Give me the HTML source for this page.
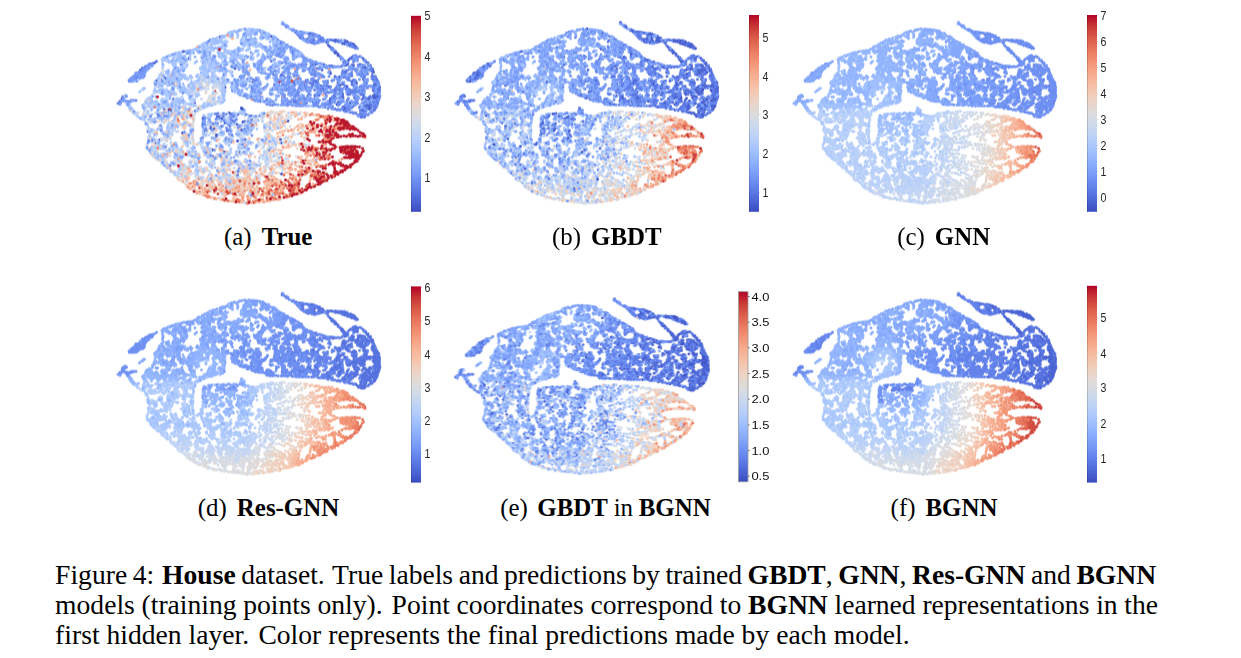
<!DOCTYPE html>
<html><head><meta charset="utf-8"><title>Figure 4</title>
<style>
html,body{margin:0;padding:0;background:#fff;}
body{width:1241px;height:658px;position:relative;overflow:hidden;font-family:"Liberation Serif",serif;color:#000;}
svg{position:absolute;left:0;top:0;}
.tk{font-family:"Liberation Sans",sans-serif;font-size:13.6px;fill:#262626;}
.tk2{font-family:"Liberation Sans",sans-serif;font-size:11.8px;fill:#111;}
.sc{position:absolute;white-space:nowrap;font-size:24.9px;line-height:30px;}
.sc b{font-weight:bold;}
.sc i{display:inline-block;width:3.8px;}
.cap u{display:inline-block;width:2.3px;text-decoration:none;}
.cap{position:absolute;left:55.1px;white-space:nowrap;font-size:27.6px;line-height:30px;}
</style></head><body>
<svg width="1241" height="658" viewBox="0 0 1241 658">
<g fill="none" stroke-linecap="round" style="filter:blur(0.4px)">
<g transform="translate(100.00 10.00) scale(0.50000)" stroke-width="5.9">
<path stroke="#c73635" d="M411 145h0m-181 18h0m-75 56h0m326 4h0m17 13h0m-29-3h0m-54 4h0m45 18h0m24 19h0m-81 5h0m54 19h0m2-9h0m-94 18h0m0-6h0m76 12h0m28 20h0m-31-2h0m-16 1h0m26 8h0m-44 18h0m-21-2h0m-1-7h0m-130 7h0m4 11h0m69-5h0m7 5h0m22 1h0m27-2h0m25-3h0m-62 11h0m-10 2h0"/>
<path stroke="#cedaeb" d="M224 61h0m-7 6h0m135 8h0m-127 19h0m294 25h0m-314 3h0m25 8h0m100-10h0m188 2h0m-53 16h0m-178 2h0m-50 2h0m-25-4h0m-3-2h0m-4 7h0m-3-3h0m-9 9h0m1-4h0m2 6h0m1-4h0m17 4h0m6-6h0m5 10h0m1-10h0m2 4h0m4 6h0m298 3h0m-314 0h0m-4 5h0m-16-7h0m-3 7h0m-4 0h0m-3-7h0m-64 11h0m-40-6h0m55 17h0m81-2h0m2-4h0m10 2h0m12 1h0m208-4h0m-222 13h0m-3 0h0m-13 5h0m-43 1h0m-58-3h0m-21 0h0m31 6h0m8 8h0m2-5h0m13 3h0m2-2h0m18-4h0m3 0h0m27 6h0m132 12h0m-5-2h0m-6 3h0m-131-3h0m-16 4h0m-6-4h0m-21-1h0m-47-3h0m-6 1h0m3 18h0m28-5h0m9 7h0m17 0h0m6 0h0m1-7h0m7 8h0m165-8h0m45 13h0m-81 0h0m-5 2h0m-5-4h0m-44 7h0m-3-1h0m-45-3h0m-16 0h0m-26 1h0m-20 0h0m-29 4h0m10 7h0m26 6h0m7-1h0m90-3h0m30-1h0m24 0h0m8 4h0m11-2h0m1-4h0m78 18h0m-12-4h0m-140-3h0m-23 8h0m-34-8h0m-2 3h0m-29-3h0m-43-1h0m48 15h0m4 5h0m47-5h0m22 0h0m21-2h0m39 1h0m10 3h0m29 1h0m11-1h0m10 2h0m14-1h0m2-7h0m23 1h0m-24 20h0m-18-6h0m-34 5h0m-24-3h0m-68 5h0m-23-3h0m-4 1h0m-19-9h0m-3 9h0m-3-4h0m-4-1h0m-20 1h0m-9-3h0m-22 5h0m5 6h0m21 5h0m28 0h0m1-4h0m40-2h0m52 7h0m30-7h0m51 8h0m11-7h0m15 0h0m29 15h0m-31 0h0m-18-3h0m-57 2h0m-10 5h0m-15-3h0m-8-4h0m-20 8h0m-29-3h0m-3-3h0m-25 6h0m-11-3h0m-25-2h0m-3 1h0m-3 3h0m5 6h0m9 5h0m32-4h0m1 3h0m25-2h0m5 2h0m8 4h0m4-1h0m3 2h0m49-7h0m14-2h0m10 0h0m18 8h0m19-3h0m2-2h0m-8 13h0m-20-3h0m-33 2h0m-13 2h0m-23 2h0m-12 2h0m-14-11h0m-14 3h0m-48-1h0m83 13h0m10 2h0m5 4h0m21-1h0m23-8h0m17 10h0m14-7h0m23 2h0m-56 7h0m-38 6h0m-7-6h0m-15 3h0m53 16h0m20-3h0"/>
<path stroke="#f5a081" d="M195 74h0m99 32h0m164 13h0m-26 0h0m-284 29h0m264 62h0m-55-1h0m-112 1h0m-115-6h0m314 24h0m-5 3h0m-62 11h0m33 2h0m15-1h0m21 7h0m3-10h0m9 18h0m-166 13h0m216 14h0m-58-4h0m-12 4h0m-14-2h0m-63 4h0m-14-5h0m-57 5h0m-37-3h0m-142 11h0m300-7h0m42 7h0m0-5h0m-70 19h0m-23-3h0m-4 1h0m-217 9h0m38 1h0m152 6h0m48-6h0m14 2h0m30 0h0m21 12h0m-129-5h0m-66 2h0m-84 0h0m108 18h0m5-7h0m36 0h0m3 7h0m21-2h0m17 2h0m8-4h0m51 15h0m-16 1h0m-4 1h0m-33-9h0m-4 1h0m-15 2h0m-2 6h0m-4-7h0m-6 4h0m-22-5h0m-3 4h0m-76 4h0m-9 0h0m-8-2h0m-3 13h0m7-9h0m46-1h0m20 10h0m22-5h0m20 6h0m6-5h0m8-4h0m8 0h0m2 3h0m15 0h0m7 3h0m-11 11h0m-136-4h0m-5 0h0m112 9h0"/>
<path stroke="#5572df" d="M373 34h0m24 13h0m-6-2h0m29 9h0m89 17h0m-12-1h0m-1-4h0m-23-5h0m-20 4h0m-12-4h0m-15 3h0m74 8h0m7 2h0m3 0h0m-34 14h0m-3-2h0m-360 17h0m264 4h0m112-5h0m12-5h0m8 4h0m23 3h0m9 7h0m-8 5h0m-6 0h0m-23-6h0m-14 1h0m-7 2h0m-19-1h0m-29 5h0m-84-4h0m-266 3h0m-4 4h0m3 2h0m265 9h0m137-10h0m17 8h0m11-8h0m10 3h0m21 6h0m9 11h0m-1-3h0m-45 2h0m-2 1h0m-9-5h0m-64 6h0m-4 0h0m-40-9h0m-302 1h0m-7 2h0m-6 6h0m275 7h0m19 3h0m41-1h0m11-5h0m6 0h0m0 4h0m7 5h0m0-6h0m20 3h0m2-6h0m2 9h0m4-1h0m16-4h0m13 2h0m14-3h0m9-2h0m24 8h0m14-8h0m1 4h0m7 6h0m0 4h0m-4-2h0m-7 4h0m-2-3h0m-20-3h0m-14 1h0m-3 6h0m-5 1h0m-32-3h0m-3-2h0m-22 1h0m-18-1h0m-54-2h0m-328 15h0m421-2h0m3 2h0m38 3h0m15 3h0m3-3h0m4 2h0m7-3h0m3-2h0m6-2h0m4 1h0m3 1h0m3 2h0m-6 15h0m-4-5h0m-13 4h0m-10-2h0m-24-2h0m-41-3h0m-5 7h0m-64-7h0m-3-2h0m-12 8h0m-42-7h0m-267 0h0m92 16h0m298 0h0m14 1h0m18-1h0m2-3h0m2 9h0m8-9h0m5 0h0m14 1h0m8 8h0m5-2h0m16 0h0m4-6h0m-22 13h0m-9-1h0m-5 3h0m-5-4h0m-6-1h0m-229 4h0m-11 6h0m-4-7h0m-14 5h0m-12 0h0m-2-5h0m-96 5h0m-3 0h0m-17-3h0m-2-3h0m91 11h0m0 9h0m3-7h0m25-4h0m11 2h0m45 20h0m-30-6h0m-39 5h0m-125 6h0m161-2h0m-24 13h0m105 26h0m-112 13h0m-4 45h0"/>
<path stroke="#ead5c9" d="M220 71h0m24 72h0m-25-2h0m-66 3h0m59 22h0m10 15h0m-41 15h0m161 7h0m72 3h0m-4 8h0m-6-1h0m-3-8h0m-41-1h0m-10 4h0m-8 7h0m-5-1h0m-187-4h0m-24-1h0m-30 2h0m-10-2h0m25 12h0m6 2h0m36 0h0m16-3h0m169 5h0m11 1h0m7-10h0m2 10h0m3-3h0m36 7h0m-7 5h0m-17 4h0m-13-2h0m-8-3h0m-51-3h0m-82-1h0m-53 6h0m-39 9h0m213-5h0m37 13h0m-59 4h0m-55-3h0m-87 8h0m-2-6h0m-32-4h0m-40 7h0m7 9h0m3 1h0m74-5h0m1 3h0m107 0h0m77 0h0m11 6h0m54 8h0m-42-4h0m-51 2h0m-121-2h0m-79 5h0m-31 7h0m18 9h0m37-6h0m9-4h0m33 2h0m41 9h0m21-8h0m50-1h0m31 1h0m38 19h0m-12-1h0m-37-6h0m-30 4h0m-61-2h0m-7 2h0m-91-2h0m-21-3h0m10 12h0m18 1h0m5-1h0m49 1h0m40 4h0m3 1h0m33-4h0m7-1h0m13 3h0m65-4h0m78 10h0m-114 4h0m0 4h0m-18-4h0m-1 7h0m-47-3h0m-20-6h0m-50 8h0m-5 0h0m-30-9h0m-13 8h0m50 13h0m2-6h0m21 2h0m9-5h0m24-1h0m14 7h0m6-5h0m30 4h0m75 3h0m-99 13h0m-13-9h0m-6 7h0m-43-8h0m-19 5h0m-33-4h0m30 18h0m38-5h0m10-1h0m7 1h0m31 2h0m10 7h0m80-5h0m-16 10h0m-64-2h0m-3 9h0m-36-1h0m-10-9h0m-8 4h0m46 8h0"/>
<path stroke="#3f53c6" d="M420 47h0m-180 7h0m63 4h0m40-5h0m58 3h0m15 2h0m26-2h0m65 13h0m-3-1h0m-10-5h0m-9 4h0m-55 0h0m-2-7h0m-218 22h0m115-7h0m57 0h0m83 2h0m4 6h0m35 12h0m-28-4h0m-6-5h0m-85 0h0m-28 5h0m-205 10h0m26-4h0m165 5h0m144 2h0m49 2h0m-6 9h0m-19 4h0m-4-8h0m-14-1h0m-46-1h0m-22 1h0m-155 7h0m-191 11h0m276-6h0m8 8h0m98-3h0m31-3h0m55 1h0m0 8h0m-1 6h0m-17-7h0m-50 2h0m-100 0h0m-12 6h0m-132-3h0m-104 0h0m-7 3h0m-11 2h0m24 3h0m8 2h0m105 8h0m54-1h0m2-9h0m129-1h0m51 4h0m26-4h0m43 23h0m-227-10h0m-203 5h0m-81 16h0m364 0h0m53 0h0m24-10h0m11 1h0m26 0h0m13 9h0m12-3h0m3-6h0m1 8h0m5-6h0m-27 20h0m-17-6h0m-12 3h0m-24-3h0m-2 4h0m-42-5h0m-243 2h0m-149-3h0m97 17h0m7-8h0m54 5h0m85 2h0m0-3h0m3 3h0m165-5h0m74 6h0m16-4h0m-19 18h0m-220-2h0m-34 1h0m-10-7h0m-19 7h0m3 3h0m22 5h0m4 4h0m18-1h0m90-2h0m-133 11h0m-15 5h0m-6-5h0m-100 7h0m43 6h0m44-3h0m24 7h0m128 9h0m-86 3h0m-156-2h0m-14 1h0m6 4h0m20 9h0m149 11h0m-32-1h0m-22-4h0m137 48h0m-88 2h0"/>
<path stroke="#93b5fe" d="M364 28h0m-43 16h0m-11-1h0m-7-4h0m-1 4h0m-2 4h0m-18-7h0m-3 0h0m-7 4h0m-46 14h0m5 0h0m60-8h0m1 4h0m29 1h0m2-7h0m1 4h0m3-4h0m4 7h0m3-1h0m3-1h0m10 0h0m28 17h0m-10-1h0m-4 2h0m-2-9h0m-1 5h0m-2 2h0m-3-6h0m0 7h0m-3-1h0m-10-5h0m-18 5h0m-5 1h0m-7 0h0m-1-2h0m-12-4h0m-5-1h0m-2 5h0m-3-8h0m-40 7h0m-3-3h0m-13-3h0m-1 7h0m-4-2h0m-12 4h0m-9-1h0m-34 14h0m4-1h0m3 0h0m30-9h0m15 4h0m5 1h0m3-2h0m4 1h0m3-2h0m11 2h0m1 4h0m13 2h0m17-5h0m36 4h0m9-10h0m6 9h0m2-3h0m7-5h0m10 9h0m3-2h0m1-3h0m0 5h0m3-3h0m9 0h0m0-3h0m2-2h0m4 0h0m15 7h0m3 0h0m10 12h0m-4-1h0m0-4h0m-6 4h0m-33-7h0m-16 0h0m-2 7h0m-2-3h0m-2-3h0m-8 6h0m-1-3h0m-2 5h0m-7-5h0m-14 6h0m-14-1h0m-13-8h0m-2 5h0m-11-1h0m0-4h0m-3 1h0m-4-1h0m-9 8h0m-8-10h0m-19 0h0m-1 9h0m-1-2h0m-5 0h0m-6-4h0m-5-2h0m-12 9h0m-26-10h0m-6 1h0m-9 5h0m-6 0h0m-14 10h0m9 2h0m10-1h0m4-4h0m8-1h0m3 1h0m5 2h0m3 7h0m22-3h0m16 4h0m4-9h0m2 3h0m8 4h0m5-9h0m1 4h0m2 2h0m19 4h0m4-1h0m9-5h0m8-4h0m2 5h0m45 1h0m1 5h0m7-11h0m14 2h0m6 4h0m14 5h0m26-11h0m52 11h0m-58 1h0m-5 1h0m-3 0h0m-14 9h0m-1-9h0m-9 9h0m-8 1h0m-1-3h0m-17-3h0m-7-5h0m-5 6h0m-18 5h0m0-9h0m-5-2h0m-7 1h0m-5 4h0m-10 2h0m-16-4h0m-2 8h0m-3-3h0m-11 0h0m-8 3h0m-24-3h0m-32 2h0m-5-7h0m-8 5h0m-4-2h0m-7-6h0m-45 4h0m-3 1h0m-21 15h0m46 1h0m15-8h0m8 5h0m1-3h0m6 2h0m3 0h0m47 1h0m8 5h0m2-3h0m16-8h0m16 2h0m8 2h0m3-2h0m9 2h0m27 4h0m7-2h0m19-2h0m7 3h0m1-3h0m33 0h0m17 0h0m51 3h0m1 4h0m97-11h0m-125 16h0m-7-1h0m-5 8h0m-5-7h0m-1 3h0m-31 2h0m0-7h0m-18 1h0m-19 4h0m-16-2h0m-9-1h0m-35 3h0m-5 2h0m-10-2h0m-14-2h0m-43-5h0m-6 7h0m-5-2h0m-6-3h0m-6 8h0m-1-9h0m-1 10h0m-78-5h0m-4 0h0m-5-2h0m41 8h0m6 9h0m1-9h0m0 5h0m2 3h0m29-8h0m0 11h0m7-3h0m4-7h0m24-1h0m6 11h0m50-9h0m17-2h0m7 11h0m3-6h0m1-4h0m7 8h0m17-8h0m12 6h0m15 2h0m16-1h0m25 1h0m4 0h0m28-4h0m7 2h0m5-3h0m13-2h0m14 2h0m16 5h0m47 10h0m-39-1h0m-49-5h0m-13 6h0m0 3h0m-23-5h0m-4 3h0m-3-1h0m-5 2h0m-30-5h0m-9-4h0m-1 10h0m-2-10h0m-3 6h0m-18-4h0m-2-1h0m-8 3h0m-2 6h0m-4-6h0m-3 3h0m-10-4h0m-95 5h0m-48-4h0m-4 1h0m-4 3h0m-65 11h0m63-1h0m28 3h0m2-7h0m24 9h0m18-7h0m8 0h0m105-1h0m3 0h0m3-2h0m8 10h0m4-9h0m37 1h0m1 4h0m11-3h0m17-4h0m15 8h0m5-4h0m2 3h0m1-5h0m12 8h0m8 1h0m6-10h0m1 10h0m29 12h0m-52 0h0m-4-8h0m-66 1h0m-3 0h0m-15-4h0m-84 3h0m-6 5h0m-61-4h0m-7 0h0m-3 3h0m-3-4h0m-11 2h0m-2 2h0m-9-5h0m-2 4h0m-1-5h0m-17 8h0m-4-5h0m-56 2h0m-6-4h0m-10 4h0m21 9h0m1 3h0m2 2h0m24-6h0m10 9h0m1-10h0m6 7h0m0-4h0m41-1h0m273-3h0m107 4h0m11 3h0m-209 15h0m-20 1h0m-19-10h0m-7 1h0m-8 7h0m-52-4h0m-83 0h0m0-3h0m-10 0h0m-3 0h0m-56 1h0m32 12h0m3 2h0m5 4h0m1-7h0m101 5h0m5-7h0m4 1h0m23 6h0m69 3h0m45 10h0m-16 0h0m-38-1h0m-11-5h0m-79 1h0m-57 3h0m-6 3h0m-1-9h0m-4 9h0m-21 0h0m7 11h0m84-5h0m13-1h0m16 6h0m33 3h0m9-8h0m10-3h0m0 9h0m35 14h0m-41-5h0m-5 4h0m-166 2h0m56 0h0m1 8h0m38-6h0m2 9h0m41-10h0m24 5h0m-126 17h0m-4-1h0m-11-8h0m-30 9h0m-7-9h0m19 14h0m33-1h0m1 6h0m27-7h0m9 5h0m44-5h0m4-1h0m3-1h0m26 7h0m33-6h0m131 11h0m-129 7h0m-21 1h0m-7-5h0m-6 1h0m-20 5h0m-5 2h0m-54-3h0m-34-7h0m-13 4h0m49 15h0m38-5h0m17 4h0m40-6h0m-12 21h0"/>
<path stroke="#4a63d3" d="M410 46h0m-8 4h0m2 5h0m20-5h0m76 19h0m-9-5h0m-2 4h0m0-7h0m-2 4h0m-10-4h0m-6 2h0m0-3h0m-5 1h0m-6-1h0m-3 11h0m-2-7h0m-12-1h0m-276 20h0m293-9h0m11 9h0m41-9h0m8 19h0m-40 0h0m-371 13h0m374-7h0m13 3h0m2-3h0m28-2h0m19 21h0m-25-9h0m-24-1h0m-37 4h0m-28-3h0m13 11h0m45 3h0m55 0h0m2-2h0m-19 18h0m-57-6h0m-161 8h0m-241-1h0m318 6h0m24 8h0m32-2h0m15 1h0m19-8h0m3 7h0m2-2h0m13 3h0m10-9h0m45 5h0m10 5h0m-37 6h0m-3 2h0m-19 4h0m-8-10h0m-14 3h0m-37 0h0m-11 13h0m8-1h0m27 6h0m20-6h0m1 4h0m40-6h0m2 4h0m10 6h0m17 6h0m-4-1h0m-8 6h0m-3-1h0m0-5h0m-61 1h0m-18 2h0m0-3h0m-116 6h0m-24-7h0m-179 18h0m344-7h0m1 6h0m4-2h0m30 3h0m9 2h0m4-10h0m3-1h0m1 2h0m0 4h0m-9 16h0m-322 1h0m-89-2h0m132 13h0m40-3h0m-16 6h0m9 11h0m8 20h0m72 6h0m-60 105h0"/>
<path stroke="#b9d0f9" d="M407 47h0m-81-5h0m-41-3h0m-35 15h0m3-4h0m11 4h0m49 5h0m168 2h0m-168 2h0m-12-1h0m-8 8h0m-5-7h0m-33 0h0m-4-2h0m-53 11h0m6 4h0m17 4h0m6 2h0m20-6h0m2-3h0m19 8h0m18-1h0m10 0h0m0-3h0m12-5h0m29 12h0m-77 0h0m-10 0h0m-41 11h0m-85 4h0m1 7h0m21-7h0m12 5h0m13-1h0m32-1h0m3-5h0m5 8h0m8-1h0m6 0h0m39 0h0m6-1h0m4-7h0m12 0h0m7 1h0m192 4h0m-220 8h0m-31 10h0m-4-1h0m-17-1h0m-40-3h0m-48 3h0m-6 13h0m4-4h0m2 2h0m14 2h0m14-2h0m50 2h0m2-2h0m8 3h0m38 0h0m-17 11h0m-3-2h0m-3-4h0m-11 1h0m-14-3h0m-2 3h0m-2 6h0m-9 0h0m-32-6h0m-9 1h0m-1 3h0m-20 0h0m-2-3h0m-6-2h0m-2 5h0m0-7h0m-7 19h0m65 1h0m4 1h0m4-4h0m5-1h0m2-4h0m26-2h0m0 5h0m12-2h0m2-3h0m2 7h0m3-4h0m5 1h0m20-3h0m256 11h0m-164 4h0m-106-4h0m-7 2h0m-1-2h0m-10 10h0m-47-3h0m-4-3h0m-1-4h0m0 6h0m-11 1h0m-4-4h0m-11 7h0m-8-6h0m-8 6h0m-10-10h0m-6 0h0m-1 8h0m-6-3h0m-2-4h0m-1 10h0m-1-3h0m-23-4h0m8 19h0m38-1h0m18-8h0m3-1h0m7 8h0m4 1h0m1-5h0m14-2h0m4 5h0m4 3h0m55 0h0m5-6h0m3-5h0m37 1h0m-58 12h0m-39 1h0m-3 2h0m-1 6h0m-12-3h0m-28-5h0m-20 9h0m-2-2h0m-1-8h0m-14 6h0m-6 4h0m-2-9h0m-3 4h0m-2 4h0m-4-7h0m-3 6h0m1 13h0m2-6h0m9-1h0m6 0h0m6-3h0m5 6h0m7-4h0m24-2h0m6 1h0m38-1h0m89 10h0m96 4h0m-38 4h0m-84-3h0m-68 4h0m-12-4h0m-3 6h0m-39-4h0m-19-5h0m-18 3h0m-8 5h0m-13-5h0m-3-1h0m-1 3h0m14 10h0m4-3h0m43 2h0m160 7h0m7-9h0m11 7h0m15 0h0m32-3h0m-11 10h0m-8 3h0m-4-1h0m-31-4h0m-35 1h0m-38 1h0m-15 0h0m-53-1h0m-65 6h0m35 9h0m9 3h0m12-4h0m20 7h0m12-7h0m33 7h0m22-4h0m2-6h0m21 1h0m13-1h0m2 7h0m17-2h0m50-4h0m51 7h0m-24 7h0m-42-2h0m-68 5h0m-2-2h0m-4 6h0m-1-6h0m-88-1h0m-34 7h0m-21 0h0m-4-5h0m-7 6h0m-4-6h0m10 17h0m7-10h0m4 11h0m10-7h0m14-3h0m12 10h0m26-11h0m22 3h0m3-1h0m16-2h0m56 8h0m6-7h0m19 3h0m25 6h0m18-10h0m5 0h0m62 6h0m-120 15h0m-20 1h0m-10-1h0m-2-3h0m-42 1h0m-14-7h0m-39 6h0m-34-4h0m-11 0h0m-7 1h0m-7 2h0m1 12h0m3-1h0m3 6h0m10-10h0m29 9h0m8-7h0m3 9h0m13-8h0m19 2h0m5 2h0m16-3h0m3-4h0m2 8h0m25 2h0m36-9h0m84-1h0m-30 19h0m-4 2h0m-14-6h0m-44 4h0m-17-1h0m-28 1h0m-6-1h0m-26-5h0m-4 6h0m-31 1h0m-2-6h0m-25 6h0m-7-5h0m-4 5h0m-4-7h0m29 22h0m9-4h0m10-7h0m13 2h0m14 4h0m13-1h0m12-4h0m4 3h0m20-2h0m37 5h0m13-1h0m38-6h0m7 4h0m-28 17h0m-10-3h0m-83 0h0m-12 5h0m-10-4h0m-17-6h0m-16 8h0m-4-6h0m-2 7h0m-2-10h0m0 5h0m89 10h0m58 12h0m-27 4h0m-12 11h0m36 2h0m-8 18h0"/>
<path stroke="#f29274" d="M256 51h0m-113 81h0m0 35h0m161 12h0m16-8h0m82 15h0m62 27h0m-13 0h0m-13-3h0m-5 0h0m-13 0h0m-49 14h0m78-7h0m5-1h0m1 7h0m13-6h0m4 22h0m-41-3h0m-5-3h0m-60 17h0m17-10h0m18 6h0m54 15h0m-3-3h0m-3-2h0m-77 7h0m-56-4h0m-82 2h0m132 13h0m85-5h0m-34 17h0m-4-10h0m-34 16h0m18 3h0m87 3h0m-47 13h0m-4-6h0m-42 0h0m-106 16h0m57-2h0m39-4h0m18-2h0m31 16h0m-20 0h0m-13-5h0m-231 19h0m57-2h0m2 4h0m42 2h0m47-11h0m15 8h0m4-4h0m20-1h0m27-3h0m8 0h0m-123 23h0m-20-7h0m-7-2h0m-53 4h0m9 12h0m35-1h0m14-2h0m2-3h0m7 8h0m26-6h0m11 0h0m45 7h0m2-3h0m7 5h0m6-5h0m1-6h0m6 5h0m10-1h0m6 6h0m12-5h0m8 1h0m10-5h0m-55 19h0m-13 2h0m-38-3h0m-1-6h0m-20 9h0m35 3h0"/>
<path stroke="#f5c4ac" d="M218 113h0m-64 36h0m-91 53h0m86 1h0m17-7h0m14 4h0m210 13h0m-41 1h0m-169-8h0m-1 3h0m-5 2h0m-52-3h0m53 18h0m173-6h0m4-2h0m18 2h0m104 12h0m-9 3h0m-17-6h0m-27 4h0m-81-5h0m-113 5h0m-57 3h0m-32 3h0m-3 5h0m31 7h0m3 0h0m63-10h0m137 1h0m36 5h0m26-7h0m-22 16h0m-6-3h0m-68 7h0m-36-3h0m-114-3h0m-16 7h0m-46 11h0m164-5h0m90 8h0m14-5h0m56 0h0m-3 11h0m-82 0h0m-5-1h0m-15 4h0m-126 2h0m-1-6h0m-62 4h0m-55-7h0m5 12h0m127 5h0m13 0h0m0 4h0m7-10h0m123 3h0m30 3h0m18 7h0m-8 7h0m-36-5h0m-6 4h0m-3 4h0m-89 0h0m-117-7h0m-7 5h0m-21 3h0m43 11h0m75 0h0m8-3h0m19 3h0m17-2h0m25-4h0m27 2h0m17-3h0m5 2h0m30 2h0m-24 6h0m-5-1h0m-82 4h0m-73 5h0m-10-8h0m-31 1h0m-19 11h0m11-2h0m9 3h0m1 8h0m1-11h0m34 5h0m2 2h0m37-6h0m6 10h0m6-10h0m8 3h0m6 3h0m2 3h0m12-8h0m2 5h0m18 4h0m28-3h0m48-3h0m66-4h0m-60 19h0m-48-8h0m-3 2h0m-8-2h0m-2 7h0m-2-7h0m-46 3h0m-27 1h0m-27-1h0m-1 6h0m-7-4h0m-4-3h0m-29 7h0m-12-5h0m-3 1h0m47 7h0m67 8h0m43-5h0m-5 9h0m-56 10h0m-2-8h0m-5 8h0m-21-2h0m-14-2h0m-3-3h0"/>
<path stroke="#d8dce2" d="M429 55h0m-303 67h0m169 8h0m139-8h0m115 7h0m-435 22h0m80 3h0m4-1h0m6-6h0m7 7h0m5-1h0m12 2h0m2-3h0m6 1h0m5 9h0m-7 4h0m-7-6h0m-178 11h0m56-2h0m85-1h0m31 9h0m6-3h0m4-6h0m2 16h0m-2-3h0m-5 7h0m-7-4h0m-3-4h0m-121 2h0m-2 18h0m54 0h0m50 1h0m4-5h0m186 13h0m-34-4h0m-10 2h0m-9-1h0m-122 7h0m-22-3h0m0-3h0m-3 7h0m-3 0h0m-3 1h0m-11-4h0m-5-4h0m-9 6h0m-16 2h0m-63-10h0m17 20h0m38-2h0m16 1h0m6 3h0m19-5h0m0-3h0m13 7h0m117-9h0m79 0h0m-2 16h0m-19-4h0m-28 8h0m-4 2h0m-60-4h0m-53 3h0m-68-4h0m-12-5h0m-18 5h0m-20 6h0m4 5h0m7 1h0m96 4h0m17-4h0m40 2h0m13-4h0m55 0h0m7 3h0m3 2h0m49 0h0m16-9h0m51 5h0m-44 7h0m-36 6h0m-79 2h0m-3 2h0m-56-4h0m-3-1h0m-28-5h0m-20 8h0m-8 0h0m-17-4h0m-31 4h0m90 8h0m17 4h0m21-4h0m62 1h0m13-2h0m2-3h0m5 5h0m77 0h0m70 10h0m-164-2h0m-80 8h0m-55 1h0m-52-1h0m-9 1h0m-14-1h0m-7-1h0m23 8h0m8-3h0m2 3h0m27-4h0m58 9h0m7-6h0m22 7h0m45-3h0m31-4h0m11 8h0m3-4h0m11 1h0m38-3h0m31 11h0m-53-1h0m-27 8h0m-39-6h0m-78-1h0m-6-4h0m-33 0h0m-7 9h0m-3-4h0m-30 6h0m-26-8h0m42 18h0m6-4h0m26-2h0m5-1h0m27-1h0m12 10h0m3-4h0m9-6h0m20 10h0m4-3h0m27 1h0m6-7h0m17 9h0m20 0h0m7-8h0m-11 14h0m-48 0h0m-25-4h0m-13 9h0m-37 0h0m-28-1h0m-1-6h0m-6 0h0m-2 2h0m-4 0h0m-11 3h0m0-3h0m-4 12h0m29-1h0m17 5h0m17-6h0m20-2h0m5 9h0m17-9h0m7 9h0m8-10h0m19 11h0m0-6h0m-38 8h0m-44 8h0m-34 2h0m35 4h0m11 0h0m52 0h0m29 0h0m4-3h0m-9 15h0m-70 1h0"/>
<path stroke="#dd5f4b" d="M396 138h0m-287 56h0m348 18h0m27 17h0m-68 22h0m5-10h0m48 5h0m-34 31h0m-302 12h0m313-1h0m6 22h0m-41-9h0m22 13h0m16 0h0m20-2h0m7 13h0m-8 2h0m-19 1h0m-19-4h0m-3 9h0m-13-7h0m-226 20h0m110 1h0m40-8h0m38 3h0m2 3h0m15 2h0m4-3h0m3-4h0m51 2h0m-54 12h0m-2-3h0m-7 7h0m-8-2h0m-8-4h0m-7-3h0m-115 16h0m9 0h0m66 4h0m17-9h0m8 9h0m15-2h0m21-6h0m1 3h0m-13 8h0m-75 10h0m-50-1h0"/>
<path stroke="#e1dad6" d="M399 112h0m-184-4h0m46 13h0m277 4h0m-329 14h0m-4-2h0m-3 6h0m1 9h0m3 1h0m8-5h0m33 3h0m42-3h0m251 8h0m-336 3h0m-10-2h0m30 18h0m1-5h0m4 0h0m164 7h0m-178 7h0m-82 17h0m31 2h0m205 0h0m24 2h0m-11 6h0m-36-7h0m-17 9h0m-7 1h0m-32-2h0m-106-8h0m-47 17h0m6 2h0m25 1h0m19-2h0m37 3h0m76-2h0m15-5h0m19 9h0m11-4h0m64 12h0m-51-4h0m-64-3h0m-109 2h0m-3 2h0m-31-2h0m-10-1h0m3 16h0m30 2h0m38-1h0m18-2h0m105-3h0m50 9h0m24 11h0m-49-7h0m-5 7h0m-3-3h0m-18-4h0m-12 5h0m-3 1h0m-64-1h0m-129 1h0m-4-3h0m-28 13h0m48-1h0m25-5h0m2 4h0m41 6h0m127-5h0m9-1h0m37-2h0m60 19h0m-77-6h0m-18 8h0m-11 0h0m-1-10h0m-2 7h0m-58 3h0m-38-10h0m-7 1h0m-71 4h0m-4 2h0m-10-1h0m-31-1h0m-11 4h0m15 11h0m66-8h0m69 2h0m80-1h0m63 14h0m-40-4h0m-12 3h0m-23 5h0m-14-3h0m-16-3h0m-29 1h0m-9-2h0m-41 1h0m-63-1h0m21 20h0m63-4h0m14-3h0m34 9h0m18-1h0m36-9h0m19-1h0m5 3h0m44 18h0m-46-7h0m-11 7h0m-50-8h0m-17 1h0m-7 1h0m-12 7h0m-15-9h0m-10 6h0m-9 4h0m-24-11h0m-9 11h0m-23-10h0m0 5h0m-8 6h0m6 10h0m58 1h0m14-9h0m42 2h0m12-2h0m13 0h0m8 11h0m-110 0h0m-5-1h0m7 13h0m135 7h0m-76 12h0m49 5h0"/>
<path stroke="#ed8366" d="M124 132h0m73 27h0m-20 42h0m247 7h0m-267 14h0m9-5h0m266 3h0m4-1h0m33 2h0m5-5h0m3 7h0m24 10h0m-11 4h0m-4-4h0m-34 1h0m-3 2h0m-16 15h0m28-10h0m17-1h0m52 15h0m-62 1h0m-320 13h0m351 10h0m-69-3h0m-3 4h0m-14 4h0m14 4h0m2 5h0m10 1h0m21 2h0m-57 9h0m-204-1h0m206 17h0m7-5h0m6 6h0m48 9h0m-64-7h0m-16 7h0m-205 16h0m7-4h0m6 2h0m4-7h0m62 9h0m132-8h0m1 5h0m52-7h0m-20 17h0m-136-3h0m-11 2h0m-6 4h0m-95-2h0m22 9h0m12 7h0m7-8h0m88 1h0m46 2h0m1-5h0m6 7h0m38-3h0m-48 11h0m-11 2h0m-24 3h0m-3-6h0m0 7h0m-26-6h0m-5 5h0m-7-2h0m-43-2h0m-13-5h0m-3 1h0m81 14h0"/>
<path stroke="#e67259" d="M236 115h0m210 98h0m-111-2h0m142 22h0m-9 5h0m-55-6h0m4 13h0m33 3h0m46 3h0m-71 21h0m85 8h0m-395-4h0m248 19h0m58-4h0m19 8h0m5-1h0m12-5h0m-53 21h0m10 6h0m23 15h0m-4-4h0m-8-2h0m-24 1h0m-33 0h0m-38 3h0m-40 13h0m55-6h0m39-2h0m44 0h0m22-2h0m-19 14h0m-16 0h0m-26 4h0m-14 3h0m-8 0h0m-10 1h0m-5-7h0m-2-3h0m-159 1h0m75 19h0m9-5h0m26-2h0m16 3h0m61 9h0m-26 5h0m-7-1h0m-24 2h0m-13-7h0m-32 7h0m-20 3h0m-10-3h0m32 5h0"/>
<path stroke="#f7ad90" d="M265 57h0m125 61h0m-102 3h0m-188 58h0m266-5h0m80-4h0m-53 40h0m-27 17h0m37-9h0m36-2h0m41 16h0m-7 3h0m-67-4h0m-11 2h0m-243 0h0m277 12h0m-52 26h0m-133 9h0m-4 0h0m-74 5h0m-8 12h0m140-5h0m104 7h0m33-2h0m43 8h0m0-4h0m-49 8h0m-8 0h0m-4-3h0m-58 4h0m-102 1h0m-35-1h0m-57 0h0m16 12h0m139-2h0m101 5h0m-21 9h0m-57-1h0m-20-6h0m-35-3h0m-50 2h0m3 19h0m27-3h0m23-1h0m9-3h0m6 4h0m10 1h0m27 2h0m5-1h0m41 1h0m31-3h0m-53 11h0m-6 6h0m-27-1h0m-9 0h0m-35-3h0m-12 3h0m-3-6h0m-5 2h0m-89 4h0m29 6h0m1-3h0m42-1h0m20 11h0m11 0h0m10-11h0m16 0h0m5 8h0m48-6h0m-24 20h0m-2-7h0m-11 4h0m-1 4h0m-18-1h0m-8-4h0m-12 3h0m0-8h0m32 11h0"/>
<path stroke="#f0cdbb" d="M390 137h0m-221 62h0m4 4h0m26-10h0m165 10h0m65 8h0m-56 0h0m-8 4h0m-2-7h0m-25-2h0m-179 4h0m-11-3h0m-18 14h0m39-5h0m9 11h0m129-6h0m34-2h0m21-1h0m63 5h0m40-3h0m-63 8h0m-3 8h0m-11 3h0m-37-1h0m-1-8h0m-3 4h0m-165-5h0m-11 1h0m-5 3h0m-7-3h0m27 15h0m200-1h0m49-1h0m-96 13h0m-204 2h0m-35-3h0m5 17h0m3-8h0m57 9h0m28-4h0m165-3h0m28 4h0m14 2h0m74 2h0m-18 12h0m-35 1h0m-69-8h0m-140-2h0m-39 9h0m-38 6h0m100 2h0m66-2h0m9 2h0m30 0h0m76 7h0m-128 3h0m-44 0h0m-60-1h0m-68-3h0m50 18h0m34 2h0m13-1h0m24-2h0m46 0h0m5 4h0m6-9h0m9 3h0m25-1h0m3 7h0m63-9h0m29 3h0m-31 18h0m-51-8h0m-43 3h0m-32 6h0m-13 0h0m-6-2h0m-72 0h0m-15 9h0m43 1h0m2 1h0m9-5h0m7 9h0m14-6h0m2 4h0m17-1h0m29 0h0m11 3h0m3-4h0m60-2h0m2 4h0m-42 11h0m-4 2h0m-16-1h0m-4-4h0m-1 4h0m-6-3h0m-4 3h0m0-9h0m-1 2h0m-11 0h0m-6 4h0m-4-3h0m-4 5h0m-10 1h0m-4-3h0m-14 0h0m-26-2h0m-22 2h0m14 8h0m5 6h0m9-1h0m37 3h0m4-2h0m24-7h0m25-1h0m12 6h0m3 5h0m17-1h0m38 2h0m-24 9h0m-42-6h0m-52 1h0"/>
<path stroke="#6282ea" d="M367 28h0m57 19h0m-8 0h0m-13-3h0m-4 0h0m-7-2h0m-7-1h0m10 8h0m3 3h0m15 7h0m5-9h0m8 7h0m10-5h0m2 6h0m1-6h0m6 4h0m58 15h0m-2-5h0m-18-5h0m-4 3h0m-4-1h0m-12-3h0m-8 0h0m-8 3h0m-3-3h0m-6 2h0m-2 0h0m-3 4h0m-4-4h0m-1 5h0m-4-1h0m-2-3h0m-2 1h0m-1-3h0m-47 9h0m-10-3h0m-145-4h0m141 13h0m26 5h0m79-5h0m0 3h0m43-7h0m5 5h0m0 14h0m-4 1h0m-149-4h0m-154 7h0m-99 12h0m259-1h0m46-9h0m80 7h0m15-6h0m2 6h0m21-3h0m14 15h0m-5-5h0m-12-1h0m-2 5h0m-18 4h0m-14-11h0m-79 1h0m-18 6h0m-26-1h0m-206-5h0m-63-1h0m-8 5h0m-10 12h0m6 5h0m161-1h0m98-1h0m26-8h0m37 1h0m14 8h0m6-1h0m0-4h0m9 6h0m4 1h0m42-2h0m1-4h0m3 1h0m2 3h0m3-8h0m10 4h0m22 2h0m7-3h0m3 4h0m4-8h0m4 0h0m13 23h0m-5-10h0m0 6h0m-2 2h0m-5-4h0m0-4h0m-15 4h0m0 5h0m-3-8h0m-3-1h0m-19-1h0m-8 8h0m-5-5h0m-4-2h0m-1 2h0m-14 0h0m-8 7h0m-20-8h0m-13-2h0m-5 8h0m-14 1h0m-22 2h0m-23-11h0m-29 0h0m-26 10h0m-17-3h0m-15-5h0m-198 0h0m-8 1h0m0-3h0m-10 6h0m-2-1h0m-4 4h0m300 10h0m10-3h0m6 0h0m15-1h0m29 8h0m5-7h0m1 5h0m7-8h0m43 9h0m33-3h0m6 3h0m7 0h0m3-2h0m2 2h0m6-10h0m2 3h0m13 5h0m1 3h0m3-2h0m9 12h0m-5-1h0m-20-8h0m-9 6h0m-9 2h0m-3 0h0m-3-3h0m-3 5h0m-2-5h0m-4 2h0m-1-3h0m-3-2h0m-13 3h0m-4 5h0m-9-9h0m-2 9h0m-10-1h0m-3 0h0m-5 2h0m-4-10h0m-3-1h0m-7 0h0m-14 0h0m-5 11h0m-17-10h0m-5 5h0m-1 5h0m-12-1h0m-27-10h0m-10 1h0m-42 2h0m-157 1h0m0 18h0m173-3h0m45 2h0m24-3h0m1 5h0m9-3h0m12 1h0m5-6h0m18 0h0m13 8h0m6-7h0m11 7h0m4-3h0m9-1h0m0-6h0m4 6h0m1-2h0m15 4h0m3-8h0m53 0h0m2 10h0m4-3h0m-4 12h0m-1-6h0m-8-1h0m-8 1h0m-6 1h0m-17 4h0m-7 4h0m-13-11h0m-14 2h0m-23 5h0m-10 3h0m-17-2h0m-5-4h0m-13 2h0m-3-2h0m-1 4h0m-11 1h0m-4-6h0m-2 3h0m-4-1h0m-6 0h0m-2-2h0m-3 0h0m-32 0h0m-5 7h0m-10-6h0m-268-3h0m-17 0h0m-9 6h0m92 11h0m299-6h0m38 1h0m9 7h0m3-1h0m5 0h0m13-4h0m1 6h0m3-2h0m28-1h0m3-2h0m4 0h0m9-3h0m5 0h0m0 4h0m2 2h0m-6 6h0m-8 5h0m-8 0h0m-3 4h0m-1-5h0m-23-4h0m-173 2h0m-17 6h0m-12-1h0m-35-4h0m-17-1h0m-11 0h0m-1 20h0m68-7h0m-49 19h0m-28-11h0m-21 3h0m7 9h0m42 2h0m-3 18h0m-46-4h0m-108 6h0m166 2h0m-51 21h0m59 17h0m-131 9h0m136 12h0"/>
<path stroke="#86a9fc" d="M365 25h0m5 6h0m31 15h0m-4-2h0m-82-4h0m-1 4h0m-4 2h0m-2 1h0m-3-6h0m-28 1h0m-15 10h0m3-2h0m22 0h0m0 4h0m4 4h0m4-10h0m5 11h0m10-10h0m0 8h0m3-9h0m24 9h0m2-7h0m10 7h0m2-2h0m48-7h0m5 10h0m2-8h0m13 8h0m4-4h0m0 3h0m8 8h0m-23-4h0m-40 5h0m-3-1h0m-11 2h0m-6-2h0m-36 1h0m-4-2h0m-23 2h0m-51-2h0m-20 1h0m-33 16h0m18-6h0m71 7h0m6-3h0m1 3h0m0-6h0m3 6h0m32 0h0m18-5h0m3-2h0m1 8h0m7-7h0m1 7h0m7-4h0m6-7h0m19 4h0m1-3h0m6 6h0m4-3h0m4 2h0m133 16h0m-13 0h0m-105-5h0m-22-5h0m-19 4h0m-2 3h0m-7 1h0m0-7h0m-8 4h0m-17 5h0m-24-6h0m-2 4h0m-1-7h0m-10 7h0m-15-1h0m-8-5h0m-3-1h0m-39 7h0m-7-4h0m-3-4h0m-3 11h0m-27-9h0m-7 0h0m-10 9h0m-19-8h0m-7 15h0m12-4h0m50 8h0m18-5h0m1-4h0m7 10h0m29-4h0m8-5h0m7 8h0m9-6h0m17-2h0m14 7h0m7 0h0m0-6h0m3 4h0m32 1h0m3 0h0m8-4h0m0 5h0m4-5h0m33 4h0m4 1h0m13-4h0m89 0h0m10 11h0m-6 3h0m-1 3h0m-12-5h0m-4 5h0m-11-9h0m-36 2h0m-8-2h0m-15 4h0m0 3h0m-5-3h0m0 4h0m-2 2h0m-2-4h0m-12 1h0m-2-8h0m-1 8h0m-14-3h0m-13 2h0m0-3h0m-3 7h0m-6-2h0m-4-1h0m-10-3h0m-9-3h0m-2 7h0m-32-8h0m-4-1h0m-19 8h0m-11 3h0m0-4h0m-6-2h0m-24 3h0m-7 3h0m-11-4h0m-6-6h0m-3 2h0m-54-3h0m-41 2h0m-23 3h0m-12 4h0m-4 2h0m-17 10h0m5-3h0m9-1h0m10-5h0m41 4h0m11 5h0m2 2h0m11-9h0m4 8h0m53-8h0m23 0h0m47 2h0m7-2h0m5 8h0m19-9h0m8-1h0m2 6h0m16 0h0m26 0h0m20 1h0m3 2h0m2-8h0m25 1h0m16 8h0m5-2h0m73-4h0m16-2h0m2 18h0m-34-8h0m-4 0h0m-10 4h0m-6 6h0m-39-9h0m-39 7h0m-19 3h0m-2-3h0m-9-2h0m-6 1h0m-1-3h0m-28 2h0m-34 5h0m-15-9h0m-20-2h0m-18 2h0m-94 0h0m-68 2h0m39 15h0m6-4h0m9 3h0m1-3h0m19 3h0m19 0h0m25 5h0m69-4h0m10-2h0m1 3h0m2-8h0m3 1h0m12 6h0m9-6h0m6 4h0m1-5h0m5 5h0m14 0h0m17-2h0m1 7h0m0-10h0m2 6h0m0-4h0m1 8h0m2-6h0m6-2h0m3-2h0m4 4h0m2-3h0m6 3h0m3-3h0m12 2h0m10 7h0m1-4h0m2 5h0m105-4h0m46-5h0m-37 18h0m-58 1h0m-9-8h0m-45 1h0m-2 2h0m-19 5h0m-5-2h0m-18-7h0m-6 3h0m-3 2h0m-7-2h0m-8 2h0m-17-4h0m-4 3h0m0 3h0m-7 2h0m-1-9h0m-7 9h0m-3-1h0m-18-1h0m-6 0h0m-2 4h0m-6-11h0m-107 0h0m-26 7h0m-85 8h0m53 2h0m34 0h0m147-1h0m4-4h0m3 1h0m11 6h0m4-1h0m6 1h0m0 3h0m4-5h0m1-5h0m5 6h0m21-6h0m24 1h0m12 3h0m7 5h0m10-4h0m6 6h0m14-4h0m23-7h0m11 7h0m27-4h0m3 8h0m25-8h0m5-3h0m47 1h0m-51 15h0m-6 7h0m-24-10h0m-23 2h0m-2 3h0m-16-2h0m-8-1h0m-22-1h0m-6 0h0m-11 8h0m-18-6h0m-3 1h0m-2-2h0m-5 7h0m-6 0h0m-4-10h0m-11 0h0m-3 8h0m-172-5h0m-97-2h0m-10 10h0m-2-3h0m-14-5h0m21 15h0m24-1h0m28 4h0m39 1h0m3-9h0m20 5h0m111 3h0m123-9h0m29 2h0m76 19h0m-20-9h0m-178 8h0m-144 2h0m-53-1h0m-7 2h0m-24-1h0m-10 3h0m25 6h0m5 1h0m15-7h0m128 7h0m1 3h0m6-4h0m55-2h0m13 14h0m-83-3h0m-38 7h0m-2-4h0m-27-4h0m-70 19h0m4-2h0m11-5h0m3 5h0m8 2h0m46-9h0m92 7h0m6 2h0m20-10h0m4 0h0m37 23h0m-8-5h0m-46 2h0m-3-2h0m-18 3h0m-36-3h0m-5-2h0m-22 6h0m-67-9h0m-18 14h0m10 6h0m17 0h0m8-4h0m1 3h0m62-2h0m18 2h0m8 3h0m60-10h0m-72 16h0m-21 2h0m-19-7h0m-11 8h0m-62 8h0m9 2h0m4-5h0m22 0h0m10 5h0m4 0h0m97 2h0m12-6h0m-28 18h0m-117 3h0m57 2h0m114 4h0m-68 14h0"/>
<path stroke="#c4d5f3" d="M288 57h0m-73 25h0m3-4h0m131 9h0m-47 2h0m-50-1h0m-12 7h0m-23 0h0m-64-2h0m-3 1h0m0 4h0m22-1h0m159 19h0m-157-8h0m-5 2h0m-17 21h0m3 0h0m68-7h0m3-2h0m127-2h0m-50 20h0m-51 3h0m-5-6h0m-26-2h0m-1 3h0m-7 5h0m-4-1h0m-9-10h0m-18 6h0m-7-3h0m-14 1h0m-39-3h0m-2 9h0m15 5h0m45 0h0m3 7h0m3-9h0m5 8h0m9-3h0m12-4h0m15 7h0m5-6h0m6 4h0m4 3h0m1-3h0m26-3h0m37 1h0m-60 17h0m-2-9h0m0 3h0m-34-3h0m-4 0h0m-5 2h0m-4 5h0m-10 3h0m-2-4h0m-2 4h0m-3-6h0m-12-4h0m-20 6h0m-7-1h0m-9 4h0m4 8h0m15 5h0m30-10h0m22 9h0m36-5h0m9 2h0m35-4h0m192 2h0m46 16h0m-275-6h0m-6 4h0m-7 0h0m-11-1h0m-1 3h0m-8-3h0m-30-3h0m-11 7h0m-3-3h0m-15 0h0m-25 2h0m-24-1h0m-40 13h0m67-9h0m23 6h0m15 5h0m31-4h0m177 15h0m-18-1h0m-73-4h0m-45-1h0m-65 4h0m-24-8h0m-42 2h0m-11 3h0m-8 0h0m-26-3h0m34 18h0m3-7h0m0 8h0m38 1h0m9-4h0m38-3h0m29 2h0m37-4h0m2 4h0m54-4h0m3 4h0m42 2h0m19-5h0m-21 11h0m-44 0h0m-10 8h0m-1-8h0m-122 1h0m-37 3h0m-4 3h0m-29 3h0m4 3h0m2 9h0m31-11h0m3 3h0m2-3h0m8 3h0m13-1h0m14 6h0m2 2h0m40-5h0m16 5h0m42 0h0m51-2h0m14 8h0m-5-3h0m-57 2h0m-3-1h0m-4 0h0m-67-2h0m-27 6h0m-19 1h0m-26-1h0m-9-2h0m-3-2h0m-5 6h0m-8 0h0m0 11h0m18 0h0m39-1h0m9-3h0m17-1h0m5 6h0m49-4h0m30 6h0m24-8h0m9 3h0m3-4h0m27 9h0m22-9h0m-18 12h0m-44 10h0m-19 0h0m-3-2h0m-3-7h0m-23 7h0m-4 2h0m-31-2h0m-16-5h0m-25-4h0m-5 5h0m-18 6h0m-1-10h0m-8 1h0m-17 8h0m-25-9h0m57 11h0m23 6h0m73-5h0m1 10h0m15-6h0m50 5h0m2-10h0m4 0h0m39 9h0m5 0h0m-26 5h0m-18-2h0m-1 3h0m-26 6h0m-26-3h0m-17 4h0m-4-8h0m-33 0h0m-5 4h0m-29-2h0m-11-2h0m-20 7h0m-8 0h0m-4-6h0m11 19h0m3-9h0m6 9h0m3-9h0m7-1h0m80 4h0m49 7h0m6-10h0m52 8h0m-49 11h0m-38 3h0m-27-4h0m-2 3h0m-6-1h0m-22-5h0m-29 2h0m-1-6h0m-17 18h0m43-4h0m25 4h0m12-5h0m5 2h0m8 13h0m-6 4h0m-2-1h0m-15 12h0"/>
<path stroke="#d24b40" d="M384 142h0m-244 55h0m302 16h0m9 9h0m-146 9h0m108 16h0m25 4h0m30 1h0m-26 12h0m19 0h0m34 16h0m-8 6h0m-29-7h0m-11-2h0m-12 45h0m10-10h0m41 1h0m-43 14h0m-62 2h0m-115-4h0m14 17h0m38 4h0m45-1h0m78-4h0m-28 12h0m-24-3h0m-19-1h0m-10 4h0m-7 5h0m-8-6h0m-25 6h0m-87 1h0m-1-3h0m-33 0h0m15 9h0m22 3h0m18-5h0m84 1h0m0 4h0m43 1h0m1-7h0m-9 12h0m-67 11h0"/>
<path stroke="#f7b99e" d="M300 120h0m140 16h0m-31 70h0m-21-1h0m-5 0h0m-217 5h0m-13 4h0m-9-4h0m42 7h0m211 2h0m61 15h0m-28-2h0m-12-3h0m-15 6h0m-40-1h0m-50-4h0m-34 6h0m-166 9h0m242 2h0m5-2h0m5-2h0m31-3h0m25 5h0m-38 9h0m-27 0h0m-19-2h0m-162 0h0m-2 6h0m94 6h0m63 3h0m42 8h0m26-7h0m9 1h0m22 15h0m-111-1h0m-178 1h0m-14 7h0m72 0h0m215 4h0m3-4h0m11 8h0m77 12h0m-34-8h0m-41 0h0m-80 7h0m-85-3h0m-120 15h0m147-2h0m53-5h0m36 6h0m4-2h0m-32 7h0m-25 4h0m-29 3h0m-4 1h0m-1-9h0m-69 6h0m-52 8h0m2-3h0m16 9h0m27-1h0m36-3h0m11-1h0m23-1h0m0 4h0m62-7h0m19 10h0m53-9h0m5 11h0m-63 6h0m-25-5h0m-24 5h0m-6 3h0m-8-2h0m-1-4h0m-31 8h0m-16-9h0m-11 7h0m-4 2h0m-13-3h0m-5-3h0m-15 6h0m0-3h0m-6-6h0m-3 1h0m-6 1h0m-2-3h0m4 13h0m15 2h0m5 3h0m36-4h0m4 8h0m15-9h0m5 2h0m10-3h0m3 5h0m70 5h0m39-8h0m5 5h0m-38 11h0m-93-2h0m0 6h0m-33-5h0m49 7h0m20 1h0"/>
<path stroke="#abc8fd" d="M312 40h0m-14-2h0m0 3h0m-2 4h0m-1-5h0m-35 14h0m15 1h0m1-4h0m8 7h0m13-6h0m31 0h0m5 6h0m9 3h0m-23 6h0m-14-5h0m-9 6h0m-3-2h0m-45-2h0m-5-3h0m-1 5h0m-2-4h0m-7 5h0m-5-6h0m-4 3h0m-2 3h0m-14 1h0m-23 14h0m17-10h0m0 10h0m3-8h0m4 4h0m4-3h0m2 3h0m3-4h0m5-1h0m1 7h0m21-8h0m6 2h0m7 8h0m14-2h0m11 0h0m15-6h0m14 0h0m14 4h0m73 8h0m-84 6h0m-30-1h0m-4 0h0m-5 4h0m-3-11h0m-3 9h0m-3-2h0m-4 3h0m-15-8h0m-6 6h0m-6-7h0m-20 3h0m-10-4h0m-2 8h0m-7-6h0m-13 0h0m-23 0h0m-5 9h0m-1-6h0m-1-3h0m-14 7h0m-3-2h0m-12 11h0m6-3h0m2 3h0m3-3h0m2 6h0m8 1h0m14-6h0m1 5h0m5-2h0m24 3h0m53-9h0m17 0h0m20-1h0m2 2h0m7 1h0m18-3h0m38 3h0m143 20h0m-160-2h0m-32-8h0m-20 0h0m-20-1h0m-9 0h0m-3 0h0m-3 1h0m-4 9h0m-8-6h0m-3 4h0m0-7h0m-3 4h0m-3 5h0m-2-8h0m-1 7h0m-5-7h0m-1 4h0m-3-4h0m-3 8h0m0-6h0m-4 7h0m-38-5h0m-2 4h0m-10-10h0m-1 2h0m-24 3h0m81 18h0m2-4h0m4-7h0m0 4h0m2 3h0m11-1h0m3-2h0m2-3h0m30 3h0m2 4h0m57-8h0m27 15h0m-8 0h0m-44 8h0m-5-1h0m-57-7h0m-2-2h0m-3 8h0m-1-9h0m-3 1h0m-1 7h0m-17 0h0m-8-3h0m-1-2h0m-13 0h0m-4 0h0m-7 2h0m-5-3h0m-16 7h0m-6-2h0m-5-4h0m-3 2h0m-63 3h0m34 6h0m4 1h0m7 1h0m2-2h0m4 2h0m15-4h0m4 10h0m0-4h0m11-3h0m1 7h0m30-6h0m13-1h0m45 7h0m9-9h0m67 0h0m29-1h0m47 4h0m-74 14h0m-53 3h0m-3-8h0m-20 2h0m-21 7h0m-37-8h0m-4 2h0m-6 5h0m-5-3h0m-1 3h0m-8-7h0m-9-1h0m-12 7h0m-11-5h0m-1 4h0m-5-4h0m-6 5h0m-42 0h0m17 14h0m3-3h0m3 2h0m23 1h0m8-8h0m0 3h0m3-4h0m18 8h0m3 2h0m19-11h0m4 11h0m13-11h0m1 5h0m4-3h0m134 16h0m-90-2h0m-23 7h0m-10-1h0m-1-3h0m-19 3h0m-7-3h0m-5 1h0m-23-8h0m-1 4h0m-4 2h0m-1-3h0m-9 7h0m-13-8h0m-11 3h0m-2-3h0m-5 9h0m-9-3h0m-41 5h0m4 2h0m28-2h0m24 3h0m2-4h0m11 2h0m14 0h0m9 0h0m20 2h0m17-4h0m17 0h0m7 2h0m187 14h0m-92 4h0m-10-2h0m-7-3h0m-5-3h0m0 4h0m-11-1h0m-49 1h0m-5 5h0m-2-4h0m-57-4h0m-10 8h0m-9-1h0m-7-7h0m-30 4h0m-18 5h0m-9 0h0m-2-1h0m14 7h0m35 3h0m14 4h0m8-5h0m70 3h0m20-6h0m13-2h0m2 4h0m6 3h0m8 3h0m2-9h0m3-2h0m27 2h0m9 5h0m60 0h0m-52 15h0m-8-1h0m-43-7h0m-24 7h0m-99-1h0m-5 3h0m-36 4h0m0 4h0m25-1h0m14-4h0m6 7h0m68 0h0m26 0h0m7 2h0m3-3h0m30-5h0m67 15h0m-64 3h0m-15-8h0m-18 9h0m-18-1h0m-52-6h0m-73 1h0m-5-4h0m3 23h0m8 0h0m8-5h0m171-5h0m4 9h0m2-5h0m30-5h0m62 1h0m-59 18h0m-17-7h0m-19 4h0m-31-2h0m-16-2h0m-25 6h0m-2-4h0m-11-2h0m-46 4h0m-16-4h0m-10 6h0m-9-5h0m-17 6h0m-9 3h0m13 8h0m2-6h0m8 9h0m3 2h0m6-5h0m46-5h0m14-1h0m40 8h0m58 3h0m2-11h0m26 8h0m6-4h0m9 2h0m1 4h0m-26 11h0m-33 0h0m-58 0h0m-5-4h0m-19 5h0m-12-4h0m-41 17h0m20-5h0m32-5h0m14 8h0m37 1h0m5 1h0m37-6h0m15-5h0m62 0h0m-18 14h0m-85 5h0m-6-2h0m-58-4h0m-25 9h0m-21-4h0m-1-4h0m52 11h0m18 4h0m43 2h0m84 26h0"/>
<path stroke="#6e90f2" d="M320 41h0m35 18h0m46-6h0m5 3h0m22-4h0m0-4h0m3 2h0m8 6h0m8 3h0m8 8h0m-6-6h0m-11 4h0m-3 0h0m-12-5h0m-61 4h0m-66-4h0m71 22h0m2-5h0m135-3h0m11 3h0m1 17h0m-3-1h0m-106 0h0m-46 1h0m-9-4h0m-122 3h0m-64 3h0m120 8h0m86 1h0m36-5h0m14 7h0m4-3h0m6 0h0m52-8h0m31 2h0m16 3h0m4 17h0m-3 1h0m-3-8h0m-1 8h0m-10-7h0m-2-2h0m-10 5h0m-7-1h0m-14-3h0m-13 3h0m-6 1h0m-15 0h0m-11-1h0m-2 4h0m-3-10h0m-8 11h0m-5-7h0m-4 6h0m-13-7h0m-2-2h0m-1 4h0m-5 2h0m-8-6h0m-3 5h0m0-3h0m-5 1h0m-3 6h0m-4-3h0m-32-1h0m-24 4h0m-9-7h0m-23 7h0m-18-4h0m-5-1h0m-22 0h0m-91 4h0m-49-9h0m-3 9h0m-2-6h0m-7 5h0m-11 8h0m5 5h0m4-7h0m1 3h0m67-4h0m140 6h0m47-5h0m5 1h0m4-1h0m15 3h0m14 2h0m11-4h0m3 8h0m12-9h0m20 0h0m5 1h0m6 4h0m8 4h0m15-8h0m37-3h0m3 8h0m15 1h0m3-2h0m1 3h0m3-8h0m1 7h0m3 2h0m5-1h0m17 6h0m-13 3h0m-16 0h0m-8 2h0m-11-8h0m0 8h0m-7-4h0m-13 3h0m-2-2h0m-3 1h0m-7 1h0m-10-7h0m-3 9h0m-4 1h0m-3-9h0m-1 9h0m-20-6h0m-4 1h0m-8 5h0m0-3h0m-14-2h0m-8 2h0m-15-3h0m-17-4h0m-8 8h0m-17-7h0m-23 2h0m-7 3h0m-50 1h0m-40-6h0m-145-2h0m0 7h0m-3-6h0m-6 8h0m-3 2h0m52 6h0m179 2h0m17 3h0m4-6h0m54 3h0m7 1h0m6-7h0m0 8h0m11-2h0m10 4h0m2-5h0m2-6h0m4 3h0m5 4h0m24-4h0m0 5h0m12-1h0m37-6h0m23-1h0m20 10h0m2-3h0m4 2h0m9 0h0m10-9h0m3 4h0m2 3h0m-8 8h0m-21 2h0m-2 4h0m-4 1h0m-3 1h0m-23-3h0m-1-3h0m-2 6h0m-2-8h0m-7-1h0m-1 6h0m-2-6h0m-2 5h0m-6-4h0m-7 4h0m-3-2h0m-4-5h0m-9 2h0m-9 6h0m-5 3h0m-3-9h0m-20 4h0m-1-3h0m-1-3h0m-14 9h0m-8-5h0m-3 2h0m-9 3h0m0-9h0m-1 3h0m-4 2h0m-6-3h0m-15-1h0m-30 9h0m-13-2h0m-3-8h0m-32 2h0m-9 4h0m-99 4h0m-121 8h0m244-2h0m3 0h0m9 3h0m4-3h0m29 6h0m8-9h0m24 0h0m3 4h0m0 3h0m21-6h0m3 2h0m3-2h0m4 9h0m7-4h0m14-5h0m43 4h0m7-5h0m38-1h0m4 10h0m3-5h0m26 4h0m16 1h0m2-6h0m-3 10h0m-7 5h0m-4 3h0m-18-6h0m-1 4h0m-12-7h0m-21 8h0m0-6h0m-4 8h0m-6-7h0m-4 4h0m-3 3h0m0-3h0m-7-8h0m-1 5h0m-12 6h0m-6-1h0m-1-3h0m-11-6h0m-3-1h0m0 7h0m-5 4h0m-4-4h0m-16-6h0m-9 10h0m-7-3h0m-10 3h0m-6-2h0m-4 2h0m-10-5h0m-16 3h0m-8-4h0m-5-5h0m-2 9h0m-7-6h0m-11-3h0m-8 0h0m-236 1h0m-16 2h0m-15 3h0m149 16h0m245-10h0m3 2h0m10 0h0m16 4h0m21-1h0m4 6h0m8-11h0m24 0h0m20 10h0m2-2h0m11-8h0m-23 19h0m-3-5h0m-6-2h0m-2 7h0m-13-4h0m-215 2h0m-24 0h0m-3 3h0m-13-3h0m-22-1h0m-101 4h0m-28 1h0m109 3h0m22 3h0m7-2h0m9 4h0m13-3h0m9 4h0m3-3h0m23 4h0m-16 9h0m-4 3h0m-23 1h0m-42 1h0m-2-8h0m-64 2h0m-24 0h0m-29-3h0m86 22h0m46-10h0m20 5h0m20 5h0m61 10h0m-81 13h0m41-4h0m12 9h0m-76 13h0m9 6h0m11-4h0m59 9h0"/>
<path stroke="#9fbfff" d="M413 46h0m-35-9h0m-41 10h0m-5 0h0m-7-2h0m-2-3h0m-15-3h0m-1 5h0m-3 3h0m-12-1h0m0-4h0m-23 0h0m-3 2h0m-4 3h0m0-3h0m-5 2h0m-23 10h0m6 3h0m2-3h0m2-4h0m2 3h0m2-3h0m27-4h0m23 1h0m4 2h0m0 5h0m5 2h0m15 0h0m10-6h0m3-3h0m16 9h0m135 4h0m-117 8h0m-12-5h0m-6 0h0m-4 4h0m-1-6h0m-37-2h0m-4 4h0m0 5h0m-2-2h0m-4-2h0m-10 0h0m-2 4h0m-5-9h0m0 5h0m-30 0h0m-14-2h0m-2-2h0m0 5h0m-8-3h0m-4 5h0m-14-3h0m-23 14h0m3-2h0m4 0h0m0 4h0m3-1h0m9-1h0m6 0h0m9-5h0m4 0h0m12 7h0m5-8h0m1 3h0m10 5h0m0-10h0m32 5h0m4-5h0m4 9h0m6-3h0m15-5h0m5-1h0m3 2h0m21 6h0m4-6h0m11-1h0m7-1h0m7 7h0m30 7h0m-2 3h0m-8-1h0m-20 6h0m-5-6h0m-2 7h0m0-10h0m-24 5h0m-8 3h0m-22-9h0m-29 10h0m-9-6h0m-3 2h0m-4-2h0m0 6h0m-14 0h0m-3-2h0m-4-5h0m0 3h0m-4-3h0m-3 6h0m-1-5h0m-24-3h0m-33 4h0m0 5h0m-11-2h0m-5 1h0m-3-3h0m-3 3h0m0-4h0m-28 6h0m-3 1h0m14 8h0m6-8h0m4 8h0m4-3h0m8 2h0m11-2h0m6-2h0m27 3h0m1-3h0m2 3h0m4 2h0m4-6h0m2 9h0m1-10h0m7 7h0m8 2h0m10-3h0m5-6h0m54 2h0m22 0h0m24 7h0m29-2h0m9-7h0m12 19h0m-19 1h0m-11-5h0m-12-1h0m-6-2h0m-4 0h0m-1 5h0m-34 1h0m0-4h0m-16 1h0m-8-4h0m-4 3h0m-3 6h0m-2-4h0m-12-2h0m-31-1h0m-4 2h0m-14 3h0m-11 2h0m-2-3h0m-33-3h0m-7 4h0m-2 3h0m-11 0h0m-6-5h0m-21 18h0m5-8h0m1 4h0m3 2h0m2-3h0m9-6h0m2 3h0m1 5h0m2-6h0m6 6h0m2-2h0m1 5h0m2-11h0m3 10h0m4 1h0m25-1h0m10-5h0m4-4h0m7 10h0m3-9h0m6 7h0m11-8h0m13 3h0m2-3h0m0 7h0m37 1h0m40-6h0m17-3h0m10 6h0m19 1h0m-8 9h0m-47 6h0m-2-6h0m-19 4h0m-16 1h0m-4 2h0m-5-3h0m-5 3h0m-23-3h0m-1-5h0m-33 0h0m-13 5h0m-4 2h0m-1-9h0m-30 5h0m-3 1h0m-11-4h0m-3-1h0m-1 9h0m-3-4h0m-3 2h0m-4-1h0m0-5h0m-2 8h0m-17-5h0m-47 5h0m66 8h0m14 1h0m17-4h0m2 5h0m15-6h0m4 6h0m37-9h0m21 3h0m4-3h0m1 6h0m14 2h0m4-1h0m7-7h0m2 2h0m4-2h0m3 3h0m15 7h0m14-8h0m54 9h0m14-4h0m3-2h0m9-5h0m37 12h0m-13 1h0m-57-1h0m-11 0h0m-7 2h0m-11-1h0m-17 4h0m-5-5h0m-37 4h0m-4 2h0m-18 2h0m0-3h0m-6 2h0m-44-7h0m-17 1h0m-12 1h0m-3 3h0m-5 0h0m-2 3h0m-1-3h0m-13 6h0m-7-2h0m-11 2h0m-1-4h0m-19-2h0m-20-4h0m-2 0h0m39 12h0m14-1h0m39 8h0m10 3h0m38-1h0m10-2h0m8-7h0m2 9h0m1-6h0m49 4h0m10-5h0m3-2h0m7 7h0m8 2h0m13 0h0m29 1h0m53-6h0m15 2h0m89 16h0m-180-4h0m-20-4h0m-75-2h0m-4 4h0m-21 6h0m-7-3h0m-36 2h0m-15-4h0m-6-6h0m0 3h0m-8 7h0m-6-1h0m-10-1h0m-3 1h0m-7-2h0m-2-2h0m-19-1h0m-1-3h0m-3 5h0m-8-1h0m-8 6h0m-21-8h0m-12 2h0m66 10h0m2 2h0m16-4h0m15 8h0m0-3h0m10-4h0m12 5h0m21 3h0m12-10h0m1 4h0m8-4h0m208 0h0m22 2h0m9 0h0m-130 13h0m-56-1h0m-10 9h0m-16-3h0m-20 0h0m-14-1h0m-40-5h0m-5 7h0m-10-4h0m-9-4h0m-25 2h0m-22 12h0m21-3h0m5 3h0m0-3h0m13 0h0m13 1h0m21 9h0m127 0h0m44-1h0m-12 5h0m-22 4h0m-10 0h0m-5 1h0m-9-5h0m-44 4h0m-5-3h0m-11 0h0m-40 7h0m-17-9h0m-12 2h0m-6 0h0m-13 2h0m-16 5h0m-4 1h0m-13 0h0m-7-9h0m8 12h0m35 3h0m68-3h0m1 5h0m2 3h0m38-6h0m41 3h0m2-5h0m9 2h0m49 17h0m-88 2h0m-56-4h0m-95 1h0m-5 4h0m47 2h0m20-2h0m4 3h0m12 6h0m64-9h0m7 7h0m39-7h0m54 4h0m-10 8h0m-45 5h0m-12-4h0m-7-1h0m-4 7h0m-26 4h0m-36-5h0m-20 1h0m-6-1h0m0-5h0m-39 3h0m-7 1h0m-44-3h0m21 19h0m33-3h0m41-3h0m22-1h0m4 5h0m41-6h0m91 3h0m11 3h0m-40 16h0m-5-1h0m-19-8h0m-2 3h0m-33 1h0m-12-3h0m-20-2h0m-79 7h0m-14 8h0m61 6h0m27-10h0m83 5h0m-67 19h0m19 7h0m-5 10h0"/>
<path stroke="#ba162b" d="M239 79h0m120 64h0m-244 31h0m345 41h0m-278-4h0m239 13h0m7 2h0m24 1h0m3-8h0m5 4h0m1-4h0m10-1h0m3 3h0m1 6h0m2-9h0m6 2h0m1 5h0m3-2h0m0-3h0m2 7h0m2-4h0m3 1h0m2 3h0m16 11h0m-3 1h0m-1-4h0m-2 3h0m-1-5h0m-3 4h0m-2 2h0m-1-8h0m-4 2h0m-1 4h0m-2-8h0m-3 4h0m0-3h0m-2 8h0m-3-2h0m-3 3h0m-1-11h0m0 8h0m-3 1h0m-5-8h0m-10 4h0m-2 5h0m-17-6h0m-8-2h0m0 4h0m-9 4h0m-2-9h0m15 14h0m3-3h0m2 4h0m9-1h0m1-3h0m1 10h0m3 0h0m0-8h0m2 3h0m3 5h0m3-6h0m0-3h0m5 9h0m1-4h0m4 4h0m23-1h0m3 1h0m3-2h0m11-7h0m4 4h0m4 2h0m3 1h0m3 4h0m-4 1h0m-6-1h0m-4 1h0m-5-1h0m-5 0h0m-5 1h0m-8 0h0m-5-1h0m-6 1h0m-5 1h0m-3 0h0m-9 3h0m-4 4h0m-5-6h0m-4-3h0m-6 9h0m-27 0h0m-4-3h0m-12 10h0m3 6h0m12 1h0m20-11h0m6 8h0m3-7h0m5-1h0m5 0h0m4 4h0m5 2h0m3 1h0m2 3h0m9 1h0m7-1h0m5-1h0m4 0h0m3 2h0m3-2h0m3 0h0m5 0h0m4 1h0m5 0h0m8 8h0m-2-5h0m-1 8h0m-9-1h0m-2 3h0m0-5h0m-4-5h0m-3 4h0m-1 5h0m-2-10h0m-1 8h0m0-3h0m-4 3h0m0 3h0m-3-11h0m-1 9h0m-3 0h0m-1-9h0m0 5h0m-5 0h0m-1-4h0m-2 7h0m-1-4h0m-12-3h0m-5 1h0m-3 3h0m-7 0h0m-2-4h0m-1 9h0m-4-1h0m-5-8h0m-8 9h0m-2-6h0m-8-4h0m-3 4h0m-5 0h0m-8 1h0m-236 8h0m261 2h0m6-2h0m4 6h0m5-3h0m2 6h0m15-4h0m24 1h0m3 0h0m1-7h0m3 7h0m3-4h0m1 5h0m2-8h0m1 7h0m1-4h0m3 0h0m0 3h0m3-6h0m1 7h0m1-4h0m0 7h0m3-3h0m1-6h0m1 9h0m0-6h0m3 1h0m2-3h0m-8 13h0m-4-2h0m-1 4h0m-4 3h0m-4 2h0m-15 0h0m-4 1h0m-1-5h0m-4 2h0m-5-2h0m-3 2h0m-3-5h0m0 7h0m-2-4h0m-3 1h0m-3 2h0m-50-2h0m-2-5h0m-249 10h0m253 11h0m8-7h0m8 6h0m13 1h0m7-6h0m5 0h0m18-1h0m1 4h0m12 2h0m4-1h0m4-8h0m0 7h0m1-3h0m2-5h0m1 4h0m3-2h0m4 0h0m-16 10h0m-5 1h0m-4 4h0m-3-5h0m-2 5h0m-2-5h0m-5 11h0m-2-3h0m-6 0h0m-2-3h0m-7 4h0m0-8h0m-4 9h0m-7-8h0m-5 9h0m-26-6h0m-8 1h0m-63 4h0m-26 13h0m63-7h0m62-1h0m2 4h0m2-4h0m1 5h0m3-7h0m2 8h0m3-2h0m8-2h0m3-5h0m-17 12h0m-4 1h0m-7 4h0m-7 2h0m-3-7h0m0 5h0m-3 3h0m-18-8h0m-14 4h0m-6-1h0m-164 0h0m-26 12h0m41-2h0m41 7h0m36-1h0m73-6h0m7 8h0m3 0h0m5-1h0m5-7h0m4 4h0m7-5h0m3 0h0m-29 12h0m-16 3h0m-9-1h0m-18 4h0m-23 2h0m-66-2h0m20 6h0m26 1h0"/>
<path stroke="#7a9df8" d="M373 31h0m3 2h0m31 12h0m-3 2h0m-10-1h0m-5-4h0m-2-3h0m-4 0h0m-54 6h0m-39-7h0m-1 9h0m37 9h0m20 2h0m63 1h0m12-8h0m10 2h0m2-3h0m2 4h0m60 17h0m-2-2h0m-11-5h0m-24-3h0m-18 3h0m-23 1h0m-1-4h0m-2 3h0m-2-1h0m-112 7h0m-17-2h0m-33 2h0m-30-10h0m110 14h0m8 6h0m13-8h0m9 8h0m3 0h0m0-5h0m16-1h0m14 7h0m4 2h0m68-2h0m3-1h0m13 15h0m-77-3h0m-11 2h0m-5-10h0m-1 5h0m-1 3h0m-17-8h0m-3 7h0m-4-7h0m-7 4h0m-8-4h0m-3 1h0m-2 8h0m-6 2h0m-40-1h0m-87-9h0m0 7h0m0-3h0m-10-5h0m-22 2h0m-3 1h0m-28 2h0m-12 5h0m37 6h0m79 1h0m16 1h0m1 4h0m20-5h0m34 1h0m9-4h0m19 1h0m21-2h0m5-1h0m1 3h0m11 0h0m19-3h0m5 5h0m2 2h0m0-6h0m2 3h0m4 0h0m0 3h0m4 1h0m6 1h0m12 2h0m45-9h0m8 7h0m14-7h0m4-2h0m3 6h0m24 11h0m-4-5h0m-27 9h0m-6 1h0m-23-4h0m-3-1h0m-7 0h0m-9 2h0m-4-2h0m-2 3h0m-7-2h0m-5 3h0m-27 1h0m-4-4h0m-2-3h0m-11-2h0m-3 9h0m-2-7h0m-9-3h0m-47 11h0m-13-2h0m-1-9h0m-5 2h0m-1 4h0m-2 4h0m-21-4h0m-8 0h0m-14-4h0m-20 0h0m-1 8h0m-146-7h0m-10 6h0m-1-5h0m-22 14h0m1 3h0m6 1h0m10-2h0m2-7h0m0 3h0m76-2h0m123 2h0m5 0h0m27 1h0m9 2h0m5 2h0m4-1h0m12 1h0m18-7h0m7 6h0m0-6h0m1 3h0m8 4h0m8-3h0m26-1h0m4 0h0m10 2h0m23-2h0m30 5h0m10-2h0m14-6h0m10 3h0m10 2h0m4-6h0m0 21h0m-51-10h0m-9 3h0m-37 2h0m-2 3h0m-14 2h0m-25-10h0m-21 1h0m-1 3h0m0 6h0m-5-7h0m-6 7h0m-6-2h0m-4-2h0m-1-5h0m-3 5h0m-34 1h0m-14-3h0m-14-4h0m-5 5h0m-1-5h0m-6 8h0m-7-1h0m-115-1h0m-25-4h0m-4 9h0m-36-11h0m-5 0h0m-6 2h0m-12 3h0m0 4h0m-1-7h0m-1 9h0m-4-4h0m100 15h0m104-7h0m8-3h0m1 3h0m3 4h0m10-1h0m1 3h0m5-4h0m17 2h0m5 1h0m5-5h0m12 7h0m18-2h0m23 3h0m4-5h0m6 5h0m3-1h0m1-2h0m10-8h0m4 3h0m7-3h0m6 3h0m2 7h0m16-2h0m7-2h0m3 5h0m8-8h0m3 8h0m0-9h0m22 5h0m4 4h0m1-8h0m9-2h0m1 10h0m20-8h0m17 4h0m2-4h0m9 5h0m3 0h0m8-8h0m5 11h0m3-2h0m-4 9h0m-1 4h0m-22 1h0m-6-10h0m-3 1h0m-5 1h0m-7-3h0m-33 11h0m-13-5h0m-11-1h0m-3 4h0m-9-3h0m-3 0h0m-2 4h0m-13-4h0m-1-6h0m-1 4h0m-2 2h0m-14-1h0m-6-3h0m-9-2h0m-4 1h0m-4 3h0m-10-2h0m-4 3h0m-3-2h0m-1 8h0m-18-6h0m-4 6h0m-23-5h0m-8-3h0m-3 3h0m-161-5h0m-21 10h0m-77 11h0m6-5h0m128 0h0m99-3h0m14 6h0m18-3h0m45-1h0m17 6h0m3-9h0m8 9h0m0-8h0m22 2h0m8 2h0m6 3h0m7 1h0m4-5h0m18 5h0m23-1h0m9-8h0m4 10h0m26-7h0m6 4h0m13-1h0m19 6h0m-7 5h0m-6-2h0m-4-4h0m-2 7h0m-20-5h0m0 8h0m-2-2h0m-4-2h0m-2-4h0m-6 6h0m-5-1h0m-5-4h0m-20-2h0m-3 1h0m0 4h0m-19 1h0m-2 4h0m-10-10h0m-12 2h0m-2-3h0m-4 2h0m-3 1h0m-5 4h0m-9-3h0m-2 7h0m0-11h0m-13 1h0m-1 7h0m-4-2h0m-4-5h0m-3 9h0m-1-10h0m-4 10h0m-2-8h0m-12 7h0m-5-5h0m-30-1h0m-3-2h0m-3 1h0m-182 2h0m-11 5h0m-58-5h0m-5 6h0m-3-8h0m-12 7h0m28 14h0m324-11h0m7 0h0m6 0h0m53 2h0m3 1h0m6 3h0m13 3h0m22-4h0m25-2h0m3 4h0m9 8h0m-7-2h0m-18 4h0m-253 5h0m-103-7h0m48 15h0m3 4h0m10-6h0m2 5h0m10 1h0m30 1h0m40-1h0m-5 11h0m-1-5h0m-35 6h0m-3-8h0m-88 15h0m13-1h0m4-4h0m73 9h0m3-6h0m25-3h0m5 4h0m12 7h0m-46 8h0m-6-3h0m-50 1h0m-108 18h0m2-9h0m121 0h0m25 5h0m47 4h0m24-3h0m-25 12h0m-189-3h0m85 12h0m13 4h0m56-3h0m45 16h0m-152-3h0m-21-2h0m110 17h0m43-5h0m-83 31h0"/>
</g>
<g transform="translate(438.00 10.00) scale(0.50000)" stroke-width="5.9">
<path stroke="#ba162b" d="M506 238h0m-5 15h0m24 24h0m-10 18h0m-37 6h0m-27 41h0"/>
<path stroke="#f7b99e" d="M464 213h0m-18 0h0m-4 0h0m26 4h0m13 6h0m3 2h0m3-2h0m4 0h0m-1 14h0m-1-7h0m-84 10h0m49 0h0m1 10h0m8 0h0m57 2h0m-60 3h0m-72 10h0m37 7h0m22-2h0m5-6h0m47 11h0m-9 6h0m-8 3h0m-32-3h0m-3-4h0m-20 3h0m-6 7h0m-8-11h0m14 23h0m12-10h0m4 6h0m64-1h0m-29 11h0m-12-2h0m-2 3h0m-58-4h0m-7 11h0m36 9h0m4 1h0m32 6h0m-7 6h0m-10-6h0m-17 6h0m-6 0h0m-31-1h0m-55-8h0m35 10h0m9 9h0m8-1h0m41 0h0m-12 4h0m-37 6h0m-1 4h0m-21-1h0m-17-9h0m-109 0h0m-61 6h0m118 17h0m45 0h0m7-11h0m36 9h0m-39 11h0m-33 1h0m-65 0h0"/>
<path stroke="#93b5fe" d="M305 41h0m-1 6h0m-6-6h0m-26 3h0m-46 14h0m5 0h0m3-2h0m6-2h0m4-2h0m58-1h0m1 7h0m21-6h0m10 2h0m3 3h0m0-4h0m12 4h0m20 13h0m-12-5h0m-4-2h0m0 7h0m-36 0h0m-4-7h0m-1 3h0m-7-1h0m-4-3h0m-1 8h0m-15-4h0m-3 0h0m-27-3h0m-12-2h0m-23 10h0m-3-4h0m-12 2h0m-24 12h0m6-1h0m3-2h0m4 4h0m10-6h0m4-3h0m15 0h0m12 4h0m10-5h0m32 10h0m39 0h0m65-3h0m8-1h0m11 15h0m-38-9h0m-4 4h0m-1 3h0m-2-3h0m-6-1h0m-3 2h0m-9 0h0m-1 6h0m-66-2h0m0-3h0m-14-4h0m-16 9h0m-20-11h0m-6 11h0m-15-11h0m-19 5h0m-10 6h0m-9-5h0m0-4h0m-7 0h0m-1 7h0m-2-6h0m-2 3h0m-6 0h0m-18 16h0m2-10h0m20 0h0m3 2h0m1 6h0m1-7h0m0 4h0m3 0h0m3 3h0m8-8h0m5 4h0m3 1h0m4-4h0m28 0h0m9 4h0m4 3h0m6 0h0m7 3h0m22-2h0m6-8h0m1 6h0m5-1h0m5-6h0m3 0h0m97 16h0m-18-3h0m-25 8h0m-41-9h0m-1 3h0m-8 4h0m-6-5h0m-23 1h0m-5-3h0m-18 8h0m-2-7h0m-1 4h0m-8-5h0m-3 2h0m-38 1h0m0-3h0m-1 6h0m-6-6h0m-3 3h0m-3 7h0m-5-2h0m-6 1h0m-5-9h0m-19 5h0m-4 16h0m30-7h0m0 3h0m3-4h0m11 9h0m4 1h0m25-1h0m7-4h0m1 4h0m4 1h0m5-3h0m1-8h0m3 2h0m7 2h0m3 2h0m4 4h0m1-9h0m17 8h0m1-5h0m2 7h0m1-7h0m3-2h0m33-1h0m7 9h0m30-10h0m44 6h0m46 14h0m-26-7h0m-30 10h0m-5-5h0m-15-3h0m-66 5h0m-17 0h0m-9-6h0m-9 5h0m-7-6h0m-3 3h0m-16 2h0m-6 2h0m-1 3h0m-2-9h0m-4 9h0m-1-3h0m-14-5h0m-9 4h0m0-4h0m-11-1h0m-6 3h0m0 5h0m-9-4h0m-1 3h0m-2-7h0m-1 9h0m-2-11h0m-10 11h0m-2-6h0m-3 4h0m-4-1h0m0-8h0m-14 12h0m9 8h0m20-2h0m6-3h0m0 3h0m4 2h0m29-2h0m5-3h0m1 4h0m2-6h0m1 3h0m0 5h0m7-8h0m6 2h0m3 5h0m9-6h0m2 5h0m12-6h0m3 2h0m3 8h0m6-4h0m4 3h0m1-3h0m20 4h0m1-3h0m9-5h0m4-1h0m9 4h0m4 1h0m16-2h0m1 5h0m14-9h0m82 16h0m-51-4h0m-35 9h0m-8-2h0m-25-4h0m-2 6h0m-32-5h0m-23-1h0m-23-1h0m-11 4h0m-4 0h0m-3-7h0m-4 7h0m-2-2h0m-6 1h0m-6-1h0m0-4h0m-2 6h0m-1-5h0m-2-2h0m-7 1h0m-15 5h0m-1 3h0m-8 1h0m-5-7h0m-2-3h0m0 6h0m-16 5h0m-30-3h0m-30 11h0m51 4h0m2-2h0m3-8h0m20 9h0m8-8h0m24 9h0m2-2h0m23-1h0m7 3h0m14-1h0m22-8h0m6-2h0m10 11h0m5-6h0m57-4h0m9 4h0m2 2h0m39 0h0m16-6h0m13 16h0m-142 2h0m-7-3h0m-8 0h0m-3 2h0m-3 5h0m-3-11h0m-4 9h0m-23 1h0m-3-6h0m-3-1h0m-6 5h0m-11-2h0m-4-2h0m-17-2h0m-2 5h0m-7 1h0m-10-1h0m-1 4h0m-1-6h0m-2-4h0m-14 10h0m-3-3h0m-4-2h0m-6-4h0m-7 7h0m-3 2h0m-25 7h0m26-4h0m14 1h0m12-3h0m4 0h0m2 3h0m26 0h0m7 3h0m4 0h0m22 3h0m1-3h0m9-6h0m17 0h0m205 14h0m-113 4h0m-12-6h0m-16 9h0m-3-1h0m-20-2h0m-6 3h0m-71-7h0m-3 1h0m-3 2h0m-3 1h0m-18-2h0m-26-1h0m-12 14h0m21 2h0m24 1h0m62-1h0m32-7h0m3 2h0m5 8h0m1-5h0m5 0h0m14 1h0m29-6h0m26 7h0m41 4h0m16-10h0m-36 13h0m-6 6h0m-11 3h0m-50-3h0m-16-6h0m-6 0h0m-18 7h0m-8-1h0m-60-6h0m-17 1h0m-19 8h0m-17-5h0m-21 1h0m-2-5h0m-3-2h0m10 17h0m8-3h0m20 6h0m1 3h0m12-11h0m23 11h0m19-1h0m1-10h0m28 3h0m28-3h0m1 8h0m15-2h0m4 2h0m11 0h0m14-8h0m17 11h0m51 10h0m-7 0h0m-5-8h0m-11 5h0m-7 2h0m-62-6h0m-1 4h0m-14 4h0m-13-5h0m-5 4h0m-1-3h0m-27 4h0m-31-7h0m-56 5h0m-21 15h0m11-3h0m6 3h0m4-4h0m27-6h0m7 9h0m18-10h0m51 5h0m49-5h0m69 0h0m35 3h0m27 1h0m-57 8h0m-23 7h0m-21-5h0m-1 3h0m-10 6h0m-6-2h0m0-7h0m-8 8h0m-10-8h0m-15 9h0m-7-7h0m-11 1h0m-17-4h0m-4-1h0m-43 6h0m-12-2h0m0 4h0m-10-2h0m-4-1h0m-32 3h0m-3 2h0m-3 0h0m6 7h0m5-4h0m4-1h0m39 9h0m6-3h0m15-6h0m3 1h0m11 2h0m3-3h0m37 6h0m9-5h0m29 6h0m3-4h0m54 1h0m27-1h0m4-2h0m17 2h0m-29 20h0m-33-4h0m-6 2h0m-17-5h0m-25-1h0m-1 7h0m-19-3h0m-16-3h0m-28 0h0m-9 4h0m-9 1h0m-21-7h0m-2 4h0m-27-4h0m1 12h0m17 9h0m10-8h0m3-2h0m4 5h0m4-1h0m7 0h0m1-5h0m8 1h0m7 0h0m42 9h0m37 1h0m7 0h0m12-3h0m5-5h0m33 8h0m9 9h0m-15-5h0m-4 8h0m-6-9h0m-15 2h0m-9 1h0m-16-2h0m-71 7h0m-18-7h0m-13 3h0m-21 0h0m6 8h0m13 8h0m84-5h0m9 2h0m9 3h0m101 6h0m-102-2h0m-3 6h0m-43-8h0m-18 1h0m72 13h0m52 8h0m-50 11h0m-39-4h0"/>
<path stroke="#d24b40" d="M494 237h0m-5-4h0m41 22h0m-34 18h0m9 0h0m8 14h0m-15-3h0m-3-4h0m-11-3h0m32 12h0m1 3h0m-7 9h0m-20 12h0m11 1h0"/>
<path stroke="#e67259" d="M500 239h0m-16-10h0m0 7h0m-51 15h0m63 0h0m9-3h0m25 4h0m-42 0h0m-39 4h0m35 18h0m8-1h0m10 11h0m-4 3h0m-4-2h0m-3 0h0m-1-9h0m-66 0h0m76 20h0m4 15h0m-55 3h0m21 6h0m15 4h0m-9 1h0m-14 7h0m-29 7h0m15 1h0m2-4h0"/>
<path stroke="#dd5f4b" d="M465 220h0m30 13h0m-3-4h0m34 24h0m-16 20h0m17 9h0m-14 0h0m-5 3h0m-43 9h0m28-6h0m17 0h0m-1 17h0m-27 6h0m-5-3h0m-7-5h0m20 17h0m4-4h0m-18 13h0m-20 3h0m-41 18h0"/>
<path stroke="#f7ad90" d="M487 220h0m2 7h0m9 9h0m-54 8h0m12 1h0m5-4h0m5 3h0m0-3h0m5 9h0m5 0h0m48-3h0m-42 6h0m-21 15h0m13 6h0m28 7h0m-41 0h0m-10 5h0m-40 2h0m29 11h0m49-4h0m18-4h0m15-1h0m-21 20h0m-136 6h0m47 0h0m9 3h0m48-7h0m0 4h0m13 6h0m4-9h0m11 1h0m-50 11h0m-4 2h0m-50 17h0m42-1h0m1 6h0m-40 9h0m-197 6h0m147 1h0m8 6h0m9-9h0m5 6h0m10-2h0m4-4h0m24 1h0m-47 11h0m-57 1h0"/>
<path stroke="#b9d0f9" d="M247 67h0m259 5h0m-350 26h0m133 1h0m-73 32h0m47-3h0m-43 17h0m145 6h0m-136 15h0m-3 0h0m-79-6h0m-39 4h0m-19-7h0m101 11h0m37 6h0m-58 16h0m-105 8h0m26-5h0m52 8h0m5-1h0m51-3h0m1-4h0m8 3h0m186 14h0m-33 3h0m-21-3h0m-1-4h0m-3 5h0m-14-2h0m-15 6h0m-19-6h0m-79 2h0m-21 0h0m-10 1h0m-3-1h0m-16-4h0m-14 3h0m-14-6h0m-55 9h0m-9-7h0m23 14h0m48 1h0m36 1h0m14 0h0m19 0h0m25 4h0m85-5h0m33 5h0m12-3h0m1-5h0m9 6h0m38 11h0m-10 1h0m-4-3h0m-7 6h0m-19-7h0m-11-1h0m-45-1h0m-8 1h0m-3 4h0m-3 2h0m-2-3h0m-9-2h0m-10-2h0m-52-2h0m-40 5h0m-7-2h0m-13 2h0m-17 4h0m-13-8h0m-41 9h0m14 8h0m3 5h0m15-3h0m42-3h0m4 5h0m71-5h0m3-1h0m93-4h0m29 2h0m52-1h0m-9 11h0m-3 9h0m-110-4h0m-44 2h0m-48-7h0m-5 5h0m-27-5h0m-2 6h0m-42-2h0m-19 6h0m6 2h0m9 9h0m6-2h0m18-5h0m3 9h0m59-9h0m2 9h0m44-7h0m28-1h0m134 13h0m-59 1h0m-13-4h0m-7 7h0m-6-7h0m-44 8h0m-2 2h0m-7-2h0m-21 0h0m-41-3h0m-5 4h0m-7 1h0m-1-4h0m-17 0h0m-2-7h0m-27 4h0m-6 4h0m-41-2h0m0-6h0m-6 11h0m-3-6h0m-4-3h0m-3 3h0m17 16h0m9-3h0m2 5h0m2-10h0m38 3h0m24 3h0m6-7h0m3 7h0m43-1h0m11-3h0m45 4h0m64 0h0m22 9h0m-7 5h0m-13-2h0m-43 1h0m-3 3h0m-10-2h0m-11 1h0m-29-6h0m-5 3h0m-7-1h0m-11-5h0m-23 5h0m-2-6h0m-41 2h0m-2 3h0m-26 0h0m-9 0h0m-10-1h0m-3 1h0m11 18h0m58-7h0m5 2h0m12 3h0m18-4h0m9 2h0m4 0h0m1-5h0m38 3h0m17-2h0m4 8h0m53-8h0m85-3h0m-59 19h0m-23-3h0m-65 5h0m-4-4h0m-25-4h0m-16 9h0m-7-9h0m-19 10h0m-6-7h0m-15 7h0m-12-8h0m-2 3h0m-15 17h0m4 0h0m9-2h0m2-5h0m22-2h0m13 9h0m12-11h0m5 3h0m14 4h0m2-7h0m7 11h0m9-8h0m7-3h0m7 10h0m15 0h0m9-10h0m106 6h0m-65 9h0m-10 1h0m-13 3h0m-35 2h0m-8-6h0m-3-3h0m-22 1h0m-11 4h0m-25 1h0m-8 3h0m-2 2h0m-16-7h0m-1-4h0m-20 10h0m29 6h0m1 3h0m3-6h0m36 4h0m6 2h0m42-7h0m15 11h0m4-7h0m19 2h0m14 3h0m29-8h0m24 4h0m-30 9h0m-16 5h0m-23-3h0m-58 3h0m-42-1h0m-13-3h0"/>
<path stroke="#9fbfff" d="M364 28h0m-27 19h0m-5 0h0m-30-4h0m-52 11h0m71 1h0m25 3h0m-50 10h0m-13 0h0m-32-7h0m-1 9h0m-10-8h0m-4 0h0m0 5h0m-8-3h0m-57 19h0m4-1h0m31-2h0m9 2h0m6-2h0m10-4h0m8 3h0m10-2h0m23 3h0m14 0h0m3-8h0m23 2h0m2-1h0m24 7h0m17-8h0m32 9h0m-82 7h0m-23 6h0m-13-8h0m-2 5h0m-4-1h0m-18-3h0m-6-3h0m-2 4h0m-1-3h0m-34 0h0m-5 1h0m-39 7h0m-8 1h0m-13-3h0m-3 3h0m-4 1h0m-1 5h0m9 2h0m25 1h0m5-4h0m40 0h0m5-1h0m5 0h0m5 7h0m27 1h0m36-10h0m72 8h0m-62 5h0m-21 4h0m-24 5h0m-10 1h0m-12-7h0m-8-1h0m-1 7h0m-15 0h0m-4 1h0m-75-9h0m-1 7h0m11 12h0m2-3h0m71-5h0m4 10h0m6-9h0m103 3h0m-24 15h0m-74-3h0m0-4h0m-5 8h0m-3-7h0m-7 8h0m-9-10h0m-6 10h0m-1-9h0m-20 4h0m-21 4h0m-32-5h0m-33-2h0m22 12h0m2 3h0m6-5h0m3 4h0m28 0h0m8-1h0m12 6h0m12-6h0m3-3h0m6 11h0m2-9h0m0 7h0m3 1h0m10-7h0m10 1h0m3 1h0m10 4h0m1-4h0m2 3h0m17-1h0m17-4h0m8-3h0m40 18h0m-62 2h0m-3-8h0m-1 10h0m-2-3h0m-3-1h0m-1-4h0m-1-2h0m-23 2h0m-4 5h0m-6-6h0m-6-1h0m-15 7h0m-2-6h0m-4 8h0m-1-5h0m-5 5h0m-2-7h0m-5 8h0m-4-7h0m-11 7h0m-14-3h0m-5 0h0m-8 4h0m-2 0h0m-3-11h0m-37 5h0m14 17h0m9-5h0m21-4h0m10 0h0m0 5h0m6-4h0m7 0h0m3-1h0m11 9h0m3 1h0m15-10h0m0 4h0m12-5h0m1 5h0m27 4h0m3-2h0m3 3h0m3-4h0m7 2h0m8-7h0m185 0h0m-116 12h0m-69 4h0m-3-1h0m-11-3h0m-1 7h0m-9 1h0m-2-5h0m-30-2h0m0 4h0m-8 4h0m-12-6h0m0 3h0m-9-7h0m-8 10h0m-7-5h0m-11-3h0m-1 7h0m-1-3h0m-1-5h0m-2 3h0m-14 1h0m-5-1h0m-13 2h0m-32 15h0m3 2h0m38-8h0m3-1h0m5 2h0m14 2h0m3-2h0m20 5h0m10-7h0m3 9h0m0-10h0m9 6h0m113 0h0m118 14h0m-26 1h0m-35-7h0m-51 2h0m-2 3h0m-18 1h0m-11-5h0m-37 0h0m-43 7h0m-1-9h0m-8 7h0m-16 0h0m-12-8h0m-22 8h0m-47-6h0m-4 2h0m14 10h0m23 6h0m11-6h0m13 4h0m11 0h0m3-1h0m3-5h0m8 5h0m21 5h0m10-8h0m22-3h0m6 9h0m48-4h0m39-1h0m7-3h0m1 9h0m2-5h0m28-2h0m7 1h0m8-4h0m18 2h0m-14 19h0m-13-3h0m-44-6h0m-7 9h0m-2-9h0m-4 10h0m-21-3h0m-9 3h0m-21-4h0m-12-1h0m-4-2h0m-1 2h0m-6 5h0m-8 1h0m-32-9h0m-25 0h0m-3 1h0m-9 2h0m-20 5h0m-16 4h0m2 3h0m22 0h0m8-1h0m6 3h0m3-2h0m25-3h0m0 9h0m59-4h0m2-3h0m46 7h0m16-7h0m7-4h0m35 8h0m11-7h0m38 13h0m-7 4h0m-24 0h0m-18-4h0m-40 8h0m-10 0h0m-1-8h0m-55 1h0m-23 1h0m-36 2h0m-27-6h0m-11 8h0m-23-3h0m-6 2h0m-1 4h0m-7 7h0m15-2h0m2-3h0m6 2h0m11 1h0m17 1h0m3 0h0m4 0h0m20 1h0m15-3h0m16 5h0m41 1h0m14-2h0m19 1h0m6-7h0m5 6h0m1 4h0m8-11h0m16 8h0m4 0h0m1-7h0m3 4h0m7 2h0m49-5h0m-11 13h0m-19 3h0m-18 1h0m-52-7h0m-1 11h0m-23-3h0m-15-7h0m-12 3h0m-7-2h0m-7 7h0m-6-5h0m-21 2h0m-4-6h0m-15 9h0m-12 2h0m-8-4h0m-9 2h0m-4-4h0m-6-4h0m-7 1h0m-1 19h0m7-6h0m2 3h0m2-2h0m0 6h0m10-6h0m11-3h0m16-1h0m17 5h0m1-4h0m12 8h0m24-6h0m25 7h0m16-2h0m57 0h0m2-6h0m13 0h0m7-1h0m30 8h0m5 0h0m-26 5h0m-14 5h0m-57 4h0m0-8h0m-21-1h0m-4-1h0m-10 10h0m-24-5h0m-32-6h0m-38 1h0m-4 6h0m-17 4h0m-1-8h0m-1 5h0m-7-7h0m44 20h0m9-6h0m8 7h0m15 0h0m0-7h0m4 5h0m7 1h0m23-6h0m52-1h0m19-2h0m8 2h0m19 0h0m4-2h0m20 14h0m-36 6h0m-55 2h0m-53-10h0m-12 1h0m-6 2h0m-11-2h0m-22 9h0m-2-5h0m19 7h0m14 7h0m29 1h0m2-3h0m8 1h0m41-5h0m12 1h0m3 6h0m12-6h0m34 6h0m-43 14h0m-2-7h0m-20 3h0m-4-3h0m-15 1h0m-31-1h0m-7 19h0m1-9h0m6 4h0m18-2h0m21-3h0m18 4h0m54 19h0m-30-10h0m-10 3h0"/>
<path stroke="#3f53c6" d="M298 38h0m111 21h0m4 0h0m94 10h0m-3-1h0m-8-2h0m-10-4h0m-1 5h0m-2-6h0m-8 2h0m-26-2h0m-37 2h0m-86 15h0m134-4h0m44 0h0m11 3h0m1 17h0m-46-8h0m-105-1h0m118 14h0m1-3h0m1 5h0m2 3h0m39-7h0m10 9h0m6 10h0m-7 2h0m-10-8h0m-20 9h0m-33-5h0m-63-3h0m91 17h0m14-7h0m5 9h0m12-3h0m-34 9h0m-17 4h0m-16 2h0m-390-10h0m-9 2h0m383 17h0m4-5h0m5 9h0m17-1h0m20-1h0m14-9h0m4 0h0m21 3h0m4 5h0m14-5h0m7-1h0m1 11h0m-5 7h0m-6-1h0m-2-3h0m-16-2h0m-1 3h0m-9-3h0m-4 6h0m-1-5h0m-6 5h0m-31-5h0m-18-3h0m-13 1h0m-3-1h0m-46 9h0m-92-3h0m-9 14h0m164 2h0m16-9h0m5 10h0m4-4h0m10-6h0m1 8h0m15-5h0m19 6h0m20-1h0m0-5h0m2-3h0m-2 21h0m-5-9h0m-8 1h0m-4 7h0m-31-7h0m-29 7h0m-10-7h0m-100 0h0m110 18h0m23-8h0m35 9h0m3-2h0m19-7h0m-24 16h0m-14 2h0m-258 5h0m-28-7h0m-134 3h0m113 15h0m2 11h0m21 4h0m-120 28h0m53 4h0m154 66h0"/>
<path stroke="#f5c4ac" d="M148 163h0m290 47h0m-13 13h0m29-7h0m1 3h0m32 19h0m-19 0h0m-8 0h0m-16-10h0m-38 3h0m-26 2h0m33 14h0m16-2h0m10-2h0m3-3h0m4 10h0m4-2h0m8-6h0m20-2h0m-10 12h0m-7 9h0m-55 13h0m45-5h0m55 12h0m-90-1h0m-13-1h0m24 9h0m2 5h0m6 4h0m13-5h0m9 1h0m0 5h0m45-10h0m18 5h0m-54 17h0m-5-3h0m-3 2h0m-41-3h0m-1-5h0m-224 19h0m171-8h0m42 9h0m18-6h0m10-1h0m3 12h0m-9 7h0m-2-4h0m-15 0h0m-205 14h0m232-4h0m8-2h0m12-1h0m-38 12h0m-6 5h0m-29-1h0m-39-4h0m-15 0h0m-13 8h0m-39 2h0m-30-4h0m106 14h0m2-3h0m5 0h0m28 4h0m3-3h0m1-3h0m20-3h0m-188 15h0m47 9h0m47 0h0m9 0h0"/>
<path stroke="#cedaeb" d="M326 103h0m-36 65h0m-187 32h0m14-2h0m31-6h0m1 11h0m20-4h0m255 9h0m-113 5h0m-151-8h0m-10 8h0m0-3h0m-46-1h0m-7 10h0m6 6h0m20-9h0m30 7h0m20-4h0m2 7h0m132-5h0m27 6h0m36-7h0m62 0h0m7-4h0m21 7h0m-8 11h0m-17-4h0m0 4h0m-22-2h0m-16-2h0m-68 5h0m-37 0h0m-109 3h0m-21-9h0m-21 0h0m-1 7h0m-17 1h0m-2-6h0m-12 19h0m4-5h0m35-5h0m33 1h0m2 7h0m42-3h0m158-5h0m18 6h0m16-1h0m41 5h0m-12 11h0m-86-7h0m-4 0h0m-187 7h0m-2-6h0m-62 1h0m-5-4h0m-3 10h0m11 2h0m15 8h0m8 2h0m44-2h0m119-5h0m51 7h0m21 0h0m6 1h0m10-2h0m48 3h0m-1 8h0m-124 3h0m-4-2h0m-53-1h0m-108 0h0m-30-1h0m11 9h0m2-4h0m178 4h0m78 0h0m34 3h0m20-4h0m-25 16h0m-49 3h0m-2-10h0m-39 3h0m-39 3h0m-95-3h0m-43 11h0m79-1h0m32 10h0m4-3h0m4 0h0m36 1h0m10-4h0m20 6h0m3-4h0m45-5h0m6 7h0m71-4h0m-46 12h0m-8-5h0m-56 1h0m-7 9h0m-4-1h0m-19 0h0m-8-6h0m-25 8h0m-3-1h0m-108-9h0m0 4h0m-12-5h0m12 12h0m7 6h0m2-3h0m2-3h0m31 9h0m5-2h0m3-5h0m6 3h0m3-2h0m10-2h0m32 5h0m6 1h0m3 0h0m3-1h0m11-1h0m6 2h0m13-1h0m8 4h0m27-6h0m25 9h0m-3 4h0m-7 0h0m-1-3h0m-25-2h0m-44 7h0m-20-1h0m-3-2h0m-11 4h0m-4 0h0m-14-6h0m-16 3h0m-27-2h0m11 13h0m5-3h0m29 1h0m5-2h0m7 8h0m2-5h0m6-3h0m13 11h0m6-4h0m9 1h0m6-8h0m7 1h0m27 5h0m21 0h0m23 4h0m38-10h0m-61 16h0m-5-2h0m-33 8h0m-4 0h0m-9-8h0m-30 0h0m-19-1h0m29 11h0m9 1h0m4 1h0m7-1h0m5 1h0"/>
<path stroke="#ead5c9" d="M327 92h0m-114 25h0m199 93h0m-22 3h0m-37-8h0m-16 9h0m-256 3h0m316 2h0m54 3h0m1 5h0m29 12h0m-32-3h0m-10-5h0m-161 12h0m147 0h0m91-2h0m-51 16h0m-46 4h0m-84-1h0m-38 0h0m44 9h0m45 1h0m17-2h0m4 1h0m31-5h0m16 17h0m-2-4h0m-28 6h0m-7 3h0m-58 9h0m7-7h0m73 6h0m-2 17h0m-13-7h0m-3 5h0m0-8h0m-299 2h0m13 13h0m77 6h0m198 1h0m63 1h0m-35 7h0m-8-2h0m-9-4h0m-7 1h0m-71 7h0m-87 1h0m-89-2h0m36 10h0m99 5h0m6-9h0m30 1h0m19 2h0m28 4h0m31 11h0m-4 1h0m-15-3h0m-4 2h0m-36 2h0m-44 0h0m-52-2h0m-63-6h0m-21 5h0m44 5h0m8 1h0m51 9h0m19-6h0m18-4h0m15 7h0m6-3h0m8 5h0m7-8h0m13 3h0m15 5h0m17-1h0m-20 5h0m-16 3h0m-41 3h0m-22-1h0m-32 5h0m-25-3h0m-26-5h0"/>
<path stroke="#f5a081" d="M461 219h0m13 2h0m0-5h0m9 4h0m18 13h0m-15 0h0m-6-1h0m-3 5h0m-3-5h0m-1 3h0m-8 0h0m7 11h0m44 7h0m-48 3h0m-16-4h0m-34 17h0m43-5h0m5 6h0m44 10h0m-25 1h0m-16-4h0m-13 9h0m-12-5h0m-6 4h0m-25-1h0m79 11h0m25 3h0m-48 10h0m-51 8h0m75-4h0m-24 21h0m-3-2h0m-19 2h0m-4 1h0m-10-3h0m8 10h0m12-4h0m-13 11h0m-9 2h0m-2 3h0m-4 1h0m-21 4h0m-15-8h0"/>
<path stroke="#f0cdbb" d="M205 137h0m255 78h0m-3-3h0m-74-7h0m-1 6h0m67 6h0m22 1h0m6 5h0m0-5h0m25 19h0m-40-4h0m-4 1h0m-27 2h0m-5-3h0m0 5h0m-8-9h0m-8 15h0m11 1h0m17 6h0m15-8h0m2 18h0m-3-3h0m-40 12h0m32 2h0m25-1h0m2 3h0m-7 4h0m-17 7h0m-4 0h0m-1-8h0m-10 3h0m-102 11h0m174 0h0m-23 15h0m-29 4h0m-20-10h0m-21 1h0m-14 3h0m-26 3h0m-177 3h0m-32-2h0m215 9h0m23 3h0m18 2h0m8 0h0m26 2h0m-3 4h0m-27 4h0m-21-2h0m-78 0h0m-160 11h0m41 5h0m196-6h0m21-3h0m1 18h0m-30 4h0m-17-2h0m-14 2h0m-75-5h0m-11 1h0m-48 4h0m-8-6h0m-33 6h0m8 3h0m42 6h0m11-5h0m10-1h0m2 3h0m11 3h0m14 3h0m15-3h0m11-2h0m15 3h0m27-3h0m45-1h0m2-4h0m3 0h0m-42 18h0m-15-2h0m-1 4h0m-33-6h0m-44 5h0m-15-2h0m-38-5h0"/>
<path stroke="#ed8366" d="M428 226h0m41-5h0m27 6h0m16 11h0m-7-5h0m-6-2h0m-19 5h0m-3-3h0m-8 13h0m42 6h0m-18 1h0m-16 1h0m-20 10h0m45 9h0m12 1h0m5 0h0m5 11h0m-21-9h0m-8 0h0m-7 3h0m-1 7h0m-6-6h0m22 15h0m8 0h0m3 8h0m-28 18h0m5-4h0m-11 8h0m-11-1h0m-1 3h0m-26 4h0m-14 7h0m13-1h0m5 6h0m8-2h0m-59 10h0"/>
<path stroke="#d8dce2" d="M305 99h0m-209 104h0m20-2h0m248 2h0m5 0h0m45 3h0m-4 8h0m-9-9h0m-8 0h0m-43 3h0m-82-2h0m-105 7h0m-23 2h0m-3-2h0m-3 0h0m-43 1h0m9 5h0m26-2h0m24 5h0m1 4h0m141-1h0m84-3h0m45 2h0m15-5h0m39 8h0m-51 2h0m-3 4h0m-69 1h0m-200-1h0m-6 10h0m194 6h0m37-7h0m12 7h0m60-9h0m-77 15h0m-4 3h0m-7 1h0m-13-3h0m-62-1h0m-30 7h0m-23-8h0m-57 8h0m-57-2h0m86 6h0m122 8h0m3-7h0m4 0h0m17 1h0m3-3h0m9 1h0m20 0h0m8 4h0m9 2h0m42-8h0m5 1h0m-13 21h0m-40-9h0m-37 3h0m-9 7h0m-102-11h0m-24 9h0m-94 1h0m-30-9h0m40 12h0m94 2h0m28-2h0m72-1h0m2 6h0m7 5h0m7-7h0m49 3h0m19-4h0m44 5h0m-69 9h0m-23 6h0m-3-10h0m-5 5h0m-4 1h0m-11-4h0m-4 0h0m-72 5h0m-44-6h0m-76 6h0m95 14h0m37-3h0m13-1h0m6-1h0m9 1h0m4-5h0m8 4h0m15-4h0m10 10h0m24-5h0m44 2h0m-22 13h0m-11-4h0m-5-3h0m-29 7h0m-9-5h0m-72-3h0m-12 4h0m-7 3h0m-76 2h0m27 4h0m43 0h0m1 4h0m15 5h0m2-8h0m5 1h0m23-1h0m6 4h0m5 4h0m2-9h0m11 9h0m1-8h0m3 7h0m18-6h0m3 4h0m17-5h0m6 6h0m29-9h0m4 3h0m1 8h0m-11 2h0m-4 2h0m-13-2h0m-25 4h0m-2 6h0m0-10h0m-10 7h0m-20 1h0m-9-6h0m-17-3h0m-49 11h0m-7-8h0m-27 5h0m-4-8h0m-8 1h0m-2 5h0m-8-2h0m-5-3h0m72 18h0m5 1h0m35-5h0m5-1h0m17 2h0m19-2h0m9 7h0m25-1h0m25-3h0m0 7h0m-16 0h0m-29 10h0m-2-7h0m-3 7h0m-39 1h0m-22-4h0m-17 3h0m-6-6h0m-4 3h0m-8-3h0m-21-4h0m66 13h0m12 2h0"/>
<path stroke="#c4d5f3" d="M310 70h0m-222 55h0m145 26h0m-23 6h0m-95 17h0m83-4h0m41 3h0m-110 28h0m11-4h0m61 2h0m5-7h0m136 11h0m87 8h0m-52-5h0m-17-2h0m-3 5h0m-42 3h0m-162 2h0m-12-2h0m-4-3h0m-22 6h0m-23-6h0m-6 0h0m14 15h0m3-7h0m6 1h0m61 8h0m54-1h0m62-1h0m14-1h0m41 2h0m25-2h0m37-5h0m-1 10h0m-12 7h0m-17 4h0m-22-1h0m-22-8h0m-15 8h0m-13-7h0m-55 1h0m-76 1h0m-15 1h0m-42 14h0m61-1h0m35 3h0m93-6h0m28 0h0m25 3h0m10-4h0m1 7h0m19 0h0m1-6h0m10 4h0m9-1h0m11 4h0m-1 7h0m-6-2h0m-32-3h0m-5 10h0m-27-5h0m-6-2h0m-2-4h0m-21 7h0m-92-3h0m-45 4h0m-13-1h0m-26-4h0m-12-1h0m-5 6h0m-23-5h0m7 19h0m64-10h0m39 10h0m5-4h0m130-6h0m1 4h0m6 4h0m25 3h0m31 6h0m-73-1h0m-23-4h0m-97 4h0m-29 4h0m-1-7h0m-28 4h0m-8-3h0m-3-2h0m-7 2h0m-25 7h0m21 7h0m17 5h0m30-7h0m13 3h0m21 2h0m10-2h0m4 4h0m20-9h0m24 2h0m2 3h0m15 6h0m53-4h0m11 1h0m47 3h0m1-5h0m10 14h0m-59-4h0m-22-4h0m-24 5h0m-15 0h0m-11 3h0m-28-3h0m-4 0h0m-1 4h0m-23 0h0m-13-4h0m-16-4h0m-6 3h0m-9 2h0m-30 3h0m-11 10h0m16-7h0m1 7h0m3-1h0m7-6h0m40 5h0m41 6h0m29-6h0m7 4h0m7-7h0m8 8h0m10 0h0m21-5h0m8-1h0m3 3h0m13-7h0m26 3h0m10 4h0m-49 10h0m-15 1h0m-7-2h0m-19 2h0m-4-5h0m-4 0h0m-18 5h0m-18 1h0m-5-5h0m-9 7h0m-25-3h0m-15-6h0m-6 10h0m-1-3h0m-2 4h0m-3-11h0m-16 8h0m-12 1h0m-4-6h0m1 14h0m6 2h0m40-3h0m6 1h0m13 4h0m4-6h0m12 6h0m3 0h0m2-8h0m5 0h0m0 9h0m3-9h0m6 10h0m5-3h0m18-4h0m19 1h0m6 6h0m35-2h0m5-1h0m13-2h0m2 3h0m5 1h0m-34 6h0m-9 6h0m-5 0h0m-6-4h0m-14 1h0m-43-3h0m-5-2h0m-11 7h0m-9-1h0m-8 0h0m-6-6h0m-13 3h0m-1 3h0m-15-4h0m22 19h0m32-8h0m7-2h0m1 10h0m12-5h0m12-3h0m6-2h0m3 5h0m18-1h0m13 3h0m28 0h0m-5 10h0m-30-3h0m0-3h0m-21 9h0m0-8h0m-12 9h0m-45-5h0m80 8h0"/>
<path stroke="#f29274" d="M455 223h0m39 1h0m15 15h0m-29-11h0m-8 1h0m-3 4h0m-9 12h0m42 5h0m18-5h0m-14 7h0m-32 2h0m-16 4h0m-2-3h0m31 19h0m28 10h0m-6-7h0m-4 9h0m-6-7h0m-64-2h0m10 21h0m8-3h0m31 3h0m15-7h0m6 17h0m-19 2h0m-14-4h0m-43-3h0m12 10h0m-11 11h0m-11 29h0m-113 14h0m68 5h0"/>
<path stroke="#e1dad6" d="M198 72h0m253 141h0m-18-3h0m-35-2h0m-25 3h0m-10-3h0m-39-1h0m-76 14h0m200 8h0m-5 3h0m-13 0h0m-15 5h0m-59-1h0m-186 0h0m-32 3h0m-3 11h0m77-1h0m148-4h0m36-5h0m35 0h0m4 3h0m-55 19h0m-89-2h0m-12-6h0m-153 6h0m232 6h0m60 9h0m40 4h0m-22 2h0m-205-3h0m-73 19h0m263-6h0m25-3h0m4 10h0m3-8h0m6-1h0m-26 16h0m-4 4h0m-39 1h0m-19-7h0m-22 7h0m-17-1h0m-1-6h0m-175-2h0m-32 7h0m47 13h0m53-5h0m59 1h0m11-5h0m59 3h0m12 6h0m19-2h0m62-2h0m-42 16h0m-2-9h0m-5 6h0m-125 2h0m-6 2h0m-6-3h0m-22-5h0m-14 5h0m-2 4h0m-51-10h0m-8 3h0m-9 5h0m-5-7h0m138 17h0m52 1h0m3-3h0m11 5h0m23-4h0m2 3h0m6-7h0m3 3h0m56 4h0m-45 3h0m-15 8h0m-3 0h0m-17-2h0m-10 4h0m-1-7h0m-10-1h0m-39 5h0m-11 2h0m-17-5h0m-29 5h0m-4-3h0m-5 5h0m-27-2h0m-19-8h0m-2 8h0m2 5h0m3 4h0m8 1h0m6 0h0m10-4h0m3 0h0m8 2h0m16 5h0m21-2h0m37 3h0m7-11h0m3 3h0m9 8h0m9-8h0m5-1h0m2 6h0m4-8h0m2 2h0m21 5h0m16-1h0m5-5h0m1 3h0m7 4h0m-26 7h0m-16 3h0m-11 0h0m-15-6h0m0 7h0m-30 0h0m-26 3h0m-7 0h0m-35-4h0m78 7h0"/>
<path stroke="#6e90f2" d="M373 34h0m47 13h0m-4 0h0m-15-1h0m-7 0h0m-2-4h0m-5-3h0m-9-2h0m-57 7h0m-11-1h0m-18-1h0m-2-4h0m-24 6h0m-4 0h0m-5 2h0m-17 13h0m8-7h0m12 2h0m2-2h0m29-2h0m36-2h0m1 4h0m7-3h0m16 9h0m50-2h0m5-6h0m12 0h0m17 4h0m62 16h0m-2 1h0m-40-7h0m-8-1h0m-24-3h0m-1 3h0m-2 1h0m-12-3h0m-33 9h0m-10-5h0m-11 2h0m-6-2h0m-8-1h0m-18 5h0m-17 1h0m-12-4h0m-6-6h0m-43 4h0m-27-1h0m46 20h0m22-6h0m34-5h0m12 9h0m16-7h0m6 6h0m1 2h0m12-6h0m2-2h0m1 3h0m3-3h0m0 5h0m10-4h0m131 18h0m-9 2h0m-23 0h0m-5-4h0m-72 1h0m-8-4h0m-4 0h0m-4-4h0m-27 10h0m-7-2h0m-13-7h0m-8 8h0m-16-4h0m-14 3h0m-18-1h0m-9 4h0m0-9h0m-3 2h0m0-4h0m-10 2h0m-18 4h0m-20 4h0m-12-3h0m-9 4h0m-24-9h0m-3 0h0m-13-2h0m-9 5h0m-24 10h0m2 3h0m33 1h0m44-1h0m4 2h0m15-4h0m7 6h0m46-8h0m11-1h0m14-1h0m11 6h0m1 5h0m32-1h0m13 0h0m5-6h0m4 0h0m7 4h0m9-7h0m17-1h0m2 4h0m2 5h0m1-4h0m2 2h0m6 0h0m3 4h0m1-6h0m6 4h0m12 2h0m45-9h0m8 7h0m21-3h0m13-1h0m17 17h0m-18-2h0m-7-7h0m-4 1h0m-5 9h0m-23 0h0m-19-6h0m-10-1h0m-7-1h0m-5-2h0m-3 0h0m-2 8h0m-2-3h0m-20 1h0m-15 1h0m-8-1h0m-3 0h0m-8-1h0m0-3h0m-2-3h0m-9 1h0m-10 7h0m-21 1h0m-2-3h0m-5 5h0m-6-3h0m-7 1h0m-44-8h0m-12 5h0m-35 2h0m-8 3h0m-7-6h0m0-3h0m-51 5h0m-2 3h0m-62-5h0m-3-1h0m-5 5h0m-1-5h0m-3 5h0m-18 12h0m2-3h0m1 2h0m5-8h0m8 8h0m2-7h0m41 2h0m23 2h0m5 1h0m68-6h0m11 2h0m25 2h0m24 5h0m7-2h0m36 0h0m14-7h0m2 3h0m2 8h0m4-11h0m2 2h0m0 4h0m3-2h0m5 6h0m9-10h0m2 7h0m4-2h0m11 2h0m2-4h0m1 6h0m2-3h0m0 5h0m25-9h0m1 3h0m6 2h0m3 1h0m8-1h0m3 1h0m4-8h0m17 7h0m23 2h0m3 1h0m1-4h0m4-2h0m21 0h0m13 7h0m6-7h0m19 15h0m-40 2h0m-3-1h0m-2 1h0m-15-6h0m-13 3h0m-1 4h0m-9-2h0m-20-6h0m-4 0h0m-29 9h0m-3-2h0m-11-3h0m-4-6h0m-15 4h0m-4 1h0m-9 1h0m-8-5h0m-3 7h0m-5 1h0m-6-6h0m-9-3h0m-2 2h0m-17 8h0m-6-3h0m-1 3h0m-9-2h0m-1-4h0m-2 7h0m-17-6h0m-3-3h0m-15-2h0m-13 11h0m-4-2h0m-13-4h0m-55-2h0m-20 4h0m-6-1h0m-19-3h0m-15 7h0m-2-1h0m-34-9h0m-10 3h0m-3-3h0m-7 6h0m53 11h0m23-2h0m8-3h0m5 0h0m7 10h0m20 1h0m18-2h0m52 2h0m38-10h0m3 0h0m15 0h0m3 0h0m2 3h0m3 4h0m20 0h0m29 1h0m1-7h0m3 9h0m6-10h0m12 9h0m8-10h0m4 4h0m2 7h0m5-1h0m7-9h0m2 2h0m2 7h0m11-4h0m5 2h0m0-7h0m10 10h0m11 0h0m9-1h0m13-3h0m14-6h0m2 7h0m38-5h0m0 7h0m3-10h0m16 11h0m1-11h0m10 7h0m-7 15h0m-43-10h0m-7 7h0m-4-5h0m-4 5h0m-9 1h0m0-3h0m-10-2h0m-5 7h0m0-6h0m-5 1h0m-2 1h0m-3 3h0m-8-7h0m-32 2h0m-1 7h0m-9-9h0m-2 2h0m-6-3h0m-5 5h0m-1 5h0m-3-1h0m-4-10h0m-19 5h0m-6-2h0m-1 4h0m0 4h0m-16-10h0m-6 10h0m-9-10h0m-7 0h0m-4 6h0m-2-7h0m-9 0h0m-4 9h0m-31-7h0m-4-2h0m-93 0h0m-48 11h0m-82 6h0m93 4h0m39-1h0m107-4h0m8 4h0m7-1h0m4-3h0m13 1h0m1-5h0m1 3h0m0 4h0m5 3h0m20-10h0m21 6h0m15-6h0m8 6h0m4 3h0m0-5h0m5 1h0m20 2h0m2-2h0m15 2h0m3-4h0m3-3h0m11 7h0m16-4h0m13 4h0m43 4h0m4-6h0m3 2h0m7 0h0m9-4h0m13 1h0m-3 10h0m-7 5h0m-7-1h0m-6-2h0m-10 4h0m-3-1h0m-19-1h0m-5-1h0m-21 0h0m-2 3h0m-13-2h0m-28-6h0m-10 4h0m-11-2h0m-3 1h0m-2 1h0m-8 7h0m-7-3h0m-1-5h0m-11-2h0m-1 7h0m-3 1h0m-5-8h0m-3 9h0m-15 0h0m-4-10h0m-3 9h0m-4 1h0m-4-5h0m-5-5h0m-3 1h0m-3 3h0m-9-1h0m-5-3h0m-67 1h0m-64 9h0m-32-6h0m-24 5h0m-67-8h0m-21 5h0m-1 3h0m-2-3h0m20 7h0m1 2h0m3 5h0m118 0h0m21-4h0m88 5h0m138-9h0m29 5h0m26 2h0m4-5h0m4 0h0m2 9h0m13-9h0m25 9h0m13-10h0m5 4h0m-26 17h0m-135-5h0m-38 5h0m-30-2h0m-32-7h0m-14 2h0m-5 2h0m-10-3h0m-3 1h0m-8 6h0m-35 0h0m-22-3h0m0-3h0m-66-1h0m42 11h0m40 10h0m3-7h0m10-3h0m15-1h0m21 11h0m6 0h0m0-9h0m9-2h0m10 16h0m-4 3h0m-48 3h0m-22-3h0m-104 4h0m-6 4h0m126 3h0m37 3h0m71 14h0m-41-5h0m-8 3h0m-16 0h0m-7-2h0m-7 1h0m-13-2h0m-53 0h0m-7-3h0m-43-2h0m-26 7h0m44 12h0m21-8h0m19 5h0m70-5h0m43 2h0m46 13h0m-130-2h0m-4 6h0m-14-7h0m-22 9h0m-9 1h0m-27-6h0m-10 2h0m-5-4h0m-20 17h0m5-3h0m38-1h0m9 8h0m72-5h0m26 5h0m21-10h0m95 14h0m-74 4h0m-55-4h0m-4 1h0m-16-3h0m-33 17h0m24 5h0m13 8h0m-57-4h0"/>
<path stroke="#5572df" d="M403 44h0m-4 0h0m-2 0h0m-68 1h0m70 3h0m3 2h0m2 5h0m2 1h0m10 2h0m4-4h0m4-4h0m4-2h0m1 7h0m9 3h0m1-6h0m62 14h0m-1 3h0m-9-5h0m-2-3h0m-2 4h0m-6-4h0m-2 3h0m-8-1h0m0-3h0m-8 0h0m-3 0h0m-5 7h0m-2-2h0m-9-5h0m-6 5h0m-7 0h0m-3-5h0m-2 4h0m-9 1h0m-3-1h0m-72-3h0m-175 22h0m56-6h0m110 1h0m51 3h0m84-1h0m1 3h0m41-9h0m1 3h0m1-3h0m-1 17h0m-2 3h0m-113-2h0m-11-6h0m-20 9h0m-26-3h0m-47 0h0m80 13h0m3-9h0m38 1h0m2 3h0m17 4h0m57-2h0m1 2h0m6-2h0m5-5h0m7 1h0m31 15h0m-2-2h0m-4 5h0m-1 3h0m-2-4h0m-12-3h0m-12 3h0m-2-5h0m-2 8h0m-9-8h0m-14 4h0m-13 1h0m-6 0h0m-2 4h0m-34-6h0m-26-4h0m-7 4h0m-9 4h0m-4-5h0m-20 6h0m-3-5h0m-4 0h0m-3 5h0m-96-8h0m-4 6h0m-143-5h0m-14 2h0m-2 3h0m-17 10h0m6-2h0m1 4h0m2-3h0m2 4h0m1-4h0m216-5h0m17 1h0m58 3h0m48 5h0m8-6h0m3 4h0m1 3h0m7 1h0m15-6h0m33 4h0m25 0h0m3-2h0m6-7h0m11 8h0m10 2h0m1-9h0m1 4h0m2 4h0m7 14h0m-7-2h0m-1-5h0m-1-3h0m-1 6h0m-2-6h0m-9 6h0m-6-2h0m0-5h0m0 10h0m-2-3h0m-8 0h0m-19-6h0m-7-1h0m0 5h0m-23-4h0m-12 0h0m-3 9h0m-4 1h0m-29-1h0m-23-2h0m-3-2h0m-3 2h0m-26 0h0m-4-1h0m-68 4h0m-8-3h0m-207-4h0m-2-2h0m-3 6h0m-9-3h0m-7 6h0m-1-2h0m77 10h0m150-7h0m73 4h0m10 4h0m3-4h0m7-3h0m4 10h0m14-11h0m16 7h0m21 4h0m0-6h0m3 3h0m21 1h0m19-8h0m2 10h0m1-8h0m2 3h0m23-6h0m5 3h0m3 4h0m1-4h0m24 8h0m3-3h0m9-3h0m4-5h0m3 9h0m3 1h0m0 7h0m-4 6h0m-30-5h0m-5 5h0m-3-11h0m-5 2h0m-5 8h0m-7-6h0m-3 4h0m-1-3h0m-21 6h0m-8-4h0m-4 2h0m-12 2h0m-9-3h0m-8 2h0m0-8h0m-5 2h0m-12-3h0m-12 0h0m-15 3h0m-31-1h0m-2 6h0m-15-7h0m-40 6h0m-8-6h0m-242 13h0m1 2h0m233-4h0m71 3h0m8 5h0m20-7h0m5 0h0m6 0h0m8 9h0m3-4h0m23-3h0m1 7h0m3-8h0m12-1h0m25-1h0m0 4h0m4 0h0m32-2h0m2-3h0m41 1h0m7 6h0m2 1h0m-13 14h0m-13-10h0m-24 8h0m-9 0h0m-5-8h0m-1 9h0m0-6h0m-2 4h0m-2 4h0m-3-8h0m-6-1h0m-1 6h0m-4-3h0m-16 6h0m-9-1h0m-1-3h0m-17-6h0m-1 3h0m-1 4h0m-33 1h0m-10-4h0m-1-5h0m-10 3h0m-25 6h0m-286-8h0m-2 2h0m-12-1h0m121 21h0m110-4h0m140-7h0m12 0h0m10 2h0m9 0h0m4 0h0m9 4h0m13 3h0m5-4h0m3 0h0m1 6h0m6-8h0m26 6h0m6-6h0m3 4h0m4-6h0m0 3h0m3-4h0m7 13h0m-5 2h0m-7-2h0m-3 9h0m-4 0h0m-4-7h0m-14 0h0m-271 0h0m-3 1h0m-11 4h0m-3 1h0m-51 0h0m-57 8h0m124 6h0m19-10h0m36 6h0m7 3h0m12 3h0m-41 0h0m-47 8h0m-14 10h0m31 2h0m26 1h0m-124 8h0m-37 17h0m95-9h0m40 6h0m86 5h0m-31 3h0m-119 38h0m98 39h0"/>
<path stroke="#6282ea" d="M373 31h0m40 15h0m-9 1h0m-7 0h0m-6-2h0m-77-1h0m-7 0h0m-7 3h0m-11 0h0m-10-7h0m-4 15h0m20-7h0m48 5h0m12 6h0m43-7h0m3 1h0m3 5h0m62 3h0m-8 0h0m-1 10h0m-17-7h0m-4-2h0m-1 3h0m-2 1h0m-3 1h0m-11-6h0m-3 0h0m-44 9h0m-10-3h0m-160 15h0m10-2h0m26-5h0m20 7h0m67-7h0m15-2h0m1 3h0m1 7h0m12-6h0m4-4h0m5 2h0m3 4h0m19-3h0m8 5h0m70-5h0m2 5h0m55 12h0m-13-1h0m-34-6h0m-66 7h0m-21-1h0m-17-8h0m-32 0h0m-85 10h0m-5 0h0m-134 9h0m174-2h0m15-3h0m14 7h0m54-8h0m7 10h0m9-11h0m20 8h0m20 0h0m79-6h0m7 3h0m0-5h0m20 8h0m9 7h0m-19 1h0m-6 3h0m-17-1h0m0 4h0m-3-10h0m-6 3h0m-2-2h0m-5 4h0m-7 0h0m-12-1h0m-10 4h0m-7-2h0m-9 4h0m-6 1h0m-3-3h0m-5 1h0m-2 2h0m0-7h0m-4 6h0m-3 0h0m-9-10h0m-1 3h0m-2-2h0m-13 9h0m-12-3h0m-19-4h0m-2-2h0m-9 5h0m-2-4h0m-28 8h0m0-8h0m-4 1h0m-20 3h0m-18-5h0m-40 6h0m-6 3h0m-131-10h0m-2 5h0m-27 16h0m14-7h0m3 8h0m206-8h0m24 2h0m77-3h0m15 0h0m15 4h0m2-3h0m1 9h0m2-7h0m5-2h0m11 9h0m15-8h0m25 2h0m1-4h0m17 8h0m0-4h0m15-3h0m5 7h0m8 1h0m13-7h0m9 15h0m-2-5h0m-16 9h0m-9-8h0m-26 7h0m-3-9h0m-10 1h0m-3-1h0m-1 4h0m-8 3h0m0-4h0m-3 0h0m-32 1h0m-7 6h0m-4 0h0m-39-5h0m-6 5h0m-3-3h0m-2-5h0m-1 6h0m-2-7h0m-9-1h0m-1 4h0m-13-3h0m-185 1h0m-11-1h0m-68-1h0m-7 2h0m-4 4h0m-10 2h0m-2 1h0m-4 0h0m0-4h0m206 14h0m1-3h0m3 3h0m17-3h0m26 1h0m1-5h0m3 3h0m2 2h0m35 5h0m2-3h0m9-7h0m1 4h0m4 4h0m6 1h0m3-2h0m1-6h0m2 4h0m2 3h0m0-6h0m5 3h0m3-2h0m4 4h0m2-4h0m1 3h0m2-2h0m4 7h0m0-11h0m3 10h0m14-1h0m2-7h0m20 7h0m3-6h0m30 5h0m7-4h0m3 7h0m15-6h0m3 2h0m16 1h0m3-1h0m17 2h0m9-2h0m1 4h0m3-7h0m-4 14h0m-2-3h0m-10-3h0m-6 0h0m-5 11h0m-6-1h0m0-9h0m-1 3h0m-17 1h0m-5 5h0m-8-7h0m-12 7h0m-8-4h0m-1-5h0m-15 8h0m-2-8h0m-15 5h0m-2-6h0m-1 6h0m-13-6h0m-6 6h0m-20-4h0m-5 5h0m-5-1h0m-3-5h0m-4 3h0m-2-4h0m-1 3h0m-2-1h0m-2 3h0m-8 3h0m-5-8h0m-4 5h0m-29-1h0m-12-4h0m-2 9h0m-7-9h0m-28 4h0m-2 7h0m-106-3h0m-10-3h0m-115 13h0m2 4h0m2-7h0m234 0h0m6 1h0m8-1h0m7 8h0m10-1h0m20 0h0m4 0h0m4-9h0m22 3h0m3 7h0m7-1h0m16 1h0m6-3h0m4 3h0m1-7h0m2 3h0m4-3h0m4 5h0m5-6h0m5-1h0m3 9h0m26-8h0m14 3h0m0 5h0m4-3h0m11-5h0m3-2h0m0 4h0m3-2h0m0-3h0m15 1h0m13 9h0m5-2h0m8-7h0m1 7h0m8 2h0m6-5h0m1 4h0m5-2h0m7-2h0m2-2h0m2 7h0m-3 10h0m0-3h0m-1-3h0m-3 2h0m-4 1h0m-7 4h0m0-5h0m-16 7h0m-3-2h0m-6-8h0m-3 4h0m-1-3h0m0 8h0m-14-2h0m-13-4h0m-7 7h0m-16-4h0m0-3h0m-3 3h0m-1 4h0m-2-8h0m-1 6h0m-6 1h0m-3-3h0m-6-6h0m-2 3h0m-1 3h0m-5 4h0m-2-8h0m-10-3h0m-6 6h0m-2-5h0m-3 10h0m-1-9h0m0 5h0m-3-4h0m-2 3h0m-1-4h0m-3 2h0m-2-4h0m-6 10h0m-5 1h0m-10-3h0m-3-4h0m-2-4h0m-1 5h0m-7 5h0m-24-6h0m-6 2h0m-12-6h0m-84 3h0m-164-2h0m-3 0h0m-9 3h0m-1 7h0m-3-8h0m-1 7h0m-1-4h0m-2-1h0m-7-4h0m-2 2h0m-3 0h0m243 13h0m116-4h0m6 0h0m12 0h0m21 2h0m10 0h0m3 0h0m13 4h0m23 2h0m4-2h0m5 3h0m23-6h0m5 1h0m1 4h0m2 3h0m3-7h0m13 4h0m5 1h0m-12 9h0m-8-4h0m-4 3h0m-4 2h0m-23-7h0m-198 8h0m-10-5h0m-13 2h0m-56 0h0m-86-4h0m-57 0h0m-5 1h0m46 10h0m10 10h0m26 1h0m61-11h0m6 9h0m52-6h0m42-1h0m-61 21h0m-20-8h0m-4-1h0m-11 0h0m-14 1h0m-46-1h0m-35 13h0m81 7h0m1-8h0m6-2h0m0 6h0m28 0h0m23-5h0m3 12h0m-32 8h0m-30-2h0m-107-2h0m78 10h0m42-1h0m34-2h0m-62 22h0m-65-8h0m32 16h0m16-5h0m47-1h0m16 2h0m8 8h0m10-4h0m45-2h0m3-3h0m39 5h0m-185 15h0m97 4h0m-106 13h0m42 20h0m34-8h0m57 8h0m-6 15h0"/>
<path stroke="#c73635" d="M508 235h0m-9 14h0m28-1h0m-47 27h0m16 20h0m16-4h0m0 7h0"/>
<path stroke="#4a63d3" d="M365 25h0m11 8h0m48 14h0m-14-1h0m-3-1h0m-18-3h0m-4-1h0m34 17h0m2-7h0m5 6h0m2-5h0m3-2h0m8 6h0m3 0h0m3 0h0m64 15h0m-6 0h0m-9-8h0m-1 6h0m-4-1h0m-7-4h0m-5-3h0m-4 0h0m-30 2h0m-2-2h0m-3 1h0m-9 0h0m-5 4h0m39 13h0m8 4h0m29-11h0m7 2h0m-27 19h0m-4-5h0m-89 1h0m-15 5h0m-49 5h0m96 1h0m96-2h0m16 3h0m4 7h0m-6 3h0m-1 8h0m-9 0h0m-11-2h0m-1-6h0m-56 4h0m-16 2h0m-6-4h0m-328-5h0m-22 22h0m414-9h0m4-1h0m0 8h0m24-3h0m1-3h0m2 2h0m1 3h0m4-5h0m6-1h0m3 4h0m5-5h0m-64 14h0m-53 6h0m-36 3h0m-40-9h0m-34 5h0m-242-1h0m-3 1h0m-7 4h0m153 1h0m132 5h0m40-2h0m41 1h0m5-4h0m3 6h0m39 0h0m8-5h0m35 9h0m10-3h0m4 2h0m12-1h0m4 1h0m9 12h0m-4-6h0m-28 6h0m-1-8h0m-5 7h0m-2-2h0m-15 3h0m-10 2h0m-9-9h0m-37 7h0m-79 8h0m0 3h0m30 0h0m48 3h0m26-2h0m4-2h0m9 4h0m23-3h0m7-3h0m6-4h0m16 10h0m17 0h0m-5 2h0m-18 2h0m-1 4h0m-3-3h0m-13 3h0m-13 4h0m-33-6h0m-16 1h0m-32-3h0m-41 0h0m-36 4h0m97 7h0m24-1h0m34 6h0m1-5h0m2 3h0m19-5h0m6 6h0m11-4h0m10-1h0m2 6h0m2-4h0m-21 16h0m-3-1h0m-6-6h0m-5 9h0m-3-4h0m-3-3h0m-6-1h0m-4 0h0m-240 9h0m-19-2h0m-110 6h0m135 0h0m-33 19h0m-25-8h0m-74 4h0m127 10h0m-2 13h0m-64 13h0m92 15h0m-128 6h0m5 20h0"/>
<path stroke="#7a9df8" d="M367 28h0m3 3h0m37 16h0m-24-8h0m-58 6h0m-15 1h0m-2 1h0m-13-7h0m-3 6h0m-46 9h0m19-5h0m26 8h0m1-4h0m5-2h0m1-3h0m2 10h0m2-3h0m8 1h0m12 1h0m9-3h0m1-3h0m63-3h0m28 5h0m0 3h0m10-7h0m14 9h0m8 1h0m-27 7h0m-60-1h0m-3 3h0m-6-7h0m-3 7h0m-6 0h0m-31-2h0m-10-6h0m-17 2h0m-2 5h0m-3 2h0m-39-6h0m-6 2h0m-9 1h0m-9-6h0m0 8h0m-2-2h0m-2-7h0m-6 10h0m-20 8h0m8-6h0m3 2h0m5 8h0m8-8h0m6 6h0m1-5h0m2 7h0m23-1h0m20 1h0m7-6h0m3 2h0m16-1h0m3 1h0m31-1h0m4 6h0m16-1h0m1-10h0m6 7h0m6 1h0m2-8h0m2 10h0m8-9h0m4 1h0m11 7h0m7 2h0m68-6h0m57 17h0m-118-5h0m-2-3h0m-3 0h0m-17-2h0m-15 4h0m-4 0h0m-2 3h0m-4-6h0m-3 0h0m-2 5h0m-10 3h0m-16-4h0m-2 5h0m-13-10h0m-8 11h0m-1-10h0m-6 9h0m-7 0h0m-12-3h0m-11-3h0m-3 6h0m-14-2h0m-7 0h0m-12 1h0m-10-5h0m-2 3h0m-2-3h0m-3-3h0m-4 10h0m-3-11h0m-16 10h0m-3-8h0m-3 0h0m-15 6h0m-5 1h0m-6-4h0m-20 16h0m10-4h0m12-1h0m0-4h0m3 1h0m8 9h0m1-9h0m48 10h0m1-10h0m3 4h0m1-4h0m6 5h0m20-5h0m12 3h0m4 6h0m2-8h0m1 5h0m3-2h0m7-5h0m5 4h0m1 4h0m35-2h0m2 3h0m3-9h0m1 3h0m13-1h0m3 4h0m3 0h0m3-3h0m11 8h0m9-2h0m41-8h0m13 7h0m15 3h0m60-8h0m25 16h0m-8 3h0m-12-5h0m-12-5h0m-6 3h0m-29 2h0m-21-5h0m-4 1h0m-4 10h0m-2-9h0m-14 4h0m-3 2h0m-6-3h0m-1 3h0m-6 2h0m-2-7h0m-4-2h0m-8 3h0m-1-4h0m-2 10h0m-3 1h0m-1-4h0m-2-6h0m-4 5h0m-19-5h0m-9 10h0m-1-3h0m-16-8h0m-1 5h0m-7 5h0m0-10h0m-1 7h0m-16-3h0m-6-2h0m-2-2h0m-18 5h0m-2 4h0m-1-6h0m-4-2h0m-24 4h0m-3-3h0m-4 9h0m-14-4h0m-9-1h0m-3-4h0m-1 4h0m-6 2h0m-38-2h0m-11 0h0m-54 3h0m-2-6h0m-9 8h0m-2-3h0m2 6h0m4 2h0m3-4h0m41 4h0m4 6h0m8-10h0m1 11h0m4 0h0m7-9h0m2 9h0m2-11h0m4 2h0m43 9h0m3-7h0m2 3h0m21-6h0m15 0h0m35 3h0m4 0h0m1 4h0m7 2h0m27-6h0m3-1h0m2-3h0m6 9h0m15-7h0m1 7h0m14-4h0m11 3h0m0-6h0m3 5h0m6 2h0m20-7h0m32 8h0m51-7h0m22-1h0m28-2h0m15 21h0m-10-4h0m-13 3h0m-8-7h0m-19-1h0m-18 3h0m-39 8h0m-9-10h0m0 4h0m-2 3h0m-5-8h0m-4 5h0m-28-1h0m-7-1h0m-5 8h0m-7 0h0m-5-7h0m0 6h0m-11 0h0m-2-6h0m-12 5h0m-16-3h0m-2-3h0m-15 1h0m-4 0h0m-4 5h0m-3-2h0m-11 0h0m-10-5h0m-3 7h0m-6-1h0m-8 3h0m-15-4h0m-9-4h0m-17-3h0m-6 3h0m-31 8h0m-27-5h0m-10-4h0m-7 5h0m-7 2h0m-10-7h0m-11 0h0m-33 2h0m-16 7h0m0-7h0m-1-3h0m-8 6h0m51 14h0m13-2h0m6-4h0m7-2h0m4-1h0m7 11h0m11-5h0m0-5h0m65-1h0m26 6h0m6-6h0m25 0h0m1 5h0m1 3h0m9-3h0m7 5h0m1-3h0m4 3h0m9-8h0m5 7h0m13 1h0m4-5h0m18 5h0m0-10h0m2 6h0m0-4h0m4 7h0m13 2h0m2-7h0m5 0h0m10 3h0m14-7h0m15 11h0m2-9h0m3 2h0m19 4h0m71 2h0m12 0h0m-12 10h0m-3-3h0m-18-5h0m-10 2h0m-2 5h0m-29-2h0m-4 0h0m-10 6h0m-17-11h0m-7 3h0m-25 6h0m-5 1h0m0-3h0m-5 2h0m-11-7h0m-1 3h0m-13-1h0m-4-4h0m-8 5h0m-13-4h0m-6 9h0m-8-5h0m-2-5h0m-3 3h0m-5 0h0m-26 4h0m-6-3h0m-2 5h0m-3-8h0m-2 2h0m0 3h0m-21-5h0m-48-1h0m-33 5h0m-20-1h0m-15 3h0m-18-6h0m-66 21h0m89-5h0m7-5h0m7 10h0m37-6h0m63 6h0m1-6h0m32-2h0m20 1h0m4 4h0m3-4h0m4 8h0m4-9h0m2 6h0m7-2h0m42-5h0m11 0h0m8 9h0m3-1h0m20 1h0m8 0h0m12 0h0m4-5h0m18 5h0m3-6h0m12 5h0m47-9h0m47 1h0m-16 21h0m-14 1h0m-51-10h0m-8-1h0m-3 1h0m-8 1h0m-16 9h0m-16-4h0m-31 4h0m-4-5h0m-2-4h0m-12 4h0m-13 0h0m-18-2h0m-2-1h0m-7 5h0m-3-4h0m-1 5h0m-7-6h0m-3 0h0m-13-1h0m-3-2h0m-84 11h0m-51-4h0m-7-4h0m-12-3h0m-31 9h0m-5 0h0m-10-2h0m-4-6h0m-11 4h0m-36 3h0m-9-6h0m-12 5h0m26 8h0m29 1h0m12 0h0m24-2h0m14 0h0m5 3h0m12 0h0m9-4h0m44 1h0m70 8h0m111-10h0m20 0h0m58 6h0m68 0h0m3-2h0m0 6h0m-176 13h0m-39-1h0m-42-6h0m-32 1h0m-17 4h0m-51-4h0m-5 0h0m-42-3h0m-10 0h0m-8 1h0m-5-3h0m-14 5h0m-6-4h0m-26 2h0m23 17h0m15-1h0m62 1h0m18 2h0m0-9h0m20 1h0m30 1h0m13-2h0m5 7h0m7-1h0m35 0h0m1-5h0m6-1h0m52 6h0m8 11h0m-10-5h0m-19 3h0m-27 2h0m-1 3h0m-11-5h0m-4-2h0m-17-1h0m-14 3h0m-78-3h0m-38 5h0m0 3h0m-9-1h0m-36 11h0m66-1h0m20-3h0m33 7h0m36-8h0m3-1h0m18 3h0m3 3h0m4-1h0m1-6h0m5 7h0m31 13h0m-1-3h0m-43 5h0m-88-2h0m34 8h0m21 3h0m43-2h0m5-4h0m6 4h0m6-1h0m35 1h0m0 18h0m-93-2h0m-81-9h0m-5 11h0m-26-1h0m-19 12h0m20-9h0m16 5h0m15-6h0m1 6h0m51-2h0m41-3h0m57 21h0m-22-8h0m-16 7h0m-2-2h0m-14-1h0m-42 3h0m-24-6h0m-1 4h0m-58 1h0m24 14h0m12-9h0m42 6h0m0-4h0m27 8h0m48-2h0m1-5h0m14 5h0m17-1h0m-40 6h0m-44 5h0m-17 3h0m-56 2h0m119 21h0m-23-2h0m-71 8h0m111 19h0m-40 0h0"/>
<path stroke="#abc8fd" d="M242 56h0m66 8h0m-9 2h0m-75-2h0m-46 18h0m65-5h0m31 14h0m-47 1h0m-71 3h0m-12 7h0m46 4h0m57 13h0m-10-1h0m-28-1h0m-40-7h0m-50 20h0m8 1h0m22-8h0m1 5h0m13 2h0m74 12h0m-6-2h0m-11-2h0m-3-1h0m-4 6h0m-2-8h0m-2 1h0m-28-4h0m-40 3h0m-6 5h0m-10 3h0m-3-10h0m-9 9h0m0 5h0m41 2h0m39 0h0m3 2h0m7 4h0m3-2h0m5 1h0m5-1h0m9 2h0m3 0h0m3-11h0m5 3h0m3-1h0m2 2h0m8-4h0m95 17h0m-100-1h0m-10 6h0m-4-3h0m-29-4h0m-4 5h0m0-5h0m-8-1h0m-2 9h0m-10-5h0m-32-5h0m-27 7h0m-31-7h0m6 22h0m71-6h0m22 6h0m34-7h0m29-4h0m259 23h0m-262-8h0m-18 1h0m-6-3h0m-5 7h0m-9-1h0m-36 3h0m-24-7h0m-34 6h0m-1-7h0m-2 5h0m-48 15h0m25-5h0m5 3h0m4-7h0m27 1h0m8-2h0m5 8h0m7-1h0m11 3h0m11-6h0m4 0h0m24 6h0m21-10h0m205 18h0m-32-5h0m-42-1h0m-17 9h0m-3-2h0m-24 1h0m-38-4h0m-80-4h0m0 10h0m-9-7h0m-5 4h0m-4-1h0m-13-1h0m0-5h0m-24 8h0m-7-4h0m-4 5h0m-7-7h0m-23 6h0m-2 2h0m-9 0h0m12 2h0m5 9h0m17-1h0m6-1h0m6-4h0m7 2h0m6-5h0m2 11h0m3-1h0m4 0h0m10-7h0m4 8h0m10-11h0m50 4h0m20-3h0m85 2h0m14 6h0m7-2h0m7-5h0m5 2h0m1 6h0m114 13h0m-111-10h0m-11 1h0m-52-1h0m-45 7h0m-68-6h0m-19 6h0m-21-5h0m-21 3h0m-9 5h0m-9 0h0m-8 1h0m1 3h0m25 3h0m8-2h0m6 1h0m0-3h0m6 7h0m9-6h0m25 7h0m4-6h0m4 1h0m59 6h0m31-11h0m9 3h0m5 7h0m0-8h0m5-2h0m0 5h0m4-1h0m104 9h0m-63 10h0m-18-4h0m-39-1h0m-71-6h0m-27 2h0m-11 2h0m-12 0h0m-40 1h0m-17 4h0m-9 5h0m8-2h0m10 0h0m4 11h0m1-5h0m23-1h0m2 4h0m25-5h0m12-1h0m5-3h0m1 9h0m15-6h0m31 5h0m6-5h0m2 8h0m11-7h0m4-3h0m26 9h0m10-3h0m2 3h0m21-5h0m11-5h0m12 9h0m39-2h0m-16 16h0m-27-3h0m-57-2h0m-4 1h0m-13-1h0m-3 3h0m-79-1h0m-18 1h0m0-3h0m-58 1h0m1 6h0m7 3h0m4 2h0m19 0h0m24-4h0m30 4h0m38 3h0m8-1h0m8-3h0m1-5h0m7 7h0m5 3h0m25-10h0m14 0h0m35 0h0m65 5h0m10 12h0m-20 4h0m-47-8h0m-31 4h0m-5-3h0m-29 0h0m-14 9h0m-28-4h0m-16-5h0m-16 4h0m-28 3h0m-9 0h0m-12 2h0m-8 0h0m-1 5h0m5 6h0m20-8h0m13 9h0m4-9h0m20 0h0m43 0h0m32 9h0m6 0h0m5-10h0m44 8h0m13-6h0m4 4h0m46-7h0m10 2h0m-33 11h0m-3 5h0m-10-4h0m-88 3h0m-23-1h0m-13 5h0m-28-7h0m-15 7h0m-9-4h0m-10 10h0m49 8h0m14-6h0m2 4h0m2-4h0m15 3h0m9-7h0m12 9h0m16-8h0m3 9h0m12-5h0m10 1h0m33-7h0m22 4h0m-37 18h0m-18-9h0m-10 2h0m-4 0h0m-21-1h0m-3 3h0m-5-4h0m-5 10h0m-3 0h0m-35-8h0m-1 6h0m-25 2h0m-30-6h0m25 15h0m67-6h0m22 2h0m30 16h0m-51-3h0m49 8h0"/>
<path stroke="#86a9fc" d="M326 42h0m-3 0h0m-3-1h0m-5-1h0m-3 0h0m-4-1h0m-5 0h0m-7 6h0m-11-6h0m-3 1h0m-5 2h0m-8 0h0m-7 5h0m-9 3h0m3 1h0m8 3h0m1 3h0m10-9h0m1 3h0m8 7h0m3-8h0m0 4h0m1 3h0m19 1h0m3-9h0m3-1h0m0 11h0m10-11h0m3 8h0m7 2h0m6-8h0m8 3h0m4 2h0m80-2h0m5-1h0m-74 12h0m-1 7h0m-3-4h0m-7-2h0m-4 4h0m-1-6h0m-37 5h0m-4-6h0m-2 6h0m-6-4h0m-1-4h0m-3 10h0m-4-4h0m-1-3h0m-6-2h0m-30 5h0m-14-2h0m-4 0h0m-3-3h0m-1 7h0m-2-7h0m-2 5h0m-12-1h0m-4 1h0m-2 2h0m-23 14h0m10-8h0m2 7h0m2-6h0m10 3h0m4-3h0m2 3h0m3 0h0m3-3h0m7 3h0m9 4h0m5-8h0m5 2h0m2-3h0m2 1h0m2 8h0m0-10h0m15 9h0m8-2h0m4 3h0m3-2h0m10 1h0m3-1h0m2-6h0m10-2h0m4 10h0m10-8h0m3-2h0m5 2h0m3 1h0m10 5h0m6-1h0m3-4h0m6 1h0m2 4h0m14-4h0m26 13h0m-7 5h0m-3-2h0m-24-1h0m-19-7h0m-3 1h0m-3 5h0m-6-4h0m-6 8h0m-14-2h0m-13-3h0m-21 2h0m-15 3h0m0-9h0m-6 2h0m0-3h0m-8 4h0m-2-4h0m-2 2h0m-7 1h0m-3 6h0m-19 0h0m-2-9h0m0 11h0m-8-10h0m0 7h0m0-3h0m-2-2h0m-3 5h0m-24 2h0m-6-7h0m-16-2h0m-12 4h0m-6 4h0m-35 14h0m4-1h0m15-7h0m1 3h0m11-3h0m5 5h0m5 2h0m0-7h0m15 6h0m10-2h0m9-4h0m13 4h0m10-1h0m3 4h0m1-4h0m2 5h0m2-2h0m17-9h0m0 8h0m15-7h0m3 6h0m4-2h0m14 3h0m12 2h0m18 0h0m36-8h0m15 1h0m16 5h0m15-5h0m11 0h0m120 5h0m2-3h0m-97 8h0m-13 3h0m-30 5h0m-52-3h0m-5-5h0m-2 5h0m-1-3h0m-1-3h0m-16 11h0m-3-3h0m-3 2h0m0-4h0m-3 3h0m-2-4h0m-3 6h0m-13-4h0m-2-2h0m-7-5h0m-9 0h0m-3 8h0m-3-7h0m-7 3h0m-4 3h0m-4-6h0m-9 8h0m-12-5h0m-36 6h0m-7-9h0m-8 9h0m-3-10h0m-1 2h0m-2 3h0m-25 13h0m2 2h0m1-6h0m7 5h0m4-6h0m8 5h0m1 3h0m0-6h0m7 5h0m2 3h0m3-3h0m47-6h0m0 3h0m0 3h0m4-1h0m16 2h0m1-7h0m3 2h0m15-2h0m7 6h0m10-7h0m0 3h0m34 0h0m3 2h0m22-6h0m4 7h0m3-1h0m13 2h0m2-6h0m1 4h0m3 2h0m24-6h0m126 18h0m-31-2h0m-42 0h0m-53-3h0m-20 3h0m-53-1h0m-7 5h0m-2-10h0m0 4h0m-6-4h0m-4 11h0m-9-4h0m-22-2h0m-2 3h0m-1 3h0m-10-1h0m-1-7h0m-5 6h0m-5-1h0m-14-1h0m-7 4h0m0-3h0m-1-3h0m-3 0h0m-1-2h0m-15 3h0m-12-1h0m-9-1h0m-5 7h0m-7-8h0m-7 4h0m-4-2h0m-12 1h0m-10 0h0m-42 4h0m40 9h0m2 2h0m6-7h0m4 2h0m9-1h0m10 7h0m10-2h0m2 2h0m9-6h0m10 6h0m7 0h0m6-4h0m8-3h0m3 3h0m32-3h0m4 6h0m9-6h0m0 7h0m9-9h0m7 0h0m5 4h0m1-4h0m7 8h0m1-9h0m1 7h0m8-4h0m3 6h0m16-2h0m6 0h0m40 1h0m1-8h0m2 3h0m24 3h0m29 0h0m2-3h0m2 4h0m7-5h0m20 1h0m17 5h0m2-6h0m-1 16h0m-13-3h0m-11-3h0m-9 6h0m-7 0h0m-2-6h0m-42 2h0m-5-2h0m-9 0h0m-7 3h0m-26 3h0m-3-2h0m-3 2h0m-25-5h0m-8 6h0m-9 0h0m-7-1h0m-21-3h0m-35 7h0m-18-9h0m-9 3h0m-2 7h0m-22-3h0m-14 3h0m-3-3h0m-1 3h0m-8-1h0m-2-7h0m-11 1h0m-1 4h0m-3-3h0m-4 3h0m-2-3h0m-3 0h0m-24-1h0m14 15h0m13-1h0m19 4h0m6 0h0m2-5h0m12 6h0m3-2h0m22-9h0m2 3h0m2 8h0m12-7h0m26 4h0m11-6h0m13 5h0m6 0h0m44-3h0m1-3h0m15 5h0m2-5h0m42 2h0m29 1h0m23-2h0m11 4h0m6 3h0m87 7h0m-99 4h0m-34 3h0m-8-8h0m-1 7h0m-25-10h0m-1 10h0m-23-7h0m-84 4h0m-5-6h0m-2 7h0m-11-4h0m-2 2h0m-4 4h0m-27-3h0m-22-4h0m-1 4h0m-3-4h0m-2 4h0m-5-1h0m-3 3h0m-7 1h0m-13-8h0m-21 2h0m-3 7h0m-2-9h0m-1 6h0m-4 2h0m-4-7h0m-1 4h0m-1 15h0m31-5h0m1-4h0m12 8h0m3-8h0m8-1h0m6 2h0m4-1h0m4 0h0m12 10h0m11-7h0m9 6h0m2-10h0m2 7h0m3 2h0m264-6h0m16 4h0m-135 16h0m-8-9h0m-6 1h0m-6 7h0m-16-2h0m-26-6h0m-15 9h0m-18-8h0m-5 1h0m-25 1h0m-10 6h0m-20-1h0m-5-3h0m-7 3h0m-27-7h0m-15 2h0m-7 0h0m-9 1h0m-16 3h0m-5-6h0m-8-1h0m64 13h0m17 1h0m48 1h0m15-2h0m10 4h0m15 1h0m8 3h0m3-2h0m33 1h0m5-3h0m4 0h0m93 12h0m-63-7h0m-2 5h0m-5 4h0m-50-3h0m0-4h0m-40 3h0m-28-3h0m-3 1h0m-30 1h0m-16-3h0m-18 5h0m0-6h0m-26 12h0m16 10h0m18-7h0m53 0h0m15-3h0m3 2h0m6 8h0m8 0h0m7-2h0m31 2h0m4 0h0m12-1h0m6-1h0m2-8h0m32 1h0m2 6h0m-7 6h0m-44 7h0m-26 3h0m-5-7h0m-3 0h0m-47 7h0m-70-5h0m-2 4h0m-36-8h0m83 10h0m41 0h0m57 4h0m2 2h0m21-5h0m49-1h0m17 1h0m-14 21h0m-10-7h0m-5 1h0m-54-3h0m-31 10h0m-9-7h0m-33 2h0m-35-1h0m-19-4h0m-7 9h0m-37-7h0m-6-2h0m-12 1h0m12 11h0m17 8h0m52-6h0m22 0h0m11-1h0m3 0h0m9 6h0m29 3h0m60-5h0m16 4h0m4-2h0m5 2h0m-40 4h0m-20 1h0m-29 5h0m-24 2h0m-60-6h0m-14-1h0m-23 2h0m-9-5h0m18 12h0m34 10h0m55-10h0m5 1h0m9 4h0m16 2h0m5-3h0m10 0h0m8 4h0m18 14h0m-6-10h0m-37 7h0m-2 3h0m-33 0h0m-38-5h0m16 16h0m7-8h0m70 3h0m17-4h0m5 17h0"/>
</g>
<g transform="translate(776.00 10.00) scale(0.50000)" stroke-width="5.9">
<path stroke="#c4d5f3" d="M369 203h0m21 10h0m-2-8h0m-10 9h0m-15-6h0m-6 1h0m-4-4h0m-3 3h0m-1 6h0m-6-7h0m-1 8h0m-3-5h0m-2 4h0m-2-3h0m-1-5h0m-5 7h0m-1-6h0m-2 4h0m0 3h0m-4 0h0m-1-5h0m-15 3h0m-119-1h0m-8-2h0m-7 4h0m-6-3h0m-4-1h0m-21 3h0m-15-3h0m0 8h0m10-1h0m2 11h0m8-5h0m4 0h0m7 0h0m2 5h0m7-10h0m2 7h0m2 2h0m155-3h0m9 4h0m4-2h0m3-6h0m0 6h0m4-2h0m3-3h0m7 3h0m3 3h0m4-8h0m4 9h0m0-4h0m5 1h0m5-2h0m4 11h0m-7 6h0m-10-5h0m-2-5h0m-3 2h0m-2 5h0m-3-7h0m-2 9h0m-4-4h0m-18 5h0m-159-3h0m-16-5h0m-19 5h0m0-3h0m34 18h0m135 0h0m33-4h0m8-6h0m10 6h0m5-2h0m5-2h0m15 19h0m-3-9h0m-5 10h0m0-8h0m-4 3h0m-7 1h0m-9-1h0m-4 3h0m-3-3h0m-5 5h0m-3-11h0m-2 8h0m-1-6h0m-2 4h0m-7 2h0m-9-1h0m-19 1h0m-123-4h0m-3-1h0m-31 0h0m-5-2h0m-30 3h0m-11 19h0m11-3h0m12-5h0m1 8h0m54-5h0m21-1h0m95 2h0m8-2h0m17 3h0m8-3h0m6 5h0m3-7h0m6-3h0m1 5h0m1 4h0m3-4h0m4-5h0m1 4h0m5 0h0m12-2h0m3 8h0m1-9h0m4 2h0m1 8h0m5-9h0m-25 13h0m-3-2h0m-1 10h0m-1-5h0m-4-3h0m-5 1h0m-1 7h0m-1-10h0m-1 3h0m-11-3h0m-6 6h0m-28 4h0m-18-1h0m-46-6h0m-15 2h0m-29 3h0m-4-1h0m-15-8h0m-32 2h0m-16 4h0m-6 5h0m3 2h0m4 8h0m39 0h0m1-3h0m16-5h0m12 4h0m13-5h0m56 6h0m15 1h0m57-3h0m3-4h0m2 3h0m2-3h0m2 6h0m0-4h0m1 8h0m5-4h0m1 5h0m3-4h0m8-4h0m4-2h0m15 14h0m-6-2h0m-5 5h0m-4 1h0m-15-4h0m-9-3h0m-1 3h0m-12 8h0m-1-8h0m-4 7h0m-9-1h0m-2-2h0m-21 1h0m-28-7h0m-31 5h0m-1 4h0m-28-7h0m-3 1h0m-41-3h0m-22 2h0m13 20h0m3-1h0m5 1h0m9-4h0m6 2h0m7-8h0m6 10h0m30-2h0m75 2h0m21-8h0m3 2h0m3-3h0m1 8h0m3-9h0m7 7h0m1-3h0m7-3h0m1 9h0m0-4h0m3-7h0m4 1h0m3 3h0m5-1h0m2 8h0m2-4h0m5-4h0m10 13h0m-5-2h0m-15 7h0m-1-4h0m-8 5h0m-4-1h0m-3-3h0m-4-3h0m0 3h0m-3-2h0m-7-2h0m-2 7h0m-13 0h0m-1-8h0m-3 4h0m-16 6h0m-3-5h0m-9 4h0m-6-3h0m-8-5h0m-5 2h0m0 4h0m-25 3h0m-16 0h0m0-9h0m-9 8h0m-1-3h0m-4-1h0m-1 3h0m-13-4h0m-7 5h0m0-9h0m-4 7h0m0-3h0m-8-2h0m-2 7h0m-2-10h0m-1 9h0m-4-3h0m26 9h0m1 8h0m1-11h0m10 7h0m2 2h0m15-2h0m7-2h0m5 3h0m4 3h0m4-2h0m2-3h0m8-1h0m2 4h0m2-4h0m2-3h0m0 7h0m3 0h0m0-6h0m2-2h0m5 0h0m0 9h0m2-5h0m1-4h0m3 10h0m1-4h0m4 0h0m2-3h0m7 6h0m3-3h0m1 3h0m1-7h0m3 7h0m1-8h0m3 6h0m11 3h0m1-9h0m5 0h0m8 9h0m2-5h0m2-3h0m2-3h0m1 10h0m4-7h0m10 5h0m7 0h0m2-5h0m10 5h0m5-5h0m-19 13h0m-17 4h0m-9 1h0m-2-6h0m-6 4h0m-7-2h0m-3 2h0m-1-4h0m-3 7h0m-5-8h0m-3 8h0m-3-6h0m0 3h0m-3 2h0m-2-3h0m-2 5h0m-1-7h0m0 4h0m-2 3h0m-1-5h0m-3 2h0m-4-4h0m-5 4h0m-10-2h0m-4-4h0m-1 9h0m-7-8h0m-3 8h0m-1-8h0m-4 2h0m-2 4h0m-2 2h0m-8-2h0m-4-8h0m-2 10h0m0-3h0m-5 0h0m-10-4h0m-8 6h0m-1-4h0m8 9h0m6-1h0m0 4h0m5 2h0m3-1h0m6 0h0m2-3h0m1 3h0m0 4h0m0-10h0m3 4h0m4-2h0m3-3h0m0 3h0m8-2h0m7 7h0m4-6h0m3 1h0m1 4h0m1-7h0m5 5h0m1 6h0m2-11h0m4 2h0m2 3h0m1-5h0m3 6h0m3-4h0m4 6h0m3-7h0m0 10h0m5-9h0m1 5h0m1 3h0m1-9h0m3 10h0m0-5h0m0-3h0m10-3h0m4 0h0m1 8h0m2-7h0m2 10h0m3-4h0m0-3h0m4-4h0m3 11h0m4-11h0m5 11h0m3-2h0m6-6h0m15 2h0m3 1h0m-15 16h0m-8-10h0m-15 10h0m-3-7h0m-9 7h0m-1-8h0m-3-1h0m0 10h0m-8-2h0m0-8h0m-2 3h0m-5 5h0m-4-2h0m-1 3h0m-2-3h0m-5-5h0m-1 6h0m0 3h0m-4-1h0m-13-6h0m-1-3h0m0 8h0m-3-2h0m-4 1h0m-1-3h0m-11 0h0m-2 1h0m-3-3h0m-9 0h0m56 9h0m6 0h0m5 1h0m4 0h0m4 1h0m4 1h0m8-1h0m3-1h0"/>
<path stroke="#f0cdbb" d="M457 212h0m-6 1h0m-9 0h0m-6 6h0m13-2h0m2 5h0m1 5h0m10 6h0m-4 1h0m-6 0h0m-3 2h0m-1-7h0m-5 3h0m-4-1h0m-6 20h0m5 0h0m6-7h0m5-4h0m1 8h0m3-5h0m1-3h0m1 10h0m1-5h0m4 0h0m6-1h0m-5 17h0m-1-6h0m-2 3h0m-3 3h0m-3-3h0m-3-2h0m-3 5h0m-8 3h0m6 8h0m3-7h0m0 5h0m4-1h0m6-5h0m-6 22h0m-1-5h0m-3 4h0m-5-8h0m-2 22h0m3-4h0m2 3h0m1-10h0m2 4h0m2 6h0m22 8h0m-20 4h0m-23-1h0m6 13h0m4 1h0m7-6h0m5 0h0m-4 16h0m0-8h0m-4 2h0m0 7h0m-5-3h0m-7 4h0m-1-11h0m-8 8h0m-2 10h0m8-4h0m5 1h0m4 0h0m1 5h0m3-7h0m2 8h0m3-2h0m2-3h0m-8 8h0m-11 5h0m-16 0h0"/>
<path stroke="#e1dad6" d="M446 213h0m-17-2h0m-5-3h0m-4 2h0m-17 8h0m18 6h0m7 2h0m7 4h0m-9 3h0m-5 0h0m-3-4h0m-3 8h0m-9-6h0m11 14h0m4 0h0m0-4h0m4 2h0m4 2h0m-14 13h0m-6 3h0m9 8h0m7 3h0m9 14h0m-4-10h0m-3 4h0m-3 3h0m0-7h0m-3 11h0m0-7h0m-8 4h0m-10 10h0m8-6h0m2 7h0m8-4h0m6 8h0m5 1h0m-11 9h0m-4-3h0m-1-5h0m-3 7h0m-7-6h0m-9 2h0m-6 1h0m0 14h0m13-5h0m1 7h0m5 2h0m4-3h0m7-1h0m12-5h0m-19 12h0m-4 3h0m-39 11h0m14 5h0m2-4h0m13-1h0m19 8h0m-4 2h0m-3 7h0m-14-9h0m-1 6h0m-4 2h0m-4-2h0m-22 3h0m14 12h0m1-7h0m4 7h0m1-5h0m2 5h0m4-6h0m1 5h0m4 0h0m1-7h0m3 0h0m1 4h0m7-5h0m3 0h0m-29 12h0"/>
<path stroke="#ed8366" d="M509 239h0m-4-6h0m-3 17h0m3-2h0m11 5h0m-5-1h0m-1 21h0m3 9h0m-4-5h0m-5 14h0m3 3h0m5-3h0m0 7h0m3-3h0m2 3h0m3-5h0m-6 10h0m-4-2h0m-1 4h0"/>
<path stroke="#cedaeb" d="M364 203h0m37 2h0m-8 5h0m0-5h0m-10 0h0m-1 6h0m-5-5h0m-4 5h0m-8 4h0m-5-11h0m0 9h0m-11 13h0m3-8h0m4-2h0m1 4h0m4 3h0m9-3h0m4-2h0m8-1h0m6 22h0m-19-7h0m-17 2h0m-2-4h0m-4 0h0m-6-2h0m-6 4h0m-186 8h0m186 8h0m6 1h0m26 1h0m3-8h0m8 0h0m6-2h0m2 10h0m4-1h0m7-1h0m0-8h0m5 6h0m4-6h0m-22 14h0m-7 4h0m-16-4h0m-4 0h0m-1 7h0m-7-5h0m-22 8h0m8 3h0m11 7h0m5-10h0m4 1h0m4 1h0m19 9h0m0-4h0m5 2h0m1-7h0m5-1h0m3 5h0m7-2h0m5 11h0m-41 2h0m-1 6h0m-4-7h0m-4 6h0m-186 2h0m188 8h0m4-1h0m4 0h0m3-7h0m5 9h0m2-6h0m3 6h0m14 13h0m-7-1h0m-5 0h0m-1-6h0m-6 4h0m-3 4h0m-3-4h0m-6 3h0m-2-10h0m-7 2h0m-1 8h0m-23 13h0m5-2h0m11-2h0m13-7h0m5 3h0m3-3h0m2 9h0m0-5h0m5 2h0m7-1h0m4-2h0m5 16h0m-5-2h0m-5-3h0m-8 4h0m-16-4h0m-5 7h0m-2-7h0m-4-1h0m-3 3h0m-19 7h0m-17 12h0m4-5h0m12 4h0m15-6h0m6 4h0m3-3h0m3-1h0m4-4h0m8 5h0m4 1h0m2 3h0m5 1h0m8-4h0m2 3h0m2-9h0m4 2h0m0 14h0m-17 1h0m-6 6h0m-2-9h0m-2 8h0m-4 0h0m-1-7h0m-7 1h0m0-4h0m-3 2h0m-2 3h0m-2 6h0m-4-1h0m0-10h0m-2 7h0m-2-7h0m-2 8h0m-3 2h0m-5 0h0m-4-9h0m-2 5h0m-1 4h0m-16-1h0m-56-9h0m-13 6h0m-43 0h0m22 16h0m1-9h0m37 9h0m4-2h0m3 0h0m36 0h0m0-4h0m10 7h0m4-6h0m8 1h0m5 2h0m2-4h0m8-2h0m3 4h0m8 0h0m0-4h0m2 2h0m0 4h0m5 3h0m3-2h0m4-9h0m0 9h0m4 2h0m2-6h0m7-3h0m2 5h0m-6 7h0m-12 6h0m-3-6h0m-3 4h0m-2 4h0m-5-6h0m-8 3h0m-8 1h0m-4 1h0m-3-6h0m-4 7h0m-5-7h0m-3 3h0m-3 1h0m-37 3h0m-3 0h0m-4-4h0m-18 0h0m-17-6h0m81 13h0m12 0h0m6 0h0m3-1h0"/>
<path stroke="#7a9df8" d="M365 25h0m2 3h0m3 3h0m3 3h0m0-3h0m3 2h0m44 14h0m-10-1h0m-3 1h0m-3 0h0m-1-3h0m-2 2h0m-4-2h0m-3 2h0m-3-1h0m-2-3h0m-6-3h0m-5-2h0m-35 16h0m52-4h0m3 3h0m1-4h0m2 8h0m0-3h0m1-3h0m4 0h0m0 6h0m3 3h0m14-5h0m8-4h0m7 8h0m4-2h0m47 5h0m-16 0h0m-35 4h0m-2-3h0m-8 5h0m-5-7h0m-4 1h0m-44 9h0m-13-6h0m-22 0h0m-23 6h0m16 5h0m22-3h0m2 7h0m9-3h0m1 6h0m5-8h0m2 2h0m7 3h0m1-4h0m7 3h0m1 3h0m3 0h0m4 2h0m110 9h0m-100 1h0m-3-4h0m0 3h0m-2-6h0m-2 3h0m-1-3h0m-3 2h0m-3 6h0m-1-6h0m-2 4h0m-2-8h0m-1 5h0m-2-3h0m-3-2h0m-15 4h0m-6 3h0m0 3h0m-6-6h0m-16 4h0m-6 1h0m-7-4h0m-63 1h0m44 6h0m51 8h0m2 3h0m4-1h0m5-1h0m3 0h0m1-5h0m7 4h0m7-5h0m19 5h0m2-4h0m3 1h0m2 2h0m0-6h0m6 3h0m0 3h0m3 4h0m1-3h0m0-3h0m6 4h0m3-1h0m69-7h0m7 1h0m7 0h0m10 12h0m-5-1h0m-18 9h0m-3 0h0m-6-8h0m-2-2h0m-8 5h0m-4 1h0m-15-2h0m-5 0h0m-8 3h0m-4-1h0m-7 0h0m-2 4h0m-3-10h0m-4 1h0m-4 10h0m-2-9h0m-1 3h0m0 4h0m-2 2h0m-4-1h0m-6-9h0m-1 5h0m-3 2h0m-2-8h0m-1 8h0m0-5h0m-2-2h0m-2 7h0m-2-4h0m-1-3h0m-1 6h0m-3 0h0m-1-4h0m-3 7h0m-4-4h0m0-3h0m-2-3h0m-3 4h0m-1-4h0m-2 10h0m0-6h0m-3-3h0m0 10h0m-3-10h0m-3 8h0m-11 1h0m-7-5h0m-2-4h0m-21 8h0m-14-2h0m-18-6h0m-4 1h0m-187 1h0m-4-3h0m-2 0h0m-2 5h0m-3-1h0m-7 7h0m-17 10h0m2-3h0m1 3h0m2-3h0m3-2h0m3 1h0m3-3h0m7 2h0m229-4h0m2 5h0m14 4h0m4-1h0m7-5h0m8 3h0m3-2h0m5 6h0m3-5h0m3 1h0m1-4h0m4 5h0m1-3h0m2 4h0m0-6h0m1 3h0m8 4h0m5-6h0m1 6h0m2-8h0m0 10h0m12-9h0m3-1h0m10 1h0m1 3h0m3 4h0m1-4h0m2-3h0m0 5h0m1 4h0m2-3h0m0-4h0m2-1h0m3-1h0m1 8h0m2-3h0m1 3h0m2-2h0m20-5h0m26-2h0m1 9h0m3-1h0m3-8h0m4-1h0m6 9h0m20 4h0m-15 7h0m-4-8h0m-13 3h0m-8 1h0m-3 4h0m-1-6h0m-2 8h0m-2-3h0m-3-4h0m-2-2h0m-2 7h0m-4 2h0m-13 1h0m-3-9h0m-1 9h0m-3-9h0m-4 2h0m-2-3h0m0 4h0m-9 5h0m-2-5h0m-12 6h0m-3-2h0m-11-3h0m-2 2h0m0-4h0m-2-4h0m-1 6h0m-3 2h0m-3-3h0m0 6h0m-1-10h0m-2 10h0m-3-1h0m-2-6h0m-2 7h0m-1-9h0m-1 3h0m0 3h0m-2-7h0m-1 3h0m0 6h0m-5-7h0m-3 5h0m-1-4h0m-3 3h0m-1-3h0m-1-3h0m-2 10h0m-1-3h0m-8-6h0m-12-2h0m-2 2h0m-17 8h0m-36-5h0m-198-1h0m-1-4h0m-2 2h0m-8-2h0m-6 1h0m-4 5h0m-5 5h0m-1-2h0m248 8h0m1 5h0m8-5h0m6 0h0m10 5h0m3-2h0m16-8h0m2 3h0m1-3h0m2 6h0m0-4h0m8 7h0m1-7h0m4 2h0m0 4h0m3-4h0m1 7h0m2-7h0m2 2h0m2-5h0m0 8h0m3-2h0m1 4h0m0-10h0m2 4h0m2 3h0m0-6h0m5 3h0m3-2h0m2-3h0m2 7h0m1 4h0m1-8h0m1 3h0m2-2h0m1 6h0m1-4h0m2-3h0m2 4h0m1 3h0m2-3h0m1-4h0m2 7h0m1-8h0m4 0h0m3 2h0m1 5h0m2-7h0m0 4h0m4-2h0m1 4h0m0-7h0m2 4h0m2-5h0m1 3h0m0 5h0m2-2h0m3 5h0m1-3h0m4 1h0m2-2h0m1-4h0m3 8h0m1-3h0m2-6h0m2 7h0m20-3h0m2-3h0m0 5h0m7-4h0m2-3h0m6 8h0m19 1h0m21 2h0m-15 6h0m-25 5h0m-1-4h0m-1-4h0m-7-1h0m-3 0h0m-10 4h0m-3 4h0m-2-3h0m-3-2h0m-5 4h0m-3 0h0m-2-8h0m0 5h0m-3-1h0m0 6h0m-4-10h0m-3-1h0m-2 8h0m-1-5h0m-2 3h0m-2 5h0m-1-5h0m-2 4h0m0-8h0m-5 2h0m-10 0h0m-2-3h0m0 5h0m-3 0h0m-1-3h0m-1-3h0m-5 4h0m-2-3h0m-2 4h0m-2-4h0m-3 8h0m-2-3h0m-1 5h0m-5-7h0m-2 5h0m-1-3h0m-3-5h0m-1 9h0m0-3h0m-3-3h0m-2 5h0m0-9h0m-1 3h0m-7-1h0m-1 3h0m-2-3h0m-2-2h0m0 8h0m-2-5h0m-1 4h0m0 4h0m-2-11h0m-4 0h0m-3 4h0m-1-3h0m-3 2h0m-27 7h0m-2-6h0m0 3h0m-3-1h0m-8-6h0m0 3h0m-3-3h0m-39 1h0m-222 17h0m4-3h0m0 4h0m4-2h0m247-2h0m14 7h0m6-7h0m4 3h0m1 4h0m13 0h0m14-7h0m1 4h0m4-3h0m7 0h0m2-3h0m0 5h0m1 5h0m2-6h0m0-4h0m5 9h0m3-9h0m4 3h0m0-4h0m4 10h0m4-4h0m1 5h0m0-9h0m3 7h0m3-1h0m2-3h0m1 3h0m1 3h0m1-7h0m2 3h0m1 4h0m0-9h0m3 2h0m0 3h0m1 3h0m3-1h0m5-6h0m0 7h0m2-3h0m2-2h0m1 4h0m0-7h0m3 9h0m4-1h0m2-9h0m0 3h0m1 7h0m3-8h0m4 0h0m3-3h0m5 2h0m1 9h0m3-1h0m2-3h0m1-3h0m11 2h0m0 5h0m1-2h0m6-8h0m2 8h0m2-4h0m2-4h0m2 2h0m3-2h0m0 4h0m4 6h0m23-3h0m0-8h0m3 4h0m-1 10h0m-3 2h0m-3 2h0m-3 5h0m-15-8h0m-6-1h0m-2 3h0m-1-4h0m-1 10h0m-1-6h0m-6-5h0m-1 5h0m-5 1h0m-3 1h0m-3 0h0m-3-4h0m-1 6h0m-3 1h0m-1-3h0m-2 3h0m-9-9h0m-2 3h0m-5 0h0m-1 7h0m-5-7h0m-5-1h0m-6-1h0m-2 4h0m-1-3h0m-1-2h0m-1 3h0m-1 4h0m-1 3h0m-1-9h0m-3 1h0m-2 3h0m-1-4h0m-3 2h0m0 5h0m-2-9h0m-1 8h0m-1-5h0m-4-1h0m0 8h0m-2-5h0m-1-5h0m-2 11h0m-2-10h0m-1 4h0m-2-2h0m-1 6h0m-1-3h0m-1-3h0m-2 5h0m0 3h0m-1-10h0m-2 3h0m-2-4h0m-3 3h0m-1 7h0m-1-4h0m-3 4h0m-6 0h0m-4-10h0m0 9h0m-5-5h0m-2-1h0m-1 4h0m-3-7h0m-3 4h0m0 4h0m-2-8h0m-2 9h0m-1-8h0m-16 2h0m-3-2h0m-6-1h0m-246 1h0m-8 5h0m-11-3h0m-2 3h0m351 6h0m7 0h0m6 0h0m7 0h0m5 0h0m10 0h0m8 0h0m3 2h0m13 0h0m23 6h0m6 1h0m2-2h0m7 4h0m1-9h0m2 9h0m3-8h0m24 0h0m16 4h0m2-7h0m-13 17h0m-2 5h0m0-10h0m-2 7h0"/>
<path stroke="#86a9fc" d="M364 28h0m-27 19h0m-5 0h0m-3-2h0m-3-3h0m-1 3h0m-2-3h0m-2 2h0m-1-3h0m-5-1h0m-1 4h0m-2-4h0m-2 3h0m-2-4h0m0 8h0m-1-3h0m-2-3h0m-2-2h0m-1 4h0m-4-5h0m0 3h0m-2 4h0m-1-5h0m-3 6h0m-2-8h0m-5 1h0m-3 1h0m-3 0h0m-2 2h0m-8 0h0m-3 2h0m-4 3h0m-16 8h0m7-5h0m12 0h0m0 7h0m11-6h0m8 7h0m3-4h0m4-4h0m1 4h0m3-6h0m2 4h0m1-3h0m9 9h0m3-9h0m3 10h0m8-4h0m2-7h0m1 4h0m2 4h0m1-8h0m1 4h0m3 3h0m1-3h0m1 6h0m1-4h0m3 3h0m2-7h0m7 8h0m1-5h0m2 4h0m2-2h0m0 3h0m4 1h0m71-2h0m-54 13h0m-3 0h0m-1-4h0m-3-1h0m0 4h0m-4 2h0m-2-9h0m-1 5h0m-1-2h0m-1 4h0m-2-2h0m-1-4h0m0 7h0m-2-5h0m-1 4h0m-2-4h0m-1 4h0m-1-6h0m-4-2h0m-23 6h0m-9 3h0m-1-2h0m-4 2h0m0-8h0m-5 8h0m-1-4h0m-3-6h0m0 8h0m-3 2h0m-4-4h0m-7 0h0m-27-3h0m-4-2h0m-17 3h0m-1 3h0m-3 1h0m-6-4h0m-7-1h0m-3 2h0m-8 15h0m12-6h0m6 6h0m4-2h0m3-2h0m18-3h0m0 4h0m1 4h0m3-9h0m10 11h0m7-1h0m2-2h0m4-1h0m1-3h0m3 2h0m0 4h0m3-2h0m2-3h0m1 3h0m7 1h0m3-1h0m0-3h0m12-5h0m4 2h0m2-1h0m5-1h0m6 3h0m5 2h0m3 1h0m1 5h0m4-3h0m2-7h0m3 7h0m4-6h0m2 5h0m1 3h0m2-7h0m1 5h0m1-3h0m0 5h0m4-6h0m0-3h0m2 7h0m3 0h0m0-5h0m2-3h0m1 7h0m2-5h0m1 3h0m3 2h0m3-6h0m4 1h0m5 7h0m1-5h0m2 5h0m9 11h0m-10 0h0m-14 2h0m-3-10h0m-3 7h0m-1 4h0m0-10h0m-2 3h0m-1-4h0m-4 4h0m-1-3h0m0 6h0m-3 1h0m0-7h0m-2 5h0m-3-3h0m-3 2h0m-2-4h0m-2 8h0m-1-3h0m0-5h0m-4 4h0m0-5h0m-1 11h0m-1-9h0m-6 8h0m-2-2h0m-25-7h0m-13 9h0m-4-3h0m-3 3h0m-6-8h0m-3 2h0m-4-2h0m-3 2h0m0-3h0m-3 1h0m-3 1h0m-13 7h0m-5-2h0m-1-5h0m-2-3h0m-19 0h0m0 4h0m-7-3h0m-4 0h0m0 4h0m-10-5h0m-94 23h0m4-1h0m4-3h0m53 0h0m37-1h0m8 3h0m2-7h0m16 2h0m3 7h0m18-1h0m0-5h0m14 3h0m3 2h0m2-8h0m4 3h0m1-5h0m2 10h0m4-10h0m2 2h0m4 6h0m0-8h0m7 1h0m1 9h0m22-1h0m2-3h0m1 5h0m2-5h0m2-3h0m3-3h0m1 3h0m3-1h0m10 0h0m3 4h0m3 0h0m3-3h0m2 7h0m10-2h0m8-4h0m1-3h0m5-1h0m1 3h0m1 8h0m12-10h0m17-1h0m4 9h0m5-5h0m5 15h0m-18-2h0m-13-4h0m-7 8h0m-4-2h0m-4 0h0m-3-3h0m-3 2h0m-3 2h0m-6-5h0m-2-2h0m-2 4h0m-2-4h0m-5 9h0m0-4h0m-2-4h0m-2 7h0m-2-3h0m-2 5h0m-1-3h0m-2 3h0m-13-2h0m-1-9h0m-1 5h0m-4 5h0m0-8h0m-3 8h0m0-10h0m-3 1h0m-2 5h0m-2-6h0m-10 4h0m-8-4h0m-4 3h0m0 3h0m-8 5h0m-2-10h0m-4 4h0m-2 4h0m-1-6h0m-4 4h0m-2-2h0m-11-3h0m-8-2h0m-7 10h0m-11-9h0m-11-1h0m-112 5h0m-3-1h0m-2 5h0m-2-6h0m-1 6h0m-4-4h0m0 4h0m-2-1h0m-4 0h0m-9 12h0m3 0h0m0 2h0m2-10h0m3 5h0m3-3h0m0 8h0m1-5h0m1 3h0m2-7h0m3-1h0m33 11h0m117-9h0m7-1h0m0 10h0m0-3h0m4-6h0m6 2h0m2 4h0m1-4h0m22 0h0m2-3h0m0 8h0m2-5h0m1 4h0m4 2h0m3 0h0m2-10h0m17 4h0m0-3h0m7 6h0m1-7h0m0 4h0m2 2h0m1-3h0m2-3h0m1 7h0m11-5h0m1 4h0m2-6h0m1 8h0m5-6h0m1 7h0m1-9h0m2 2h0m17-2h0m8 7h0m9 0h0m42 5h0m-39 3h0m-11 4h0m-12-1h0m-2-6h0m-3 10h0m-10-4h0m-1 3h0m0-8h0m-3 8h0m0-3h0m-3-3h0m-8 0h0m-5 3h0m-2-3h0m-15 1h0m-4 3h0m0-3h0m-1 6h0m-3-1h0m-3-2h0m-3 1h0m-1-4h0m-4 4h0m-1-3h0m-2 2h0m0 4h0m-5-1h0m-2-10h0m0 4h0m-1 4h0m-5-8h0m0 9h0m-2-7h0m-4 6h0m-3 0h0m-5 3h0m-3-11h0m-9 8h0m-3-1h0m-164-7h0m-2 2h0m-7 2h0m-2-2h0m0 4h0m-3 2h0m-1-2h0m0 4h0m0-7h0m-3-3h0m0 7h0m-2 4h0m0-7h0m-1 4h0m-2-3h0m0 4h0m-1-7h0m-1 9h0m-2-2h0m0-4h0m-2 2h0m189 5h0m7 0h0m5 1h0m2 10h0m1-8h0m2 2h0m1-4h0m1 6h0m1-3h0m3 3h0m1-4h0m1 6h0m2-2h0m1-5h0m5 3h0m1 3h0m1-5h0m1-3h0m1 6h0m1 3h0m1-8h0m1 3h0m1 3h0m1-6h0m1 4h0m12 5h0m2-9h0m3 6h0m0-6h0m2 3h0m2-2h0m1 6h0m2-8h0m2 9h0m1-6h0m2-2h0m14 4h0m14 0h0m0 3h0m4 2h0m3 0h0m2-6h0m0 3h0m1 2h0m6-2h0m2-7h0m5 8h0m1-7h0m12 9h0m4-7h0m0 4h0m4-7h0m10 0h0m4 0h0m4 1h0m9 11h0m-11 2h0m-12 0h0m-9-2h0m-13 2h0m-2 3h0m-7 0h0m-7-2h0m-3 2h0m-7-5h0m-3 1h0m-2 4h0m-3 0h0m-1 6h0m-9-10h0m-3 0h0m-1 3h0m-3-3h0m-1 5h0m-5-6h0m-1 10h0m-2-10h0m-1 5h0m-1 4h0m-1-3h0m0-6h0m-3 8h0m-3-2h0m-1 3h0m-1-6h0m-2 5h0m-8-6h0m-2-1h0m-8 3h0m0 3h0m-2 3h0m-4-6h0m-2 7h0m-1-4h0m-1-5h0m-4 7h0m0-9h0m-2 6h0m-3-3h0m0 3h0m-221 16h0m3 0h0m0-5h0m5-2h0m228-1h0m6-1h0m0 3h0m3 0h0m1-4h0m2 4h0m2 4h0m3 0h0m4-1h0m2-6h0m1 10h0m0-4h0m1-3h0m2-1h0m1 3h0m2-5h0m1 10h0m1-6h0m2 2h0m1-5h0m2 6h0m1-3h0m1-5h0m1 7h0m22-6h0m3-1h0m20 9h0m4-1h0m24-4h0m3-2h0m19 4h0m-13 17h0m-6 0h0m-14-3h0m-11 2h0m-2-5h0m-5-3h0m-15 7h0m-4 1h0m-4-5h0m-1 5h0m-5-6h0m-3 2h0m-2-2h0m-3-1h0m-3 0h0m-3 0h0m-1-3h0m-4 0h0m-5 2h0m-239-1h0m-8 2h0m-4 1h0m-4-1h0m-4 2h0m-4-3h0m-3-1h0m-5 2h0m-4 4h0m209 31h0"/>
<path stroke="#abc8fd" d="M224 133h0m-11 10h0m-4-4h0m-11-2h0m-74 14h0m56 4h0m11-9h0m5 5h0m1-4h0m15-1h0m4 7h0m4-8h0m13 6h0m6 5h0m-5 10h0m-18-8h0m-6-1h0m-10-1h0m-3 3h0m-8 4h0m-96 16h0m64 0h0m41-9h0m5 8h0m15-2h0m2-4h0m1 5h0m8-7h0m1 4h0m1-6h0m-5 20h0m-2 3h0m-2-10h0m-1 8h0m-2 2h0m0-7h0m-7 5h0m-3 1h0m-1-3h0m-19 3h0m-8 0h0m-35-1h0m-38-2h0m-6 4h0m-3-3h0m-6-3h0m-28 16h0m23-4h0m1 5h0m2-6h0m9-1h0m6 0h0m3-1h0m3-2h0m4 9h0m0-9h0m1 6h0m4-5h0m6 1h0m1 4h0m8-5h0m4 4h0m2 4h0m2-9h0m0 7h0m0-4h0m2 2h0m1 3h0m2 3h0m5-10h0m1 5h0m0 4h0m3-5h0m3-3h0m3 9h0m2-7h0m3 3h0m1-3h0m3 3h0m0 4h0m8-7h0m6-4h0m5 0h0m5 9h0m1-4h0m1-4h0m2 3h0m6 0h0m8-4h0m71 7h0m25 14h0m-5 2h0m-4-3h0m-3 0h0m-3-2h0m-9-1h0m-15 4h0m-65 2h0m-23-6h0m0-5h0m-2 7h0m-1 4h0m-6-8h0m-5 4h0m-11-1h0m-1-3h0m-10 0h0m-4-2h0m-4 10h0m-6-10h0m-4-1h0m-3 2h0m-5 2h0m0 5h0m-3-6h0m-1 6h0m-3-6h0m-4-1h0m-7 3h0m-8-2h0m-2-2h0m-3 9h0m-19-8h0m-1 3h0m-3-2h0m23 17h0m3 1h0m24-9h0m10 10h0m4-3h0m5-2h0m4 5h0m10 0h0m4-7h0m23 8h0m8-1h0m23 0h0m7-1h0m15 1h0m1-7h0m16 2h0m3 0h0m3 3h0m2-3h0m1 3h0m4-1h0m4 4h0m3-2h0m18-1h0m10-1h0m5 3h0m6-5h0m17-2h0m9 18h0m-26-3h0m-2-3h0m-7-2h0m-2 8h0m-1-5h0m-3 3h0m-1-5h0m-1 8h0m-2-6h0m-5 2h0m-4 2h0m-1-6h0m-2 5h0m-2-6h0m-5 6h0m-9 3h0m-3-8h0m-3 9h0m-8-7h0m-7 5h0m-5 0h0m-6 1h0m-1-5h0m-1-5h0m-3 3h0m-4-1h0m-3 8h0m-1-8h0m-10 1h0m-20-1h0m-3-1h0m-30 4h0m-1-3h0m-3 1h0m-3 0h0m-1 3h0m-6 5h0m-2-10h0m-1 10h0m-11-5h0m-6 0h0m-16 5h0m-5-4h0m-5-7h0m10 17h0m7 1h0m0 4h0m3 1h0m12-8h0m3 2h0m4 6h0m4-7h0m3 6h0m0-8h0m5-2h0m1 5h0m9-2h0m20 7h0m13-10h0m21 7h0m2-4h0m3 3h0m2-3h0m4 7h0m4-4h0m3-1h0m3 2h0m4-6h0m1 9h0m5-1h0m3 1h0m2-2h0m1-3h0m1 6h0m3-3h0m6-6h0m4 4h0m1 3h0m3-1h0m2 2h0m9-2h0m2-4h0m1-4h0m2 7h0m1 3h0m3-4h0m1 4h0m2-7h0m2-3h0m1 7h0m2-5h0m2 2h0m9 4h0m2-8h0m32 1h0m-46 17h0m-3-3h0m-2 7h0m-1-8h0m0 4h0m-2 3h0m-2-7h0m-14 7h0m-2-7h0m-1 4h0m-2-2h0m-4 6h0m-1-6h0m-7 6h0m-14-1h0m-1-7h0m-4 4h0m-17-6h0m-7 4h0m-1 3h0m-19-5h0m-12 4h0m-31-6h0m-9 10h0m-10-2h0m-1-3h0m-3 3h0m-10 0h0m-7-1h0m-5 3h0m0-5h0m-3 13h0m2-4h0m8-2h0m4 0h0m4 5h0m6-5h0m5 8h0m5-4h0m3 6h0m14-5h0m9 6h0m27-8h0m6 0h0m9 2h0m6-2h0m13 8h0m0-5h0m2-4h0m16 6h0m9-1h0m2 2h0m14-2h0m1-3h0m4-4h0m17 6h0m9 5h0m5-1h0m3-10h0m4 1h0m1 3h0m4-2h0m23 17h0m-32-5h0m-13-1h0m-1 8h0m-7 2h0m-14-9h0m0 7h0m-2-3h0m-3 3h0m-9-1h0m-1 3h0m-1-11h0m-6 4h0m-11 1h0m-7-4h0m-1 5h0m-2-4h0m-7-1h0m0 8h0m-3 2h0m-1-4h0m-2-3h0m-2-4h0m-13 7h0m-5 1h0m-1-2h0m-4-6h0m-5 5h0m-3 5h0m-15 1h0m-1-10h0m-1 7h0m-2 3h0m-8-4h0m0-7h0m-3 6h0m-10-1h0m-13-3h0m-10 5h0m-3-6h0m-5 6h0m-3-2h0m-1-4h0m9 12h0m3 3h0m1 3h0m2 3h0m3-10h0m7 0h0m3 3h0m7 3h0m18-5h0m3 2h0m25-2h0m6 0h0m34-1h0m2 3h0m0 5h0m4 1h0m7-6h0m9 2h0m1-5h0m1 10h0m6-3h0m1 4h0m4-8h0m3-2h0m3 0h0m16 4h0m3-5h0m14 0h0m8 4h0m7 13h0m-10 5h0m-3-8h0m-2 3h0m-1-3h0m-13 1h0m-3 6h0m-1-6h0m-1 4h0m-5 1h0m-5-1h0m-1-4h0m-6 8h0m-8-2h0m-1-6h0m-2 5h0m-2 3h0m-1-4h0m-15-6h0m-15 1h0m-16-1h0m-7 7h0m-10-6h0m-15 8h0m-3-2h0m0-4h0m-4 2h0m-2-5h0m-8 2h0m-2 4h0m-11 1h0m-5-3h0m-3 3h0m14 11h0m0-5h0m18 1h0m9-3h0m3 9h0m7-9h0m3 10h0m11-2h0m8 0h0m1-6h0m11 8h0m1-3h0m21-2h0m6 6h0m7-4h0m1-5h0m10 2h0m14 7h0m4 0h0m5-4h0m1-5h0m5-1h0m4 7h0m3-8h0m6 5h0m-2 11h0m-23 6h0m-6-9h0m-13 9h0m-2-5h0m-18 2h0m-4 0h0m-13 3h0m-25-7h0m-27-2h0m-4 3h0m-8 1h0m12 7h0m5 3h0m51 2h0m37-5h0m5 8h0m3-2h0m15-2h0m5-4h0m-18 14h0"/>
<path stroke="#f7ad90" d="M477 223h0m0-5h0m6 2h0m1 5h0m10 12h0m-4 0h0m-1-7h0m-3 3h0m-2-4h0m0 7h0m-3 3h0m-1-11h0m0 8h0m-3 1h0m1 3h0m10 12h0m-6 1h0m-13 18h0m18 3h0m4 11h0m-1-9h0m-2 3h0m-1 7h0m-3-9h0m5 18h0m3 0h0m-6 15h0m-4 1h0m-1-5h0m-3-1h0m0-4h0m-9 7h0m13 14h0m4-9h0m-15 16h0"/>
<path stroke="#dd5f4b" d="M524 247h0m-5 27h0m5 11h0"/>
<path stroke="#e67259" d="M516 241h0m4 4h0m10 7h0m0 3h0m-4-2h0m-6-1h0m7 30h0m-12 2h0m-8 7h0m3-3h0m1 7h0m5-6h0m1 3h0m5-2h0"/>
<path stroke="#d24b40" d="M527 248h0m-2 29h0"/>
<path stroke="#9fbfff" d="M231 58h0m54 8h0m-43 0h0m-6 1h0m-14 0h0m-5 0h0m-46 16h0m16-3h0m11-8h0m1 3h0m3-3h0m13 6h0m8-5h0m28 1h0m-32 19h0m-3-5h0m-32-2h0m-4 8h0m-19-4h0m-3 3h0m-2 2h0m-3-2h0m-4-3h0m-12 1h0m-3 3h0m-9 8h0m2-6h0m2 4h0m2-1h0m2 3h0m3-3h0m5 5h0m3-2h0m7 2h0m1-3h0m4-3h0m2 6h0m2-4h0m0-4h0m1 9h0m2-8h0m9 0h0m34 0h0m0 9h0m19-9h0m-5 21h0m-2-8h0m-44 1h0m-7-3h0m-5 1h0m-12 8h0m-24-4h0m0-3h0m-1 7h0m-6 13h0m3-1h0m1-3h0m2 2h0m1-6h0m6 1h0m1 4h0m2-3h0m3 2h0m8 3h0m0-6h0m4 5h0m2 3h0m3-6h0m3 3h0m5 2h0m3 0h0m1-8h0m28 8h0m8 0h0m2-5h0m2 6h0m2-4h0m0-6h0m3 7h0m3-1h0m1 4h0m10-9h0m18 21h0m-7-1h0m-3 0h0m-1-7h0m-5 6h0m0-5h0m-1-4h0m-4 8h0m-6-3h0m-5 1h0m-1-3h0m-2 7h0m0-6h0m-3 4h0m-1 3h0m0-6h0m-2-3h0m-1 9h0m0-3h0m-1-3h0m-1-5h0m-1 11h0m-1-3h0m-4 2h0m-4 1h0m-17-6h0m-3 0h0m-2-3h0m-5 4h0m-9 0h0m-2 3h0m-4 0h0m-2-7h0m0 5h0m-7 2h0m-1-4h0m-5 6h0m-4-9h0m-1 7h0m-3 2h0m-1-3h0m-2-7h0m-2 3h0m-2-2h0m-2 4h0m-3 4h0m-4 4h0m1-2h0m1 9h0m0-4h0m2-2h0m3 6h0m1-9h0m0 5h0m2 3h0m1-4h0m2-2h0m17 4h0m1-3h0m1-3h0m4 3h0m3-3h0m7 8h0m4-2h0m1 4h0m8-1h0m8 1h0m2-4h0m2-3h0m3-3h0m0 3h0m0 7h0m4-6h0m0 5h0m2-3h0m2 3h0m2-4h0m1 5h0m0-9h0m4 8h0m2-3h0m0-3h0m3 5h0m0 3h0m1-8h0m2 6h0m5 1h0m3-6h0m0 3h0m3-2h0m8 6h0m1-10h0m1 8h0m1-4h0m0 6h0m1-8h0m1 5h0m1-8h0m1 3h0m0 8h0m4-8h0m0 6h0m2-2h0m1-5h0m2 2h0m1 6h0m3-7h0m0 7h0m2-3h0m3 4h0m0 9h0m-3-5h0m-3-2h0m-3 5h0m-1-4h0m-10 5h0m-1 3h0m-2-6h0m-1 6h0m-14 0h0m0-3h0m-6-6h0m-2 2h0m-3 0h0m-4 5h0m-1-8h0m-2 1h0m-1 6h0m-4-5h0m-2 9h0m-2-4h0m-2-6h0m-1 6h0m-2-2h0m-2-1h0m-1-4h0m-12 2h0m-4 6h0m-10 2h0m-3-3h0m-1 4h0m-3-3h0m-1-4h0m0 7h0m-3-2h0m-7-6h0m-5 4h0m-3-7h0m0 6h0m-1 5h0m-2-7h0m0 7h0m-1-3h0m-2-8h0m-1 8h0m-6-3h0m-2-4h0m-1 10h0m-1-3h0m-19-7h0m-2 0h0m-2 3h0m-6 4h0m17 14h0m3-3h0m3 2h0m3-4h0m0-4h0m20 9h0m1-9h0m11 9h0m2-5h0m3-3h0m9 9h0m3-2h0m9 1h0m16-2h0m2-3h0m3-1h0m5 7h0m1-11h0m2 4h0m1-4h0m1 5h0m30 2h0m3 3h0m0-4h0m10 2h0m2-3h0m2 6h0m7-7h0m1 9h0m-3 2h0m-1 2h0m-3-1h0m-2 3h0m-7 0h0m0-3h0m-2-3h0m-1 7h0m-2-7h0m0 3h0m-3 0h0m-3 2h0m-5 2h0m-1-8h0m-1 4h0m-2 2h0m-24-4h0m0 4h0m-3-2h0m-1 6h0m-2-7h0m-1 4h0m-5 1h0m-4-1h0m-1 3h0m-3-6h0m0 3h0m-3-4h0m-4 1h0m-2-4h0m0 3h0m-1 4h0m-5 0h0m0-7h0m-1 4h0m-1 6h0m-3-4h0m-1-3h0m-3 2h0m-2 2h0m-4 3h0m-3-2h0m-3 1h0m-1-3h0m-3 3h0m-3-2h0m-1 4h0m-1-6h0m-1 4h0m-1-8h0m-4 8h0m-3-4h0m-1 4h0m-1-7h0m-2 5h0m-3 4h0m-3-3h0m0-4h0m-1-3h0m-3 5h0m-4 0h0m-2-4h0m0 8h0m-4-7h0m-1 4h0m-2 2h0m-3 2h0m-25 7h0m2 2h0m1 2h0m1-4h0m4 5h0m18-9h0m4-1h0m6 10h0m1-10h0m6 3h0m11 0h0m4-1h0m2 2h0m4-3h0m7 2h0m1-4h0m9 2h0m7-2h0m2 2h0m8-1h0m6 0h0m3 0h0m27 6h0m7 0h0m3-7h0m2 0h0m5 2h0m70 8h0m2-3h0m0-3h0m6 5h0m3 8h0m-2 3h0m-1-5h0m-5-3h0m0 4h0m-4-2h0m-19 2h0m0 6h0m-3 1h0m0-9h0m-6 3h0m-7 1h0m-3-2h0m-3 5h0m-3-6h0m-1 6h0m-2-5h0m-3 0h0m-6 0h0m-2 4h0m-2-3h0m-1 4h0m-2-4h0m-5 4h0m-75-7h0m-62 1h0m10 12h0m26 5h0m95-6h0m0 9h0m3-7h0m1 3h0m0-7h0m5 0h0m4 4h0m0-3h0m5 8h0m10-9h0m1 11h0m4-10h0m3 6h0m8 3h0m5 1h0m6 0h0m0-9h0m3 3h0m3-3h0m3 4h0m0-6h0m20 7h0m-10 9h0m-12-3h0m-5 1h0m-3 2h0m-7 4h0m-10-3h0m-9-2h0m-3 5h0m-1-6h0m-8 3h0m-1 4h0m-9-6h0m-1 6h0m-2-8h0m-1 10h0m-2-4h0m-20-2h0m-4 11h0m23 6h0m1-8h0m6-2h0m12 0h0m3 2h0m3 2h0m10 2h0m2-6h0m15 1h0m6 0h0m13 10h0m2-8h0m5-3h0m7 10h0m5-1h0m0-4h0m-35 18h0m-2-4h0m-6-3h0m-1 4h0m-21 1h0m-2-6h0m-102 5h0m60 4h0m32 5h0m3-5h0m31 4h0m31-3h0m9 6h0m1 9h0m-13 5h0m-144-3h0m114 6h0m-25 14h0m19 12h0"/>
<path stroke="#f5c4ac" d="M464 213h0m-4 2h0m-5 8h0m5 0h0m5-3h0m4 1h0m5-5h0m-9 19h0m-7 15h0m3-9h0m2 9h0m3-9h0m3 5h0m2 4h0m-3 2h0m-3 5h0m-9-2h0m-4-3h0m9 12h0m0 17h0m-3-2h0m-2 7h0m-4-9h0m-8 4h0m9 14h0m4-2h0m0 5h0m2-9h0m1 7h0m10 7h0m-4 7h0m-5-3h0m-16 5h0m4 2h0m21 6h0m-16 9h0m-5-1h0m-7 3h0m-5 4h0m13 1h0m1 6h0m6-6h0m-21 13h0m-11 5h0"/>
<path stroke="#6282ea" d="M421 51h0m7-3h0m76 20h0m-1 3h0m-12-7h0m-2 4h0m-6-7h0m-2 0h0m-6 2h0m-4-3h0m-5 1h0m-11 3h0m-24 1h0m34 12h0m35-5h0m6 0h0m1 2h0m3 0h0m2 0h0m3 3h0m7 17h0m-6 0h0m-35 1h0m-8-9h0m12 15h0m2 3h0m18-6h0m28 18h0m-4-5h0m-6 4h0m-15 2h0m-9-3h0m4 11h0m11-4h0m15 1h0m2 8h0m8-10h0m5 17h0m-9 2h0m-6-7h0m-25 12h0m21 10h0m1-3h0m11 1h0m6 1h0m3-1h0m10-4h0m2 3h0m1 10h0m-4 6h0m-1-3h0m-4-5h0m-2 4h0m-19-2h0m-2 4h0m-6-1h0m-4-8h0m-1 8h0m-3 0h0m43 7h0m2 7h0m-1 4h0m-2 6h0m0-3h0m-1-3h0m-8-1h0m-15 6h0m-2 4h0m-38 7h0m14-4h0m19 2h0m3 7h0m0-5h0m11-4h0m3 8h0m2-9h0m5 4h0m-34 12h0"/>
<path stroke="#93b5fe" d="M310 46h0m-6 1h0m-4 0h0m-8-5h0m-3 5h0m-17-3h0m-10 0h0m-5 2h0m-31 12h0m8-2h0m6-2h0m0 5h0m2-3h0m2-4h0m4 0h0m2 2h0m6-3h0m4 3h0m2-2h0m2 2h0m11-6h0m0 7h0m12-5h0m1 7h0m3 1h0m9 1h0m2-8h0m0 5h0m1 2h0m7-1h0m3-9h0m9 10h0m13-9h0m2 4h0m25 14h0m-40 2h0m-9-6h0m-1 3h0m-3-5h0m-1 3h0m-3 1h0m-2 3h0m-2-6h0m-4 2h0m-4 2h0m-1-3h0m-2 5h0m-2-5h0m-1 7h0m0-10h0m-4 8h0m-1-7h0m-30 5h0m-2 4h0m-2-6h0m-1 3h0m-3-3h0m-1-3h0m-3 1h0m-2 2h0m-2-2h0m-5-1h0m-3 3h0m0-3h0m-2 5h0m-2-5h0m0 8h0m-4 2h0m0-11h0m-6 10h0m-4-4h0m-2 2h0m-3 1h0m-38 14h0m8-1h0m3 0h0m3-1h0m4 1h0m5-4h0m4 0h0m0 4h0m1-8h0m2 7h0m5 1h0m2-6h0m1-2h0m3-1h0m1 5h0m1 4h0m2-2h0m1-5h0m2 7h0m3-4h0m3 2h0m0-5h0m2 2h0m2-2h0m2 7h0m8-5h0m2 5h0m1-7h0m1 4h0m3-5h0m1 3h0m2-5h0m2 4h0m6 6h0m5 0h0m10-1h0m9 1h0m12-10h0m9 2h0m1 4h0m13 4h0m4 0h0m6-8h0m3-2h0m1 6h0m4-4h0m1 7h0m10-5h0m1 7h0m9-11h0m-4 12h0m-23 10h0m-7-5h0m-2 3h0m-4-8h0m-6 4h0m-2 4h0m0 3h0m-1-6h0m-6 5h0m-4-2h0m-11-1h0m-4 0h0m-1 4h0m-2-4h0m-1-7h0m-3 9h0m0-3h0m-3 1h0m-1 3h0m-3 0h0m-3-10h0m-4 2h0m-4 2h0m0 6h0m-2-10h0m-1 8h0m-1-6h0m-3 1h0m0 3h0m-5 5h0m-2-2h0m-1-5h0m-1-3h0m-6 8h0m-3-1h0m-2 2h0m-7-3h0m-1-7h0m0 11h0m-3 0h0m-1-4h0m-4 1h0m0 3h0m-2-8h0m-1-3h0m-2 8h0m0 3h0m-2-10h0m-5 1h0m-7 8h0m-3-8h0m-7 3h0m0-3h0m-3 0h0m-3 1h0m-4 8h0m-1-3h0m-5 1h0m0-9h0m-3 2h0m-3-1h0m0 4h0m-3 0h0m-1-3h0m-3 1h0m-1 7h0m-4-5h0m-3 1h0m-3 3h0m-10 2h0m-6 4h0m1 7h0m13-4h0m0 3h0m8 1h0m0-7h0m1-3h0m1 5h0m2-3h0m2-1h0m3 4h0m8 2h0m3-7h0m2 3h0m3 7h0m0-6h0m0 3h0m3-2h0m4-4h0m2 2h0m10 7h0m3-3h0m14-1h0m1-3h0m1 8h0m1-5h0m4 2h0m1-3h0m3-3h0m1 6h0m1 3h0m1-10h0m2 8h0m1-4h0m1 3h0m3-8h0m0 8h0m3-2h0m5 4h0m7-9h0m3 6h0m5-6h0m3 8h0m6-8h0m1 6h0m2-3h0m3 2h0m4 1h0m1-7h0m14 4h0m2 1h0m2-2h0m13-1h0m3 1h0m18 6h0m3-2h0m19-4h0m-14 17h0m-14-2h0m-3-3h0m-5 0h0m-15 3h0m-2 5h0m-3-3h0m-2-8h0m-1 10h0m-3-1h0m-2-4h0m-1-4h0m-2 6h0m-3-2h0m-3-3h0m-4 4h0m-3-5h0m-9-1h0m-5 10h0m-2-7h0m-1 5h0m-1 3h0m0-11h0m-3 8h0m-3 3h0m0-6h0m0-4h0m-3 1h0m-2 5h0m-2-3h0m0 7h0m-1-3h0m-3-1h0m0 3h0m-1-6h0m-3 4h0m-1 3h0m-1-10h0m-1 4h0m-2-2h0m-1 4h0m-2-2h0m-1 4h0m-4 0h0m-1-7h0m-1 4h0m-2 3h0m-1-7h0m-1 4h0m-2 4h0m0-6h0m-4 4h0m0 3h0m-27-11h0m-1 6h0m-4-4h0m0 8h0m-2-3h0m-2 3h0m-1-7h0m-1 3h0m-2 4h0m-5-2h0m-2 2h0m-2-4h0m-1-6h0m-1 2h0m-2 3h0m-3-5h0m-62 21h0m53 0h0m1-8h0m2 9h0m6-4h0m2-6h0m1 11h0m1-8h0m3-1h0m0 3h0m1 3h0m2-7h0m0 10h0m4-9h0m1 4h0m1 5h0m2-11h0m7 11h0m32-5h0m3-4h0m0 6h0m5 3h0m3-11h0m0 11h0m0-7h0m3-2h0m3 0h0m4 2h0m2 5h0m1-3h0m2-6h0m1 4h0m1 6h0m1-9h0m5 0h0m3 1h0m9 7h0m1-5h0m3 0h0m9-3h0m32 1h0m2 5h0m0-3h0m3 2h0m51 5h0m-33 8h0m-16 4h0m-15-9h0m-7 9h0m-9-4h0m-17 4h0m-4-2h0m-1-4h0m0-3h0m-2 6h0m-1-5h0m-6 4h0m-3-2h0m-4 3h0m0-7h0m-7 4h0m-3-2h0m-1 3h0m-1 3h0m-3-7h0m-19 1h0m-4-2h0m-9 2h0m-2 3h0m-1-6h0m-1 3h0m-5 4h0m0-4h0m-11-1h0m-3 2h0m-1 3h0m-2-2h0m0 5h0m-1-9h0m-1 10h0m-3-9h0m-4 4h0m0-3h0m-4 8h0m-2-11h0m-1 7h0m-1-4h0m-6 5h0m0-5h0m-4 2h0m-5 1h0m-2-6h0m-4 10h0m-2-1h0m-4 10h0m12-3h0m4-1h0m5 0h0m0 4h0m2-6h0m8 9h0m0-4h0m3-2h0m0 7h0m1-3h0m4-8h0m1 5h0m2-2h0m1 7h0m2-9h0m7 3h0m18 3h0m2-6h0m3 10h0m28-11h0m7 0h0m19 7h0m7-1h0m4-5h0m10 7h0m8-8h0m3 0h0m6 0h0m18 10h0m1-3h0m3 0h0m54 14h0m-15-7h0m-64 5h0m-6-3h0m-22 1h0m-3-5h0m-1 10h0m-2-6h0m0 3h0m-58-7h0m-1 4h0m-2 7h0m-4-2h0m-2-3h0m-3 0h0m-1 3h0m-2-7h0m-1 6h0m-2-3h0m0-4h0m-2 6h0m0 3h0m-3-10h0m0 5h0m-1-2h0m-2 2h0m-4-4h0m-9 3h0m-2-3h0m-4 5h0m-4 1h0m-2 3h0m-3 0h0m0-3h0m-3 4h0m-2-8h0m-9 2h0m-4 3h0m-5-3h0m-27 0h0m18 18h0m12-5h0m3 0h0m16 4h0m2-8h0m0 3h0m3-4h0m0 5h0m4-6h0m0 9h0m7 1h0m2-8h0m3-1h0m7 8h0m5-4h0m2 6h0m10-11h0m2 3h0m2 8h0m1-10h0m1 7h0m4 3h0m39-9h0m17 5h0m3-6h0m1 4h0m1 5h0m1-3h0m1-7h0m34 3h0m10-2h0m4 2h0m37 7h0m-98 5h0m-67 7h0m-3-4h0m-10-3h0m-11-1h0m-11 0h0m-3-1h0m-2 3h0m-3-2h0m-16 2h0m-10-2h0m-31-1h0m-3 0h0m-7 10h0m-2-3h0m-2 2h0m-3-8h0m-12 7h0m-2-3h0m20 7h0m1 2h0m3 0h0m225 10h0m-11 4h0m-3-2h0m-5 6h0m0-7h0m0 3h0m-3 6h0m0-3h0m-1-4h0m-9-1h0m-8 6h0m0-6h0m-5 5h0m-34-1h0m-2 11h0m15 3h0m15-6h0m6-3h0m7 1h0m5 0h0m19 2h0m-11 24h0"/>
<path stroke="#f7b99e" d="M454 216h0m7 3h0m7-2h0m3 1h0m3 3h0m1 6h0m6-4h0m8 4h0m-2 11h0m-7-6h0m-3 1h0m-3-1h0m-1 3h0m-1 4h0m0-10h0m-3 4h0m-1 5h0m-8 0h0m-2 4h0m14 4h0m4 4h0m1 4h0m-3 0h0m-6 2h0m-7 12h0m5 2h0m5 4h0m3 0h0m6 1h0m5 6h0m-3 3h0m-1-4h0m-12-3h0m-5 1h0m1 16h0m12 14h0m-11-5h0m-2 3h0m-6 3h0m11 3h0m0 4h0m11 9h0m-4 4h0m-3-5h0m-4 9h0m-1-6h0m-2 4h0m-2 4h0m-2-3h0m-6 0h0m-15 9h0m12-4h0m1 4h0"/>
<path stroke="#b9d0f9" d="M93 200h0m10 0h0m26 1h0m4 0h0m4-1h0m14 1h0m0-3h0m19 5h0m7-2h0m1-3h0m2 2h0m10 2h0m4 0h0m148 1h0m4 1h0m-8 2h0m-14 1h0m-5 5h0m-4 0h0m-125-2h0m0-3h0m-3 7h0m-3 0h0m-4-8h0m-3 6h0m-2 2h0m-1-3h0m-6-5h0m0 7h0m-3-6h0m-2 6h0m-3-8h0m-4 8h0m-3 1h0m0-5h0m0-5h0m-3 9h0m0-3h0m-6 0h0m-3-2h0m-4 5h0m0-4h0m-3 4h0m-1-4h0m-4 3h0m-5-6h0m-7 4h0m-2 5h0m-1-11h0m-13 9h0m-1-4h0m-4 2h0m-4-2h0m-4 3h0m0-6h0m-2 8h0m0-5h0m-9-4h0m0 9h0m-2-1h0m-9-7h0m15 11h0m8-1h0m0 4h0m8-1h0m3 0h0m0 5h0m3-7h0m0 8h0m0-4h0m3 2h0m2 2h0m1-7h0m2 3h0m6 2h0m2-4h0m4 0h0m0-3h0m1 7h0m6-2h0m2-3h0m11 5h0m2 3h0m3-2h0m1-7h0m3 2h0m1 4h0m1 4h0m15-7h0m0-4h0m4 6h0m0-3h0m2 7h0m11-9h0m1 5h0m1-3h0m29 2h0m75 4h0m5-7h0m0 8h0m2-10h0m1 7h0m3-3h0m0-3h0m3 6h0m4-6h0m0 6h0m1 3h0m2-5h0m2-3h0m1 3h0m44 16h0m-20-1h0m-2-3h0m-9-3h0m0 5h0m-15 3h0m-1-8h0m-4-1h0m-3 8h0m-3-9h0m-1 7h0m-1-4h0m-2 6h0m-2-3h0m-3-6h0m-11 2h0m-44 4h0m-56 4h0m-1-6h0m-3-1h0m-3-1h0m-5 0h0m-1 3h0m-4-4h0m0 4h0m0 3h0m-4-7h0m-3 1h0m-4 4h0m-6 3h0m-1-3h0m0-6h0m-4 9h0m-3-8h0m-1 7h0m-1-3h0m-16 4h0m-2-6h0m-2 7h0m-4 1h0m-9 0h0m-11-9h0m0 8h0m1 5h0m2-3h0m1 3h0m0 4h0m4-5h0m2 3h0m5-3h0m3 3h0m0 3h0m9-8h0m2 6h0m3 2h0m3 0h0m2-4h0m3 6h0m3-5h0m3 2h0m3 2h0m2-6h0m10 0h0m9 3h0m1 5h0m3-9h0m0 3h0m5 2h0m4 3h0m3-9h0m2 7h0m2 2h0m0-7h0m1 2h0m23 5h0m3-1h0m35-5h0m48-4h0m4 0h0m0 4h0m3 0h0m28 0h0m10-4h0m3 13h0m-4 3h0m-9 7h0m0-10h0m-8 6h0m-3 1h0m-1-3h0m-19 0h0m-5 5h0m-3-2h0m-5 0h0m-11 2h0m-9-9h0m-11 6h0m-17-1h0m-3-1h0m-11-1h0m-17-4h0m-2 11h0m-3-1h0m0-5h0m-15 3h0m-2-2h0m-6 2h0m-1-5h0m-2 7h0m-1-10h0m-6 6h0m0 3h0m-2-6h0m-1 4h0m-4-3h0m-22 2h0m-5 0h0m-4-2h0m0 4h0m-3-6h0m-13 6h0m-3 2h0m-4-5h0m-3 4h0m-4 2h0m-1-8h0m0-3h0m-3 2h0m6 21h0m4-1h0m2-6h0m2 7h0m0-10h0m3-1h0m1 7h0m4-1h0m8 3h0m6-2h0m9-2h0m0-4h0m2 8h0m4-4h0m1 5h0m2-8h0m1 3h0m1 3h0m12 1h0m2-9h0m2 4h0m2-4h0m3 0h0m1 3h0m0 5h0m5-8h0m7 9h0m11-7h0m5 6h0m2-6h0m5 8h0m3-8h0m8 2h0m17 4h0m1-5h0m2 8h0m10-11h0m5 1h0m11-1h0m10 8h0m1-4h0m4 6h0m3-5h0m2-2h0m3-2h0m4 2h0m21 2h0m2 3h0m1-7h0m10 6h0m24 1h0m14 7h0m-24 5h0m-1-8h0m-7 8h0m-22-8h0m-7 11h0m-4-2h0m-5-4h0m-4 4h0m-4-1h0m-2 3h0m-6-9h0m-3 4h0m0-6h0m-4 7h0m-20 4h0m0-3h0m-9-4h0m0 5h0m-6-8h0m-7 1h0m-9 7h0m-4-2h0m-2 3h0m-1-6h0m-7-4h0m-19 0h0m0 10h0m-4-9h0m-19 8h0m-1-3h0m-3-2h0m-2 5h0m0-3h0m-3-1h0m-4-1h0m0 4h0m-3 2h0m-1-8h0m-3 2h0m-6 4h0m-1-6h0m0 3h0m-2 4h0m-5 1h0m-4 0h0m-1-9h0m-3 1h0m-9-2h0m-1 9h0m-1-6h0m-6 5h0m-1-3h0m-2 5h0m-2-8h0m-1 8h0m-6-8h0m8 11h0m4 4h0m7 1h0m2-2h0m3 5h0m2-5h0m3 5h0m1-3h0m2 5h0m1-5h0m1-5h0m1 3h0m0 6h0m3-9h0m2 3h0m3-3h0m2 3h0m9 2h0m3 3h0m5-7h0m1 7h0m2-7h0m1 4h0m2 5h0m1-11h0m1 6h0m2-2h0m9-1h0m0-3h0m6 2h0m5 4h0m3-3h0m1 4h0m2-7h0m2 5h0m2 4h0m1-6h0m2 4h0m9-5h0m3 0h0m4 2h0m0 3h0m10-2h0m4 1h0m0 3h0m3-1h0m2-6h0m0 4h0m4-5h0m4 5h0m3 4h0m8 0h0m7 1h0m1-3h0m9-5h0m3-1h0m8-1h0m9 10h0m7-7h0m1 3h0m2-6h0m9 5h0m9 2h0m2-6h0m5 8h0m4-2h0m11-7h0m13 15h0m-9-1h0m-1 8h0m-8-4h0m0-6h0m-4 8h0m-10-1h0m-11-1h0m-2 2h0m-4-4h0m-5-3h0m-12 2h0m-9 7h0m0-5h0m-8-4h0m-2 2h0m-7 6h0m-2-4h0m-2-4h0m-1 4h0m-3-1h0m-4 0h0m-4-4h0m-2 3h0m-15 3h0m-2-3h0m-1 5h0m-5-9h0m-1 6h0m-2 3h0m-5-4h0m-14-1h0m-2 2h0m-3 4h0m-1-3h0m-5-7h0m-4 3h0m-2 3h0m-1 3h0m-3-4h0m-9 4h0m-9-7h0m0 7h0m-5 0h0m-3-4h0m0 4h0m-3-1h0m-1 3h0m-5-6h0m-3 6h0m-7-7h0m-2-2h0m-2 9h0m-4-6h0m-1 3h0m-2-5h0m-2-2h0m-4-1h0m16 14h0m2-2h0m1 4h0m4 0h0m18-4h0m2 10h0m2-4h0m1-5h0m2 1h0m2 4h0m2 4h0m2-5h0m3-2h0m1 3h0m3-1h0m4-3h0m5-1h0m7 0h0m2 5h0m1 4h0m0-7h0m3 1h0m5 2h0m4-1h0m5-2h0m3 6h0m3 2h0m1-10h0m3-1h0m1 4h0m4-3h0m2 2h0m5 7h0m2-5h0m6 2h0m1 3h0m5 1h0m3-10h0m0 10h0m1-4h0m3 1h0m4 0h0m8-4h0m8 4h0m2-3h0m1 6h0m4-6h0m2 4h0m1-4h0m2 4h0m1-5h0m3-2h0m2 4h0m2 3h0m0-6h0m4 7h0m1-10h0m2 9h0m4 2h0m2-5h0m22-1h0m40 8h0m-55 7h0m-13-5h0m-2 3h0m-7 4h0m-1-9h0m-4 4h0m-1-5h0m-8 2h0m-7 1h0m-1 5h0m-2-3h0m-4-4h0m-5 9h0m-4-3h0m-4 3h0m-2-3h0m-2 3h0m-3-9h0m-3 8h0m-5-7h0m-4 7h0m-7 2h0m-3-4h0m-3-3h0m-3 2h0m-2 4h0m-8-10h0m-5 0h0m-1 10h0m-6-9h0m-2 10h0m-3-11h0m-1 3h0m-6 0h0m-2 2h0m-3-4h0m-4 2h0m0 5h0m-4-2h0m-8 3h0m-14-7h0m-3 0h0m10 12h0m4 3h0m3-5h0m0 5h0m3 2h0m3 3h0m5-10h0m0 6h0m7 5h0m7-1h0m4-6h0m2 5h0m4-7h0m3-1h0m2 5h0m1 4h0m2-6h0m3 5h0m5-2h0m0-5h0m3 0h0m2 3h0m3-3h0m4 1h0m1 8h0m2-8h0m7-2h0m3-1h0m3 6h0m12 2h0m5-5h0m1 8h0m3-10h0m4 10h0m1-10h0m3 3h0m6 3h0m3-1h0m3-6h0m4 3h0m0 4h0m3 3h0m1-8h0m0 3h0m2 2h0m4 0h0m1 4h0m4-6h0m3 5h0m3-8h0m3 9h0m5-4h0m27 2h0m-40 10h0m-1-4h0m-3 0h0m-7 6h0m-6-9h0m0 6h0m-2-3h0m-2 6h0m0-9h0m-4 5h0m-5-4h0m-9 0h0m-4 2h0m-1 4h0m-3 1h0m-3-3h0m-1-3h0m-4 4h0m-2 3h0m-1-5h0m-4 5h0m-8 2h0m-1-3h0m-3 1h0m-5-9h0m0 8h0m-5-3h0m-1-3h0m-4 1h0m-9 2h0m-3-1h0m-1-4h0m-3 2h0m-3 1h0m0-3h0m-4 1h0m-2 8h0m-2-8h0m-1 10h0m-9-4h0m0-3h0m-3 1h0m-2-4h0m19 13h0m15 2h0m8-3h0m15 4h0m3-2h0m15 0h0m3-2h0m4 2h0m2 4h0m10 1h0m5-4h0m4-1h0m14-1h0m10 2h0m14-1h0m-5 9h0m-38 10h0m-3-5h0m-29-1h0m-17-1h0m-7-2h0"/>
<path stroke="#f29274" d="M512 238h0m-4-3h0m-2 3h0m-4-1h0m-1-4h0m5 19h0m-5 1h0m-2 22h0m3-2h0m3 0h0m9 1h0m-1 13h0m-3-7h0m-5 6h0m-2-10h0m-1 8h0m0-3h0m-3-2h0m-1 5h0m0 3h0m-8-6h0m3 7h0m6 3h0m1 5h0m2-8h0m1 7h0m2 13h0m-1 3h0m-3-1h0m-15 11h0m8-5h0m7-2h0"/>
<path stroke="#d8dce2" d="M414 206h0m-2 4h0m-2 4h0m-1-8h0m-5 7h0m-6-5h0m-11 1h0m10 10h0m29 19h0m-13-6h0m-4 3h0m-6 0h0m-1-7h0m-3 8h0m-2-6h0m-2 3h0m-5 2h0m-4 9h0m19 3h0m5-3h0m3 3h0m3 4h0m3 10h0m-7-9h0m-3 4h0m-6-3h0m-17 17h0m14 2h0m3-4h0m3 6h0m1-5h0m5 1h0m6 5h0m11 9h0m-12 2h0m-1-6h0m-3-4h0m-5 5h0m-14-4h0m-46 15h0m31 0h0m14 1h0m4 2h0m5 4h0m14-8h0m-5 10h0m-3 6h0m-5-2h0m-18-1h0m-11 10h0m6 7h0m4-2h0m10-7h0m5 1h0m1 7h0m12-4h0m-7 13h0m-1 4h0m-2-9h0m-2 10h0m-3-10h0m0 6h0m-5 3h0m-54-1h0m15 14h0m6-1h0m29-9h0m1 9h0m3-6h0m1 5h0m0 3h0m4-3h0m-2 7h0m-6-1h0m-1 8h0m-5-2h0m-1-7h0m-2 7h0m-2-5h0m-3 6h0m-3-5h0m-2-3h0m-5 0h0m-2 5h0m-3-1h0m-5-2h0m-5-3h0m-12 1h0m-139 15h0m131 6h0m2-3h0m2 2h0m8-9h0m1 8h0m1-6h0m8 4h0m1-5h0m1 7h0m5 0h0m2-3h0m5-1h0m2 4h0m4 2h0m6-4h0m1-5h0m2 5h0m3-1h0m2-4h0m6 5h0m5-1h0m-19 8h0m-4-1h0m-1 2h0m-5 1h0m0-3h0m-6 4h0m-2 3h0m-3 0h0m-5-1h0m-3-2h0m-4 1h0m-1 4h0m-6-3h0m-1-3h0m-12 8h0m-4-4h0m7 5h0"/>
<path stroke="#f5a081" d="M487 223h0m0-3h0m4 3h0m3 1h0m2 3h0m4 12h0m-1-8h0m-1 5h0m-3-3h0m-3-4h0m-3 4h0m7 18h0m3-2h0m-6 4h0m-9 21h0m8-1h0m4 0h0m12 12h0m-2-4h0m-11-1h0m0-4h0m-1 9h0m-10 13h0m12-3h0m-6 18h0m0 7h0m1-3h0m2-5h0m4 2h0m-12 10h0m-9 1h0m-7-1h0"/>
<path stroke="#6e90f2" d="M424 47h0m-8 0h0m-3-1h0m-6-1h0m-8-1h0m-2 3h0m-5-5h0m-5-3h0m-2 2h0m19 17h0m0-3h0m9 4h0m3-1h0m2-8h0m1 8h0m1-4h0m3 3h0m1-7h0m4 2h0m1 3h0m2-2h0m2-3h0m2 4h0m1-2h0m3 4h0m0-4h0m6 4h0m2 3h0m62 12h0m-2-2h0m-6-3h0m-1 3h0m-3 1h0m-1-4h0m-1 5h0m-1-8h0m-1 6h0m-6-4h0m-1-3h0m-1 5h0m-3-3h0m-3 0h0m-2-3h0m-6 2h0m-8-3h0m-3 0h0m-2 1h0m-1 10h0m-2-11h0m0 7h0m-2-2h0m-4-4h0m-2 2h0m-3-3h0m-1 3h0m-2-2h0m-1 3h0m-2-2h0m-3 3h0m-2 1h0m-3 1h0m-1-5h0m-1-2h0m-2 4h0m-2 2h0m-2-3h0m-2 1h0m-3 1h0m-1-4h0m-2 3h0m-2-1h0m-4-2h0m52 13h0m3 2h0m0 3h0m2 2h0m3-1h0m1 3h0m2 0h0m33-9h0m7 3h0m9 16h0m-7 0h0m-2-2h0m-2 3h0m-5 1h0m-24-2h0m-4-5h0m0 3h0m-6-5h0m-70 7h0m-14 3h0m24 1h0m16 7h0m12 3h0m3 0h0m42-8h0m1-3h0m2 2h0m3 4h0m1 2h0m4 1h0m2-3h0m2-3h0m9 5h0m2-3h0m3 0h0m0-5h0m3 6h0m11-5h0m2 4h0m3 0h0m1 3h0m4 2h0m9 12h0m-3-2h0m-1-5h0m-2 2h0m-2-2h0m-2-3h0m0 10h0m-3 1h0m-2-4h0m-2 4h0m-1-3h0m-5-4h0m-3 7h0m-1-7h0m-2 3h0m0-5h0m-1 8h0m-4 1h0m-4-8h0m-1 4h0m-1 4h0m-1-9h0m-1 3h0m-7-5h0m-6 3h0m-2 8h0m0-10h0m-3 2h0m-9 2h0m-4 1h0m-3-1h0m-3 2h0m-6 0h0m-2 4h0m-2-6h0m-2 3h0m-2-5h0m-5-2h0m-3 0h0m-2 8h0m-7 0h0m-3 2h0m-3-6h0m0 3h0m-7-4h0m-7 6h0m-6-7h0m-14 7h0m-4-5h0m3 13h0m40 1h0m8 4h0m2-11h0m1 11h0m12-6h0m4 2h0m23 2h0m1-4h0m3 1h0m1-3h0m3 1h0m5 4h0m3 0h0m11-6h0m2 2h0m2 5h0m3-7h0m0 5h0m1 3h0m2-5h0m1-3h0m1 7h0m1-5h0m0-4h0m1 7h0m1 4h0m5-4h0m1-3h0m3-3h0m0 7h0m3-3h0m5-5h0m1 3h0m1 7h0m1-9h0m1 4h0m2 4h0m7 14h0m-2-2h0m-1-3h0m-2-5h0m0 6h0m-2 2h0m-1-5h0m-1-3h0m-1 6h0m-2-6h0m-9 9h0m-4-2h0m-2-3h0m0 5h0m-2-3h0m-1-5h0m-7 5h0m-8 2h0m-5 0h0m-6-8h0m0 8h0m-3-9h0m0 4h0m-1 4h0m-3-8h0m0 5h0m-6-4h0m-1 2h0m-2-3h0m-6 6h0m-3-3h0m-10 3h0m-7-5h0m-3 9h0m-19-2h0m-3 2h0m-7-2h0m-3-2h0m-1 4h0m-7-2h0m-48 15h0m12-7h0m18 0h0m10 7h0m11 0h0m15 0h0m19-9h0m5 9h0m4-1h0m13-3h0m0 3h0m2-9h0m2 10h0m3-5h0m4-5h0m4 10h0m1-3h0m14-3h0m3 2h0m1-7h0m1 3h0m3 4h0m0-7h0m1 3h0m7 7h0m3-2h0m5-5h0m0 7h0m2-3h0m1-7h0m2 3h0m1 6h0m3 2h0m3-3h0m7 3h0m1-11h0m1 5h0m1 4h0m1-6h0m1 4h0m1 4h0m0-11h0m3 9h0m2-7h0m1 8h0m0 3h0m0 8h0m-4-6h0m-3 3h0m-1 4h0m-5-6h0m-6-4h0m-10 2h0m-1 9h0m-3-10h0m-1 5h0m-2 4h0m0-9h0m-1 3h0m-2-2h0m0 9h0m-5-8h0m-3-1h0m-2 3h0m-1 3h0m-1-8h0m-1 10h0m-2-5h0m-1 4h0m-3-2h0m-1-3h0m0 6h0m-3-2h0m0-6h0m-1 3h0m-4-5h0m-8 8h0m0-3h0m-4 2h0m0 3h0m-2-7h0m-3 8h0m-1-8h0m-3-2h0m-2 3h0m-6 5h0m-1-3h0m-2-6h0m-9 2h0m-3 7h0m-1-4h0m-10-5h0m-7 0h0m-7 0h0m-2 6h0m-3 5h0m-26-4h0m0 3h0m-7 4h0m3 7h0m44-4h0m3 2h0m15-4h0m11 7h0m7-7h0m0 5h0m3-3h0m6 2h0m4 0h0m1 4h0m3-8h0m0-3h0m1 7h0m10-6h0m1 8h0m3-8h0m7 2h0m5-3h0m1 10h0m3-5h0m2 3h0m4-7h0m2 10h0m2-10h0m1 7h0m1-3h0m3 2h0m0 3h0m4 0h0m3 1h0m0-4h0m3-2h0m1 4h0m5-6h0m0 4h0m3-6h0m1 8h0m0-5h0m2-3h0m1 4h0m1 6h0m2-4h0m2-6h0m0 7h0m1-4h0m-9 18h0m0-6h0m-1-3h0m0 6h0m-3-2h0m-1 5h0m-3 0h0m0-4h0m-3 3h0m0-5h0m-2-2h0m-1 2h0m-3 5h0m-1-9h0m-1 3h0m-4 1h0m-1 4h0m-3 3h0m0-4h0m-3 2h0m-6-8h0m0 6h0m-3-2h0m-1 5h0m-2-2h0m-1 3h0m-5-9h0m-3 6h0m0-3h0m-3 3h0m-2-8h0m-1 9h0m0-6h0m-2 4h0m-2 4h0m-6-7h0m-4 4h0m-3 0h0m-3 1h0m-7-8h0m-3 1h0m-3 2h0m-1 7h0m-1-9h0m-2 9h0m-4-5h0m-8 1h0m-2 4h0m-7-11h0m0 7h0m-3-6h0m-2 7h0m-2-5h0m-2 4h0m-8-7h0m-12 7h0m-15-1h0m31 6h0m18 2h0m4 0h0m3 0h0m6 0h0m2 3h0m2-3h0m3 1h0m3 3h0m1-5h0m2 5h0m3 0h0m7 1h0m8-2h0m1-3h0m1 6h0m1-3h0m8 4h0m1-9h0m2 7h0m1-5h0m2 3h0m19-5h0m0 9h0m4-1h0m2-5h0m3 8h0m0-7h0m0 3h0m2 2h0m2-8h0m0 3h0m4 2h0m3-2h0m2 4h0m5-7h0m0 8h0m2-2h0m2-4h0m2-3h0m-10 13h0m-5 2h0m-3 3h0m-4-5h0m-1 6h0m-1-3h0m-1 6h0m-1-4h0m0-4h0m-3 8h0m-4-7h0m-4 6h0m-1-3h0m-5-4h0m-4 1h0m-2-2h0m-4 0h0m-4-1h0"/>
<path stroke="#ead5c9" d="M438 210h0m-5 0h0m-8 13h0m7-3h0m7-4h0m16 3h0m-11 9h0m-9 6h0m-4 2h0m-1-4h0m-6-3h0m7 11h0m4 3h0m4 0h0m3-3h0m4 10h0m-4 14h0m10 0h0m2 17h0m-7-4h0m-4 8h0m-5 0h0m-2-4h0m-1-4h0m-3 3h0m-5 8h0m2 5h0m4-2h0m2 6h0m4-8h0m0 5h0m14-4h0m-16 21h0m-4-6h0m-4-2h0m-5 1h0m-3-3h0m-3 21h0m0-6h0m5-1h0m3 7h0m15-9h0m11 11h0m-16 2h0m-3 5h0m-3-2h0m-3 4h0m-2-4h0m-4-4h0m-20 5h0m20 7h0m14 6h0m10-6h0m-14 13h0m-5-2h0m-4 7h0m-3-2h0m-3 3h0m-12 2h0m-8 0h0m-4 1h0m14 4h0"/>
</g>
<g transform="translate(100.00 281.00) scale(0.50000)" stroke-width="5.9">
<path stroke="#9fbfff" d="M234 142h0m-28-2h0m8 11h0m11 4h0m2-2h0m1-4h0m6 17h0m-8 0h0m-14-3h0m-6-6h0m-9 2h0m23 13h0m5-2h0m-13 19h0m-4-2h0m-26 0h0m-1 3h0m-82-2h0m-9-1h0m-30 11h0m5 3h0m24 1h0m2-6h0m2 4h0m7-5h0m3 1h0m6-2h0m3-2h0m4 9h0m0-9h0m4 5h0m8 1h0m1 3h0m4 0h0m3-8h0m1 7h0m5 1h0m2-2h0m0-4h0m2 2h0m1 3h0m4 1h0m0-3h0m3-5h0m4 4h0m0-4h0m6 0h0m5 6h0m1 4h0m3-4h0m0 4h0m4-2h0m13 1h0m4-3h0m3 2h0m1-4h0m3-1h0m10-2h0m4-2h0m91 23h0m0-3h0m-14-3h0m-2 3h0m-100-5h0m-6-3h0m-4 2h0m-5 1h0m-10 0h0m-9 6h0m-3-9h0m-5 3h0m-4 3h0m-7-4h0m-4 3h0m-11-1h0m0 5h0m-4 0h0m-1-3h0m-13-1h0m-8-2h0m0 4h0m-8 1h0m-11-7h0m-2 8h0m0-6h0m-3-1h0m-4 1h0m-2-1h0m19 13h0m15 0h0m11 2h0m26 0h0m6 2h0m26-7h0m1 10h0m3-7h0m13-2h0m1 5h0m32-2h0m12 6h0m24 1h0m15-5h0m20 1h0m2 2h0m4-2h0m1-5h0m6 2h0m3 3h0m4 0h0m3 7h0m-7 7h0m-7 0h0m-3 0h0m-2-9h0m-2 7h0m-9-5h0m-23 8h0m-3-8h0m-23 7h0m-6 1h0m-5-7h0m-2 6h0m-2-7h0m-3 8h0m-31-8h0m-2 8h0m-1-9h0m-3 2h0m-9 2h0m-4 3h0m-21-5h0m-22 6h0m-28 1h0m3 2h0m1 3h0m10 3h0m0 4h0m4-2h0m18 3h0m7-6h0m0-3h0m5-2h0m3 3h0m7 0h0m28-2h0m1 3h0m23 6h0m4 0h0m3-1h0m0-3h0m12-6h0m4 7h0m5 3h0m5-1h0m2-3h0m1 4h0m1-10h0m2 5h0m1 6h0m2-7h0m7-2h0m5 7h0m3-6h0m14 8h0m6-5h0m1 4h0m0-10h0m4 0h0m1 7h0m2 3h0m2-6h0m3 5h0m4-9h0m0 4h0m4-4h0m-9 22h0m-3-2h0m-2-2h0m-3 2h0m0-5h0m-3 3h0m-4-4h0m-4 8h0m-9-9h0m-1 8h0m-2-7h0m-5 5h0m-2 3h0m-4-6h0m-14 2h0m-3-1h0m-1 4h0m-1-7h0m-4 4h0m-17-6h0m-7 11h0m-3-6h0m-15 3h0m-2-2h0m-6 2h0m-1-5h0m-47 1h0m-8 4h0m-11 2h0m-4-5h0m-7 6h0m-1-8h0m-3-1h0m6 21h0m1-11h0m7 1h0m1 4h0m2-5h0m3 3h0m11 1h0m16 5h0m7-7h0m3 9h0m11-2h0m4-5h0m3 2h0m8-6h0m6 0h0m1 9h0m11-7h0m4 1h0m1 5h0m12-2h0m6-6h0m12 8h0m5 0h0m1-5h0m2 8h0m1-4h0m2 2h0m8-5h0m4-3h0m2 6h0m5-7h0m17 6h0m2 4h0m1-9h0m7 0h0m12 3h0m-12 19h0m-2-3h0m-8 1h0m-4 2h0m-14-2h0m-14-1h0m-2-8h0m-6 4h0m-9-2h0m-2 3h0m-10-3h0m-4 2h0m-3-3h0m-3 10h0m-1-4h0m-2-3h0m-2-4h0m-13 7h0m-6-1h0m-19 3h0m-1-3h0m-5 3h0m-2 2h0m-1-6h0m-4 3h0m-3 2h0m-13-1h0m-4-4h0m-1 5h0m-4 0h0m-8-8h0m-5-2h0m-1 9h0m-1-6h0m-3 4h0m-8 0h0m14 9h0m8 5h0m31 0h0m1-3h0m1-4h0m3 0h0m7-2h0m9 3h0m17-3h0m2 5h0m5 2h0m9-5h0m12 1h0m14-1h0m0 4h0m6-1h0m8 2h0m1-7h0m0 11h0m3-5h0m8 5h0m13-9h0m17 9h0m2-11h0m-33 18h0m-16 5h0m-19-9h0m-3 8h0m-9-8h0m-14 2h0m-11-4h0m-6 6h0m-66-6h0m19 16h0m38-1h0"/>
<path stroke="#dd5f4b" d="M520 245h0m-5 39h0m2 14h0m3-5h0m-11 12h0"/>
<path stroke="#cedaeb" d="M364 203h0m18 8h0m-9 0h0m-8 4h0m-2-7h0m-3-4h0m0 9h0m-3-4h0m-4-4h0m-5 15h0m9 0h0m4 3h0m1-5h0m4 9h0m0-4h0m10-1h0m-7 10h0m-8-3h0m-1 8h0m-2-6h0m-2 5h0m-3-7h0m-1 5h0m-1 4h0m-1-8h0m5 17h0m11 3h0m11-8h0m0 11h0m-1 5h0m-4 5h0m-12-9h0m-4 0h0m-8 7h0m-7 8h0m5-1h0m6 4h0m2-7h0m4 1h0m5 0h0m9 9h0m-10 6h0m-1 6h0m-4-7h0m-5-1h0m-4 8h0m-1-5h0m-9-2h0m6 15h0m11 1h0m1-7h0m3 6h0m7-7h0m-6 18h0m-3-6h0m-3 4h0m-10 7h0m-8-10h0m-4-1h0m0 9h0m-11 8h0m5 6h0m2-9h0m1 9h0m3-11h0m10 7h0m2-4h0m9 0h0m7 0h0m3-3h0m2 4h0m-31 18h0m-4-1h0m-3-3h0m-14-4h0m-2 7h0m-13-5h0m-82 6h0m-34-5h0m-15 0h0m-4 4h0m-9 0h0m6 8h0m6 2h0m6-4h0m2 3h0m3 5h0m4 0h0m7-1h0m0-3h0m16 3h0m5-1h0m3-4h0m2-3h0m3 6h0m9-5h0m1 3h0m0 5h0m8-6h0m2 4h0m5-3h0m2 3h0m0-6h0m7 7h0m6 1h0m11-5h0m3-2h0m4 6h0m1-7h0m4-1h0m3 6h0m4-5h0m6 4h0m1 4h0m4 0h0m4 0h0m6-9h0m4 1h0m3 7h0m1-3h0m3-4h0m-20 12h0m-7 6h0m-3-6h0m-3 3h0m-2-3h0m-6 7h0m-3-6h0m0 3h0m-5-1h0m-2 5h0m-1-3h0m-3-7h0m0 5h0m-4-3h0m-1 4h0m-2-3h0m-4 1h0m-1-3h0m0 6h0m-4-2h0m-3-2h0m-3 2h0m-1-6h0m-4 11h0m-7-8h0m-3 8h0m-1-8h0m-2 5h0m-2-3h0m-3 0h0m-5-2h0m-9 2h0m-1 6h0m0-3h0m-3-8h0m-2 8h0m-4-8h0m-6 9h0m0-5h0m-2-3h0m-7 5h0m-3-2h0m14 10h0m8 2h0m11 0h0m1 7h0m0-10h0m10-1h0m8 1h0m3 2h0m4 5h0m11-5h0m2 5h0m2 3h0m2-11h0m7 0h0m15 3h0m4 4h0m9 1h0m11 0h0m3 7h0m-4-1h0m-13 2h0m-17-2h0m-27 3h0m-24-5h0m-1 3h0"/>
<path stroke="#6282ea" d="M364 28h0m1-3h0m5 6h0m3 3h0m3-1h0m44 14h0m-4 0h0m-9-2h0m0 2h0m-3 0h0m-1-3h0m-2 2h0m-2-2h0m-2 0h0m0 3h0m-12-6h0m10 8h0m9 6h0m9 4h0m3-1h0m2-8h0m1 8h0m1-4h0m1-3h0m2 3h0m0 3h0m1-7h0m2 7h0m2-5h0m0-4h0m3 5h0m0-3h0m2 0h0m2 4h0m4 2h0m8 3h0m48 12h0m-6-10h0m-12 0h0m-20 10h0m-2-7h0m0 3h0m-2-2h0m-4-4h0m-2 2h0m-3-3h0m-3 1h0m-1 3h0m-2 1h0m0-3h0m-2 0h0m-1 3h0m-2 1h0m-2-1h0m-1 2h0m-2 0h0m-2-3h0m-2 2h0m-1-6h0m-1 3h0m-2 1h0m-1-3h0m-2 4h0m-1-4h0m-2 3h0m-2-1h0m-4-2h0m-27 18h0m82-3h0m2 1h0m0 4h0m57 13h0m-2-1h0m-13-1h0m-3 3h0m-23 0h0m-79-9h0m11 17h0m10 1h0m3 0h0m3 1h0m3-1h0m6 3h0m52-3h0m6-2h0m2-3h0m7-1h0m2 6h0m5-8h0m3 2h0m13 3h0m4 18h0m-4 0h0m-5-4h0m-4 4h0m-3-4h0m-5 4h0m-3-2h0m-5-4h0m-4 1h0m0 4h0m-3-10h0m-8 11h0m0-10h0m-3 2h0m-2 2h0m-4 1h0m-3-1h0m-4 1h0m-3-1h0m-5-1h0m-4 3h0m-1-3h0m-5 4h0m-2-5h0m-1 4h0m-4-6h0m-3 0h0m-2 8h0m-2-3h0m-2 4h0m-3-10h0m-3 11h0m-3-6h0m0 3h0m-2 3h0m-2-9h0m-1 3h0m0 4h0m-2 2h0m-2-4h0m-5 3h0m-9-10h0m-5 8h0m-2-4h0m-2 3h0m-3 0h0m-3-2h0m-1 5h0m-1-9h0m-11 6h0m-26 14h0m42 2h0m12-9h0m13 0h0m5 3h0m2 2h0m1 4h0m2-3h0m0-4h0m2-1h0m3-1h0m3 5h0m1 3h0m2-2h0m2 3h0m2-11h0m1 11h0m12-6h0m3-2h0m1 4h0m23 2h0m3 1h0m1-4h0m4-2h0m1-3h0m4-1h0m6 9h0m0-4h0m12 4h0m3-7h0m11 0h0m2 5h0m4 1h0m3-3h0m15 13h0m-2-5h0m-3 3h0m-4 1h0m-9 5h0m0-3h0m-6 3h0m-3-8h0m-3-1h0m-4 6h0m-15-7h0m-4 1h0m0 8h0m-3-9h0m0 4h0m-6-1h0m-4-2h0m-1 2h0m-2-3h0m-1 4h0m-3 4h0m-3 2h0m-2-3h0m0-4h0m-5-2h0m-2 7h0m-3-2h0m-1 4h0m-6-9h0m-3 9h0m-7-8h0m-1 9h0m-3-9h0m-4 2h0m-2 1h0m-2 3h0m-3 2h0m-2-10h0m-2 10h0m-3-2h0m-3-2h0m-1 4h0m-7 1h0m0-3h0m-3 1h0m-13-1h0m-6 0h0m-3-3h0m0 6h0m-1-10h0m-2 10h0m-3-1h0m-6-2h0m-3 2h0m-309-5h0m240 12h0m43 3h0m10 1h0m4 0h0m5-5h0m4 7h0m10 0h0m0-10h0m2 4h0m2 3h0m0-6h0m7-2h0m3 0h0m1 4h0m6 0h0m0-4h0m1 10h0m1-4h0m2 5h0m0-11h0m4 1h0m1 6h0m3 3h0m1-8h0m2 9h0m5-7h0m1 5h0m2-7h0m0 4h0m5-5h0m2 10h0m2-11h0m1 8h0m2-2h0m3 5h0m1-3h0m4 1h0m2-2h0m1-4h0m3 8h0m0-9h0m1 6h0m2-6h0m2 7h0m0 2h0m4-1h0m13-3h0m2-6h0m1 5h0m1 5h0m1-8h0m6-2h0m3 0h0m1 10h0m5-2h0m10-4h0m5-2h0m3-3h0m1 3h0m0 7h0m10-2h0m2 2h0m1-3h0m2-4h0m0 7h0m3-10h0m17 0h0m3 3h0m1 4h0m6-5h0m-3 21h0m-32-10h0m-4 5h0m-2-6h0m-5 2h0m-11 5h0m-1-3h0m-3 4h0m0-6h0m-1 3h0m-2 6h0m-1-4h0m-1-4h0m0-3h0m-8 8h0m-4-1h0m-5 4h0m-3-5h0m-3 4h0m0-6h0m-2 3h0m-3-2h0m-1 4h0m-3-9h0m-6 1h0m0 5h0m-3-1h0m0 6h0m0-9h0m-4-1h0m0 4h0m-3-5h0m-2 8h0m-1-5h0m-2 3h0m-2-6h0m0 11h0m-1-5h0m-2 4h0m0-8h0m-5 2h0m-9-4h0m-1 4h0m-1 7h0m-1-10h0m-3 5h0m-1-3h0m-6 1h0m-6-3h0m-3 8h0m-1-7h0m-7 2h0m-2-4h0m-1 6h0m-3-5h0m-1 9h0m-3-6h0m-2 5h0m0-9h0m-1 3h0m-8 2h0m-2-3h0m-1 3h0m-6-5h0m-7 4h0m-39 1h0m4 12h0m35 2h0m35 2h0m1-3h0m4 3h0m3-7h0m3 6h0m1 3h0m4 0h0m0-9h0m4 8h0m3-1h0m4-3h0m1-3h0m4 2h0m1 4h0m3 2h0m4-1h0m2-9h0m0 3h0m1 7h0m3-8h0m1 4h0m6-7h0m5 2h0m1 9h0m3-1h0m2-3h0m1-3h0m8 6h0m3-4h0m0 5h0m4-8h0m0 5h0m9-1h0m2-4h0m2 4h0m1-6h0m3-1h0m1 11h0m0-4h0m11 2h0m3-8h0m9-1h0m3 0h0m23 10h0m3 1h0m9-4h0m6-6h0m1 4h0m-8 8h0m-14 2h0m-8 4h0m-3 2h0m-18-7h0m-1 9h0m-2-6h0m-3 3h0m-7 3h0m-3-8h0m-3 1h0m-5 1h0m-2 6h0m0-3h0m-1-3h0m-2 4h0m-4-9h0m-1 5h0m-2-4h0m-3 1h0m0 4h0m-3 1h0m0-3h0m-1 7h0m-1-9h0m-1 5h0m-4 2h0m-1-3h0m-2 4h0m-1-3h0m-2 3h0m-3-3h0m-2 4h0m-4-10h0m-2 3h0m-1-4h0m0 7h0m-3-6h0m-2 7h0m-2-5h0m-2 4h0m-1-3h0m-11-2h0m-2 4h0m-2-5h0m-1 3h0m-2 7h0m-1-9h0m-3 1h0m-3-1h0m-3 2h0m0 5h0m-2-9h0m-4 6h0m-2-4h0m-3-2h0m-2 11h0m-2-10h0m-1 7h0m0-3h0m-10-1h0m-1 6h0m-1-10h0m-6 2h0m-19 1h0m-4-3h0m64 12h0m12 0h0m6 0h0m4 0h0m8 0h0m3 2h0m7 0h0m3 0h0m3 0h0m3 0h0m2 3h0m2-3h0m3 1h0m3 3h0m1-5h0m2 5h0m3 0h0m4 2h0m6 1h0m2-2h0m3-2h0m2 3h0m1-3h0m7-2h0m1 6h0m4-7h0m2 3h0m17-2h0m2-3h0m4 8h0m2 3h0m0-5h0m3 5h0m2-2h0m11-1h0m-7 10h0m-6-2h0m-9-1h0m-14 0h0m-2-2h0m-8-1h0"/>
<path stroke="#e67259" d="M505 233h0m19 14h0m3 1h0m3 4h0m0 3h0m-10-3h0m-4 1h0m-10-1h0m4 21h0m17 9h0m-2-5h0m-30 3h0m9 11h0m6-3h0m5 7h0m2-3h0m5-2h0m-21 20h0m-11 10h0m7-6h0m-21 15h0m-5 0h0"/>
<path stroke="#f7b99e" d="M457 212h0m-15 1h0m-22-3h0m16 9h0m3-3h0m10 1h0m5-1h0m1 3h0m0 4h0m6-4h0m16 18h0m-4-2h0m-21-1h0m-3 2h0m-6-4h0m-4-1h0m-4-1h0m-2 21h0m2-8h0m3 8h0m15-8h0m12 14h0m-7 1h0m-2-3h0m-4 3h0m-3-2h0m-3 5h0m-8 3h0m6 8h0m3-7h0m0 5h0m4-1h0m1-5h0m9 0h0m8 7h0m-22 6h0m0 8h0m-5-8h0m-4 8h0m-6-5h0m-3 4h0m-5-1h0m3 16h0m6-8h0m6 3h0m1 5h0m3-4h0m2 3h0m5 0h0m3-8h0m-16 21h0m-5-11h0m-3 3h0m0 6h0m-8 0h0m-16 12h0m5 2h0m8-1h0m3-3h0m5 3h0m7-8h0m2 8h0m6-9h0m-11 11h0m-9 1h0m-7 1h0m-4 3h0m-18 10h0m1 8h0m4-3h0m16 9h0m-15-5h0m-5 8h0m-1 3h0m-3-9h0m0 4h0m-1 4h0m-4 7h0m2-4h0m1 3h0m2 5h0m3-3h0m2 2h0m8-7h0m8-1h0"/>
<path stroke="#f5a081" d="M460 223h0m5-3h0m6-2h0m3-2h0m1 11h0m6-4h0m2-3h0m1 5h0m18 12h0m-12 0h0m-1-7h0m-3 3h0m-5 6h0m-1-7h0m0 4h0m-3-3h0m-3-1h0m-2 7h0m0-10h0m-3 4h0m-1 5h0m-3-3h0m6 15h0m5 0h0m2-10h0m18 11h0m-3 2h0m-11 0h0m-14-1h0m6 22h0m6 1h0m7-1h0m21 11h0m-9-6h0m-1 8h0m-14-10h0m-3 3h0m-23-1h0m1 10h0m30 6h0m4-7h0m9 0h0m1 7h0m-22 11h0m-9 0h0m-2-3h0m-1 5h0m-3-5h0m0 7h0m-5-3h0m-3 2h0m-19 14h0m7-6h0m3-3h0m20-2h0m-15 17h0m-7 4h0m0-8h0m-4 2h0m-6 8h0m-1-9h0m-5 9h0m-3 3h0m5 1h0m2 4h0m10-6h0m6 5h0m-15 7h0m-5 1h0m-16 0h0m-3 7h0m-6 6h0"/>
<path stroke="#abc8fd" d="M96 203h0m53 0h0m6-1h0m15-6h0m24 6h0m127 7h0m-6 3h0m-13 0h0m-3 0h0m-12-3h0m-100 5h0m0-3h0m-3-2h0m0 5h0m-3 1h0m-6-1h0m-3-1h0m-2-2h0m-2-5h0m0 7h0m-9-3h0m-1-3h0m-5 7h0m-3-1h0m0-3h0m-6-5h0m-3 3h0m-1 7h0m-3-6h0m-3-4h0m0 8h0m-4-9h0m-1 8h0m-2-6h0m-1 3h0m-2-3h0m-9 1h0m-1-3h0m-3 2h0m-10 7h0m-1-4h0m-6-4h0m-2 4h0m-1 5h0m-3-8h0m-2 3h0m-15 0h0m18 7h0m0 4h0m2 4h0m3 1h0m3-6h0m3 5h0m3 1h0m0-4h0m3 2h0m3-5h0m2 6h0m6-1h0m2-4h0m4 0h0m0-3h0m1 7h0m4 3h0m2-5h0m2-3h0m4-2h0m5 10h0m5-4h0m2 2h0m1-7h0m1 5h0m1 4h0m2-3h0m1 4h0m1-8h0m14 1h0m4 2h0m2 4h0m11 0h0m2-7h0m111-3h0m1 7h0m1 3h0m2-9h0m4 4h0m3-4h0m1 9h0m2-5h0m2-3h0m14 17h0m-20-6h0m-2 5h0m-2-3h0m-3 4h0m-1-4h0m-3-2h0m-1 5h0m-6-4h0m-1 8h0m-104-5h0m-4-1h0m-6-2h0m-5 0h0m-1 6h0m-4-7h0m0 4h0m-7-3h0m-4 4h0m-1-3h0m-2 2h0m-1-3h0m-2 7h0m-1-3h0m0-6h0m0 3h0m-4 3h0m-3-5h0m-1 7h0m-1-3h0m-3-4h0m-1 7h0m0-3h0m0 6h0m-11-5h0m-6 0h0m-12 5h0m-9-4h0m-2-5h0m-3-2h0m7 19h0m3-2h0m1-3h0m2 3h0m5-3h0m2 9h0m1-6h0m9-5h0m2 3h0m0 3h0m3 2h0m3 0h0m2-4h0m3 6h0m3 0h0m3-3h0m3 2h0m12-6h0m9 3h0m1 5h0m7-1h0m1-3h0m4 3h0m5-2h0m2-5h0m1 2h0m0-5h0m21 7h0m88-7h0m6 8h0m21 11h0m-4-2h0m-2 2h0m-17-2h0m-2 3h0m-16 1h0m-19-3h0m-2 5h0m-9-3h0m-21 1h0m-2-6h0m-4 1h0m-17-4h0m-2 4h0m-1 3h0m-2 3h0m-17-8h0m-9 8h0m-1-10h0m-1 4h0m-1 2h0m-2-3h0m-2 3h0m-2-3h0m-25-3h0m-7 6h0m0-5h0m-4 7h0m-5 0h0m-4-3h0m-3 3h0m-4 0h0m-6 0h0m-4 1h0m0-5h0m-8 1h0m-3 18h0m0-5h0m11 2h0m3-8h0m1 4h0m2 7h0m4-4h0m3 4h0m1-5h0m4 2h0m4 1h0m4 1h0m2-3h0m9-2h0m0-4h0m3 4h0m4 5h0m3-5h0m15-5h0m7 0h0m1 3h0m0 5h0m6-5h0m6 0h0m6 2h0m3 0h0m9-3h0m5 8h0m3-8h0m2 9h0m2-9h0m1 3h0m3-1h0m56 4h0m1-4h0m7 1h0m3 2h0m1 4h0m5-1h0m2-5h0m1-5h0m4 1h0m5 1h0m11 6h0m7 5h0m-27 1h0m-4 2h0m-1 5h0m-6 2h0m-2-10h0m-1 8h0m-3-7h0m-3 4h0m0-6h0m-4 7h0m-1 3h0m-12-4h0m-7 2h0m-9-4h0m-6-3h0m-12 3h0m-4 5h0m0-8h0m-1 5h0m-3 1h0m-2 3h0m-5-4h0m-22-6h0m0 10h0m-3-2h0m-1-7h0m-3 8h0m-1-9h0m-3 8h0m-2-3h0m-3 5h0m-11-6h0m-2 2h0m-3-5h0m-1 7h0m-2 3h0m-5-9h0m-3-2h0m0 4h0m-3 2h0m-7 0h0m-5-4h0m-4-1h0m-3 1h0m-9 4h0m-6 5h0m-2-10h0m0 7h0m-1-3h0m-2 5h0m-2-8h0m-1 8h0m-2-5h0m-1-4h0m-3 1h0m8 11h0m4 4h0m0-4h0m3 3h0m1 3h0m1-6h0m4 8h0m0-9h0m5 4h0m2-4h0m2 6h0m1-3h0m1 8h0m1-5h0m1-5h0m1 3h0m0 6h0m3-9h0m0 5h0m2-2h0m5 0h0m9 2h0m2-5h0m3 2h0m7 3h0m2 5h0m1-11h0m1 6h0m2-2h0m5-3h0m7 0h0m3 1h0m2 3h0m1-4h0m2 5h0m3-3h0m1 4h0m6 2h0m0-9h0m15 2h0m4 2h0m0 3h0m3-7h0m2 8h0m4 1h0m1-4h0m4 1h0m0 3h0m3-1h0m6-7h0m3-1h0m1 10h0m3 0h0m8-7h0m3-2h0m3 0h0m8 6h0m14-6h0m16 3h0m1 3h0m2-6h0m0 3h0m33-2h0m-26 15h0m-8-3h0m-7 3h0m-1-3h0m-10 6h0m-3 3h0m0-8h0m-3 6h0m-1-6h0m-1 4h0m-3-5h0m-2 2h0m0 4h0m-6-5h0m-1 7h0m-4-8h0m-1 4h0m-3-5h0m0 4h0m-5 4h0m-1-6h0m-2-2h0m0 7h0m-2-4h0m-1 3h0m-14 0h0m-2-3h0m-1 5h0m-5-9h0m-3 9h0m-5-4h0m-16-4h0m0 5h0m-4 1h0m-2-3h0m-7-1h0m-4-1h0m-2 3h0m-9 4h0m-4 1h0m-3-6h0m-4 2h0m-2-5h0m-6 0h0m-1 7h0m-1-5h0m0 8h0m-5-6h0m-8 3h0m-2-4h0m-3 1h0m-5 0h0m-1 3h0m-2-5h0m-2-2h0m37 11h0m1 7h0m6-5h0m7-1h0m6 10h0m1-11h0m8 1h0m6 7h0m1-7h0m3 2h0m3 1h0m1 4h0m1-6h0m12 5h0m6 4h0m5-7h0m6-1h0m4 2h0m14-3h0m1 9h0m3-10h0m4 7h0m2-4h0m24 7h0m3-2h0m2-8h0m1 8h0m4-7h0m2-2h0m2 9h0m7-6h0m-15 9h0m-41 4h0m-39-4h0m-5 0h0m-32 1h0m-16-1h0m-9 2h0"/>
<path stroke="#f5c4ac" d="M438 210h0m-9 1h0m-8 13h0m4-1h0m7-3h0m20 7h0m-17 7h0m-4 2h0m-1-4h0m-4 6h0m-1 5h0m4 2h0m10-2h0m3-3h0m2 4h0m-25 17h0m-1 14h0m7-3h0m17-8h0m2 17h0m-8 0h0m-1-4h0m-1 9h0m-4-10h0m-3 4h0m-6 7h0m6 1h0m8 9h0m4-8h0m7-1h0m-22 16h0m-3-3h0m-4 5h0m-1-5h0m-12 13h0m10 6h0m4-4h0m-13 13h0m-1 4h0m-3-3h0m-23 15h0m7 0h0m2-4h0m2 4h0m4-1h0m7-4h0m-5 11h0m-11 1h0m-1 4h0m-1-7h0m-2 7h0m-5 1h0m-21 11h0m9-6h0m3 2h0m6 6h0m9-1h0m0-3h0m1-4h0m4 7h0m-2 3h0m-6 1h0m-4-1h0m-1 2h0m-11 2h0m-2 3h0m-1-5h0m-15 7h0"/>
<path stroke="#86a9fc" d="M337 47h0m-12-2h0m-2-3h0m-2 2h0m-7 0h0m-4-1h0m0 3h0m-6 1h0m-2-4h0m-2 4h0m-2-9h0m0 3h0m-2 4h0m-1-5h0m-3 6h0m-2-8h0m-1 9h0m-4-8h0m-3 1h0m-3 0h0m-2 2h0m-5 2h0m-3-2h0m-3 2h0m-4 0h0m-36 14h0m5 0h0m3-2h0m6-2h0m2 2h0m2-4h0m2 3h0m2-3h0m2 2h0m3-4h0m3 1h0m4 3h0m2-2h0m3-2h0m0 7h0m10-9h0m0 7h0m1-4h0m8 7h0m3-8h0m0 4h0m1 3h0m3 1h0m0-8h0m1 4h0m3-6h0m2 4h0m1-3h0m2 10h0m2-8h0m0 5h0m1 2h0m4 0h0m3-1h0m3-9h0m0 11h0m8-4h0m2-7h0m3 8h0m2-4h0m4 0h0m3-3h0m4 1h0m10 7h0m2-2h0m4 4h0m-7 6h0m-2-2h0m-27 4h0m-2 3h0m-8-9h0m-1 3h0m-3 1h0m0 5h0m0-8h0m-2 6h0m-2-6h0m-1 8h0m-1-4h0m-2-2h0m-1-4h0m0 8h0m-3-2h0m0 4h0m-1-7h0m-2 5h0m-1-2h0m-1-3h0m-1-3h0m-2 6h0m-3 0h0m-31-5h0m-1 9h0m-3-3h0m-3-3h0m-1-3h0m-1 5h0m-2-4h0m-2 2h0m-4 0h0m-1 3h0m-3 1h0m-2-4h0m0-3h0m-2 5h0m-2-5h0m0 8h0m-2-2h0m-2 4h0m-3-8h0m0 4h0m-3 3h0m0-5h0m-4 1h0m-2 2h0m-3 1h0m-38 14h0m11-1h0m3-1h0m6-1h0m3-2h0m4 0h0m0 4h0m1-8h0m2 7h0m1-9h0m1 3h0m3 7h0m4-2h0m3-2h0m1 4h0m2-2h0m1-5h0m2 3h0m0 4h0m3-4h0m0-4h0m3 6h0m0-5h0m2-2h0m0 4h0m1 3h0m3 2h0m1-4h0m3-2h0m6 6h0m1-7h0m4-1h0m1 3h0m6 0h0m2-3h0m2 8h0m0-10h0m5 10h0m5 1h0m5-2h0m2 1h0m6-3h0m1 3h0m0-6h0m3 6h0m5-5h0m1 3h0m3-8h0m4 9h0m3-1h0m0-3h0m2-3h0m1 4h0m9-6h0m4 10h0m0-8h0m2-1h0m2 9h0m3-10h0m3 2h0m3 1h0m5-1h0m0 3h0m3-2h0m5 5h0m3-4h0m9 6h0m5-10h0m5 8h0m-13 4h0m-3 1h0m-3 5h0m-5 5h0m-1-9h0m-8 6h0m-16-8h0m-8 8h0m0 3h0m-1-6h0m-6 5h0m-4-2h0m-3 2h0m-8-3h0m-4 0h0m-1 4h0m0-9h0m-2 5h0m-1-3h0m0-4h0m-3 9h0m0-3h0m-1-4h0m-2 5h0m-1-3h0m0 6h0m0-9h0m-3 1h0m-3 1h0m0-3h0m-4 2h0m-4 2h0m-2-4h0m-1 8h0m-1-6h0m-1 8h0m-2-7h0m0 3h0m-3 2h0m-1-5h0m-1 8h0m-1-11h0m-2 4h0m-1-3h0m-6 8h0m-3-1h0m-7-8h0m0 4h0m-1 5h0m-2 2h0m-1-7h0m-2 7h0m-1-4h0m-4-6h0m0 7h0m0-3h0m0 6h0m-2-8h0m-1-3h0m-2 11h0m-5-11h0m-9 10h0m-3-8h0m-3 0h0m-4 8h0m0-8h0m-3 0h0m-3 1h0m-4 8h0m-1-3h0m-5-8h0m-3 6h0m-3 3h0m0-4h0m-2 6h0m-3-2h0m-2-6h0m-1 7h0m-1-4h0m-3-1h0m-6 4h0m-6 1h0m-4 1h0m-6 4h0m1 7h0m0-4h0m2-6h0m4 3h0m2 3h0m3-3h0m2 3h0m0 3h0m3-1h0m3-2h0m2-3h0m1-3h0m1 5h0m2-3h0m1 6h0m1-3h0m4-3h0m4 2h0m1 5h0m2-8h0m0 6h0m3 0h0m0-7h0m5 10h0m0-6h0m1-3h0m2 4h0m4-4h0m2 2h0m10 7h0m3-3h0m13 3h0m1-4h0m1-3h0m1 8h0m2-2h0m2-7h0m2 3h0m3-3h0m1 6h0m1 3h0m1-10h0m2 8h0m1-4h0m1-4h0m0 7h0m3-8h0m0 8h0m3-2h0m1 5h0m18-1h0m0-5h0m1-4h0m3 8h0m6-8h0m1 6h0m3 1h0m2-2h0m1 4h0m2-8h0m1 5h0m1-7h0m2 5h0m1-5h0m2 10h0m10-10h0m3 3h0m4-2h0m1 9h0m8-8h0m3 1h0m2-3h0m16 9h0m20-3h0m-1 12h0m-19-6h0m-8 10h0m-5-4h0m-2-6h0m-22 10h0m-5-5h0m-3 6h0m0-4h0m-2-6h0m-6 8h0m-1-6h0m-1 3h0m-16-4h0m-3 1h0m-1 5h0m-1-8h0m-3 0h0m-3 5h0m0-4h0m-4 9h0m-1-3h0m-2-3h0m-1 4h0m-3-1h0m0 3h0m-1-6h0m-3 4h0m-1 3h0m-2-6h0m-2-2h0m-1 4h0m0 3h0m-2-5h0m0-3h0m-1 7h0m-2-9h0m-6 9h0m-1-7h0m-3 8h0m-4-2h0m0 3h0m-27-8h0m0-3h0m-1 6h0m-4-4h0m0 8h0m-4 0h0m-1-7h0m-1 3h0m-1-5h0m-1 9h0m-5-2h0m-4-2h0m-1-6h0m-1 2h0m0 7h0m-2-4h0m-3-5h0m-19 2h0m-1 7h0m-6 13h0m4-4h0m2 2h0m1-6h0m1 9h0m5-8h0m1 4h0m2-3h0m1 5h0m1-8h0m1 5h0m1 4h0m6-4h0m1 3h0m0-6h0m1-3h0m1 11h0m1-8h0m3-1h0m0 3h0m0 6h0m1-3h0m2-3h0m0-4h0m0 10h0m3-3h0m3 3h0m2-11h0m0 10h0m3 0h0m1-8h0m35 4h0m1 4h0m2-8h0m0 3h0m0 3h0m2 3h0m2-4h0m0-6h0m1 10h0m2-3h0m1 3h0m0-7h0m3 7h0m0-9h0m3 0h0m6 7h0m1-3h0m0-4h0m2-2h0m1 4h0m1 6h0m9-8h0m9 7h0m1-5h0m2-3h0m1 3h0m-4 17h0m-1-4h0m0-3h0m-2 6h0m-1 3h0m-6-4h0m-1 3h0m-4-7h0m-2 5h0m-3 1h0m-1-9h0m-3 5h0m-7 0h0m-1-3h0m-7 2h0m-4 1h0m-4 0h0m-2 6h0m-2-8h0m-3 7h0m-1-9h0m-3 10h0m-6-8h0m-2 3h0m-1-6h0m-1 3h0m-5 4h0m0-4h0m-2 2h0m-3 0h0m-2-3h0m-7 2h0m-1 3h0m-2-2h0m0 5h0m-2 1h0m-4-2h0m-3-3h0m0-3h0m-1 6h0m-2-7h0m0 5h0m-3-7h0m-1 7h0m-3 2h0m-1-4h0m-3 3h0m0-5h0m-2 8h0m-2-6h0m-2-3h0m-1 7h0m-2-3h0m-6 4h0m-2-1h0m0-7h0m-2 4h0m-3 4h0m-4 4h0m2 3h0m6 0h0m2 3h0m1-4h0m2-2h0m2 5h0m2-3h0m9 3h0m4-1h0m1-3h0m1-3h0m4 10h0m0-4h0m3-2h0m0-4h0m0 11h0m5-11h0m1 5h0m1 3h0m1-5h0m1 7h0m2-4h0m0-5h0m1 9h0m8-1h0m8 1h0m2-4h0m2 5h0m3-11h0m0 3h0m0 7h0m3-9h0m1 3h0m0 5h0m2-3h0m0 5h0m4-6h0m4-2h0m19 6h0m17-2h0m3 2h0m3-7h0m6 1h0m0 7h0m2-3h0m2-7h0m1 6h0m31-6h0m3 3h0m22-2h0m-56 19h0m0-3h0m-3-2h0m0-3h0m-3 1h0m0 3h0m-5-4h0m-38 3h0m-12 4h0m-3-7h0m-1 7h0m-2 4h0m0-10h0m-3 4h0m-2-1h0m-1-4h0m0 6h0m-3 0h0m-1 3h0m-2-7h0m-3 3h0m-2 2h0m0 3h0m-1-8h0m-2-2h0m0 5h0m-2 3h0m-1-3h0m-4-4h0m-5 9h0m-3-3h0m-1 4h0m0-7h0m-2-3h0m-1 7h0m-1 3h0m-2-5h0m-4 1h0m-2 3h0m-2-7h0m-1 7h0m0-3h0m-3 4h0m-2-8h0m-2-3h0m0 6h0m-1 5h0m-2-7h0m0 7h0m-3-11h0m-7 5h0m-3 6h0m-1-3h0m-19-7h0m-2 0h0m-2 3h0m-6 4h0m14 15h0m3-1h0m4 1h0m5-6h0m0-4h0m7 5h0m19 4h0m2-8h0m3-1h0m0 5h0m1 4h0m3-10h0m0 9h0m9-7h0m2 9h0m3-2h0m3 2h0m2-2h0m4 1h0m1-5h0m2 6h0m10-11h0m2 3h0m1 5h0m1 3h0m1-10h0m0 4h0m1 3h0m2-4h0m2 7h0m41-1h0m3-4h0m9-1h0m2 6h0m1-4h0m5 3h0m1-6h0m0 3h0m1-7h0m-3 15h0m-4 1h0m-11-3h0m-6 3h0m-42-1h0m-10 4h0m-7-1h0m0-3h0m-4 1h0m-2-1h0m-1 4h0m-3-4h0m-2-3h0m-2 10h0m-3-4h0m-4-4h0m-2 5h0m-11-1h0m-6-4h0m-3 7h0m-10-7h0m-3 2h0m-15 6h0m-36 1h0m-4-1h0m-15-1h0m18 4h0m4 2h0m139 4h0m82-3h0m6 11h0m-2-2h0m-3 3h0m-4-2h0m-4 3h0m-4 4h0m-7 2h0m-1-7h0m-3 0h0m-3-2h0m-3 1h0m-10 3h0m-3 2h0m0-4h0m-6-1h0m-12 1h0m-2 4h0m-5-3h0m-9 2h0m-2 7h0m3 2h0m0 6h0m1-10h0m5 0h0m4 1h0m17 2h0m3-2h0m3 6h0m8 3h0m4-9h0m0 7h0m2-3h0m32 11h0m-5 2h0m-14 1h0m-1-6h0m-8 3h0m-14 0h0m-3 1h0m-17-5h0m-15 9h0m-2-8h0m-4 2h0m4 12h0m3-3h0m61 8h0m-13 8h0"/>
<path stroke="#e1dad6" d="M404 213h0m-3-8h0m-8 5h0m0-5h0m-5 0h0m-6 12h0m20 11h0m-3 8h0m-2-6h0m-7 5h0m-4 9h0m10-4h0m-19 26h0m6 0h0m3 4h0m5 0h0m7-2h0m2 4h0m3-4h0m4 1h0m6 15h0m-19-7h0m-18 20h0m17-4h0m4 2h0m-14 14h0m-5 0h0m-1-6h0m0 14h0m7 2h0m-21 9h0m-16 5h0m-5-4h0m-4 10h0m4 2h0m3-1h0m4-4h0m4 3h0m4 2h0m-12 11h0m0-4h0m-3 2h0m-2 3h0m-6 5h0m0-6h0m0-4h0m-4 0h0m-5 10h0m-5 0h0m-3-2h0m-1-7h0m-3 9h0m-5-1h0m-22 1h0m-87 10h0m3-1h0m4-3h0m5 3h0m3-2h0m15 0h0m15 2h0m29 4h0m11-8h0m14 8h0m1-7h0m3 1h0m1 6h0m3-7h0m4 2h0m3-3h0m4 1h0m5 7h0m3-9h0m0 7h0m3-3h0m3-3h0m3 6h0m2-3h0m8-4h0m1 15h0m-27 3h0m-22-1h0m-1-6h0m-8 0h0m-14 6h0m-6 1h0m0-3h0m0 6h0m-8-1h0m-21-6h0m-8 1h0m-16-4h0m73 12h0m8 2h0m8-1h0m3-1h0m4 0h0"/>
<path stroke="#7a9df8" d="M332 47h0m-3-2h0m-3-3h0m-6-1h0m-5-1h0m-3 0h0m-4-1h0m0 8h0m-1-3h0m-2-3h0m-2-2h0m-11 3h0m-30 5h0m-22 12h0m70-10h0m12 9h0m2-6h0m3-4h0m4 7h0m2 3h0m1-4h0m3 3h0m0-4h0m6 0h0m3 5h0m1-5h0m4 5h0m24 12h0m-3 0h0m-4-4h0m-3-1h0m0 4h0m-3-5h0m0 3h0m-1 4h0m-2-9h0m-2 3h0m-1 4h0m-2-2h0m-1-4h0m0 7h0m-2-5h0m-1 4h0m-3 0h0m-5-8h0m-2 3h0m-18 5h0m-9-6h0m-3 7h0m-86-6h0m-53 19h0m4-1h0m10 0h0m19-6h0m4-3h0m17 2h0m14 4h0m44 1h0m42-8h0m1 6h0m5 3h0m2-3h0m1 5h0m6-10h0m2 10h0m1-3h0m4-6h0m2 5h0m2-7h0m1 3h0m1 5h0m1-3h0m0 5h0m3-3h0m1-3h0m0-3h0m5 7h0m0-5h0m2-3h0m1 7h0m1 3h0m1-8h0m4 5h0m2-3h0m5-2h0m3 1h0m8 6h0m10 12h0m-4-5h0m-3 6h0m-5-10h0m-1 5h0m-2-3h0m-13 8h0m-5-6h0m-1 3h0m-1 4h0m-2-7h0m-2 3h0m0 3h0m-3-6h0m-1-3h0m-2 3h0m-1-3h0m-2 5h0m-3-3h0m-3 2h0m-4 4h0m-1-8h0m-2 7h0m-2-3h0m0-5h0m-4 9h0m-4 1h0m-3-5h0m-2 5h0m-7-5h0m-2 3h0m-10-4h0m-3-3h0m-17 6h0m-3 3h0m-19 0h0m-11 0h0m-14-1h0m-21-9h0m-13 8h0m-2-7h0m-22 4h0m-16 4h0m-3-7h0m-18 4h0m-34 16h0m43-9h0m6 7h0m10-5h0m3 4h0m32-1h0m7 0h0m19-2h0m17 3h0m17-3h0m17-4h0m5 4h0m1 4h0m1-3h0m29 4h0m2-3h0m1 5h0m4-8h0m3 4h0m0-7h0m1 3h0m3-1h0m10 0h0m5 1h0m1 3h0m3-3h0m2 7h0m13 0h0m6-9h0m5-1h0m1 3h0m11 0h0m8 19h0m-9-7h0m-15 1h0m-2 5h0m-1-3h0m-9-3h0m-1 7h0m-9-9h0m-1 9h0m-8 1h0m-1-3h0m-2 3h0m-6-3h0m-3 1h0m-4 0h0m-2-4h0m-4 5h0m0-8h0m-1 4h0m-2-6h0m-1 7h0m0-4h0m-2-2h0m-3 2h0m-11 1h0m-2-3h0m-2 5h0m-2-4h0m-2-2h0m-1 8h0m-2-8h0m-1 3h0m0 3h0m-3 3h0m-3-8h0m-8 1h0m0 3h0m-7 2h0m0-6h0m-2 4h0m-7-5h0m-5 10h0m-4 1h0m-3-3h0m-3 3h0m-3-9h0m-12-1h0m-2 0h0m-12 1h0m-5 4h0m-2-2h0m-38 3h0m-41-2h0m-23 0h0m-4-5h0m-2 5h0m-2 4h0m-4 0h0m-16 9h0m1 2h0m2-4h0m3-4h0m0 5h0m3-3h0m0 3h0m7-1h0m68-2h0m36 8h0m20-3h0m16-6h0m5 0h0m15 10h0m0-3h0m4-6h0m6-1h0m0 3h0m2 4h0m1-4h0m22 0h0m2-3h0m3 7h0m2-6h0m2 5h0m0-3h0m0 6h0m3 0h0m0-4h0m2-6h0m17 4h0m3-4h0m2 5h0m2 2h0m1-3h0m2 2h0m1-3h0m8 6h0m10-1h0m1-5h0m6-3h0m2 6h0m11 10h0m-19-1h0m-8 0h0m-3-1h0m-2 4h0m-17-2h0m-1 3h0m-3 0h0m-1 3h0m-3-1h0m-3-2h0m-3 1h0m-5 0h0m-1-3h0m-2 6h0m-7-11h0m0 4h0m-5 1h0m-7 3h0m-3 0h0m-4-1h0m-1 4h0m-3-11h0m-9 8h0m-3-1h0m-1 4h0m-8-8h0m-9 2h0m-71-3h0m-1 4h0m-6-5h0m-3 5h0m-1-4h0m-29-2h0m-4 4h0m-31-4h0m-4 4h0m-5 0h0m-6-1h0m-3-3h0m-9 5h0m-4 4h0m77 6h0m14 5h0m105-7h0m2-1h0m7 11h0m1-3h0m3-7h0m1 6h0m1-3h0m3-4h0m0 7h0m1-4h0m1 6h0m2-2h0m1-5h0m5 3h0m1 3h0m2-8h0m1 6h0m1 3h0m3-2h0m1-6h0m1 4h0m7 5h0m5 0h0m5-3h0m2-3h0m8-1h0m34 7h0m3 0h0m11 1h0m-8 4h0m-15 2h0m-26-5h0m-3 0h0m-2 9h0m-4-6h0m0 5h0m-3-8h0m0 6h0m-2-3h0m-20 1h0m0 3h0m-2 3h0m-4-3h0m-2 4h0m-1-4h0m-1-5h0m-2 2h0m-2 5h0m0-9h0m-2 6h0m-1-5h0m-2 2h0m0 3h0m-103-3h0m-19 1h0m-15 3h0m-79 8h0m66 3h0m27-4h0m141 1h0m3-2h0m0 3h0m4-4h0m3 1h0m4 7h0m11-2h0m2-5h0m1 10h0m1-6h0m40-2h0m55 16h0m-13-4h0m-42-3h0m-20 6h0m-11-3h0m-1-3h0m-3 3h0m-68-2h0m-120 3h0m-63-3h0m-6 3h0m-3 4h0m-9-6h0m-7 4h0m-3 0h0m-2 1h0m248 17h0m-11 3h0m-5 2h0m-3 3h0m-4 2h0m-9-5h0m-5 4h0m0-6h0m-8 6h0m-4 0h0m-15-4h0m-1 4h0m-7 0h0m-5 2h0m25 4h0m10-3h0m3 2h0m22 0h0m3-2h0m3 3h0m-61 12h0m-6 4h0m8 8h0"/>
<path stroke="#ead5c9" d="M414 206h0m-2 4h0m-2 4h0m-20-1h0m7 6h0m16 13h0m-4 3h0m-3-4h0m-3 4h0m-7 13h0m5-2h0m4-6h0m0 7h0m8 0h0m2 11h0m-6-2h0m0 5h0m-6-8h0m3 21h0m15 6h0m-4 6h0m-4-10h0m-10 18h0m5 13h0m-5-2h0m-6-1h0m-6 1h0m-1 5h0m-10 11h0m1-6h0m11 18h0m-6-2h0m-5-2h0m-10-4h0m-3 5h0m-32 14h0m7 1h0m5-1h0m5 2h0m6-1h0m2-3h0m10-2h0m9-4h0m8 0h0m-27 23h0m-2-9h0m-2 8h0m-2-7h0m-3 0h0m-14 8h0m0-10h0m-23 19h0m15 2h0m2-3h0m4-5h0m2 2h0m4-4h0m1 11h0m0-3h0m3 1h0m4-9h0m0 9h0m2-3h0m1-5h0m1 10h0m-2 7h0m-3-2h0m-2 4h0m-8 2h0m-1-4h0m-1-3h0m-3 7h0m0-6h0m-8-4h0m0 7h0m-1 4h0m-4-4h0m-7 2h0m-3-6h0m0 7h0m-3-10h0m-1 10h0m-12 1h0"/>
<path stroke="#d8dce2" d="M369 203h0m29 5h0m-11 1h0m-4-4h0m-5 9h0m-1-8h0m-19 20h0m13-2h0m3-6h0m29 0h0m-8 15h0m-7 6h0m-8-6h0m-7 6h0m-8 4h0m18-3h0m2 10h0m4-1h0m-6 5h0m-3 8h0m-8-7h0m-4 3h0m-13 3h0m11 13h0m5-7h0m6 8h0m0-4h0m5 2h0m6-8h0m-22 14h0m-24 5h0m21 11h0m8 2h0m2-6h0m6 1h0m6 12h0m-14 3h0m0-4h0m-3 8h0m-3-4h0m0-6h0m-6 9h0m-3-3h0m-7 3h0m-13 3h0m12 6h0m7-7h0m10 9h0m5-3h0m4-4h0m-16 12h0m-6 0h0m-7 0h0m-2 7h0m-2-8h0m-3 3h0m0 4h0m-19 3h0m-3-3h0m-126 13h0m4 0h0m64-2h0m9 4h0m4-1h0m9-4h0m22-1h0m3 5h0m3 1h0m2-5h0m1 5h0m3-11h0m4 10h0m11-2h0m4-4h0m6 4h0m-7 11h0m-4 1h0m-14-2h0m-8-3h0m-3 4h0m-1-4h0m-2 4h0m-3 2h0m-4-4h0m-3 2h0m-8 2h0m0-9h0m-1 2h0m-11 0h0m-3 2h0m-2 7h0m-4-3h0m-5 0h0m-10 1h0m-5 0h0m-3-7h0m-5 9h0m-1-3h0m-3 1h0m-1-3h0m-4-6h0m-4 9h0m-2-7h0m-8 7h0m-8-5h0m-11-3h0m-5 10h0m-1-5h0m-4 4h0m-4-3h0m-3-2h0m-2-4h0m16 14h0m6-1h0m0 4h0m13 4h0m1-3h0m0-6h0m6 0h0m4 2h0m3 0h0m19-1h0m3 1h0m2 7h0m0-10h0m5 5h0m0-4h0m2 7h0m2-5h0m2 4h0m1-5h0m2 3h0m4 1h0m3-4h0m0 6h0m4 0h0m1-4h0m7-2h0m2 8h0m1-9h0m3 10h0m0-5h0m4-2h0m1-2h0m5-2h0m4 0h0m3 1h0m5 6h0m4-7h0m3 11h0m4-11h0m-9 15h0m-9 3h0m0 4h0m-12-1h0m-7 0h0m-4-2h0m-1 3h0m-5 0h0m-7 0h0m-7 0h0m-4-4h0m-2-2h0m-1-3h0m0 8h0m-3-2h0m-4 1h0m-8-2h0m-6 0h0m-3-3h0m-4 0h0m51 9h0m6 0h0m5 1h0m8 1h0m7-1h0m21-1h0"/>
<path stroke="#4a63d3" d="M509 71h0m-2-2h0m-4 2h0m-12-7h0m-2 4h0m47 38h0m-1 12h0m-20 0h0m35 35h0m6 0h0m1 29h0m-6 2h0m-13-2h0m10 19h0"/>
<path stroke="#f0cdbb" d="M424 208h0m-15-2h0m19 20h0m-2 7h0m-2-4h0m-3 4h0m-3-4h0m-3 8h0m-5 7h0m6 7h0m1-6h0m4 0h0m0-4h0m10-1h0m-19 12h0m0 18h0m6-1h0m25 16h0m-19-9h0m-8 4h0m-8 1h0m-5-2h0m-1 20h0m9-11h0m2 7h0m3-4h0m5 0h0m8 2h0m-16 15h0m-2-7h0m-5 1h0m-15 17h0m3-7h0m5 1h0m1 7h0m12-4h0m-10 8h0m-2 10h0m-3-10h0m0 6h0m-21-4h0m-13 19h0m5 1h0m8-4h0m8-4h0m-6 13h0m-6 1h0m-2-3h0m-3 8h0m0-4h0m-2-4h0m-2 5h0m-3-1h0m-7 5h0m-3-10h0m-12 20h0m8-3h0m3 1h0m7-1h0m3 3h0m2-3h0m4 2h0m3 1h0m10-2h0m1-5h0m-11 14h0m0-3h0m-11 7h0m-13-5h0m-3 4h0m-25 7h0m12-1h0"/>
<path stroke="#ed8366" d="M491 223h0m21 15h0m-3 1h0m-10-8h0m-1 5h0m-3-3h0m-1 4h0m-2-8h0m-5 9h0m18 10h0m11-7h0m10 12h0m-15-1h0m-10 1h0m4 20h0m9 1h0m5 0h0m5 11h0m-11 2h0m0-5h0m-3-2h0m-7-4h0m-1 5h0m-11 4h0m-7 13h0m8-3h0m15-4h0m0 3h0m4 1h0m1-4h0m0 7h0m4-9h0m-2 14h0m-4-2h0m-5 7h0m-1 3h0m-34 9h0m12 2h0m4-9h0m4 0h0m1 4h0m2-5h0m1 4h0m7-2h0m-16 10h0m-12 0h0m-4 0h0m0 9h0m-5 2h0m-2-3h0m-19 13h0m3-2h0m2-3h0m5-3h0m-13 11h0m-15 6h0"/>
<path stroke="#f7ad90" d="M464 213h0m-4 2h0m-9-2h0m-5 0h0m-13-3h0m18 12h0m17-5h0m1 4h0m5 0h0m3-3h0m7 11h0m-4-1h0m-18 5h0m-2 5h0m-2-4h0m-10-5h0m-4-1h0m2 22h0m3-10h0m1 8h0m4-8h0m1 10h0m1-5h0m2 5h0m0-8h0m2 3h0m1-4h0m2 9h0m3-6h0m0-3h0m3 5h0m8 8h0m-3 0h0m-6 2h0m-7 5h0m-1-6h0m-5 6h0m-3-9h0m5 12h0m4 4h0m5 2h0m5 4h0m-2 3h0m-5 1h0m-3 3h0m-5 5h0m-2-5h0m-2-4h0m-1 9h0m-1-5h0m-2 11h0m5 3h0m4-2h0m0 5h0m3-2h0m5-2h0m-13 16h0m-19-5h0m-10 10h0m22-3h0m6 5h0m1 7h0m-14 7h0m-8-2h0m-5 0h0m-3 3h0m-2 10h0m1-5h0m-2 11h0m0 5h0m-3 3h0m-12 2h0m-7-4h0m-1 4h0m-3 5h0m4 2h0m1 3h0m1-7h0m4 4h0m10-5h0"/>
<path stroke="#f29274" d="M477 223h0m10 0h0m0-3h0m2 7h0m5-3h0m2 3h0m12 8h0m-2 3h0m-5-5h0m-1 6h0m-11-6h0m-5 3h0m-12 10h0m27 3h0m3 1h0m-14 2h0m-4 22h0m8-1h0m4 0h0m3 2h0m3-2h0m7 4h0m-3 4h0m-1 5h0m-3-2h0m-4 0h0m-3-8h0m-1 9h0m-4-9h0m0 5h0m-2-2h0m-1 7h0m-2-5h0m-3 3h0m14 11h0m3-4h0m1 5h0m-14 14h0m-4 1h0m-4-6h0m0-4h0m-1 7h0m-13-2h0m5 10h0m17 5h0m-6 4h0m-4 0h0m-8 2h0m-2 4h0m-10 1h0m-7-4h0m-6 6h0m-1-3h0m-9 0h0m-6 2h0m10 6h0m1 5h0m3-7h0m0 4h0m9-5h0m4 5h0m3-5h0m-28 17h0m-3-5h0m-4 7h0"/>
<path stroke="#5572df" d="M424 47h0m-11-1h0m-21-4h0m10 8h0m2 8h0m2-8h0m0 6h0m23-1h0m7-3h0m2 6h0m1-6h0m3 4h0m3 0h0m59 12h0m-3-2h0m-1 3h0m-3 1h0m-1-4h0m-2-3h0m-1 6h0m-6-4h0m-1-3h0m-1 5h0m-2-6h0m-1 3h0m-1-3h0m-2 3h0m-4-1h0m-2-2h0m-2 2h0m0-3h0m-5 1h0m-3-1h0m-3 0h0m-2 1h0m-3-1h0m-12 3h0m-14-1h0m-1-2h0m32 14h0m3 5h0m5 1h0m1 3h0m2 0h0m29-11h0m4 2h0m2-2h0m1 2h0m3 0h0m1 3h0m1-3h0m3 3h0m1 17h0m-3-1h0m-2-2h0m-2 3h0m-29-1h0m-4-5h0m0 3h0m-3-5h0m-3 0h0m13 13h0m1-3h0m1 5h0m1-3h0m1 6h0m2-2h0m5 3h0m7-8h0m7 1h0m1 3h0m3 0h0m3 1h0m11-5h0m5 4h0m1 3h0m13 14h0m-3-2h0m-1-5h0m-2 2h0m-2-2h0m-2-3h0m-2 8h0m-3-1h0m-1-4h0m-2 5h0m-2-6h0m-3 2h0m-2-3h0m-2 3h0m-2-2h0m-9 1h0m-1 4h0m-1 4h0m-1-9h0m-2 8h0m-9-8h0m-2-2h0m-1 3h0m-24 4h0m-19-1h0m38 11h0m1-4h0m3 2h0m1 6h0m7-1h0m3 0h0m11-6h0m2 2h0m1-3h0m4 6h0m1 3h0m2-5h0m1-3h0m1 7h0m1-5h0m0-4h0m1 7h0m1 4h0m5-1h0m1-6h0m3-3h0m4-1h0m4 0h0m1 3h0m1 7h0m1-9h0m1 4h0m2 4h0m7 14h0m-2-2h0m-3-2h0m-2 2h0m-2-8h0m-1 6h0m-2-6h0m-13 7h0m-2-3h0m0-5h0m-2 7h0m-16 2h0m-3-1h0m-2 1h0m-10-1h0m-3-8h0m0 5h0m-14-3h0m-1 4h0m-6-3h0m-45 2h0m47 17h0m5-2h0m2-2h0m5-2h0m4 4h0m14-8h0m3 7h0m1-7h0m4 7h0m8 3h0m10-3h0m3-4h0m1 6h0m3 2h0m0-3h0m3 0h0m3 1h0m3-1h0m1 3h0m2-6h0m4 6h0m0-11h0m3 4h0m2 3h0m1 3h0m0 3h0m0 4h0m0 4h0m-4-6h0m-1 5h0m-2-2h0m-1 4h0m-1-7h0m-2 4h0m-2-3h0m-6-4h0m-6 0h0m-4 2h0m-1 9h0m0-6h0m-2 4h0m-1-8h0m-1 5h0m-2 4h0m-1-6h0m-1 4h0m-1-6h0m0 9h0m-4-3h0m-1-5h0m-2 5h0m-3-3h0m-1 3h0m-1-8h0m-1 10h0m-2-5h0m-1 4h0m-4 1h0m-15-8h0m-1 3h0m-4 5h0m-2-7h0m-4 0h0m-3-2h0m-12 8h0m-41 10h0m14-2h0m33 4h0m6-8h0m0 4h0m2 4h0m2-4h0m2-4h0m5 10h0m0-6h0m14-4h0m11 2h0m2 5h0m3-4h0m1 6h0m3-5h0m2 3h0m4-7h0m2 10h0m2-10h0m1 7h0m1-3h0m3 2h0m0 3h0m7-3h0m3-2h0m1 4h0m5-6h0m3-2h0m1 8h0m0-5h0m4 7h0m1-8h0m1 4h0m1 3h0m1-9h0m0 7h0m1-4h0m-5 16h0m0-3h0m-1-3h0m-3 8h0m-1-9h0m0 6h0m-3-2h0m-1 5h0m-3 0h0m0-4h0m-3 3h0m0-5h0m-3 0h0m-3 5h0m-1-9h0m-2 7h0m-2 4h0m-1-7h0m-1 4h0m-3 3h0m-9-10h0m0 6h0m-3-2h0m-1-3h0m0 8h0m-2-2h0m-1 3h0m0-7h0m-3 2h0m-5 2h0m-5-8h0m-1 9h0m0-6h0m-2 4h0m-11-5h0m-1 6h0m-2-7h0m-21 10h0m-2-8h0m22 16h0m9-5h0m3 9h0m1-9h0m1 4h0m6-6h0m2 7h0m6-5h0m16 7h0m3-5h0m3-1h0m3 1h0m0 3h0m4-6h0m0 3h0m1 3h0m2-7h0m1 2h0m0 4h0m3-2h0m0 6h0m2-9h0m5 0h0m0 4h0m2 2h0m2-4h0m2-3h0m-10 13h0m-5 2h0m-7-2h0m-1 6h0m-2 3h0m-1-4h0m0-4h0m-3 8h0m-1-5h0m-2 5h0m0-10h0m-2 7h0m-3 2h0m-1-3h0m-2-1h0m-3-3h0m-10-1h0"/>
<path stroke="#6e90f2" d="M367 28h0m6 3h0m37 15h0m-16 0h0m-3-1h0m-2-3h0m-2-3h0m-4 0h0m-5-2h0m20 15h0m1-4h0m2 8h0m0-3h0m8 6h0m-40 11h0m-11-3h0m8 9h0m3 1h0m3-3h0m3-1h0m9 8h0m1-5h0m2 5h0m2-3h0m4 3h0m4 2h0m10 10h0m-3-4h0m0 3h0m-4-3h0m-1-3h0m-3 6h0m-4-4h0m-2 4h0m-4 0h0m-4-8h0m-13 0h0m-4 1h0m-3-1h0m-5 7h0m-3 1h0m-249 15h0m8-4h0m208-1h0m37 2h0m2 3h0m1-3h0m8-4h0m0 5h0m3 0h0m1-5h0m4 7h0m3-3h0m6-8h0m3 1h0m17 7h0m0-8h0m2 4h0m2 5h0m0-8h0m1 4h0m2-4h0m2 3h0m4 0h0m0 3h0m3 4h0m1-6h0m18 6h0m17 12h0m-2-6h0m-21 4h0m-4-8h0m-9 3h0m-4 6h0m-6-9h0m-1 5h0m-2-3h0m-1 5h0m-3 0h0m0-5h0m-2-2h0m-1 4h0m-4-4h0m-5 2h0m-7 3h0m-2-6h0m-2 9h0m-1-5h0m-1-4h0m-2 10h0m0-6h0m-3-3h0m0 10h0m-1-4h0m-2-6h0m-7 7h0m-8-7h0m-2 4h0m-2-4h0m-2 4h0m-3 1h0m-2-4h0m-2 7h0m-52 2h0m-17-6h0m-170-2h0m-4-3h0m-1 4h0m-2 5h0m-2-6h0m-2 1h0m-3 1h0m-2 3h0m-2 3h0m-2-3h0m-15 13h0m2-3h0m1 3h0m6-1h0m0 2h0m4-1h0m4-7h0m0 8h0m1-5h0m1 3h0m2-7h0m3-1h0m150 2h0m44 7h0m2-5h0m27-3h0m8-1h0m5 0h0m1 7h0m9 1h0m2-6h0m1 4h0m2-6h0m4 11h0m2-9h0m4 0h0m3 2h0m5 6h0m3-5h0m3 1h0m1-4h0m2-2h0m2 7h0m1-3h0m2 4h0m0-6h0m1 3h0m2 2h0m6 2h0m3-2h0m2-4h0m1 6h0m2-3h0m0-5h0m15 0h0m11 4h0m3 4h0m3-7h0m8 5h0m1 3h0m16 13h0m-13-10h0m-37 5h0m-2-2h0m-2-4h0m-1 6h0m-4-3h0m-10 1h0m-1 3h0m-1 4h0m-1-9h0m-1 3h0m-2-4h0m-1 3h0m-5-1h0m-1 3h0m-2 2h0m0-8h0m-3 10h0m-1-3h0m-1-3h0m-1-3h0m-2 10h0m-1-3h0m-4-2h0m-1 3h0m0-8h0m-3 8h0m0-7h0m0 4h0m-12-6h0m-6 3h0m-13 7h0m-6-6h0m-11 0h0m-2 7h0m-5-4h0m-5 3h0m-3-2h0m-2-6h0m-3-2h0m0 9h0m-2-7h0m-2 9h0m-191-9h0m-3-2h0m-2 2h0m-4 0h0m0 4h0m-3 2h0m-1-2h0m0 4h0m0-10h0m-3 7h0m-2 4h0m0-7h0m-1-3h0m0 7h0m-2 1h0m-1-7h0m-1 4h0m0 5h0m-2-2h0m-2-2h0m-1 4h0m202 2h0m3 2h0m2 2h0m9-5h0m13 1h0m1 3h0m11 3h0m3 0h0m4 3h0m2-9h0m4 1h0m1 6h0m1-3h0m1-5h0m2 9h0m3-8h0m0 4h0m10 5h0m3-2h0m1-3h0m14 0h0m1-5h0m2 3h0m1-3h0m2 6h0m0-4h0m3 2h0m0 3h0m6-5h0m1 5h0m2-7h0m1 8h0m3-4h0m1 4h0m1-7h0m1 3h0m2 2h0m2-5h0m0 8h0m1-5h0m2 3h0m4 3h0m4-7h0m0 4h0m2-2h0m3-2h0m4 4h0m1 4h0m1-8h0m1 3h0m6-3h0m2 4h0m1 3h0m3-7h0m7-1h0m10 2h0m1 4h0m2-3h0m3-2h0m46 11h0m-20 4h0m-6 3h0m-8 0h0m-18-9h0m-7 0h0m-2 6h0m-4 0h0m-5-6h0m-3 2h0m-4-1h0m-2 4h0m-7 1h0m-1 5h0m-3-4h0m0 3h0m-4-1h0m-5-2h0m-8-5h0m-2 3h0m-3-3h0m-5-2h0m0 8h0m-2-5h0m-1 4h0m0 4h0m-5-2h0m-1-4h0m0-5h0m-4 1h0m-3 2h0m0-3h0m-3 1h0m-4 1h0m-1 3h0m-1 6h0m-9-10h0m-3 0h0m-1 3h0m-3-3h0m-1 5h0m-1 4h0m-2-6h0m0 3h0m-3-1h0m0 4h0m-5-4h0m0-6h0m-3 0h0m-4 9h0m-3-1h0m-8-6h0m-2-1h0m-14 3h0m-234 18h0m1-4h0m2 4h0m0-5h0m2 2h0m3-4h0m1 2h0m227-3h0m9 2h0m3 0h0m2 4h0m3-5h0m3 0h0m1 4h0m2-6h0m1 10h0m0-4h0m1-3h0m2-1h0m7 4h0m0 3h0m1-8h0m2 6h0m2-8h0m1 3h0m0 4h0m4-1h0m1 4h0m9 0h0m4 0h0m4-9h0m3-1h0m12 4h0m7 0h0m1 5h0m1-8h0m0 5h0m1 5h0m2-6h0m0 3h0m0-7h0m5 9h0m3-9h0m4 3h0m0-4h0m4 10h0m0-8h0m5 9h0m0-9h0m3 2h0m3 4h0m2-3h0m3-1h0m2 3h0m4-3h0m0 3h0m9 3h0m5-8h0m17 1h0m12 0h0m35 0h0m-53 13h0m-1 7h0m-10-8h0m-2-3h0m-7 3h0m-3 5h0m-7-2h0m0 5h0m-6 0h0m-1-3h0m-5 2h0m-2-5h0m-8-2h0m-1 6h0m-1-3h0m-1-3h0m-2 5h0m0 3h0m-1-10h0m-5 4h0m-2-2h0m-1 7h0m-1-4h0m-3 4h0m-6 0h0m-4-1h0m-3 0h0m-2-5h0m-2 6h0m-1-3h0m-3-2h0m-1 5h0m-2-6h0m0 4h0m-2-8h0m-1 4h0m-1 5h0m-1-8h0m-3 3h0m-3-1h0m-3 0h0m-8-3h0m-2 1h0m-3 1h0m-3-2h0m-236 1h0m-3 0h0m-5 2h0m-2-2h0m-6 2h0m-2 3h0m-2-1h0m0-3h0m-7-1h0m-2 2h0m-3 0h0m352 9h0m7 0h0m13 0h0m29 2h0m51 9h0m-224 10h0m-10 2h0m-25-7h0m16 9h0m12 1h0"/>
<path stroke="#b9d0f9" d="M343 207h0m-5-1h0m-1 8h0m-3-8h0m-5 7h0m-3-2h0m0 3h0m-2-7h0m-2 7h0m-3-2h0m-8 1h0m-129-2h0m-3-2h0m-2 3h0m-3-1h0m-8-1h0m-3 3h0m-1-4h0m-2-4h0m-7 4h0m-12 3h0m-4 1h0m-60 1h0m4 3h0m22 0h0m5 8h0m10-9h0m8 1h0m6 6h0m6 4h0m14-8h0m5 3h0m2 5h0m7-10h0m2 7h0m10 3h0m138-6h0m18 6h0m7-2h0m14-2h0m-15 5h0m-2 5h0m-4-1h0m-1 5h0m-4-7h0m-15 8h0m-11-10h0m-141 1h0m-18 8h0m-23-6h0m-6 8h0m-13 0h0m25 6h0m8-1h0m9 1h0m4-5h0m21 2h0m0 3h0m0 6h0m16-1h0m119 1h0m26-7h0m4 4h0m1-7h0m5 8h0m8 7h0m-3 2h0m-6-2h0m-5-2h0m-2 4h0m-2-5h0m-11 7h0m-36-6h0m-117 5h0m-4-3h0m-22-1h0m0 3h0m-7 4h0m-5-8h0m-26 5h0m-2-7h0m-3 10h0m-1 4h0m22-2h0m30 5h0m5 3h0m18-8h0m121 7h0m21 1h0m2-3h0m3-4h0m3 4h0m6 5h0m3-7h0m6-3h0m14 0h0m1 4h0m-16 12h0m-23-4h0m-7 11h0m-4-2h0m-5-4h0m-34-3h0m-5 7h0m-4 2h0m-41-2h0m-4-9h0m-45 0h0m-10 4h0m-7 3h0m-6 1h0m-1-6h0m-26 20h0m1-4h0m5 3h0m19-8h0m14 8h0m6 0h0m40-6h0m34 0h0m11 3h0m19 2h0m9-5h0m5 2h0m3-5h0m31 6h0m9 2h0m2-6h0m5 8h0m4-2h0m5 2h0m6-9h0m-19 19h0m-4-5h0m-7 4h0m-6 2h0m-2-2h0m-5 3h0m-3-8h0m-7 2h0m-9 2h0m-15 1h0m-7 4h0m-7-6h0m-22-4h0m-5 5h0m-3 0h0m-26 4h0m0-7h0m-4 5h0m-9 1h0m-19-1h0m-2-6h0m-5 7h0m-3 0h0m-6-2h0m-6 4h0m-11 0h0m-1-8h0m-1 5h0m5 6h0m2-2h0m5 4h0m2 3h0m0-5h0m18 8h0m0-7h0m2 3h0m1-5h0m2 8h0m2-3h0m2-6h0m0 10h0m2-5h0m4 1h0m3-1h0m4 5h0m0-8h0m15 8h0m8-4h0m3 3h0m1-4h0m4 5h0m1-7h0m3 6h0m4-8h0m3-1h0m5 1h0m7 9h0m2-5h0m3 6h0m4-9h0m0 8h0m3-3h0m5 4h0m1-4h0m7 1h0m8-4h0m4 7h0m4 0h0m0-3h0m2-3h0m1 6h0m2-4h0m1-5h0m1 3h0m3 0h0m3-1h0m2 4h0m5-5h0m4 7h0m0-5h0m1-5h0m8 2h0m0 4h0m4-5h0m-19 16h0m-1-4h0m-18 5h0m-2-3h0m-1 5h0m-2-3h0m-1-4h0m-3 9h0m-6-3h0m-3 0h0m-3-2h0m-2-3h0m-1 5h0m-4 1h0m-9-6h0m-2 5h0m-2 2h0m-10-2h0m-6-1h0m-12 5h0m0-9h0m-10-1h0m-4 5h0m-1-6h0m0 9h0m-12-8h0m-8 5h0m-4-5h0m-4 3h0m-8 1h0m-5 1h0m13 6h0m4 0h0m11 0h0m44 2h0m17-2h0m2 9h0m19-9h0m2 7h0m1-6h0"/>
<path stroke="#93b5fe" d="M257 46h0m7 8h0m48 12h0m-3 2h0m-22 2h0m-4-2h0m-1-7h0m-27 2h0m-3 3h0m-4-2h0m-12-2h0m0 5h0m-5-6h0m-11-1h0m-18 12h0m3 2h0m30 3h0m10-5h0m2 4h0m2-3h0m1 8h0m22-1h0m8-2h0m-17 12h0m-38 4h0m-7-3h0m-5-6h0m-16 1h0m-39-1h0m-3 4h0m-1-3h0m-17 5h0m-8 9h0m17 6h0m9-5h0m5-5h0m46 1h0m8 7h0m22 2h0m7-9h0m39 1h0m-48 21h0m-21-2h0m-2-3h0m-44-6h0m-13 10h0m-32 11h0m28-1h0m10-2h0m10 5h0m43-11h0m10 4h0m8 9h0m-3 3h0m-4-3h0m-1 7h0m-2-5h0m-1 3h0m-1 3h0m-6 2h0m-1-5h0m-1-3h0m-2 7h0m0-3h0m-4 4h0m-2-9h0m-1 9h0m0-3h0m-2-8h0m-2 5h0m0 3h0m-53 3h0m-4-8h0m-16 8h0m-1-3h0m-2-7h0m-12 11h0m1 9h0m2-6h0m1 4h0m2 2h0m1-9h0m13 3h0m7-2h0m8 2h0m21 1h0m14-1h0m4 4h0m7-5h0m0 7h0m3 1h0m0-9h0m2 6h0m2 2h0m2-3h0m0-3h0m3 5h0m0 3h0m1-8h0m2 6h0m5 1h0m1-8h0m2 2h0m3-4h0m0 5h0m3-4h0m4-1h0m2 1h0m2 10h0m1-8h0m1 5h0m1-8h0m1 3h0m0 8h0m4-8h0m2 4h0m3-3h0m1 6h0m1-3h0m7 4h0m-4 11h0m-2-3h0m-3-1h0m-1-4h0m-10 5h0m-1 3h0m-2-6h0m-11-2h0m-4 8h0m-2-9h0m-6 2h0m-4-3h0m-3 8h0m-1-8h0m-2 1h0m-1 6h0m-4-5h0m-2 9h0m-2-7h0m-3 3h0m-3 2h0m-9-1h0m-2-7h0m-28 8h0m-19-1h0m-3 0h0m0-3h0m-4 3h0m-4-7h0m-1 4h0m-27 0h0m17 14h0m3 2h0m23 1h0m1-9h0m7 4h0m6 0h0m8 5h0m5-9h0m37 10h0m1-11h0m2 4h0m1-4h0m1 5h0m4-3h0m5 8h0m15-2h0m3 1h0m3-2h0m3-1h0m2-4h0m2-2h0m6 8h0m8-7h0m1 4h0m-1 12h0m-5 2h0m-4-4h0m-3 4h0m0-3h0m-3 4h0m-2-7h0m0 3h0m-2 4h0m-2 3h0m-2-5h0m0-5h0m-1 8h0m-2 2h0m0-7h0m-2 4h0m-1-8h0m-1 4h0m-2 2h0m-4 4h0m-20-8h0m0 4h0m0 4h0m-3-6h0m-1 6h0m-8-2h0m-5 2h0m-3 0h0m0-6h0m0 3h0m-9-7h0m-6 7h0m-1-3h0m-5-1h0m-2 6h0m-1-4h0m-6 5h0m-3-2h0m-2-6h0m-1 7h0m-2-8h0m-2 8h0m-3-2h0m-1 4h0m-1-6h0m-2-4h0m-4 8h0m-3-4h0m-1 4h0m-3-2h0m-3 0h0m0 4h0m-3-3h0m0-4h0m-1-3h0m-2 10h0m-1-5h0m-1-4h0m-3 4h0m-2-4h0m-2 3h0m-2-2h0m-3 6h0m-3 2h0m-26 4h0m3 5h0m1 2h0m1-4h0m4 5h0m18-9h0m2 3h0m2-4h0m7 0h0m6 7h0m3-5h0m8 1h0m3 2h0m1-3h0m3-2h0m3 1h0m3 0h0m4 2h0m1-4h0m8 5h0m1-3h0m3-2h0m4 0h0m2 2h0m5 4h0m6-4h0m3 9h0m2-7h0m1-3h0m11 5h0m2 2h0m1-4h0m6-4h0m5 0h0m7 1h0m5-1h0m2 0h0m1 4h0m74 6h0m2-3h0m3 0h0m3 2h0m7 9h0m-28-4h0m-38 2h0m-40 2h0m-71-3h0m-4 8h0m-29-1h0m59 12h0m61 1h0m0-5h0m4 1h0m6 2h0m1-4h0m4 4h0m3 0h0m10-9h0m1 11h0m13-6h0m3 0h0m6 3h0m4-1h0m0 4h0m3-6h0m1 6h0m3-2h0m18-1h0m11 2h0m-2 6h0m-15 0h0m-1 4h0m-1-6h0m-2 5h0m-2-6h0m-11 1h0m-9 9h0m-1-3h0m-14 1h0m0-3h0m-5-3h0m-3 5h0m-1-6h0m-3 3h0m-5 0h0m-7-3h0m-7 9h0m-70 0h0m-19-1h0m-23 5h0m110-1h0m12 8h0m4-4h0m3-1h0m2-3h0m3 2h0m2-3h0m11 7h0m5 0h0m9-7h0m1 5h0m4 2h0m1-7h0m1 9h0m11-6h0m1-4h0m2 7h0m0-4h0m1 7h0m6-7h0m5-1h0m5 3h0m7-1h0m-18 18h0m-29-6h0m0 3h0m-7 3h0m-79-1h0m-62 13h0m144-10h0m8 4h0m8-4h0m20 3h0m7 0h0m-47 20h0m-3-2h0m-105-4h0m37 7h0"/>
<path stroke="#c4d5f3" d="M342 203h0m8 5h0m-1 6h0m-3-10h0m-4 11h0m-3-5h0m-4 1h0m-7-4h0m-4 12h0m1 4h0m13 2h0m3-6h0m4 4h0m4 3h0m3-8h0m4-2h0m14 4h0m-7 14h0m-16 0h0m-1-4h0m-6 6h0m-11 3h0m8 8h0m3-7h0m5 1h0m15 4h0m9-3h0m-8 17h0m-9-1h0m-9-5h0m-3 10h0m-3-11h0m-2 8h0m-5 3h0m-5-3h0m1 4h0m2 7h0m6-4h0m3 2h0m1 4h0m7 1h0m0-10h0m22 1h0m-14 21h0m-4-9h0m-6 2h0m-2-3h0m-4 11h0m-1-10h0m-2 7h0m-5-1h0m-11 0h0m-64 15h0m71-6h0m3-4h0m2 3h0m2-3h0m2 6h0m6 0h0m1 5h0m7-7h0m4-1h0m-2 11h0m-5 1h0m-4 0h0m-5 4h0m-5-4h0m-12 8h0m-5-1h0m-5-1h0m-4-4h0m-145 4h0m-8-4h0m-21-3h0m10 21h0m3-1h0m5 1h0m22-2h0m24-3h0m48 1h0m51-1h0m9 3h0m3-4h0m1 6h0m3-1h0m10-2h0m9-1h0m2 2h0m0-4h0m8-1h0m7 7h0m-23 4h0m0 3h0m-3-2h0m-17-1h0m-2 3h0m-3 3h0m-1-8h0m-3 9h0m-5-5h0m-9-3h0m-2 9h0m-3-1h0m-9-9h0m-5 9h0m-5 0h0m-3 0h0m-4 0h0m-3-9h0m-3 8h0m-11-2h0m-5 4h0m-5 0h0m-1-7h0m-2 6h0m-17 0h0m-5 0h0m-1-3h0m-2-4h0m0 8h0m-4-8h0m-6 0h0m-6 2h0m-3-2h0m0 5h0m-4 2h0m-4-2h0m-8-5h0m-2 7h0m-8-8h0m7 12h0m7 3h0m6 5h0m5-10h0m2 3h0m16 1h0m6-2h0m3-1h0m2 5h0m2 1h0m1-3h0m8 3h0m3-5h0m2 3h0m2 6h0m2-6h0m2 4h0m4-6h0m7-2h0m3 4h0m2-3h0m5-1h0m5 0h0m2 4h0m1 3h0m0-7h0m5 2h0m1 8h0m4-7h0m1 4h0m3-7h0m6 6h0m3 0h0m2 3h0m4-6h0m0-4h0m4 7h0m1-7h0m2 10h0m1-8h0m0 3h0m4-3h0m2 5h0m3-5h0m6 4h0m-20 6h0m-8 5h0m-5-4h0m-1 8h0m-54 2h0m-12-10h0m-8 1h0m-3 1h0m78 10h0"/>
</g>
<g transform="translate(438.10 286.86) scale(0.48300)" stroke-width="5.9">
<path stroke="#3f53c6" d="M404 47h0m35 5h0m70 19h0m-5-3h0m-1 3h0m-6-1h0m-1-4h0m-2-3h0m-3 1h0m-2-3h0m-2 4h0m-1-3h0m-11 1h0m-2-2h0m-18 3h0m-6-3h0m-6 2h0m-7-1h0m-1 3h0m-7 2h0m-9-6h0m-79 3h0m125 17h0m46-4h0m9 16h0m-7 0h0m-9 2h0m-23 0h0m-1-2h0m-122-5h0m-3 0h0m-52 7h0m105 5h0m79 4h0m7 1h0m4-6h0m10-1h0m23 3h0m14 17h0m-8-7h0m-14 4h0m-4 4h0m-3-4h0m0-5h0m-8 7h0m-2-2h0m-1 4h0m-1-9h0m-2 8h0m-55-4h0m-3-5h0m-26 9h0m-25-7h0m-168 8h0m-136 9h0m257 0h0m111-3h0m28 0h0m2 5h0m5-6h0m21 0h0m6 6h0m5-6h0m1 3h0m19-4h0m9 15h0m-4 3h0m-2-8h0m-3 4h0m-9 2h0m-6-2h0m-10 2h0m-44-4h0m-10 3h0m-21-4h0m-53 15h0m9-2h0m3 1h0m6 3h0m2-6h0m5 1h0m58 8h0m5-7h0m15 6h0m19 1h0m15 0h0m5-7h0m4 8h0m3-3h0m6 0h0m1 3h0m1-11h0m1 5h0m2-2h0m1 4h0m1 4h0m0-11h0m3 9h0m2-2h0m1 10h0m0 4h0m-4-6h0m-4 7h0m-1-7h0m-4 1h0m-17 7h0m-3-10h0m-1 5h0m-2-5h0m-1 3h0m-3 2h0m-6 2h0m-8-3h0m-11 6h0m-32-5h0m-11-1h0m-9 3h0m-65 5h0m8 1h0m3 7h0m33 0h0m9-8h0m20 2h0m47 6h0m10-6h0m2-3h0m7 5h0m11 3h0m1-3h0m19 2h0m4 2h0m5-6h0m1 4h0m2 1h0m-4 12h0m-5-7h0m-7 5h0m-15-2h0m-1 4h0m-15-3h0m-1-3h0m-3 2h0m-11 4h0m-47-1h0m-7 4h0m-7-4h0m-23-1h0m-46-3h0m56 9h0m33 5h0m24 4h0m8-4h0m7-2h0m26-3h0m9 4h0m2 5h0m6-7h0m3 8h0m2-2h0m5-3h0m0 4h0m2-2h0m-22 7h0m-6 8h0m-15-7h0m-208 5h0m-64 1h0m-70-6h0m-15 3h0m208 21h0m-75-1h0m-62 7h0m6 5h0m11 7h0m57 0h0m-33 9h0m-154 6h0m34 1h0m6 4h0m62 5h0m70-4h0m-152 16h0m-18-3h0m106 9h0m79 10h0m-16 9h0m-133-4h0m78 9h0m-7 22h0m22-2h0m29 6h0m5 7h0"/>
<path stroke="#abc8fd" d="M231 58h0m34-8h0m57 8h0m108 9h0m-121-6h0m-8 1h0m-8 4h0m-5-3h0m-38 7h0m-7-9h0m-29 4h0m-16 7h0m29 10h0m53-4h0m-14 10h0m-3 2h0m-15-4h0m-28-2h0m-16 8h0m-51 1h0m98 4h0m20-1h0m23 10h0m-71 7h0m-104 17h0m104-6h0m32-2h0m35 2h0m-70 14h0m-1 3h0m-3-7h0m-22 8h0m-38 1h0m48 4h0m24 8h0m4-8h0m-5 13h0m-95 3h0m-7-1h0m-3-2h0m-8 4h0m-9 9h0m93-3h0m20 6h0m2-4h0m8 9h0m-6 5h0m-1 3h0m-12 1h0m-96-8h0m-9-1h0m-19 10h0m1 3h0m17 2h0m13 5h0m2-6h0m46 8h0m6 0h0m3 0h0m5-5h0m232 16h0m-1-8h0m-49 7h0m-21-3h0m-10 3h0m-40-6h0m-67 5h0m-3 1h0m-45-2h0m-15-1h0m-6-6h0m-12 4h0m-1 7h0m-11-3h0m-38 2h0m-5 0h0m17 3h0m0 4h0m8 0h0m15-4h0m25 9h0m17-2h0m5-5h0m42-3h0m39 8h0m84 1h0m10-5h0m4-2h0m109 1h0m13 13h0m-53 1h0m-8-1h0m-11-4h0m-7 5h0m-35 4h0m-20-1h0m-6-4h0m-21-2h0m-30 4h0m-7 1h0m-65 2h0m-6-6h0m-39-2h0m-12 2h0m-19 5h0m0 3h0m-33 0h0m-4 1h0m1 3h0m45 2h0m22 6h0m174-2h0m29-7h0m16 8h0m1-6h0m10-4h0m9 0h0m16 5h0m-41 17h0m-8 1h0m-24-7h0m-5-3h0m-8 7h0m-3-2h0m-108-2h0m-22 1h0m-62-2h0m-9 1h0m-30 7h0m4 9h0m10-1h0m16 3h0m23 1h0m13-11h0m4 0h0m1 6h0m3-3h0m5-3h0m6 0h0m55 11h0m26-11h0m22 11h0m12-10h0m20 4h0m30-1h0m12-2h0m14 9h0m70-10h0m-20 15h0m-6 7h0m-5-7h0m-81 0h0m-17 3h0m-25-3h0m-9-3h0m-55 4h0m-10-3h0m-28 5h0m-6-1h0m-22-6h0m-10 8h0m-16 1h0m-1-3h0m-5-4h0m-7 0h0m-10 7h0m-8-4h0m-5 5h0m-3-9h0m9 16h0m9-5h0m9 6h0m2 5h0m31-2h0m3-3h0m69 0h0m0 3h0m2-6h0m10-3h0m49 11h0m7-7h0m12 2h0m24-4h0m1 8h0m81 3h0m-75 2h0m-38 4h0m-11-5h0m-42 3h0m-6 6h0m-18-2h0m-61 1h0m-32-6h0m6 12h0m20 6h0m11-5h0m1-4h0m0 8h0m2-6h0m5-3h0m3 10h0m32-3h0m17-4h0m17 4h0m2 4h0m27 0h0m10-6h0m6-3h0m28 6h0m1-3h0m5 6h0m3 0h0m7-10h0m45 2h0m3 4h0m10-7h0m18 4h0m57 0h0m17 5h0m-84 3h0m-5 6h0m-26-5h0m-30 0h0m-7 9h0m-4-1h0m-7-6h0m0 3h0m-4 5h0m-21-7h0m-18-2h0m-5 8h0m-6-9h0m-12 6h0m-5-5h0m-18 7h0m-12 2h0m-6-1h0m-13-10h0m-7 7h0m0-6h0m-6 2h0m-8 2h0m-3-4h0m-12 4h0m-4 7h0m4 0h0m9 3h0m28 7h0m8-5h0m5 3h0m8 1h0m16 0h0m27-8h0m6 6h0m2-4h0m3 7h0m1-4h0m3-2h0m4 3h0m3 3h0m1-5h0m4-3h0m13 0h0m6-2h0m2 7h0m23 1h0m13 7h0m-7 1h0m-17 4h0m-12-7h0m-2 5h0m-6 3h0m-6-6h0m-43 4h0m-74-1h0m26 7h0m3 0h0m0 4h0m15-4h0m3 2h0m38 5h0m9-1h0m15-7h0m16 0h0m28 8h0m5 3h0m10-10h0m19 9h0m6-4h0m4-4h0m-41 16h0m-7 4h0m-9 1h0m-27-9h0m-11 7h0m-49-5h0m57 11h0m11-2h0m13-1h0"/>
<path stroke="#5572df" d="M365 25h0m5 6h0m37 16h0m-4-3h0m-12 1h0m7 7h0m11 7h0m10-1h0m4-4h0m0 3h0m5-9h0m3 5h0m4 1h0m7 2h0m53 15h0m-6-3h0m-6-7h0m-1 3h0m-3 0h0m-8-4h0m-5 1h0m-6-1h0m-2 1h0m-3-1h0m-14 1h0m-1 3h0m-2 1h0m-7 0h0m-8-5h0m-3 4h0m-3 1h0m-59 2h0m-1-2h0m-6 0h0m-113 10h0m134 4h0m2-3h0m89 3h0m8 4h0m33-9h0m18 20h0m-13 0h0m-2-2h0m-31-4h0m-3-2h0m-116-1h0m30 14h0m24 2h0m11 6h0m1-3h0m0-3h0m3 3h0m58-8h0m1 5h0m4 1h0m1 2h0m19-3h0m3-5h0m3 6h0m11-5h0m2 4h0m14 15h0m-3-3h0m-4-5h0m-2 8h0m-4-5h0m-4-1h0m-5-1h0m-17 4h0m-4 5h0m-6-8h0m-5-1h0m-5 4h0m-4 1h0m-15-2h0m-6 7h0m-11-10h0m-5 8h0m-7 0h0m-3 2h0m-3-3h0m-2 3h0m-2-9h0m-3 9h0m-11-5h0m-6 2h0m-4 0h0m-7-1h0m-10-7h0m-2 9h0m-4-2h0m-3 4h0m-16-8h0m-6-2h0m-22 7h0m-230-8h0m-10 5h0m-2 3h0m-4 0h0m6 8h0m209-4h0m22 5h0m14 4h0m6-7h0m67-1h0m14 8h0m1-4h0m2-3h0m3 2h0m31-1h0m1 4h0m28-4h0m8 5h0m6 1h0m20 0h0m3 2h0m5-4h0m1-3h0m3-3h0m0 7h0m4-8h0m4 0h0m4 5h0m2 4h0m7 14h0m-2-2h0m-3-8h0m0 6h0m-3-3h0m-2 3h0m-11 3h0m-6 0h0m-21-2h0m-11-4h0m-1 4h0m-17-6h0m-2 8h0m-9-2h0m-21 3h0m-32-3h0m-23-5h0m-3-2h0m-8 6h0m-2-5h0m-4 2h0m-25-2h0m-37 5h0m0-3h0m-16 1h0m-19 6h0m-196-9h0m-7 6h0m-1 2h0m126 8h0m41-2h0m15-4h0m78 8h0m1-3h0m17-2h0m6 4h0m1 2h0m9-1h0m10 1h0m8-7h0m3 1h0m8 1h0m1 3h0m6 3h0m3 1h0m8-1h0m3 1h0m5-7h0m1 5h0m6-5h0m1 4h0m2-3h0m2-5h0m7 8h0m7-5h0m3 8h0m0-9h0m25 4h0m1 5h0m7-10h0m1 3h0m2-3h0m2 7h0m17-1h0m1-7h0m1 3h0m17 4h0m5-7h0m27 2h0m-4 18h0m-14-8h0m-10 2h0m-3 7h0m-7-7h0m-4 6h0m-4-6h0m-2 3h0m-9 2h0m-1-3h0m-4 1h0m-11-3h0m-1 3h0m-2-3h0m-7 9h0m-1-8h0m-3-2h0m-4 6h0m-3-2h0m-4-5h0m-1 9h0m-8 2h0m-4-10h0m0 4h0m-6-2h0m-4 8h0m-17-11h0m-3 1h0m-12 0h0m-2 4h0m-6-3h0m-1 4h0m-1 5h0m-12-1h0m-8-8h0m-8 0h0m-2-2h0m-6 3h0m-6 1h0m-4-1h0m-3-2h0m-18 0h0m-11 9h0m-8-7h0m-3-3h0m-31 7h0m-8-6h0m-90-1h0m120 20h0m10-5h0m57 1h0m2-3h0m1 10h0m14-7h0m12 5h0m0-5h0m3-2h0m8 0h0m3 2h0m0 3h0m1 3h0m10-3h0m2-2h0m10-1h0m8-1h0m8-1h0m6 5h0m9 3h0m7-7h0m5 6h0m6-6h0m3-2h0m4 10h0m23-3h0m3-8h0m10 1h0m9 6h0m7 4h0m0-4h0m3-2h0m9-4h0m1 3h0m3 1h0m1 6h0m2 3h0m-2 3h0m-8 0h0m-4 5h0m-3-1h0m0-5h0m-6 5h0m-2-6h0m-11 6h0m-6-2h0m-4 3h0m-2-2h0m-1 3h0m-5-9h0m-1 9h0m-2-3h0m-5-8h0m-1 3h0m-4 8h0m-9-9h0m-2 3h0m-1-4h0m-1 10h0m-3-2h0m-10-7h0m0 4h0m-3-2h0m-1 7h0m-2-4h0m-7 3h0m-19-6h0m-1 7h0m-2-8h0m-8 0h0m-25 8h0m0-11h0m-6 2h0m-8 3h0m-2-2h0m-1 6h0m-2-6h0m-3-2h0m-4-1h0m-14 10h0m-4-10h0m-32 0h0m-181 10h0m-44 0h0m-33-9h0m-6 2h0m-20 4h0m26 8h0m118 5h0m103-4h0m152-4h0m29 6h0m18 1h0m3-2h0m1-3h0m1 6h0m15-3h0m17-2h0m8 8h0m0-5h0m3 1h0m9 8h0m-3 3h0m-5 1h0m-3-1h0m-6-6h0m-1 3h0m-24-3h0m-182 8h0m-79-5h0m-12 1h0m-17 7h0m-141-9h0m25 18h0m87 3h0m28-5h0m4-6h0m7 5h0m53 1h0m68 11h0m-37-2h0m-5 6h0m-1-5h0m-87 7h0m-25-1h0m-17-2h0m-1 10h0m125 4h0m55 8h0m-93-2h0m-19-2h0m-81 15h0m219-2h0m-24 15h0m-135-5h0m-110 6h0m19 9h0m55-4h0m19 5h0m67 3h0m17-8h0m76 8h0m-177 9h0m-47-3h0m113 12h0m39 3h0m6-1h0m-53 15h0m-6 46h0"/>
<path stroke="#6e90f2" d="M364 28h0m3 0h0m6 6h0m3-1h0m34 13h0m-9 0h0m-4-2h0m-8-2h0m-4-1h0m-2-2h0m-5-2h0m-64 7h0m-2-4h0m-4-1h0m-10-1h0m0 3h0m-6 5h0m-20-2h0m-10 0h0m-6 7h0m35 7h0m22-10h0m8 7h0m12 3h0m2-9h0m12 4h0m4 2h0m4 4h0m51-3h0m7 3h0m5-9h0m89 19h0m-22-2h0m-41-7h0m-69 10h0m-6 0h0m-4-5h0m-4 6h0m-7-4h0m-1 3h0m-6-1h0m-38-1h0m-6 0h0m-63-6h0m-14 4h0m-24 16h0m3-8h0m10 4h0m10-3h0m3 3h0m35 5h0m49-1h0m0-8h0m13 1h0m1 3h0m5 3h0m21-6h0m5 4h0m30 2h0m6 0h0m72-4h0m46 14h0m-109-5h0m-6 6h0m-4-4h0m-20 6h0m-3-10h0m-2 4h0m-2 7h0m0-10h0m-2 3h0m-1-4h0m-8 1h0m-10 0h0m-2 8h0m-6 2h0m-55-4h0m-4 0h0m-97-5h0m-31 4h0m-3-1h0m-33 14h0m20-1h0m38-2h0m7-3h0m29 5h0m4 3h0m10-8h0m10 5h0m12-5h0m11 8h0m6-8h0m6 5h0m7-1h0m3 5h0m10-2h0m19-5h0m18 6h0m38-1h0m3 2h0m42-10h0m13 4h0m10 5h0m3-1h0m83-6h0m17 21h0m-44 0h0m-3-8h0m-13 3h0m-3-1h0m-47-1h0m-7 6h0m-10-7h0m-2-2h0m-5 0h0m-9 0h0m-3 2h0m-5 1h0m-9-3h0m-3 8h0m-11 1h0m-7-5h0m-12 3h0m-15 1h0m-2-4h0m-4-3h0m-3 8h0m-5-4h0m-2-6h0m-30 11h0m-6-6h0m-9 0h0m-29-1h0m-10-3h0m-19 9h0m-49-2h0m-8-3h0m-50 4h0m-2-6h0m-24 15h0m1 3h0m5-5h0m1 6h0m5-8h0m48 1h0m13 3h0m3 5h0m2-3h0m5-7h0m8-1h0m4 2h0m42-1h0m4 3h0m12 5h0m23 0h0m4-5h0m36 5h0m5-7h0m5 8h0m47-10h0m21 5h0m8 2h0m4-2h0m14 4h0m2-3h0m26-1h0m7 6h0m8-1h0m76-8h0m27 3h0m-38 8h0m-14 2h0m-6 5h0m-5-1h0m-20 3h0m-4 1h0m-13-10h0m-2 7h0m-9-3h0m-1 3h0m-3-2h0m-1 4h0m-7 1h0m-18-11h0m-1 6h0m-9 5h0m-3-1h0m-4 1h0m-2-3h0m-12-4h0m-4 0h0m-12 2h0m-14-4h0m-27 7h0m-6-1h0m-3 3h0m-13-3h0m-4-3h0m-7 3h0m-3 0h0m-8-8h0m-18 2h0m-50 1h0m-27 2h0m-10 2h0m-8 2h0m-13 0h0m-13-3h0m-1 5h0m-7-9h0m-34-2h0m-6 2h0m-4-2h0m-6 1h0m-3 1h0m-6 9h0m50 3h0m45 3h0m3 5h0m9-6h0m17-4h0m3 1h0m10 6h0m43-5h0m30 2h0m3-4h0m1 3h0m10 5h0m1-5h0m8 2h0m12 5h0m2-5h0m3 2h0m0-6h0m5 7h0m2-8h0m3 3h0m30 5h0m23 0h0m1-7h0m1 3h0m4-3h0m3 6h0m1 4h0m0-10h0m4 7h0m7-8h0m8 6h0m9 4h0m10-8h0m69 9h0m15-11h0m21 10h0m-10 5h0m-11 6h0m-70 1h0m0-8h0m-4-2h0m-1 4h0m-8 2h0m-9-6h0m-5 4h0m-6-3h0m-3 8h0m-8-5h0m-2-4h0m-5 7h0m-6-4h0m-7-1h0m-1 3h0m-3 0h0m-3-2h0m-11-2h0m-25 3h0m-4 2h0m-3-2h0m-5-4h0m-6 8h0m-5-5h0m-2 5h0m-18-1h0m-6-3h0m-13-1h0m-76-1h0m-2 9h0m-24-11h0m-16 4h0m-19 3h0m-19 4h0m-65 11h0m5-7h0m82 7h0m45-10h0m10 11h0m53-6h0m47-4h0m0 3h0m18 7h0m7 0h0m1-6h0m26 5h0m4-9h0m3-1h0m7 3h0m1 4h0m16-2h0m0 3h0m0-7h0m5 9h0m7-10h0m4 10h0m16-6h0m2 3h0m18-5h0m43 4h0m13-5h0m8 2h0m0-3h0m1 7h0m10-6h0m62 9h0m-7 12h0m-14-6h0m-4-4h0m-41 7h0m-65 0h0m-1-3h0m-7-4h0m-7 3h0m-2 1h0m-1 4h0m-1 3h0m-1-4h0m-6-5h0m-3 2h0m-11-4h0m-4 1h0m-5 5h0m-3 2h0m-3-4h0m-6 6h0m-14-1h0m-3 0h0m-8-4h0m-1 5h0m-4-10h0m-9 3h0m-6 0h0m-99-2h0m-36 3h0m-4 3h0m-1 3h0m-21-10h0m-29 1h0m-2 3h0m-3-2h0m-12 7h0m-14-7h0m-31-1h0m-3 0h0m-2 2h0m-12-1h0m-12 7h0m-2-3h0m21 9h0m4 7h0m65-4h0m20-6h0m7 10h0m11-6h0m28 3h0m218-7h0m5 0h0m28 2h0m9 0h0m46 0h0m34 2h0m1 3h0m-3 6h0m-182 3h0m-8 7h0m-20-1h0m-30-5h0m-2 3h0m-25 3h0m-18-8h0m-132 8h0m-11-6h0m-8-2h0m-2-2h0m-17 0h0m-9 2h0m17 12h0m47 4h0m14-1h0m3-5h0m6 2h0m14-3h0m6 10h0m11 0h0m23-6h0m33 3h0m7-6h0m12 1h0m4 9h0m36-1h0m73-8h0m57 18h0m-102-1h0m-31-6h0m-1 5h0m-70-1h0m-1-5h0m-50 2h0m-6 3h0m-61 13h0m29 4h0m5-10h0m26 11h0m12-10h0m4 2h0m24 0h0m21 1h0m3 6h0m11-5h0m96 18h0m-51-5h0m-14 4h0m-27 0h0m-43 1h0m-1-4h0m-2 3h0m-23-2h0m-8-5h0m-31 3h0m-14 2h0m-11 0h0m-10 1h0m-11 14h0m17-10h0m17 3h0m16 5h0m43-6h0m0 6h0m16-1h0m60-8h0m15 4h0m18 1h0m54-5h0m36 6h0m-44 14h0m-1-8h0m-4 11h0m-45-2h0m-9 0h0m-6-9h0m-17 6h0m-7 2h0m-6 3h0m-91-3h0m-3-4h0m-7 3h0m-39-6h0m9 15h0m41-2h0m36-2h0m4 0h0m22 0h0m2 3h0m36-2h0m17 1h0m52 8h0m22-6h0m18-4h0m-68 22h0m-10-6h0m-40-1h0m-2 5h0m-2-4h0m-51 3h0m-2-3h0m-3-4h0m-7 9h0m-33 2h0m-26-8h0m13 13h0m33 6h0m92-2h0m31 0h0m9-3h0m3 4h0m3-4h0m22-3h0m14 5h0m-54 5h0m-70 6h0m-12-4h0m-4 8h0m-45 0h0m-2-10h0m-1 9h0m18 6h0m111 5h0m3 14h0m-22-4h0m-50-3h0m42 16h0m101 12h0"/>
<path stroke="#e1dad6" d="M189 179h0m268 33h0m-11 1h0m-26-3h0m-30 3h0m-30-9h0m43 14h0m62 2h0m6-2h0m16 5h0m14 10h0m-6 0h0m-15 3h0m-7-1h0m-120-6h0m-39 9h0m136 10h0m8 2h0m0-8h0m3-1h0m5 0h0m10 9h0m29-2h0m-45 7h0m-5 6h0m-36 0h0m-4-3h0m-273 11h0m188-2h0m61 3h0m56 0h0m33 5h0m16-2h0m6 11h0m-7-8h0m-8 10h0m-3-9h0m-3 3h0m-20 1h0m-26-4h0m-1 9h0m-4-10h0m-9 4h0m-4 6h0m-93-9h0m-143-1h0m-48 13h0m312 9h0m3-6h0m5-2h0m39 5h0m18-7h0m-6 23h0m-35-3h0m-36-3h0m-4-2h0m-195 14h0m180 3h0m31-8h0m56 2h0m-16 10h0m-48 11h0m-15-3h0m-1-7h0m-79 4h0m-22-1h0m-10 14h0m58 4h0m20-10h0m33 1h0m22 8h0m-3 3h0m-15 6h0m-43-5h0m-29 9h0m-149-2h0m150 15h0m9-9h0m3 2h0m13-3h0m5 4h0m8 1h0m-112 15h0m-21 1h0m-10-1h0"/>
<path stroke="#86a9fc" d="M329 45h0m-4 0h0m-2-3h0m-2 2h0m-11 2h0m-2 1h0m-5-8h0m-3 8h0m-18-7h0m-3 0h0m-10 2h0m-3 2h0m-40 14h0m14 1h0m13-9h0m12 7h0m11-6h0m8 7h0m3-8h0m4 0h0m11 1h0m5 7h0m6 1h0m13-3h0m2-4h0m9 5h0m12 0h0m57-7h0m8 14h0m-46 2h0m-9-4h0m-9 7h0m-33 1h0m-9-6h0m-3 6h0m0-8h0m-5 8h0m-4-10h0m-7 6h0m-2 4h0m0-10h0m-51 2h0m-2 2h0m-6 0h0m-4-3h0m0 8h0m-10 1h0m-9-1h0m-38 14h0m11-1h0m7 0h0m2-2h0m7-2h0m8-6h0m2 4h0m9-1h0m2 7h0m6-2h0m14-3h0m2 5h0m6-5h0m8-3h0m29 8h0m9-10h0m7 5h0m3 1h0m9-6h0m22 2h0m4 9h0m15-4h0m30-5h0m2 5h0m3 2h0m15 5h0m-50 1h0m-2-3h0m-6 6h0m0-5h0m-8 8h0m-9 1h0m-22-9h0m-28 6h0m-1-3h0m-3 5h0m0-3h0m-10-3h0m-11 5h0m-4-2h0m-5 5h0m-2-2h0m-21 2h0m-3 0h0m-5 0h0m-5 0h0m-24-6h0m-6-2h0m-10-3h0m-3 6h0m-3-1h0m-2 6h0m-1-6h0m-4-2h0m-17 7h0m-4 1h0m-25 12h0m4-1h0m29-4h0m8 4h0m1-10h0m5 1h0m4 1h0m4 2h0m6 3h0m0-7h0m2 3h0m3 4h0m19 3h0m16-9h0m12 1h0m7-1h0m3 7h0m8 2h0m10-3h0m4-2h0m11 2h0m2-3h0m1 4h0m3 2h0m22-7h0m4-2h0m14-1h0m11 6h0m1 5h0m2-5h0m2-3h0m3 4h0m14-5h0m20 9h0m9-2h0m1-8h0m6 2h0m37 4h0m46 9h0m-62 3h0m-48-6h0m-32 5h0m-2-6h0m-1 7h0m0-4h0m-5 0h0m-11 1h0m-2-3h0m-2 5h0m-14-5h0m-4 0h0m-4 1h0m-4 4h0m-19-3h0m-1 5h0m-1-8h0m-6 11h0m0-10h0m-3 1h0m-5 6h0m-3-1h0m-4-6h0m-6 9h0m-2-5h0m-3-5h0m-3 2h0m-1 4h0m-2 3h0m-35-9h0m-7 0h0m0 7h0m-3-4h0m-1 3h0m-2 4h0m-9-4h0m-1-6h0m-25 2h0m-45 15h0m41 4h0m1-3h0m15 0h0m1 4h0m8-10h0m5 5h0m3 0h0m8 5h0m3 0h0m39-5h0m8-5h0m6 2h0m7 4h0m5-5h0m5 0h0m3 1h0m10 2h0m2 4h0m12 0h0m1-4h0m27 4h0m7-2h0m27-6h0m2 6h0m22 5h0m6-9h0m15 0h0m7 6h0m120-8h0m-39 13h0m-46 8h0m-43-3h0m-16 3h0m-6-6h0m-30 1h0m-15 0h0m-4 4h0m-10-4h0m-19 3h0m-16 0h0m-1 4h0m-4-2h0m-4-6h0m-6 4h0m-4 3h0m-13-7h0m-10 0h0m-2 1h0m-4 7h0m-7-3h0m-14-5h0m-2 3h0m-7-3h0m-12 3h0m-2-2h0m-3 1h0m0 5h0m-5-8h0m-4 4h0m0-3h0m-6-3h0m-2 3h0m-10 2h0m-3 4h0m-4-1h0m0-8h0m-53 0h0m-5 5h0m47 10h0m3 6h0m1-4h0m13-2h0m7-2h0m3 2h0m5 7h0m3-6h0m1 4h0m4-8h0m6 1h0m9 8h0m15-6h0m0 7h0m11-9h0m37-1h0m11 10h0m1-3h0m7 4h0m4-10h0m22 6h0m9-7h0m2 9h0m78-2h0m6-3h0m-11 8h0m-4 5h0m-14-3h0m-18-1h0m-7 5h0m-25-5h0m-18 1h0m-2 2h0m-2-4h0m-2 6h0m-38 1h0m-1 3h0m-28-7h0m-5-3h0m-7 7h0m-11-3h0m-8 4h0m-2-3h0m0-4h0m-12 0h0m-8 6h0m-5 4h0m-2-5h0m-1 3h0m-3-2h0m-15 4h0m-1-3h0m-11-7h0m-2 7h0m-63 10h0m4 1h0m3-4h0m60 3h0m21-1h0m3-4h0m3 4h0m8 5h0m10 1h0m33-11h0m3 0h0m32 2h0m2 8h0m15-3h0m4-2h0m1 5h0m36-7h0m20-2h0m11 6h0m76 4h0m14 0h0m46-1h0m-106 9h0m-33-5h0m-65 1h0m-1 2h0m-3-1h0m-11-3h0m-3 3h0m-4 7h0m-5-7h0m-30 2h0m-20 4h0m0-6h0m-3 2h0m-12-6h0m-1 4h0m-29 1h0m-6 4h0m-7-2h0m-6 1h0m-3 3h0m-1-5h0m-2 2h0m-6-3h0m-36 3h0m-2 2h0m-12-7h0m-2 3h0m17 7h0m30 4h0m18-2h0m3-1h0m3-2h0m15 2h0m2 7h0m35-8h0m6 3h0m3 3h0m19-7h0m6 5h0m85 2h0m81 4h0m34 5h0m-20 6h0m-21-5h0m-89-3h0m0 3h0m-3 3h0m-4-4h0m-3-2h0m-16 2h0m-9 0h0m-3 0h0m-46-4h0m0 10h0m-24-9h0m-10 8h0m-61 3h0m5 9h0m9 0h0m14-2h0m31 1h0m21-4h0m1 6h0m49-6h0m0-3h0m2 8h0m14 2h0m26 0h0m9-11h0m26 7h0m4 0h0m11 3h0m14-3h0m27 11h0m-23 5h0m-27-4h0m-3 2h0m-8-7h0m-11 2h0m-12-3h0m-11 1h0m-23 7h0m-4-7h0m-14 8h0m-34-6h0m-11-2h0m-31 6h0m-34 3h0m16 1h0m2 6h0m7 5h0m10-4h0m3 2h0m9-6h0m16-1h0m17-2h0m19 10h0m7-1h0m2-6h0m26 3h0m8 2h0m6-6h0m3-1h0m16 7h0m2-4h0m12-4h0m8 0h0m39 8h0m3-1h0m18 0h0m22 6h0m-59 4h0m-2 2h0m-25 1h0m-10 1h0m-2-7h0m-14 7h0m-30-4h0m-50-3h0m-7 1h0m-2 7h0m-9-7h0m-25-3h0m-9 10h0m-2-2h0m-12 0h0m-10 0h0m-9-5h0m3 20h0m1-11h0m3 10h0m7-10h0m19 7h0m18-5h0m2 6h0m22 0h0m27-5h0m19 1h0m17 4h0m45-7h0m2 4h0m2-2h0m5 4h0m2 3h0m33 0h0m130-10h0m1 15h0m-146-3h0m-39 7h0m-27-7h0m-8 1h0m-22 9h0m-12-10h0m-19 1h0m-7 7h0m-2-3h0m-16 4h0m-2 2h0m-8-1h0m-1-8h0m-3-2h0m0 4h0m-3 2h0m-36 2h0m17 13h0m4-3h0m23-5h0m1 8h0m38-6h0m22-1h0m9 6h0m5-3h0m7 3h0m2-6h0m19 8h0m65-2h0m11 0h0m11-7h0m3 6h0m27 12h0m-3 4h0m-3-4h0m-16 3h0m-4-7h0m-31 7h0m-3-3h0m-3-2h0m-3 0h0m-5-3h0m-31 2h0m-6-1h0m-9 2h0m-34 1h0m-23-5h0m-13 2h0m-22 1h0m-28 8h0m30 2h0m35 2h0m17 5h0m3 2h0m33-10h0m36 8h0m41-2h0m3-7h0m20 14h0m-39 0h0m-38 4h0m-15 1h0m-13 1h0m-69-3h0m-15 4h0m38 4h0m25 2h0m18 6h0m19-8h0m4 10h0m4-7h0m40 7h0m42-8h0m0 7h0m-63 9h0m-20-1h0m-3-2h0m-30 7h0m-46-10h0m11 18h0m41-4h0m8 8h0m6-9h0m2 3h0m29-1h0m10-4h0m19 0h0m17 9h0m-32 6h0m-39 7h0m-13-6h0m-33-4h0"/>
<path stroke="#f0cdbb" d="M412 63h0m-59 17h0m98 133h0m-269-2h0m243 12h0m24-6h0m3 10h0m40 2h0m-8 7h0m-4-4h0m-8 7h0m-29-7h0m-17 6h0m-9 7h0m37-5h0m12 4h0m12-4h0m24 10h0m18-5h0m4 2h0m-13 5h0m-10 1h0m-24 1h0m-16 7h0m-85-3h0m-189 2h0m211 8h0m44-4h0m32 10h0m31-1h0m20 4h0m-19 4h0m-16 0h0m-38-4h0m-2 4h0m-18-1h0m21 15h0m4 3h0m47-7h0m1 17h0m-41-2h0m-35 3h0m-5-5h0m-80 11h0m60-1h0m6 9h0m8-7h0m3 3h0m2-4h0m12 7h0m38 2h0m-24 4h0m-2-3h0m-9 6h0m-8-2h0m-130 9h0m63 7h0m30 2h0m40-8h0m8 2h0m5 2h0m-42 15h0m-6-10h0m-14 4h0m-78 15h0m40 2h0m35 0h0m6-5h0m23-4h0m-32 13h0m-5 1h0m-148 1h0"/>
<path stroke="#ed8366" d="M133 209h0m363 86h0m3-4h0m21 2h0m-49 36h0m-15 3h0"/>
<path stroke="#cedaeb" d="M304 47h0m-94 84h0m229 31h0m-38 43h0m-18 0h0m-87 5h0m-133 3h0m43 14h0m100-4h0m18-4h0m42 4h0m103-2h0m14-1h0m22 13h0m-37 5h0m-19-2h0m-40-1h0m-260 2h0m7 6h0m209 0h0m24 6h0m12-3h0m12 1h0m3 4h0m13-6h0m4 6h0m23-6h0m13 1h0m57 7h0m-204 6h0m-39-5h0m-148-1h0m70 13h0m123 5h0m44 4h0m16-10h0m37 7h0m84 5h0m-65 4h0m-6 4h0m-25-1h0m-5-3h0m-197 1h0m-104 7h0m47 2h0m2 3h0m11-6h0m115 1h0m145 10h0m32-10h0m53 2h0m-46 19h0m-45-9h0m-10 0h0m-21 9h0m-266-2h0m53 15h0m63 0h0m41-4h0m28-1h0m96 3h0m34 2h0m37 2h0m-40 1h0m-9 7h0m-22-4h0m-19 2h0m-23-3h0m-16 5h0m-9-5h0m-22 4h0m-38 3h0m-35-2h0m-65 3h0m16 9h0m20-2h0m66-5h0m25 8h0m13 0h0m11-2h0m13-3h0m6 3h0m9-3h0m27-3h0m67 4h0m-25 6h0m-33 8h0m-43-8h0m-10 5h0m-6 5h0m-34-3h0m-39 1h0m-63-6h0m13 17h0m34-7h0m28 11h0m7-1h0m4-4h0m17-5h0m1 4h0m1 6h0m22-2h0m6-6h0m34 4h0m16-1h0m5-5h0m16 0h0m-28 11h0m-6 0h0m-83 4h0m-17-2h0m-34 4h0m-20-5h0m58 11h0m31 2h0"/>
<path stroke="#f5c4ac" d="M342 203h0m122 10h0m-28 6h0m76 19h0m-4-3h0m-19-2h0m0-3h0m-50 1h0m3 9h0m2 4h0m28 2h0m44-5h0m-28 11h0m-36 0h0m-3 4h0m22 18h0m21-1h0m10 0h0m12 1h0m-4 6h0m-7-4h0m-18 5h0m-3 3h0m-69 11h0m26-1h0m11 4h0m34 0h0m32-9h0m1 9h0m0-6h0m5-2h0m-44 11h0m-1 7h0m-11-5h0m-130-2h0m97 13h0m61 2h0m-40 13h0m-7 4h0m-14-2h0m4 8h0m1 5h0m15-7h0m4-1h0m-28 17h0m-10-5h0m0 5h0m-7 4h0m-17-6h0m-28 6h0m-68 11h0"/>
<path stroke="#f7b99e" d="M179 209h0m276 10h0m0 4h0m54 16h0m-3-1h0m-8-2h0m-21 1h0m-51-4h0m12 18h0m33-1h0m-3 6h0m-59 0h0m110 18h0m-4 10h0m-2 3h0m-14-8h0m-1 8h0m-3-7h0m-1 5h0m-43 1h0m-30 5h0m8 2h0m60 2h0m14 0h0m9 3h0m-30 13h0m-10-5h0m-102 12h0m112 4h0m11-10h0m-13 13h0m-4 4h0m-31 8h0m5-1h0m-54 22h0m-18-7h0"/>
<path stroke="#d8dce2" d="M181 173h0m-30 25h0m282 12h0m-4 1h0m-17-1h0m-25-1h0m-63-2h0m-144-1h0m-80 3h0m332 11h0m7-4h0m29 1h0m6 4h0m15 6h0m13 10h0m-3-6h0m-5 6h0m-13 2h0m-19-6h0m-2 5h0m-12-9h0m-4-1h0m-9 6h0m-11-5h0m-18 2h0m-16 4h0m-130 3h0m-6 1h0m-131-2h0m62 13h0m21-8h0m134-2h0m106 10h0m9 0h0m-9 11h0m-34-9h0m-178 9h0m-49-3h0m160 6h0m9 1h0m46 7h0m18-3h0m48 1h0m3 7h0m-15 4h0m-11 4h0m-1-8h0m-39 2h0m-150 8h0m72 5h0m48-1h0m6 1h0m14 1h0m23-2h0m19 6h0m11-9h0m56 0h0m-32 15h0m-38-3h0m-15 6h0m-112 3h0m-153 0h0m-4-6h0m10 16h0m173 2h0m43-7h0m25-1h0m91 0h0m7 1h0m-67 10h0m-29 6h0m-33 0h0m-199 16h0m19 0h0m63 0h0m3-2h0m61 2h0m70-1h0m2-4h0m5-2h0m1 5h0m48-7h0m-28 16h0m-24-3h0m-6 6h0m-8 1h0m-5-8h0m-3 4h0m-2-4h0m-6 1h0m-42 6h0m-20 1h0m-11-3h0m-18 5h0m-3 0h0m-1-10h0m-4 2h0m-8-1h0m-11 7h0m-33 4h0m37 9h0m2-7h0m19 5h0m44-2h0m7-2h0m13 6h0m6-4h0m2-2h0m12-4h0m36 9h0m7-6h0m10 2h0m-41 11h0m-18 5h0m-98-2h0m-5-2h0m37 7h0m32 1h0"/>
<path stroke="#d24b40" d="M508 285h0"/>
<path stroke="#e67259" d="M494 224h0m33 58h0m-20 9h0m-6 19h0m-104 55h0"/>
<path stroke="#b9d0f9" d="M255 63h0m17 17h0m11 0h0m-17 14h0m-5 27h0m-24 21h0m-28 0h0m-74-7h0m71 18h0m21 0h0m-11 5h0m-4 5h0m-15 1h0m-108-7h0m126 27h0m-49-1h0m-63 17h0m37-3h0m7 3h0m4 1h0m30-5h0m26 0h0m4-2h0m78 7h0m80 2h0m69 7h0m-34 3h0m-11-3h0m-55-4h0m-3 5h0m-29 1h0m-19-7h0m-23 3h0m-74-1h0m-18 6h0m-19 1h0m-9-4h0m-10 3h0m-7-7h0m-9 10h0m1 3h0m138 5h0m7-3h0m33-3h0m10 3h0m6 0h0m28 4h0m4-2h0m17-5h0m115 0h0m-80 12h0m-9 9h0m-37-1h0m-18-1h0m-99-6h0m-28 4h0m-51-1h0m-9 9h0m32 7h0m44-4h0m54 5h0m26-7h0m33-3h0m10 0h0m60 6h0m5-3h0m25-1h0m4 0h0m24 7h0m-80 4h0m-22 5h0m-1-5h0m-5 7h0m-16-5h0m-2-4h0m-18 8h0m-144-8h0m-40 6h0m-13-1h0m-25-3h0m22 16h0m46 3h0m50 2h0m6-11h0m21 7h0m16 0h0m88-3h0m6 4h0m51-4h0m3 6h0m32-10h0m23 4h0m44 18h0m-3-5h0m-46 5h0m-32-10h0m-86 4h0m-58 5h0m-58-8h0m-1 5h0m-3 1h0m-86 3h0m-17-10h0m8 12h0m15 1h0m34 0h0m4 2h0m67 7h0m7-10h0m0 11h0m4-8h0m74-3h0m2 3h0m41 6h0m5 0h0m27-3h0m75 11h0m-70 2h0m-11-3h0m-12 0h0m-8-1h0m-20-3h0m-25 9h0m-14-6h0m-39 0h0m-57 7h0m-32-2h0m-21 1h0m-9 0h0m-4-8h0m-26 4h0m-14-5h0m16 14h0m9 0h0m0 9h0m20-5h0m13 0h0m34-1h0m36 5h0m38-8h0m25 9h0m2-9h0m46-2h0m8 0h0m17 9h0m20-1h0m26 2h0m15-9h0m28-1h0m-1 15h0m-43 2h0m-28-5h0m-146 7h0m-76 1h0m-4 2h0m0-9h0m0 5h0m-16-1h0m-5 1h0m10 11h0m6 2h0m43 2h0m12 2h0m32-6h0m5 2h0m2 4h0m4-7h0m29 3h0m1 4h0m4 0h0m8-5h0m6-3h0m21 1h0m64 4h0m-8 10h0m-9 2h0m-20-3h0m-22 6h0m0-10h0m-18 9h0m-7 0h0m-21-1h0m-3-6h0m-14 1h0m-18 0h0m-9 2h0m-6 0h0m-1-6h0m-12 9h0m-2 2h0m-3-3h0m-14 1h0m-4-8h0m-1 4h0m-16 4h0m0-5h0m-8 6h0m-4-3h0m29 9h0m1 6h0m14-7h0m28 5h0m3 0h0m21-7h0m33 3h0m19-2h0m25 7h0m39 0h0m10-8h0m14-1h0m-53 19h0m-13 1h0m-10-5h0m-11 4h0m-8 1h0m-7-5h0m-3-3h0m-13 1h0m-28 10h0"/>
<path stroke="#f29274" d="M530 252h0m-24 0h0m-24 1h0m-17 4h0m48 25h0m-49-4h0m-17 7h0m46 3h0m16 17h0m-23 5h0m-34 14h0m-118 28h0"/>
<path stroke="#ead5c9" d="M460 215h0m-18-2h0m-21 11h0m7 2h0m23-4h0m3-6h0m6 7h0m14-7h0m3 7h0m4 0h0m3 2h0m12 2h0m-10 6h0m-2-4h0m-4-1h0m-3 5h0m-5-4h0m-3 4h0m-17 1h0m-17-4h0m-5 2h0m19 8h0m47 11h0m-3 2h0m-35 5h0m-6 0h0m-107 16h0m13-8h0m54 4h0m39-1h0m1-5h0m9 0h0m23 10h0m14 10h0m-51-7h0m-45 22h0m25-11h0m13 11h0m3-4h0m17 1h0m5-2h0m42 0h0m4 1h0m-30 11h0m-29 4h0m-15 1h0m-16-2h0m-8-1h0m33 9h0m5 0h0m35-4h0m-20 18h0m-4 1h0m-19-5h0m0 7h0m-1-3h0m-32-2h0m-218 11h0m67-1h0m38 4h0m5 4h0m41-2h0m28-5h0m29 0h0m28-2h0m8 11h0m-14 6h0m-7-5h0m-18 4h0m-5 5h0m-62-11h0m-129 0h0m10 23h0m145-6h0m38 3h0m4 0h0m-14 4h0m-97 1h0m-11 6h0"/>
<path stroke="#4a63d3" d="M424 47h0m-17-2h0m-61 13h0m70 0h0m4-4h0m1-3h0m5 6h0m2-5h0m3-2h0m2 0h0m3 2h0m9 4h0m48 13h0m-16-8h0m-6 2h0m-18 2h0m-6-2h0m-9-1h0m-9 0h0m-13-1h0m44 13h0m3 2h0m5 4h0m1 3h0m37-11h0m1 2h0m3 0h0m2 0h0m4 20h0m-40-3h0m-118 13h0m80 3h0m45-8h0m3-1h0m10 4h0m5-5h0m6 7h0m25 0h0m4 2h0m5 5h0m-6 7h0m-5-3h0m-3 1h0m-5-4h0m-15-1h0m-11-3h0m-5 0h0m-1 3h0m-30 4h0m-6 1h0m-2-5h0m-17-3h0m-4 1h0m-7 4h0m-49-4h0m-1 6h0m-283 2h0m-16 9h0m211-2h0m42-1h0m44-3h0m19 3h0m28-1h0m7 5h0m12 3h0m6-10h0m1 11h0m39-2h0m4-3h0m2 3h0m13-4h0m11-4h0m1 8h0m3-7h0m0 5h0m4-5h0m9 8h0m14 0h0m1-9h0m-15 19h0m-4-1h0m-1-5h0m-15 7h0m-5 0h0m-2-9h0m-7 0h0m-10 1h0m-9 5h0m-6-3h0m-43 7h0m-30-6h0m-6 4h0m-18 2h0m-37-10h0m-253 4h0m214 18h0m7-9h0m47 9h0m43-10h0m30 2h0m0 4h0m5-5h0m5 7h0m2-2h0m41 2h0m25-3h0m8 2h0m1-4h0m7 7h0m10-3h0m4 2h0m9 0h0m7 0h0m6-5h0m3 6h0m-4 13h0m-3-5h0m-4 1h0m-19-2h0m-8 3h0m-21 2h0m-3-2h0m-5-8h0m-8 8h0m-15-4h0m-6 5h0m-7 0h0m-2-8h0m-3 1h0m-3 7h0m-4-9h0m-7 0h0m-57 4h0m-24-4h0m-15 5h0m-7 17h0m56-8h0m6 6h0m3 0h0m12 1h0m5-6h0m8 8h0m4-1h0m13-10h0m6 11h0m17 0h0m7-6h0m11 6h0m0-6h0m18-4h0m12 3h0m19 6h0m4 0h0m12-7h0m6-2h0m6 0h0m1 3h0m-6 10h0m-3 2h0m-5 6h0m0-9h0m-8 1h0m-14 5h0m-9-6h0m-10 5h0m-11 3h0m-10-5h0m-7 4h0m-10-7h0m-10 10h0m-18-10h0m-3-1h0m-3 1h0m-2 7h0m-20-7h0m-16 7h0m-26-3h0m-24-2h0m-4-3h0m-3 4h0m-278 14h0m36 5h0m24-6h0m321-3h0m20 1h0m13 5h0m16-6h0m6 7h0m3-2h0m6-5h0m16 7h0m3-5h0m3-1h0m10-3h0m1 6h0m3-2h0m2-3h0m11-1h0m-10 13h0m-14 3h0m-1 6h0m-4 0h0m-1-5h0m-4 2h0m-4-1h0m-15-5h0m-233 8h0m-56 0h0m-74 14h0m49-5h0m22 4h0m58-8h0m-132 15h0m-40-3h0m130 15h0m33 1h0m20 1h0m25-7h0m-9 22h0m-128-3h0m-54 3h0m178 25h0m-179 8h0m8 2h0m7-6h0m173 4h0m51 7h0m-90 4h0m-74 7h0m100 35h0"/>
<path stroke="#93b5fe" d="M315 40h0m-10 1h0m-3 2h0m-10-1h0m-3 5h0m-49 7h0m2 2h0m2-4h0m31 3h0m22-3h0m1-3h0m5 9h0m29-6h0m5 1h0m14 5h0m112 2h0m-121 1h0m-37 4h0m-8-1h0m-4 6h0m-1-7h0m-2 5h0m-5-2h0m-2 2h0m-1-2h0m-30 0h0m-1-5h0m-18 6h0m-2-6h0m-1 7h0m-2-7h0m-4 3h0m-4 7h0m-3-8h0m-9 5h0m-37 15h0m4-1h0m6-1h0m25-1h0m12-6h0m3 1h0m10 1h0m8 3h0m6-7h0m2 4h0m2 1h0m1 4h0m3-9h0m5 10h0m10-1h0m2 1h0m15-5h0m1 3h0m7 1h0m21-8h0m2 9h0m3-10h0m3 2h0m3-2h0m8 6h0m7-5h0m2 10h0m48-2h0m-29 13h0m-34-2h0m-1-3h0m-9 0h0m-12-1h0m-13 4h0m-3 2h0m-7 0h0m-9-10h0m-4 2h0m-6 8h0m-3-10h0m-4 2h0m-6-2h0m-9 3h0m-11 6h0m-5 1h0m-6-1h0m-6-8h0m-4 0h0m-2 2h0m-5-2h0m-3-1h0m-12 2h0m-7 8h0m-3-8h0m-8 6h0m-19 2h0m-7-4h0m-3 3h0m-15 13h0m2-10h0m9 3h0m8 3h0m11-1h0m6 4h0m2-8h0m0 6h0m17-4h0m23 3h0m6 5h0m1-5h0m4 2h0m1-3h0m4 3h0m6 0h0m3-8h0m41 2h0m1 5h0m4-7h0m8 2h0m4-2h0m41 3h0m19 3h0m29-6h0m45 19h0m-63-6h0m-79 6h0m-3-2h0m-10 2h0m-14 3h0m-7-2h0m-10 3h0m-13-8h0m-1 4h0m-3 2h0m-16-1h0m0 3h0m-28-5h0m-4-4h0m-7-1h0m-8 9h0m-49-7h0m-10 6h0m-25 12h0m55-1h0m1-6h0m1 9h0m9-2h0m10-6h0m14 3h0m42 0h0m3-4h0m0 6h0m7 0h0m1 3h0m17-1h0m65 0h0m45-2h0m102 3h0m-152 11h0m-10-8h0m-12 9h0m-12-3h0m-11 0h0m-12-5h0m-2 5h0m0-7h0m-3 8h0m-4-4h0m0-4h0m-11 10h0m-4-4h0m-8-2h0m-2 6h0m-18-11h0m-6 7h0m-2-2h0m-5-3h0m-4 0h0m-7-1h0m-3 5h0m-8 1h0m-8-2h0m-9-3h0m-9 8h0m-58-5h0m49 16h0m0-4h0m9-1h0m35 4h0m1-5h0m24 8h0m4-4h0m7-5h0m2 3h0m1 5h0m4-1h0m2-6h0m3 5h0m0 3h0m8-1h0m1-8h0m5 3h0m8 6h0m8-4h0m3 2h0m36-2h0m9-7h0m22 7h0m-9 7h0m-44 3h0m-16 5h0m-22 0h0m-12-10h0m-15 7h0m-2-6h0m-1 6h0m-2-2h0m-1 4h0m-5-3h0m-3-4h0m-5 8h0m-1-8h0m-3 1h0m-2 2h0m-13 6h0m-3-3h0m-26 0h0m0-3h0m-6 0h0m-3 0h0m-22-4h0m12 18h0m1 4h0m2-2h0m3-8h0m21 0h0m7 1h0m7-2h0m19 9h0m7 2h0m13-3h0m5-4h0m8 0h0m29 5h0m6-3h0m2-4h0m8 6h0m11-4h0m1-4h0m45 8h0m16-7h0m10 2h0m45 6h0m-125 10h0m-15-3h0m-9-4h0m-4 9h0m-23 1h0m-4 0h0m-2-7h0m-6 5h0m-8-1h0m-15 0h0m-11 0h0m-7 1h0m-3 1h0m-4 0h0m-3-2h0m-3 2h0m-8-4h0m-7 2h0m0 4h0m-3-7h0m-8 2h0m-6-3h0m-1 4h0m-26 11h0m26-5h0m26-1h0m5 1h0m11-1h0m4 1h0m14 1h0m11 0h0m33 8h0m220 4h0m-51 2h0m-14 6h0m-23-3h0m-5-2h0m-45 0h0m-34 3h0m-25-3h0m-33 0h0m-9-2h0m-19 6h0m-8-6h0m-22 2h0m-4-1h0m0 5h0m-3-6h0m-44 0h0m14 13h0m34-1h0m0-3h0m7 5h0m43 1h0m43 3h0m18-9h0m8 0h0m9 5h0m3-4h0m2 4h0m17-2h0m13 5h0m4-1h0m20-6h0m24 10h0m15-1h0m8-6h0m1 6h0m3-3h0m5 4h0m10-5h0m-29 12h0m-18-4h0m-23 7h0m-1-6h0m-36 4h0m-26-2h0m-12 3h0m-3 2h0m-5-7h0m-8-1h0m-29 3h0m-4-4h0m-12 7h0m-4-3h0m-7-3h0m-15 7h0m-3-8h0m-22 9h0m-4 1h0m-18-4h0m-2 3h0m1 5h0m9 2h0m7 6h0m15-3h0m5-4h0m3 6h0m13-10h0m21 5h0m5 2h0m33 0h0m5-1h0m12-6h0m4 7h0m14-7h0m5 4h0m15-1h0m2 7h0m15 0h0m4-10h0m16 0h0m61 5h0m71-5h0m-79 18h0m-55 2h0m-13 2h0m-1-4h0m-20-4h0m-3 2h0m-5 3h0m-4 1h0m-23-5h0m-16-3h0m-104 5h0m-11 0h0m-3 13h0m2-4h0m21 1h0m10 6h0m71-7h0m15 0h0m4 0h0m1 3h0m21-2h0m12-3h0m5 1h0m21 7h0m13-7h0m12 3h0m13 1h0m3-4h0m16 2h0m4 6h0m3-4h0m26-4h0m10 1h0m0 5h0m30-2h0m37 3h0m-15 12h0m-5-1h0m-30-6h0m-60 7h0m-33 1h0m-4-7h0m-1 3h0m-10 6h0m-14-1h0m-10-8h0m-5 7h0m-13-5h0m-4 0h0m-9-2h0m-45 6h0m-4 1h0m-9 1h0m-7-1h0m-12 2h0m-15-6h0m-30 6h0m3 2h0m21 5h0m2-2h0m5 0h0m20-2h0m3 9h0m4-7h0m12-3h0m30 1h0m7 5h0m23-6h0m4 5h0m18 5h0m32-11h0m47 6h0m12-3h0m4 16h0m-2-3h0m-32 4h0m-40 0h0m-18-1h0m-6-5h0m-40 7h0m-19-5h0m-47 1h0m-2-4h0m-10 10h0m-11 0h0m15 11h0m13-10h0m5 1h0m31 0h0m2 5h0m33-5h0m9 4h0m11-3h0m20 2h0m4 7h0m7 0h0m6-2h0m25 1h0m38-3h0m12-4h0m-33 15h0m-16 3h0m-17-4h0m-5 0h0m-19 0h0m-4 5h0m0-9h0m-10 9h0m-2-5h0m-16-3h0m-6 5h0m-8 0h0m-18 4h0m-9-1h0m-3-7h0m0 8h0m-10-8h0m-9 0h0m-8 5h0m-21-6h0m17 15h0m27 4h0m8-7h0m43 0h0m16 9h0m3-11h0m27 3h0m1-3h0m3 2h0m11 3h0m6 6h0m70-2h0m2-9h0m-87 17h0m-37 3h0m-23 3h0m-5-5h0m-2-3h0m-8-1h0m-23-2h0m-21 5h0m20 9h0m24 1h0m18 5h0m8-1h0m37-6h0m3 10h0m0-8h0m4 5h0m1-6h0m33 9h0m14-9h0m13 14h0m-23-4h0m-84 8h0m-14-2h0m63 8h0"/>
<path stroke="#f5a081" d="M500 239h0m-35-4h0m-44 6h0m78 8h0m21 3h0m-46 2h0m-5 17h0m18 3h0m37 11h0m-33 0h0m-55-4h0m74 20h0m-49 6h0m29 13h0m1-3h0m-22 7h0m0 9h0m-15 8h0m-38 15h0"/>
<path stroke="#9fbfff" d="M337 47h0m-5 0h0m-25-3h0m-50 2h0m-23 10h0m12-1h0m4-1h0m37 0h0m15 2h0m22-4h0m7 3h0m8-5h0m100 6h0m-67 14h0m-10-3h0m-43 0h0m-9 3h0m-11-4h0m-17-5h0m-44 3h0m-16 3h0m-2-7h0m-3 7h0m-7-1h0m-13 15h0m11-8h0m1 5h0m14-5h0m1 7h0m25-7h0m4 9h0m23-3h0m1-3h0m21-2h0m53-2h0m-36 20h0m-13-3h0m-17 2h0m-9 4h0m0-9h0m-10-1h0m-14 3h0m-5 6h0m-8-10h0m-12 8h0m-9-1h0m-5 0h0m-7-7h0m-9 2h0m-27 9h0m-6-2h0m-6-8h0m-12 14h0m5 5h0m1-3h0m68 6h0m96-2h0m39 8h0m-69-2h0m-34-1h0m-8-2h0m-3 5h0m-15 3h0m-21-4h0m-40 6h0m-15-1h0m-5-9h0m-20 9h0m-38 5h0m66 6h0m2 3h0m3-3h0m37 2h0m20-3h0m1 4h0m28-9h0m7-1h0m37 0h0m94 15h0m-138 7h0m-9-6h0m-7-1h0m-1-4h0m-4 8h0m-6-3h0m-5 1h0m-10 5h0m-2-11h0m-7 1h0m-51 6h0m-9 4h0m-17-5h0m-3 4h0m-3 2h0m9 8h0m5-1h0m21-1h0m3-6h0m30 6h0m9-2h0m2 2h0m0 5h0m2-2h0m6-6h0m17 1h0m0 3h0m2 2h0m1-9h0m3 1h0m4-1h0m6 8h0m2 3h0m4-8h0m9 0h0m0 7h0m4-10h0m1 6h0m25-6h0m253 3h0m-263 15h0m-18-3h0m-3 1h0m0 3h0m-5-7h0m-13 10h0m-16-9h0m-4 0h0m-9 2h0m-11-3h0m-23 5h0m-30-2h0m-4 8h0m-5 0h0m-39-7h0m-6 4h0m-26 9h0m40 6h0m32-1h0m11-4h0m6-4h0m10-1h0m11 9h0m1-5h0m14-2h0m3-2h0m1 7h0m12-3h0m9 5h0m21-3h0m6-1h0m1-6h0m14 1h0m4 12h0m-16 6h0m0-3h0m-7 4h0m-7 3h0m-2-3h0m-4-2h0m-5 1h0m-19-5h0m-17 8h0m-10-6h0m-6-1h0m-11-1h0m0 3h0m-20 6h0m-3-10h0m-27 1h0m-7 7h0m1 13h0m8-9h0m20 5h0m7-4h0m7 2h0m13-4h0m10 1h0m4 0h0m9 0h0m2 6h0m18-7h0m3 10h0m7-1h0m4-5h0m3-4h0m11 0h0m178 13h0m-5 0h0m-6 6h0m-29-6h0m-7-1h0m-9 10h0m-11 0h0m-15-1h0m-50 1h0m-6-7h0m-35 2h0m-30 1h0m-3 4h0m0-3h0m-12 3h0m-7-1h0m-2-3h0m-4-1h0m-9 0h0m-12 3h0m-4-3h0m-7-5h0m-6 2h0m-10-2h0m-3 2h0m-15 5h0m-10-2h0m-9 5h0m-5-8h0m28 18h0m8 1h0m24-7h0m4-2h0m5 10h0m18 1h0m29-8h0m60 2h0m7 6h0m13-2h0m31-9h0m4 4h0m0-3h0m13 4h0m54-1h0m1 4h0m26-5h0m18 18h0m-42 2h0m-4-7h0m-8-3h0m-52 0h0m-17 6h0m-2 3h0m-11-2h0m-33-4h0m-7 5h0m0-3h0m-17-1h0m-10-2h0m-27-1h0m-6 1h0m-28-1h0m-3-2h0m-9 5h0m-21 1h0m-26-6h0m7 19h0m3-2h0m7 5h0m4-5h0m22-1h0m3 1h0m103 5h0m2-2h0m2 3h0m40-8h0m3 4h0m7-2h0m4-1h0m2 4h0m29-4h0m53-4h0m13 8h0m7 5h0m-31 2h0m-16-1h0m-22 0h0m-4-1h0m-5 7h0m-26-3h0m-13-2h0m-28 4h0m-3-3h0m-26 2h0m-22-6h0m-2 4h0m-32 2h0m-4 3h0m-7-5h0m-39 4h0m-26 2h0m15 7h0m57-1h0m24 1h0m3 0h0m92 2h0m18-5h0m11 6h0m9-8h0m11 5h0m29 5h0m16-1h0m1-7h0m-22 21h0m-56 0h0m-17-3h0m-40 0h0m-22-4h0m-18 3h0m-19 3h0m-24-4h0m-5 0h0m-3-1h0m0-4h0m-24 4h0m-13-3h0m-7 1h0m-9 7h0m-2-8h0m-7 0h0m34 11h0m1 3h0m19 2h0m6 3h0m29-4h0m1-4h0m2 5h0m38 3h0m24-2h0m19 0h0m8-2h0m65 6h0m15-10h0m102 20h0m-75 0h0m-24 1h0m-15 1h0m-35-2h0m-16-4h0m-14 1h0m-25-5h0m-25 6h0m-2-3h0m-65 4h0m-4-2h0m-9 2h0m-6-3h0m-18 0h0m16 14h0m8 4h0m10-8h0m5 6h0m32-6h0m4 5h0m7 1h0m16-9h0m71 0h0m0 6h0m2 3h0m4 1h0m3-7h0m10-2h0m26 3h0m14-1h0m12 1h0m12 1h0m-19 9h0m-55 1h0m-31 5h0m-11 2h0m-8 0h0m-6-6h0m-20 7h0m-8-1h0m-28-10h0m-24 1h0m-8 2h0m-10-1h0m7 12h0m18 4h0m7 5h0m33-9h0m5 3h0m4 0h0m6-2h0m6 2h0m7 1h0m2-3h0m10-2h0m8 6h0m3 1h0m18-8h0m36 3h0m19 0h0m7 1h0m16 2h0m28 3h0m-34 6h0m-13-1h0m-39 5h0m-25-2h0m-3 2h0m-3 2h0m-5-1h0m-14-3h0m-15-3h0m-34 9h0m-18 0h0m2 4h0m11 1h0m0 4h0m41-6h0m10-1h0m21 3h0m4-1h0m3-1h0m54 5h0m10-7h0m1 8h0m11 0h0m-15 14h0m-32 0h0m-8 0h0m-24 0h0m-5 0h0m-14 0h0m-4-4h0m-3-5h0m34 12h0m33 0h0"/>
<path stroke="#f7ad90" d="M475 227h0m12-7h0m4 3h0m-1 14h0m-3 1h0m-27 7h0m67 3h0m3 7h0m-14-2h0m-17 22h0m11-2h0m-20 3h0m-2 3h0m-49 10h0m61 7h0m15-1h0m-1 8h0m-44 17h0m-6 15h0m-50-9h0m21 17h0m13-3h0m-17 10h0m-201 1h0m-39 11h0m215 1h0m-38 12h0"/>
<path stroke="#7a9df8" d="M373 31h0m40 15h0m-19 0h0m-2-4h0m-66 0h0m-6-1h0m-10 2h0m-14 2h0m-1-5h0m-5-2h0m-5 1h0m-8 3h0m-15 5h0m-14 5h0m12 2h0m2-2h0m2 2h0m31-6h0m5 11h0m10-10h0m0 8h0m13-9h0m4 0h0m7 6h0m9-1h0m58 3h0m1-6h0m22 0h0m5 5h0m-67 9h0m-9-1h0m-5 2h0m-2-2h0m-24 6h0m-9-6h0m-1 3h0m-16 2h0m-48-4h0m-1 3h0m-3-3h0m-2 2h0m-6 1h0m-46 11h0m4 4h0m1-8h0m4 1h0m13 5h0m11-3h0m19-3h0m35 8h0m19-2h0m34-3h0m3-2h0m8 1h0m2 4h0m4-6h0m3 8h0m4-5h0m0 5h0m1-10h0m3 1h0m2 7h0m3-5h0m2-3h0m1 7h0m0-3h0m1 6h0m1-8h0m1 3h0m20 1h0m18 15h0m-3-1h0m-4 1h0m-4-5h0m-6 4h0m-2-8h0m-2 8h0m-1-6h0m-3-2h0m-16 7h0m-9 0h0m-3 1h0m-8-3h0m-9 0h0m0-5h0m-2 2h0m-6 8h0m-18-10h0m-8 8h0m-7 2h0m-29-3h0m-4-5h0m-11 8h0m-7-7h0m-3 5h0m-5-4h0m-1-3h0m-16 3h0m-3-4h0m-1 4h0m-7 4h0m0-3h0m-25-3h0m-23 0h0m-3 7h0m-4-7h0m-17 5h0m-13 8h0m1 3h0m4-2h0m2-1h0m7 6h0m10-4h0m2-3h0m8 6h0m2-8h0m11 10h0m1-9h0m2 4h0m19 2h0m13 3h0m2-7h0m15 6h0m1-4h0m5-1h0m3 7h0m18-1h0m30-10h0m5 4h0m17-2h0m24-2h0m4 2h0m15 1h0m4 0h0m2 7h0m22-6h0m7 4h0m26 0h0m7-7h0m99 4h0m-46 14h0m-28 3h0m-14-1h0m-12-8h0m-17 9h0m-4-5h0m-1 5h0m-4-4h0m-6-6h0m-2 10h0m0-6h0m-7 0h0m-23 2h0m-4 3h0m-16 0h0m-5-9h0m-5 10h0m-6-9h0m-20 1h0m-2-2h0m-1 8h0m-2-8h0m-1 10h0m0-4h0m-3 3h0m-2-4h0m-11 4h0m-1-6h0m-13-3h0m-9 11h0m-10-1h0m-1-3h0m-7-3h0m-11-2h0m-5 7h0m-5-7h0m-1 4h0m-33-3h0m-48 2h0m-26-1h0m-1-4h0m-2 5h0m-16 7h0m2 9h0m1-4h0m3 5h0m4-9h0m42 6h0m2-3h0m2-3h0m9 8h0m6-7h0m0 9h0m9 0h0m9 0h0m33-1h0m4 1h0m2-4h0m7-5h0m12-2h0m1 4h0m22 7h0m10-7h0m34 3h0m0-3h0m22 0h0m0-3h0m7 6h0m1-3h0m6 3h0m16-4h0m5 6h0m1-9h0m5 4h0m31 3h0m17-5h0m42 12h0m-17-2h0m-30 6h0m-11-1h0m-12 0h0m-2-4h0m-9-1h0m-8 11h0m-5-5h0m-35 4h0m-7 0h0m-17 1h0m-10-9h0m-3-2h0m-35 5h0m-41 3h0m-1-3h0m-2-3h0m-1 6h0m-4-3h0m-8 6h0m-10-8h0m-32 6h0m-2-7h0m-1 9h0m-10-3h0m-13-7h0m-2 3h0m-2 5h0m-29-9h0m-11 6h0m-4 0h0m0-3h0m-3 4h0m-2 4h0m-3-2h0m-2-3h0m0 5h0m-2-2h0m-2-2h0m54 12h0m3-7h0m5 2h0m4 2h0m9-1h0m0 4h0m6-7h0m4 3h0m14 3h0m1 4h0m16 0h0m11-1h0m39-8h0m2 4h0m10 2h0m9 0h0m14-6h0m2 10h0m1-8h0m0 5h0m2-3h0m1-4h0m1 6h0m6 2h0m8-4h0m4 1h0m2-5h0m1 3h0m2-3h0m16 9h0m6-8h0m8-1h0m28 4h0m1-5h0m3 0h0m2 6h0m1 4h0m2-6h0m9-4h0m1 4h0m8 2h0m9 4h0m9-7h0m5 8h0m4-11h0m38 11h0m7-4h0m9 4h0m55-11h0m11 8h0m-14 12h0m-12-6h0m-4 5h0m-15-4h0m-6 3h0m-53-2h0m-5 2h0m-52 5h0m-18-6h0m-13-4h0m-9 9h0m-4-10h0m-4 5h0m-2-5h0m-6 6h0m-1 3h0m-21-5h0m-2 6h0m-4-3h0m-2 4h0m-26-3h0m-3-8h0m-3 1h0m-3 5h0m-1-4h0m-36 1h0m-10-2h0m-1 6h0m-8-3h0m-2 7h0m-6-5h0m-4 3h0m-7-2h0m-5 1h0m-26 2h0m-3 0h0m-5-7h0m-2-3h0m-6 0h0m-37 5h0m14 17h0m19-4h0m22 4h0m3-1h0m9-7h0m5 7h0m26 2h0m61 0h0m7-4h0m32-5h0m9 2h0m1-4h0m2 4h0m5-1h0m3 0h0m4 4h0m1-3h0m9 6h0m4-5h0m1-5h0m1 7h0m5 3h0m41-4h0m23 0h0m9-1h0m17 1h0m56-5h0m47 7h0m-18 9h0m-93-3h0m-5 9h0m-8-8h0m-6 2h0m-6 3h0m-18-6h0m-2 8h0m-15-6h0m-15 2h0m-24-6h0m-72 3h0m-6 5h0m-57-1h0m-14 0h0m-7 3h0m-6-1h0m-12-7h0m-2 4h0m-22-2h0m-50 0h0m-1 7h0m-5-5h0m-2-1h0m-4-3h0m-8 1h0m22 17h0m3 1h0m26-5h0m9-1h0m37 5h0m4-6h0m1 7h0m2-2h0m5 4h0m9-6h0m48-5h0m75 10h0m146-10h0m21 2h0m3 0h0m54 11h0m-128 1h0m-4 5h0m-8 4h0m-31-9h0m-15 6h0m-13 3h0m-4-3h0m-15-3h0m-3-5h0m-11 3h0m-28 3h0m-37 1h0m-50-4h0m-14-2h0m-10 0h0m-17 5h0m-16 3h0m-9-4h0m-4 3h0m-17-3h0m53 14h0m13-2h0m15-2h0m1 4h0m1 4h0m52-9h0m4 5h0m14 2h0m12-6h0m9-1h0m5 8h0m42-1h0m23-7h0m26 1h0m15 17h0m-10-6h0m-43-2h0m-9 0h0m-16 2h0m-4-1h0m-11 1h0m-54-1h0m-47 0h0m-26 0h0m-12 5h0m-14 8h0m3 6h0m11-5h0m14-1h0m35 8h0m9-6h0m27 6h0m3-10h0m6 10h0m41-1h0m3-1h0m1-7h0m27 1h0m87 0h0m32 19h0m-41-3h0m-82 2h0m-20-7h0m-6 10h0m-22-5h0m-8 3h0m-56-5h0m-5 2h0m-41-4h0m-23 2h0m-5-4h0m9 16h0m9-4h0m5 8h0m58-5h0m34 3h0m18 2h0m11 1h0m15-5h0m23 6h0m31-2h0m49 9h0m-5-1h0m-5-1h0m-16-2h0m-60 10h0m-14-2h0m-18 0h0m-32 0h0m-3 2h0m-69-3h0m-25-2h0m-12 7h0m11 5h0m2 3h0m49-3h0m17-4h0m9 5h0m7-4h0m2 4h0m46 3h0m7-4h0m7-5h0m41 0h0m0 3h0m31-4h0m2 6h0m25 1h0m4 0h0m2 6h0m-29 6h0m-17 4h0m-43-2h0m-1-6h0m-4-1h0m-14 4h0m-8 3h0m-21-8h0m-3 1h0m-2 4h0m-2-6h0m-8 2h0m-33 0h0m-52 1h0m-1 5h0m39 10h0m2-6h0m13 2h0m15 8h0m8-4h0m8 4h0m1-7h0m7-2h0m33 6h0m3 1h0m2-4h0m18 4h0m2-3h0m4 6h0m19 7h0m-4-5h0m-4 0h0m-20 2h0m-27-2h0m-83 3h0m14 19h0m28-4h0m34-2h0m32 5h0m78-10h0m-17 19h0m-48-4h0m-3-1h0m-11 0h0m-50 7h0m-2 2h0m-16-7h0m-25 0h0m17 14h0m14 1h0m2-3h0m50-4h0"/>
<path stroke="#6282ea" d="M420 47h0m-4 0h0m-17-3h0m-2 3h0m-10-8h0m-99 18h0m4-3h0m103-5h0m4-1h0m2 5h0m3 5h0m0-3h0m34 3h0m9 1h0m54 7h0m-1 3h0m-19-8h0m-24 10h0m-2-4h0m-22-1h0m-5-6h0m-2 4h0m-2 2h0m-2-3h0m-14-2h0m-43 8h0m-9 0h0m-146 13h0m8-4h0m120 2h0m20-4h0m14-2h0m3-1h0m7 2h0m3 1h0m12 7h0m103-11h0m15 5h0m-45 9h0m-66 3h0m-4 0h0m-7 5h0m-6-5h0m-26 2h0m-9-1h0m-13 2h0m-198 12h0m72-6h0m74 3h0m56 1h0m26-2h0m3 5h0m5 2h0m9-11h0m3 1h0m21 8h0m0-8h0m5 3h0m4 3h0m22 4h0m64-9h0m23 21h0m-10-7h0m-3 6h0m-4 1h0m-12-5h0m-23-1h0m-20 0h0m-5 2h0m-11-1h0m-11-1h0m-20-2h0m-1 5h0m-2-8h0m-4 5h0m-3-1h0m-31 2h0m-3 2h0m-17 2h0m-2-8h0m-6 9h0m-3 0h0m-45 0h0m-27-10h0m-35 9h0m-61 0h0m-19-8h0m-47 3h0m-9-1h0m-7 7h0m-11 9h0m3 0h0m9-3h0m6-5h0m55 3h0m10-1h0m67 0h0m94-2h0m10 0h0m13 6h0m8-4h0m4 4h0m8 4h0m6-4h0m6-2h0m2-2h0m3 5h0m6 2h0m8-8h0m0 10h0m35-3h0m2-5h0m3 4h0m0-5h0m3 5h0m3 1h0m46-7h0m7 0h0m7 7h0m21-3h0m3-5h0m5 2h0m15 11h0m-15-1h0m-6 1h0m-23 8h0m-7-9h0m0 5h0m-2-2h0m-7-3h0m-1 4h0m-13-3h0m-6 9h0m-24-6h0m-2 1h0m-5 5h0m-34-2h0m-9 3h0m-20-8h0m-3 5h0m-3 2h0m-1-3h0m-2-6h0m-3 7h0m-5-7h0m-3 8h0m-11-6h0m-5 3h0m-2-3h0m-16 4h0m-10 0h0m-11 0h0m-7-7h0m-6 9h0m-195-7h0m-7 2h0m-11 0h0m-1 4h0m-10 1h0m81 9h0m9 5h0m32-8h0m97-1h0m13 5h0m10 0h0m11-3h0m4 1h0m3 4h0m3-4h0m10 5h0m24-8h0m8 7h0m1-7h0m3 9h0m5 0h0m7-7h0m5 1h0m5 2h0m16-1h0m2-3h0m0-3h0m5 7h0m1-4h0m20 8h0m3-8h0m10 6h0m7-1h0m2-6h0m2 7h0m4 1h0m13-3h0m2-6h0m5 5h0m56 2h0m22 5h0m-25-1h0m-11 10h0m-3 1h0m-3-11h0m-9 0h0m-1 10h0m-15-7h0m-12 4h0m0 3h0m-11 0h0m-15-4h0m-18 0h0m-13-6h0m-5 11h0m-1-5h0m-4-3h0m-4-1h0m-17 5h0m0 3h0m-4-1h0m-1-3h0m-3-5h0m-6 8h0m0-9h0m-5 5h0m-8 3h0m-3-1h0m-5 2h0m-8-9h0m-9 11h0m-20-4h0m-7 2h0m-1-3h0m-3-6h0m-39 9h0m-24 1h0m-95 0h0m-6-9h0m-2 3h0m-96 18h0m0-5h0m104 6h0m142-10h0m8 6h0m7-1h0m7-4h0m2 6h0m7-2h0m33-2h0m43 7h0m16-1h0m15 1h0m1-6h0m2-2h0m1 4h0m18-3h0m12 5h0m3-1h0m7-3h0m2 2h0m4 0h0m32 3h0m11 1h0m2-10h0m16 8h0m8 10h0m-19 0h0m-2 4h0m-5 0h0m-37-8h0m-7 5h0m-4-3h0m-6-5h0m-1 5h0m-8 2h0m-2-5h0m-4 1h0m-1 6h0m-1-3h0m-5 4h0m-3-3h0m-8-3h0m-22-2h0m-11 1h0m-2 3h0m-4 3h0m-6-3h0m-2 4h0m-5 1h0m-10 0h0m-4-1h0m-6-4h0m-20 4h0m-7-2h0m-3-4h0m-1 5h0m-1-8h0m-3 3h0m-6-1h0m-7 0h0m-1-3h0m-2 1h0m-154 2h0m-11 3h0m-77-5h0m-27 0h0m23 22h0m25-3h0m51-5h0m2 2h0m55 2h0m85 0h0m106-7h0m7 0h0m6 0h0m33 2h0m20 0h0m7-1h0m2 5h0m3 0h0m7 1h0m12 4h0m2-5h0m1 5h0m5-11h0m28 8h0m5 3h0m4-10h0m14 0h0m4 2h0m-35 18h0m-3-4h0m-3-3h0m-183 1h0m-44 1h0m-12 5h0m-20-4h0m-13 4h0m-71-7h0m-31 0h0m-19 7h0m-30-7h0m-13 7h0m6 4h0m16 2h0m3 0h0m11 5h0m17 2h0m38-9h0m65 9h0m1-7h0m7-2h0m22 6h0m36 3h0m43 2h0m-52 4h0m-35 4h0m-34-6h0m-74 1h0m-24 0h0m-18 11h0m24 3h0m149-5h0m7 10h0m9-6h0m12 7h0m44 10h0m-92 1h0m-82 2h0m78 4h0m45-4h0m39 0h0m13 13h0m-1 10h0m-5-8h0m-14 4h0m-49-5h0m-3 4h0m-71-2h0m-17-4h0m-27 4h0m-63 1h0m98 16h0m38-3h0m6-1h0m30-2h0m50-1h0m-52 18h0m-23-7h0m-33 4h0m-16 1h0m-3-3h0m49 16h0m9 4h0m35-10h0m14-1h0m44 14h0m-7 6h0m-44 2h0m-45 0h0m-28-6h0m-47 8h0m29 6h0m3-2h0m16-2h0m5 4h0m0 5h0m10-2h0m9-8h0m79 21h0m-73-2h0m-6 1h0"/>
<path stroke="#c4d5f3" d="M275 48h0m88 32h0m-173 14h0m152 20h0m-113 33h0m-81 36h0m-34 13h0m19 5h0m22-3h0m22 3h0m22-8h0m225 15h0m-81-1h0m-63-1h0m-22 9h0m-11-2h0m-66 2h0m-4-3h0m-7-1h0m-33 2h0m-22-6h0m-9 16h0m3-5h0m34 5h0m2 3h0m5-4h0m7 0h0m29-5h0m124 6h0m45 0h0m1-7h0m26 1h0m76 17h0m-40-5h0m-15 6h0m-4 1h0m-19-3h0m-17 1h0m-13-4h0m-43 4h0m-47-2h0m-108 1h0m-4 1h0m0-3h0m-4 3h0m-6 5h0m-8 9h0m53 0h0m3-3h0m46-4h0m46 2h0m4 3h0m84 4h0m59-7h0m28 0h0m15 9h0m-12 3h0m-126 8h0m-228-4h0m9 16h0m7 0h0m27-6h0m4 5h0m145-7h0m124 8h0m-5 1h0m-47 3h0m-13 7h0m-131-1h0m-7-5h0m-7-4h0m-69 2h0m-12-1h0m-17 15h0m3 6h0m17 0h0m34-10h0m233 7h0m14-7h0m22 3h0m24 2h0m-51 9h0m-3 3h0m-12 0h0m-13 4h0m-7-6h0m-11 3h0m-28-6h0m-1 3h0m-57 4h0m-12 3h0m-5 1h0m-14-4h0m-49 3h0m-12-4h0m-22-4h0m-5 7h0m-20-1h0m-15-7h0m57 16h0m15 3h0m9-6h0m34 8h0m61-7h0m35 2h0m15 6h0m19-2h0m26-2h0m27 3h0m31-8h0m-18 21h0m-27-2h0m-4 1h0m-8-1h0m-11-4h0m-5-3h0m-33 7h0m-45 0h0m-90-9h0m-16 6h0m-1 3h0m-3 10h0m48-6h0m15 0h0m24 9h0m2-3h0m59 1h0m23 1h0m17-3h0m44 0h0m-32 16h0m-16-6h0m-9 2h0m-2 5h0m-4-1h0m-12-10h0m-11 0h0m-28 3h0m-7 0h0m-17 6h0m0-9h0m-4 10h0m-33-6h0m-13 4h0m-8-8h0m-2 5h0m-3 0h0m-20 3h0m-4-5h0m-8-2h0m-7 5h0m-8-5h0m49 11h0m8 5h0m21 0h0m3-5h0m1 3h0m9 3h0m3-4h0m32 9h0m1-7h0m14-1h0m0 8h0m2-3h0m13-2h0m16-4h0m2 3h0m3 1h0m3 0h0m7 2h0m2-3h0m7 3h0m-9 6h0m-7 4h0m-7-1h0m-1-3h0m-6 4h0m-4-2h0m-13 3h0m-7 2h0m-3 1h0m-3-7h0m-9 3h0m-3 1h0m-1 4h0m-22-4h0m-6 1h0m0-3h0m-46-2h0m-5 0h0m71 10h0m11 0h0m30-1h0"/>
</g>
<g transform="translate(776.00 281.00) scale(0.50000)" stroke-width="5.9">
<path stroke="#7a9df8" d="M337 47h0m-5 0h0m-7-2h0m-10-5h0m-1 4h0m-2-4h0m-2 3h0m0 3h0m-2 1h0m-6-4h0m-12-5h0m-5 1h0m25 18h0m11-2h0m1 3h0m1-10h0m1 4h0m2 4h0m1-8h0m5 4h0m2 2h0m1-5h0m2 8h0m0-4h0m2-3h0m4 3h0m3 5h0m1-5h0m2 4h0m2-2h0m4 4h0m20 11h0m-3 0h0m-3 0h0m-1-4h0m-3-1h0m0 4h0m-3-5h0m0 3h0m-1 4h0m-2-9h0m-1 5h0m-1-2h0m-3 2h0m-1-4h0m0 7h0m-2-5h0m-1 4h0m-2-4h0m-1 4h0m-1-6h0m-4-2h0m-2 3h0m-23 6h0m-89-6h0m-4-3h0m-27 20h0m102-3h0m13-4h0m13 1h0m9 8h0m6-10h0m1 3h0m2 4h0m6-1h0m1 3h0m1-10h0m1 3h0m2 2h0m0 5h0m1-10h0m3 4h0m0-3h0m2 7h0m3-5h0m2-3h0m1 4h0m3 1h0m3 2h0m2-3h0m5-2h0m3 1h0m2 6h0m-12 13h0m-6-3h0m-1 4h0m-2-7h0m-1-4h0m-4 4h0m-1-3h0m0 6h0m-3 1h0m0-7h0m-5 2h0m-2-3h0m-1 5h0m-2-4h0m-2 8h0m-1-3h0m0-5h0m-2 7h0m-3 3h0m-1-9h0m-2 7h0m-6-1h0m-24 0h0m-7 2h0m-40-8h0m-8 0h0m-3 4h0m-20 4h0m-45-5h0m80 8h0m4 7h0m43-8h0m11 6h0m1 5h0m2-5h0m2 3h0m0-6h0m3 4h0m1-4h0m3-1h0m10 0h0m5 1h0m1 3h0m3-3h0m2 7h0m9 1h0m13-7h0m5 15h0m-3-6h0m-18 0h0m-2 4h0m-6-4h0m-7 5h0m-14 3h0m-4 0h0m-1-9h0m-1 5h0m-4 5h0m0-8h0m-1 4h0m-2 4h0m0-10h0m-1 7h0m0-4h0m-2-2h0m-2 5h0m-1-3h0m-1-3h0m-10 4h0m-2-3h0m-4 10h0m-3-3h0m-3-5h0m0 3h0m-8 1h0m-2-6h0m-1 4h0m-3-3h0m-4 4h0m-3 1h0m-2-2h0m-7-5h0m-12 8h0m17 5h0m0 3h0m2 4h0m1-4h0m24-3h0m0 8h0m2-5h0m1 4h0m2-6h0m2 5h0m0-3h0m0 6h0m3 0h0m2-10h0m17 4h0m0-3h0m3-1h0m2 5h0m2 2h0m1-7h0m0 4h0m5-4h0m1 7h0m9 1h0m3-2h0m2-6h0m6 2h0m21-2h0m-56 19h0m-3 0h0m0-3h0m-7 3h0m-4-3h0m-4 4h0m-1-3h0m-2 2h0m0 4h0m-7-7h0m-1 4h0m-4-3h0m-1 4h0m-2-7h0m-2 9h0m-2-3h0m-3 0h0m-4-1h0m-1 4h0m-3-11h0m-9 12h0m5 1h0m2 10h0m1-8h0m0 5h0m2-3h0m1-4h0m1 6h0m1-3h0m3-4h0m1 3h0m1 6h0m1-9h0m1 7h0m1-5h0m5 3h0m2-2h0m1-3h0m1 6h0m2-5h0m2 6h0m1-6h0m9 6h0m9-6h0m5 7h0m4 1h0m1-6h0m2-2h0m3 12h0m-4 6h0m-3-1h0m-12 3h0m-1-6h0m-22 7h0m-6 1h0m-1-4h0m-5 2h0m0-9h0m-2 6h0m-3-3h0m15 11h0m3 1h0m3-2h0m3 3h0m3 0h0m1-3h0m1 7h0m6-5h0m1 4h0m3 4h0m6-10h0m1 10h0m1-6h0m2 2h0m1-5h0m19 19h0m-2-3h0m-15-3h0m-9-3h0m-249 11h0m-2-3h0m-2 2h0m-14-4h0m-1 3h0m18 4h0m228 6h0m3 2h0m-2 4h0m-75 8h0m-4-2h0m-2 7h0m0 4h0m4-6h0m5 0h0m39 23h0m-15-5h0m-33 1h0m3 8h0m15-3h0"/>
<path stroke="#6e90f2" d="M356 69h0m1 10h0m6 1h0m3-1h0m1 3h0m1-8h0m4 0h0m3-1h0m6 6h0m4-3h0m2 5h0m2-3h0m1 3h0m3 0h0m4 2h0m10 10h0m-3-4h0m-2-3h0m-2 3h0m-1-3h0m-3 6h0m0-4h0m-3 6h0m-3-2h0m-2-8h0m-1 5h0m-1 3h0m-1-6h0m-3-2h0m-13 0h0m-2 4h0m-2-3h0m-4 6h0m0 3h0m-6-6h0m-3 2h0m-243 16h0m234-4h0m15 2h0m3 0h0m3 2h0m5-6h0m0 5h0m1-8h0m2 8h0m3-9h0m1 3h0m1 8h0m3-3h0m6-8h0m1 3h0m19 5h0m0-8h0m2 4h0m2 5h0m0-8h0m1 4h0m2 2h0m0-6h0m2 3h0m4 3h0m10 2h0m-7 14h0m-11-5h0m-2-3h0m-3-3h0m-1 3h0m-2-2h0m-4 3h0m-4 6h0m-1-3h0m-1-4h0m-2 2h0m-2-4h0m-3 2h0m-2-3h0m-2 9h0m-1-5h0m-1-4h0m-2 10h0m0-6h0m-4 3h0m-2-6h0m-1 3h0m-2 5h0m-1-3h0m-3 2h0m-6-5h0m-1 7h0m-5-9h0m-2 4h0m-3 5h0m0-4h0m-2-4h0m-2 7h0m-4 2h0m-1-3h0m-2 3h0m-6-3h0m-45 2h0m-183-5h0m-2-5h0m-1 4h0m-1-4h0m-1 9h0m-1-4h0m-3-1h0m-3 1h0m0 4h0m-4 2h0m-2-3h0m-15 13h0m2-3h0m3 0h0m1 2h0m2-4h0m1 4h0m5-6h0m0 3h0m3-3h0m0 8h0m1-5h0m6-5h0m192 4h0m41 2h0m1-3h0m8 6h0m6-7h0m4 6h0m1-5h0m2 8h0m3-2h0m1-9h0m2 2h0m0 4h0m3-2h0m5 6h0m3-5h0m3 1h0m1-4h0m5 2h0m2 4h0m0-6h0m1 3h0m2 2h0m6 2h0m5-6h0m1 6h0m2 2h0m12-9h0m23 2h0m-14 19h0m-16-7h0m-2-4h0m-1 6h0m-4-3h0m-2 2h0m-1-4h0m-2 10h0m-3-1h0m-2-6h0m-2 7h0m-2-6h0m-3-1h0m0 6h0m-5-7h0m-3 5h0m0-8h0m-1 4h0m-3 3h0m-1-3h0m-1-3h0m-2 10h0m-1-3h0m-4-2h0m-1 3h0m0-8h0m-3 8h0m0-7h0m0 4h0m-3-3h0m-8 0h0m-1-3h0m-2 2h0m-2 4h0m-2-3h0m-13 7h0m-2-6h0m-5 6h0m-3-1h0m-6-1h0m-3 3h0m-10-1h0m-5-8h0m-196-2h0m-4 4h0m-5 0h0m-2-2h0m0 4h0m-4 0h0m0 4h0m0-7h0m0-3h0m-3 0h0m0 7h0m-2 4h0m0-7h0m-1-3h0m-2 4h0m0 4h0m-1-7h0m-1 4h0m0 5h0m-2-2h0m0-4h0m-2 2h0m-1 4h0m-1-2h0m214 10h0m9-7h0m2 8h0m6-4h0m3 1h0m7 5h0m4-3h0m1 3h0m2-5h0m0-4h0m1 9h0m2-3h0m2-3h0m2-2h0m2 3h0m1-5h0m5 5h0m10 5h0m3-2h0m1-3h0m14 3h0m1-8h0m2 3h0m1 7h0m0-10h0m2 6h0m0-4h0m1 8h0m2-6h0m0 3h0m1 2h0m4 0h0m2-2h0m2-7h0m1 8h0m3-4h0m1 4h0m1-7h0m5 0h0m3 6h0m1-6h0m3 9h0m6-5h0m2-5h0m3 0h0m7 0h0m2 6h0m7 1h0m3 3h0m16-9h0m-39 18h0m-2-3h0m-2 5h0m0-9h0m-1 6h0m-4 4h0m-5-1h0m0-9h0m-9 5h0m-3 0h0m-1-5h0m0 8h0m-3-1h0m0 4h0m-2-11h0m-1 3h0m-2 6h0m-1-4h0m0-5h0m-4 1h0m-3 2h0m0-3h0m-3 1h0m-2 4h0m-2-3h0m-1 3h0m-1 6h0m-9-10h0m-3 0h0m-1 3h0m-4 2h0m-1 4h0m-2-6h0m-2-4h0m-1 10h0m-2-10h0m-1 5h0m-1 4h0m-1-3h0m0-6h0m-3 0h0m0 3h0m0 5h0m-3-8h0m0 6h0m-4 2h0m-8-6h0m-2-1h0m-8 3h0m0 3h0m-6 0h0m0-3h0m-4-2h0m-230 20h0m1-4h0m2 4h0m2-7h0m0 4h0m3-4h0m234 1h0m4-4h0m7 3h0m0 5h0m6-7h0m1 6h0m1-3h0m2-1h0m1 3h0m6 4h0m3-2h0m1-3h0m1-5h0m1 3h0m0 4h0m4-1h0m1 4h0m9 0h0m4 0h0m4-9h0m3-1h0m7 3h0m1 4h0m12 2h0m4-4h0m0 3h0m0-7h0m8 0h0m4-1h0m8 6h0m7 2h0m5-4h0m2 3h0m21 4h0m-3 4h0m-17 0h0m-8 8h0m-6-1h0m-7-9h0m-1 7h0m-3 1h0m-2-6h0m-3-2h0m-2 3h0m-1 6h0m-1-10h0m-1 5h0m-3 5h0m-1-4h0m-3 4h0m-6 0h0m-4-10h0m0 9h0m-5-5h0m-2 6h0m0-7h0m-1 4h0m-3-7h0m0 5h0m-1 5h0m-2-6h0m0 4h0m-2-8h0m-1 4h0m-2-3h0m-3 3h0m-3-1h0m-3 0h0m-3 0h0m-1-3h0m-4 0h0m-2 1h0m-3 1h0m-239-1h0m-3 0h0m-3 0h0m-2 2h0m-2-2h0m-2 3h0m-4-1h0m-2 3h0m-2-1h0m0-3h0m-4 0h0m-3-1h0m-2 2h0m-5 3h0m-2 1h0m245 15h0m2-3h0m0-3h0m116-4h0m-110 15h0m-5-3h0m0 4h0m-4-2h0m-4 3h0m-3-2h0m-5-1h0m0 3h0m-3 3h0m-1-4h0m-3 0h0m-3 7h0m0-9h0m-3 1h0m-3 2h0m-5-2h0m-2 3h0m-3 2h0m0-4h0m-6-1h0m-1 6h0m-2-5h0m-3 0h0m-6 0h0m-5 5h0m-2-4h0m-10 6h0m-1 12h0m3-7h0m0 6h0m1-3h0m9-6h0m23-1h0m-30 15h0m-3-2h0m-1 10h0m-3-8h0m1 11h0m6-2h0m2 3h0"/>
<path stroke="#f7b99e" d="M424 208h0m-3 16h0m4-1h0m3 3h0m2 6h0m-4 1h0m-2-4h0m-3 4h0m-3-4h0m-2 22h0m1-6h0m4 0h0m0-4h0m10-1h0m-12 21h0m-1 8h0m7 3h0m13-8h0m0 21h0m-11-5h0m-3 3h0m-11 1h0m3 7h0m5 0h0m6-3h0m-6 21h0m-4-3h0m-1-5h0m-3 7h0m-8 13h0m7-5h0m2 4h0m9-5h0m-19 18h0m-2-9h0m-2 10h0m-7 10h0m5 4h0m-1 6h0m-1 4h0m-3-2h0m-1 3h0m-8-7h0m0 13h0m2-4h0m1 3h0m2 5h0m3-3h0m1-3h0m1 5h0m8-7h0m-18 11h0"/>
<path stroke="#ed8366" d="M474 221h0m1 6h0m2-4h0m4 0h0m2-3h0m3 13h0m-2 3h0m-3 3h0m-1-7h0m0 4h0m-3-3h0m-3-1h0m-1 3h0m-1-6h0m-3 4h0m-3 11h0m5 6h0m5 0h0m2-10h0m4 13h0m-5 1h0m-3 0h0m-5 17h0m2 3h0m3 0h0m6 1h0m4-1h0m3 0h0m3 2h0m-5 5h0m-1-4h0m-3 3h0m-12-3h0m12 29h0m-3-5h0m-6 5h0m-2-3h0m-4 0h0m-2 3h0m-3 1h0m-10 10h0m18-5h0m2 17h0m-15 3h0m-4-8h0m-3 4h0m-2 5h0m-4-6h0m-6 12h0m1 5h0m3-7h0m0 4h0m2 4h0m5-5h0m2-4h0m4 5h0m-14 7h0m-4 1h0m-7 4h0"/>
<path stroke="#dd5f4b" d="M491 223h0m3 1h0m15 15h0m-1-4h0m-3-2h0m-3 4h0m-1-4h0m-3 3h0m-9-3h0m7 18h0m6-1h0m3-2h0m11 5h0m-5-1h0m-5 0h0m-10 21h0m6 0h0m12 1h0m-5 3h0m-3 4h0m-1 5h0m-3-2h0m0-3h0m-4 3h0m-3-4h0m0-4h0m-3 19h0m4 0h0m4 1h0m2-8h0m1 7h0m1-4h0m6-3h0m1 7h0m-6 13h0m-23 14h0m4-1h0m5-4h0m2-5h0m1 4h0m3-2h0m-12 10h0m-9 5h0m-7-5h0m0 9h0m-1-6h0"/>
<path stroke="#c4d5f3" d="M342 203h0m8 5h0m-8 7h0m-3-5h0m-1-4h0m-1 8h0m-2-3h0m-1-5h0m-10 13h0m14 6h0m3-6h0m0 6h0m4-2h0m4 3h0m-3 4h0m-6-2h0m-2 5h0m-4-1h0m-1 5h0m-4 2h0m0-9h0m1 14h0m4 4h0m1-7h0m2 6h0m3 2h0m0-9h0m8 21h0m-3-3h0m-2-5h0m-3 10h0m-1-7h0m-2-4h0m-2 8h0m-1-6h0m-4 9h0m0-10h0m-8 6h0m4 5h0m1 10h0m3-7h0m8 6h0m3-4h0m4 5h0m0-10h0m6 4h0m6 12h0m-8-3h0m-8-1h0m-3 4h0m-1 7h0m-1-10h0m-1 3h0m-1 4h0m-5-1h0m-5-6h0m-23 8h0m9 9h0m11-4h0m5 8h0m2-10h0m2 8h0m0-5h0m2-3h0m2 6h0m0-4h0m6 4h0m1-5h0m9 13h0m-14-1h0m-5 2h0m-9 5h0m-3 3h0m-1-8h0m-4 7h0m-3-3h0m-2 2h0m-1-4h0m-3 0h0m-2 2h0m-164 9h0m5 6h0m5 1h0m10-1h0m36-4h0m17 4h0m32 0h0m47-2h0m5 1h0m0-6h0m7 0h0m0 6h0m4 2h0m2-5h0m1 4h0m3-9h0m7 7h0m1-3h0m-8 9h0m-10 1h0m-2 3h0m-3 3h0m0-5h0m-1-3h0m-3 9h0m-5-5h0m-9-3h0m-2 9h0m-3-1h0m-9 0h0m0-9h0m-10 9h0m-3 0h0m-6-2h0m-4 1h0m-7-2h0m-2 2h0m-2-2h0m-8 0h0m-2 4h0m-3-1h0m-3 0h0m-8-10h0m-2 11h0m-4-1h0m-5 0h0m-1-3h0m-2 4h0m-19-8h0m0 5h0m-4-2h0m-4 2h0m-4-4h0m0 5h0m-8-9h0m-1 9h0m-5-7h0m11 15h0m7-5h0m5 3h0m2-3h0m0 6h0m2-3h0m2-3h0m3 11h0m7-1h0m10-8h0m3-1h0m2 5h0m6 3h0m3-4h0m2 2h0m0-5h0m3 0h0m0 6h0m2-3h0m3-3h0m1 3h0m2 4h0m1-6h0m1 3h0m2-3h0m7-2h0m3-1h0m0 5h0m2-3h0m0 7h0m1-3h0m2 3h0m0-6h0m7-2h0m2 4h0m1 3h0m0-7h0m3 10h0m1-4h0m2-7h0m0 11h0m2-4h0m2-3h0m1 4h0m3-2h0m0-5h0m3 9h0m0-6h0m3 3h0m2-4h0m1 4h0m2 3h0m1-8h0m3 6h0m0-4h0m4-1h0m0 4h0m1-7h0m2 10h0m1-8h0m0 3h0m4-3h0m2 5h0m3-5h0m-19 12h0m-6 2h0m0 3h0m-2-6h0m-3 5h0m0-4h0m-6-1h0m-4 2h0m-1 4h0m-14-3h0m-4-4h0m-13 6h0m-9-1h0m-1-3h0m-12-1h0m-4 3h0m-3 4h0m-12-7h0m7 13h0m60 1h0"/>
<path stroke="#c73635" d="M512 238h0m8 7h0m4 2h0m6 8h0m-4-2h0m-6-1h0m0 41h0"/>
<path stroke="#86a9fc" d="M329 45h0m-3-3h0m-3 0h0m-2 2h0m-1-3h0m-12-2h0m-1 5h0m-2-3h0m-1 6h0m-1-8h0m-3 8h0m-2-9h0m0 3h0m-2 4h0m-1-5h0m-3 6h0m0-4h0m-3 5h0m-7-7h0m-3 0h0m-2 2h0m-5 2h0m-3-2h0m-7 5h0m0-3h0m-5 2h0m-31 12h0m5 0h0m3-2h0m6-2h0m2 2h0m2-4h0m2 3h0m2-3h0m5-2h0m3 1h0m4 3h0m2-2h0m2 2h0m1-4h0m0 7h0m10-9h0m1 3h0m8 7h0m3-8h0m0 4h0m1 3h0m3 1h0m0-8h0m1 4h0m3-6h0m2 4h0m1-3h0m2 10h0m2-8h0m0 5h0m1 2h0m4 0h0m3-9h0m3-1h0m0 11h0m15-7h0m3 3h0m2 3h0m18 0h0m-29 11h0m-3-2h0m-6-4h0m-1 3h0m-2 4h0m-1-9h0m0 7h0m-1-4h0m-3 1h0m0 5h0m0-8h0m-2 6h0m-3 2h0m-1-4h0m-3-6h0m-3 6h0m0 4h0m-1-7h0m-2 5h0m-1-2h0m-1-3h0m-1 7h0m-2-4h0m-3-5h0m0 5h0m-27-3h0m-3 3h0m-2 4h0m-2-6h0m-1 3h0m-3-3h0m-1-3h0m-3 1h0m-2 2h0m-2-2h0m-3 5h0m-2-6h0m-7 3h0m-2 3h0m-2 4h0m0-11h0m-3 7h0m-3 3h0m0-5h0m-4 1h0m-5 3h0m-38 14h0m4 0h0m4-1h0m6-1h0m4 1h0m2-2h0m3-2h0m4 0h0m0 4h0m4-10h0m1 3h0m5 1h0m1-2h0m1 6h0m2-7h0m1 5h0m1 4h0m2-2h0m3-2h0m3 0h0m0-4h0m3 6h0m0-5h0m2-2h0m0 4h0m1 3h0m1-5h0m3 3h0m9 4h0m1-7h0m5 2h0m2-5h0m2 4h0m2-3h0m2 1h0m2 8h0m0-10h0m5 10h0m5 1h0m7-1h0m2-2h0m4-1h0m1 3h0m0-6h0m3 2h0m0 4h0m3-2h0m2-3h0m1 3h0m3-8h0m4 9h0m3-1h0m0-3h0m2-3h0m10-2h0m4 10h0m2-9h0m2 9h0m3-10h0m3 2h0m3-2h0m1 6h0m4-4h0m0 3h0m1 4h0m2-3h0m0-3h0m5 5h0m4 3h0m5-9h0m6 6h0m-16 9h0m0-5h0m-8 10h0m-3-5h0m-2 5h0m-7-5h0m-2 3h0m-4-8h0m-6 4h0m-2 7h0m-1-10h0m0 4h0m-10 3h0m-3 2h0m-4-3h0m-9 4h0m0-9h0m-2 5h0m-1-7h0m-3 9h0m0-3h0m-1-4h0m-2 5h0m-1-3h0m0 6h0m-3 0h0m0-8h0m-3 1h0m0-3h0m-8 4h0m0 6h0m-2-10h0m-1 8h0m-4-5h0m-3 5h0m-1-5h0m-1 8h0m-1-11h0m-1 9h0m-1-5h0m-1-3h0m-6 8h0m-10-9h0m0 4h0m-1 5h0m-1-2h0m-1-7h0m0 11h0m-1-7h0m-2 7h0m-1-10h0m0 6h0m-4-2h0m0 6h0m-3-11h0m-2 8h0m0 3h0m-5-11h0m-2 2h0m-7 8h0m-10 0h0m0-8h0m-3 0h0m-3 1h0m-5 5h0m-5 1h0m0-9h0m-3 6h0m0-4h0m-3 7h0m0-8h0m-2 10h0m-2-9h0m-1 7h0m-2-6h0m-1 7h0m-4-5h0m-3 1h0m-3 3h0m-6 1h0m-9 12h0m2-10h0m2 4h0m2-1h0m15 0h0m1-3h0m3 2h0m2-1h0m0 4h0m8-1h0m3-3h0m0 6h0m3-7h0m2 3h0m3 7h0m0-6h0m0 3h0m1-6h0m2 4h0m4-4h0m2 2h0m13 4h0m13-6h0m0 9h0m1-4h0m2 5h0m1-5h0m1 3h0m2-7h0m1 6h0m4-6h0m1 6h0m1 3h0m1-10h0m3 4h0m1-4h0m0 7h0m3-8h0m0 8h0m1-4h0m2 2h0m1 5h0m4-1h0m7-9h0m3 6h0m4 3h0m0-5h0m1-4h0m3 8h0m7-2h0m2-3h0m3 2h0m1 4h0m2-8h0m1 5h0m1-7h0m2 5h0m1-5h0m2 10h0m6-8h0m3 2h0m1 4h0m0-8h0m1 5h0m2-2h0m4-2h0m1 9h0m8-8h0m3 1h0m11 6h0m10-9h0m-32 18h0m-2-4h0m-2-2h0m-3 0h0m-4 9h0m-2-4h0m-1-4h0m-2 10h0m-6-6h0m-2 4h0m-1-6h0m-4-2h0m-13 1h0m-1 8h0m-2-7h0m-1 5h0m-1 3h0m0-11h0m-3 0h0m-3 11h0m0-6h0m0-4h0m-4 9h0m-1-3h0m-2-3h0m0 7h0m-1-3h0m-7 0h0m0-7h0m-3 4h0m-2-2h0m-1 4h0m-2-5h0m-3-2h0m-3 2h0m-4 0h0m-3 2h0m-4 4h0m0 3h0m-27-11h0m-1 6h0m-4-4h0m-2 5h0m-2 3h0m-1-7h0m-2-2h0m-1 9h0m-5-2h0m-2 2h0m-3-10h0m-6 0h0m-13 15h0m1 4h0m3 2h0m2-3h0m7 0h0m2-6h0m1 11h0m1-8h0m1 5h0m2-6h0m0 9h0m3 0h0m4-9h0m1 4h0m1 5h0m5-1h0m1-8h0m3 9h0m58-11h0m8 1h0m8 1h0m4 7h0m1-5h0m2-3h0m0 10h0m0-3h0m1-4h0m3-2h0m43 4h0m-10 6h0m-6 0h0m-26 8h0m-9-3h0m-66-5h0m-6 7h0m0-4h0m-11-1h0m-1 4h0m-2-2h0m-5 7h0m-2-5h0m-1-4h0m-1 7h0m-3-3h0m0-3h0m-1 6h0m-5-9h0m-1 7h0m-1-4h0m-2 6h0m-1-4h0m-3 3h0m-2 3h0m-4-9h0m-4 9h0m-1-11h0m-4 10h0m-4 11h0m1-9h0m9 4h0m9-1h0m0 4h0m6-7h0m4 3h0m3 1h0m1 4h0m4-8h0m1 5h0m3 5h0m9-6h0m10 6h0m111-1h0m-15 7h0m-5-3h0m-2 5h0m-94-4h0m-6 0h0m-2-2h0m0 5h0m-12 5h0m-3-3h0m-1-3h0m-2-3h0m-1 7h0m-1 3h0m-3-2h0m-3-2h0m-5 0h0m-3 4h0m-4-5h0m-3-2h0m-1 4h0m-3-3h0m-10 3h0m25 6h0m0 3h0m3-4h0m0 5h0m1 4h0m3-10h0m0 9h0m2-7h0m10-1h0m2 8h0m3 2h0m2-2h0m5-4h0m-4 7h0m-6 0h0m-6 3h0m-3-1h0m-11 0h0m-23 5h0m-1-3h0m-51 11h0m3 0h0m139 4h0m30 27h0m11-3h0m6-2h0m2 5h0m1-5h0m3 3h0m1 3h0m1-6h0m1 3h0m4-1h0m0 4h0m3-6h0m1 6h0m3-2h0m2-3h0m16 2h0m2 8h0m-9 4h0m-3-1h0m-2-6h0m-5 6h0m-1-6h0m-5 1h0m-3 8h0m0-6h0m-3-2h0m-4 6h0m-7-4h0m-3 1h0m-4 4h0m-5 0h0m0-6h0m-3 5h0m-1-6h0m-2 8h0m-1-5h0m-15 13h0m15-4h0m3 2h0m2-3h0m9 9h0m4 1h0m9-9h0m9-1h0m15 6h0m5-7h0m2 3h0m-30 16h0"/>
<path stroke="#e1dad6" d="M393 210h0m-5-5h0m-1 4h0m-11 13h0m6-5h0m8 18h0m-2 4h0m-15 0h0m10 1h0m2 10h0m1-6h0m3 5h0m-6 5h0m-7 4h0m1 13h0m5 2h0m1-7h0m3 4h0m5 0h0m-20 27h0m2-6h0m6 1h0m4 17h0m-5 0h0m-1-6h0m-12 4h0m0 14h0m0-5h0m5 2h0m4-4h0m3 3h0m3 4h0m-4 5h0m-13 2h0m-5-2h0m-6 0h0m-9 7h0m-28 13h0m21-2h0m3 0h0m4 1h0m2-5h0m3 4h0m1-8h0m3 15h0m-7-3h0m-3 2h0m-2 3h0m-2 6h0m0-10h0m-4 3h0m0-4h0m-2 7h0m-4 1h0m-8 2h0m-6-4h0m-69 16h0m53 1h0m17-3h0m2-4h0m5 7h0m3-9h0m6 1h0m5-1h0m-2 20h0m-8-10h0m-8 8h0m-4 1h0m-6-6h0m-80 3h0m78 7h0m10 0h0m3-1h0"/>
<path stroke="#5572df" d="M367 28h0m57 19h0m-4 0h0m-7-1h0m-3 0h0m-3-1h0m0 2h0m-4-3h0m-4 0h0m-7-2h0m14 8h0m0 6h0m3 3h0m7-1h0m4-4h0m1-3h0m2 3h0m0 3h0m3 0h0m2-5h0m0-4h0m1 7h0m2-5h0m5 2h0m2 6h0m1-2h0m0-4h0m3 4h0m3 0h0m50 15h0m-6-3h0m-4-1h0m-4-6h0m-2 3h0m-2-3h0m-4 0h0m-13-1h0m-2 1h0m-3 3h0m0 3h0m-2-2h0m-6-2h0m-3-3h0m-1 3h0m-3 1h0m-2 1h0m0-3h0m-2 0h0m-3 4h0m-2-1h0m-2-3h0m-1 5h0m0-7h0m-2 4h0m-3-4h0m-11 3h0m-4-2h0m52 13h0m3 5h0m59 15h0m-2-1h0m-4 1h0m-5-3h0m-2 3h0m-2-2h0m-3 3h0m-24-2h0m-4-5h0m-3-2h0m21 19h0m2-3h0m2-3h0m3-2h0m4 1h0m3 0h0m1 3h0m3 0h0m0-5h0m3 2h0m11-1h0m2 4h0m3 0h0m14 17h0m-3-2h0m-1-5h0m-2 2h0m-2-2h0m-2-3h0m0 10h0m-3 1h0m-2-4h0m-2 4h0m-1-3h0m-2-6h0m-2 5h0m-1-3h0m-2-3h0m-1 10h0m-1-7h0m-2 3h0m0-5h0m-1 8h0m-4 1h0m-3-2h0m-1-6h0m-1 4h0m-1 4h0m-1-9h0m-1 3h0m-1 5h0m-3-4h0m0 4h0m-6-8h0m-2-2h0m-1 3h0m-2 8h0m0-10h0m-5 4h0m-7 0h0m-4 1h0m-13-2h0m-7-1h0m-5-2h0m-3 0h0m-2 8h0m-11-8h0m13 11h0m1 11h0m40-6h0m1-4h0m1 9h0m1-4h0m1-3h0m1 6h0m2-5h0m5 4h0m3 0h0m3 1h0m8-7h0m2 2h0m1-3h0m1 8h0m3-7h0m0 5h0m1 3h0m2-5h0m1-3h0m1 7h0m1-5h0m0-4h0m1 7h0m4-5h0m2 8h0m0-3h0m1-3h0m3-3h0m0 7h0m3-3h0m1-5h0m4 0h0m1 3h0m1 7h0m1-9h0m3 8h0m7 14h0m-2-2h0m-3-8h0m0 6h0m-3-3h0m-4 1h0m0-4h0m-9 9h0m0-3h0m-4 1h0m-2-3h0m0-5h0m0 10h0m-2-3h0m-1-5h0m-3-1h0m-15 7h0m-4-8h0m-4 1h0m0 8h0m-3-9h0m-1 8h0m-3-8h0m0 5h0m-2-2h0m-4-2h0m-1 2h0m-3 1h0m-3 4h0m-2-2h0m-1 4h0m-2-3h0m0-4h0m-7 5h0m-3-2h0m-1 4h0m-34 6h0m5-4h0m11 9h0m3-6h0m3-1h0m3 0h0m2 9h0m17-1h0m2-9h0m1 5h0m1 5h0m1-8h0m2 3h0m4-5h0m3 0h0m2 7h0m4 1h0m10-4h0m0-5h0m3 7h0m1-7h0m1 3h0m3 4h0m0-7h0m1 3h0m7 7h0m3-2h0m2 2h0m1-3h0m2 3h0m2-3h0m1-7h0m2 3h0m1 6h0m3-1h0m12-3h0m3 2h0m1-7h0m3 9h0m0-5h0m2-2h0m0 5h0m1 3h0m0 11h0m-4-6h0m-3 3h0m-1 4h0m-3-3h0m-8-7h0m-6 0h0m-4 2h0m-1 9h0m0-6h0m-2 4h0m-1-8h0m-1 5h0m-2 4h0m0-9h0m-1 3h0m-1 4h0m-1-6h0m0 9h0m-1-5h0m-3 2h0m-1-5h0m-2 5h0m-1-6h0m-2 3h0m-2-5h0m-1 10h0m-2-5h0m-1 4h0m-7-7h0m-1 3h0m-2 6h0m-1-4h0m-1-7h0m-10 2h0m-2 8h0m-2-7h0m-4 0h0m-3-2h0m-2 9h0m-5-5h0m-1 4h0m-9-8h0m0 5h0m-3 5h0m-3-2h0m-30 2h0m12 5h0m8-1h0m12 0h0m0 7h0m2-3h0m16-4h0m0 5h0m5 1h0m2-4h0m2-4h0m2 2h0m3-2h0m0 10h0m0-6h0m3-2h0m0-3h0m1 7h0m10-6h0m1 8h0m3-8h0m9 7h0m0-8h0m3 4h0m0-4h0m1 10h0m3-5h0m2 3h0m4-7h0m2 10h0m2-10h0m1 7h0m1-3h0m3 2h0m0 3h0m4 0h0m3 1h0m0-4h0m3-2h0m1 4h0m5-6h0m6-2h0m3 2h0m1 4h0m2-6h0m-4 16h0m-5 2h0m-4-6h0m-3 9h0m0-4h0m-3 3h0m0-5h0m-2-2h0m-1 2h0m-3 5h0m-1-9h0m-1 3h0m-1 4h0m-2 4h0m-1-7h0m-1 4h0m-3 3h0m0-4h0m-3 2h0m-6-8h0m0 6h0m-3-2h0m-1 5h0m-2-2h0m-1 3h0m0-7h0m-3 2h0m-3 5h0m-2-6h0m-3 3h0m-2-8h0m-1 9h0m0-6h0m-2 4h0m-2 4h0m-3-8h0m-6-1h0m-2 3h0m-2 3h0m-1-3h0m-6-5h0m-1 5h0m-2-4h0m-3 1h0m0 4h0m-3-2h0m-1 7h0m-3 0h0m-4-5h0m-2 4h0m-28 2h0m4 0h0m18 2h0m11 3h0m14 1h0m4 2h0m3-1h0m5 0h0m3-2h0m2 3h0m1-3h0m1 6h0m1-9h0m1 4h0m1 5h0m4-2h0m3-2h0m1-5h0m2 3h0m3-3h0m16-2h0m0 9h0m3-5h0m3-1h0m0 8h0m3 0h0m0-7h0m0 3h0m2 2h0m2-8h0m0 3h0m1 3h0m2-7h0m4 4h0m2-3h0m5 0h0m2 6h0m4-7h0m-15 15h0m-3 3h0m-4-5h0m-1 6h0m-1-3h0m-2 2h0m0-4h0m-3 8h0m-1-5h0m-2 5h0m0-10h0m-1 3h0m-1 4h0m-3 2h0m-1-3h0m-2-1h0m-3-3h0m-4 1h0m-2-2h0m-4 0h0m-4-1h0m-252 14h0"/>
<path stroke="#d24b40" d="M516 241h0m11 7h0m3 4h0m-29 1h0m4 20h0m5 0h0m9 1h0m8 8h0m-2-5h0m-1 8h0m-9-1h0m-2 3h0m0-5h0m-3-2h0m-2 5h0m-1 6h0m0 3h0m5-3h0m0 7h0m3-3h0m1-6h0m1 9h0m0-6h0m5-2h0m-8 13h0m-4-2h0m-1 4h0m-5 6h0m-3-1h0m-11 3h0m0 7h0m11-6h0"/>
<path stroke="#f5c4ac" d="M420 210h0m-6-4h0m-5 0h0m17 32h0m-11-1h0m-2-5h0m-10 3h0m2 5h0m5 4h0m3 3h0m2 11h0m-3-6h0m-3 4h0m9 19h0m3 12h0m0-7h0m-4 6h0m-1-6h0m-3-4h0m-2 12h0m2 7h0m-2 6h0m-3 6h0m-9 6h0m5 1h0m6 9h0m-5 6h0m-4 1h0m-4-6h0m0 6h0m-5 3h0m-7 12h0m3-9h0m1 9h0m3-6h0m1 8h0m4-3h0m3-4h0m-5 11h0m-6-1h0m0 4h0m-1 4h0m-5-2h0m-1-7h0m-2 7h0m-5 1h0m-10 10h0m13-1h0m1-5h0m2 8h0m0-3h0m1-4h0m4 7h0m-8 4h0m-4-1h0m-17 7h0"/>
<path stroke="#6282ea" d="M364 28h0m1-3h0m5 6h0m3 3h0m0-3h0m3 2h0m40 14h0m-12 0h0m-3-1h0m-4-2h0m0 3h0m-3-1h0m-3-1h0m-2-3h0m-2-3h0m-2 2h0m-2-2h0m-5-2h0m17 12h0m3 3h0m1-4h0m2 8h0m0-3h0m1-3h0m2 8h0m0-3h0m9 4h0m5-9h0m1 8h0m5-8h0m7 3h0m16 6h0m-6 2h0m-6 4h0m-5 2h0m-6-1h0m-2-3h0m-2 1h0m-1-3h0m-2 4h0m-1-4h0m-2 3h0m99 29h0m-109-1h0m-4 1h0m-8-5h0m-287 19h0m8-4h0m276-6h0m30 3h0m3 7h0m1-3h0m0-3h0m3 3h0m6 0h0m6 3h0m3 0h0m66-3h0m8-2h0m-19 6h0m-11 3h0m-6 3h0m-10-1h0m-3 2h0m-2-3h0m-4 3h0m-2 4h0m-2-6h0m-2 3h0m-3-1h0m-4-1h0m-7 0h0m-2 4h0m-3-10h0m0 9h0m-3 2h0m-3-6h0m0 3h0m-2 3h0m-2-9h0m-1 3h0m0 4h0m-2-5h0m-2 3h0m-2 3h0m-3 0h0m-3-9h0m-4 7h0m-3 0h0m-3-3h0m-1 3h0m-3-7h0m-1 6h0m-7 3h0m-4-4h0m-11 5h0m-270-8h0m-9 0h0m-1 6h0m-6-1h0m-16 13h0m6 1h0m2-10h0m0 5h0m2 4h0m6-1h0m2-7h0m0 3h0m283 3h0m15 0h0m5-1h0m0-5h0m15 0h0m10 1h0m1 3h0m3 4h0m1-4h0m2-3h0m0 5h0m1 4h0m2-3h0m2-5h0m3 4h0m0-5h0m1 8h0m2-3h0m1 3h0m2-2h0m2 3h0m15-6h0m3-2h0m1 4h0m23 2h0m9-8h0m4-1h0m6 5h0m16 14h0m-8 2h0m-14-5h0m-13-4h0m-5 2h0m-7 1h0m-2-2h0m-12 0h0m-3 9h0m-4 1h0m-3-9h0m-1 9h0m-3-9h0m-4 2h0m-2-3h0m0 4h0m-2 3h0m-3 2h0m-2-10h0m-2 10h0m-2-5h0m-1 3h0m-3-2h0m-1 4h0m-7-2h0m-3 1h0m-11-3h0m-2 2h0m-6 0h0m-3 3h0m-9-4h0m-2-5h0m-1 6h0m-2-7h0m-7 5h0m-5 4h0m-277-8h0m-3-2h0m-2 2h0m-7 6h0m-7 0h0m281 9h0m15-3h0m3 9h0m1-7h0m4 7h0m2-7h0m2 2h0m2 3h0m1-5h0m3 7h0m2-6h0m2 3h0m0-6h0m3 1h0m0 4h0m5-4h0m3 1h0m1 3h0m1 4h0m1-8h0m1 3h0m2-2h0m1 6h0m3-7h0m0 8h0m0-11h0m2 7h0m1 3h0m1-9h0m2 2h0m3-1h0m2 9h0m2-9h0m3 2h0m1 5h0m2-7h0m0 4h0m5 2h0m2 3h0m0-6h0m3-2h0m0 5h0m2-2h0m3 5h0m1-3h0m6-1h0m4 4h0m1-3h0m4 1h0m4 1h0m13-3h0m5 1h0m7-4h0m3 7h0m28 1h0m-17 4h0m0 6h0m-3-2h0m-5-5h0m-7-1h0m-1 6h0m-4-1h0m-5 4h0m-3-5h0m-3-2h0m-2 3h0m-5-1h0m-2-6h0m-1 9h0m-3 0h0m-5-4h0m0-3h0m-4-1h0m0 4h0m-3-5h0m-2 8h0m-1-5h0m-2 3h0m-2-6h0m0 11h0m-1-5h0m-2 4h0m0-8h0m-4-2h0m-1 4h0m-6-4h0m-2 6h0m-1-6h0m-1 4h0m-2-3h0m0 5h0m-3 0h0m-1-3h0m-1-3h0m-3 2h0m-2 2h0m-2-3h0m-2 4h0m-2-4h0m-3 8h0m-1-7h0m-1 4h0m-1 5h0m-3-1h0m-8-9h0m-1 6h0m-3-3h0m-3-1h0m-2-1h0m-2 3h0m-3-3h0m-3 0h0m-4 1h0m-10 1h0m-306 13h0m6 0h0m304-1h0m7 0h0m2-3h0m0 5h0m1 5h0m7-1h0m7-6h0m4 6h0m0-8h0m3 7h0m2 2h0m0-9h0m3 7h0m0-5h0m3-2h0m2 3h0m1 3h0m1 3h0m4 0h0m0-9h0m3 2h0m0 3h0m1 3h0m3-1h0m4-3h0m1-3h0m0 7h0m2-3h0m2-2h0m1 4h0m0-7h0m7 8h0m2-9h0m1 10h0m1-6h0m2-2h0m1 4h0m6-7h0m5 2h0m1 9h0m6-7h0m8 6h0m3-4h0m0 5h0m1-2h0m6-8h0m0 4h0m6 2h0m4 0h0m5 4h0m21-8h0m-4 11h0m-3 6h0m-16-4h0m-4 4h0m-2-7h0m-1 10h0m-3-2h0m-13-2h0m-2-5h0m-1 5h0m-3-4h0m-1 6h0m-4-2h0m-2 3h0m-3-3h0m-2 4h0m-4-10h0m-2 3h0m-1-4h0m0 7h0m-3-6h0m-1 3h0m-1 7h0m0-3h0m-2-5h0m-2 4h0m-1-3h0m-7-4h0m-4 2h0m-2 4h0m-1-3h0m-1-2h0m-1 3h0m-1 4h0m-1 3h0m-1-9h0m0 5h0m-5-1h0m0 5h0m-1-9h0m-3 2h0m0 5h0m-2-9h0m-1 8h0m-1-5h0m-2 3h0m-2-4h0m-2 3h0m-1-5h0m-2 11h0m-3-6h0m-2-2h0m-2 3h0m-3 2h0m0 3h0m-8-8h0m-3-1h0m-15 7h0m-309-6h0m352 9h0m13 0h0m7 0h0m5 0h0m18 0h0m3 2h0m3 0h0m7 0h0m3 0h0m3 0h0m4 0h0m3 1h0m3 3h0m1-5h0m2 5h0m13 3h0m6-7h0m9 1h0m-223 18h0m-4 0h0m-3 2h0m-4-1h0m-14-1h0m-8 0h0m-17-1h0m-2-3h0m12 10h0m2-3h0m2 3h0m3-2h0m10 0h0m5 0h0m7 1h0m6 0h0m3-2h0m3 3h0m-62 18h0"/>
<path stroke="#9fbfff" d="M216 131h0m21 11h0m-2-5h0m-2-2h0m-5 1h0m-4 1h0m0-4h0m-1 7h0m-2-5h0m-1 3h0m-3-1h0m-1-3h0m-4 4h0m-1-3h0m-2 7h0m0-6h0m0 3h0m-3 1h0m-1 3h0m0-6h0m-2-3h0m-1 9h0m0-3h0m-1-3h0m-1-5h0m-2 5h0m-4 5h0m-1-9h0m-3 10h0m-79 6h0m67 1h0m2 5h0m3-1h0m1-3h0m2-6h0m1 3h0m0 5h0m2-3h0m0 5h0m2-2h0m2-4h0m1 5h0m0-9h0m2 6h0m1-4h0m3 3h0m17-6h0m7 0h0m5 3h0m3 0h0m1 4h0m3-4h0m0 6h0m2-2h0m1-5h0m4 5h0m2-4h0m0 7h0m5 7h0m-6-4h0m0 3h0m0 3h0m-3-1h0m-1-4h0m-6 8h0m-34-10h0m-4 0h0m-7 2h0m0 5h0m-2 4h0m-1-11h0m-1 4h0m-2 7h0m0-10h0m-1 6h0m-2-2h0m-2-1h0m-73 13h0m77 3h0m7 3h0m1-11h0m2 4h0m1-4h0m1 5h0m9 5h0m24 0h0m10-2h0m2-3h0m3 2h0m3-6h0m-12 15h0m-2-3h0m-1 7h0m-2-7h0m-2 7h0m-1-4h0m-1 7h0m-2-5h0m0-5h0m-1 8h0m-2 2h0m-2-3h0m-4-2h0m-1 3h0m-3 1h0m-20-8h0m0 8h0m-3-6h0m-5 6h0m-4-2h0m-8 2h0m-33-2h0m-4-2h0m-3-2h0m-4 7h0m-11-2h0m-12 2h0m-3-3h0m-4 2h0m-10 1h0m-22 11h0m5 1h0m18-9h0m5 2h0m2 4h0m4-7h0m3 2h0m3 1h0m3-1h0m3-1h0m3-2h0m2 4h0m3 2h0m1-3h0m2 2h0m1-4h0m3 1h0m3 0h0m4 2h0m1-4h0m4 1h0m1 7h0m3-3h0m4-5h0m0 7h0m0-4h0m2 2h0m8-4h0m1 5h0m0 4h0m3-9h0m6 0h0m2 3h0m1-3h0m2 6h0m1-3h0m7 5h0m1-3h0m3-2h0m6-4h0m5 0h0m2 7h0m7-3h0m5-4h0m1 4h0m8-4h0m91 23h0m-7-3h0m-3-2h0m-4-1h0m-5 0h0m-106 6h0m-13-9h0m-41 0h0m-50-1h0m-2 2h0m-3-1h0m-4 1h0m-2-1h0m15 11h0m13 8h0m6-1h0m11-3h0m0 3h0m75 2h0m2-7h0m108 4h0m3-7h0m1 7h0m1 3h0m2-6h0m3 3h0m1-2h0m0 13h0m-1 3h0m-3-9h0m-2 3h0m-2 6h0m-1-8h0m-2 8h0m-4-2h0m-2 3h0m-104-5h0m-1-3h0m-46 3h0m-16 4h0m-25 3h0m40 10h0m3-3h0m68 3h0m3-1h0m6 1h0m61 0h0m3-4h0m1 4h0m7 0h0m2-6h0m3-4h0m0 9h0m0-4h0m4-5h0m0 4h0m4-4h0m-6 20h0m-6 0h0m-2-2h0m-3 2h0m0-5h0m-2 7h0m-1-4h0m-2 3h0m-2-7h0m-14 7h0m-2-7h0m-3 9h0m-2-4h0m-10 3h0m-10-4h0m-4 3h0m-10-5h0m-12-4h0m-5 0h0m-2 11h0m0-7h0m-3 6h0m0-5h0m-76 3h0m-24-1h0m-5 3h0m7 2h0m11 7h0m100-1h0m2-4h0m4-2h0m0 4h0m17 4h0m1-5h0m2 8h0m3-2h0m7-9h0m5 1h0m2 6h0m5-7h0m4 0h0m11 4h0m5-3h0m2 4h0m16-4h0m-9 20h0m-9 0h0m-30-1h0m-9-4h0m0 5h0m-6-8h0m-9 4h0m-3-1h0m-4 5h0m0-8h0m-44 7h0m-21-3h0m-53 5h0m-6-9h0m-3 1h0m17 11h0m118 5h0m9-5h0m3-1h0m-54 12h0"/>
<path stroke="#cedaeb" d="M363 208h0m-3-4h0m0 9h0m-3-4h0m-8 5h0m-3-10h0m-3 3h0m-14 6h0m19 7h0m4-2h0m3 5h0m1-7h0m1 4h0m1 6h0m4-8h0m7 14h0m-6 2h0m-3 3h0m-2-6h0m-2 5h0m-3-7h0m-1 5h0m-2-4h0m-3 4h0m-2 7h0m10 6h0m5-2h0m5-2h0m1 7h0m-6 4h0m-4 0h0m-4 4h0m-4-2h0m-20 15h0m9-2h0m9-1h0m4-4h0m2 8h0m2-7h0m9 1h0m4-1h0m-1 14h0m-4 2h0m-1 6h0m-8-1h0m-5 1h0m-1-5h0m-4-3h0m-1 5h0m-7 14h0m6 1h0m7-7h0m4-1h0m7 4h0m7-7h0m-7 22h0m-2-10h0m-12 3h0m-4 0h0m-5 4h0m-4 2h0m-6 14h0m2-9h0m1 5h0m2 2h0m0-4h0m1-5h0m4 1h0m3 3h0m3 3h0m2-4h0m4 4h0m7-7h0m-28 18h0m-4-3h0m-3 1h0m-4 4h0m-5 1h0m-154 1h0m-1 4h0m7 3h0m3 2h0m3 3h0m8 1h0m11-4h0m2 2h0m2-5h0m12 6h0m1-3h0m1-3h0m15 7h0m6 0h0m8-6h0m2 4h0m14 1h0m12-9h0m4 10h0m8-1h0m5-4h0m14 5h0m4 0h0m4 0h0m0-6h0m3 5h0m3-8h0m0 9h0m2-5h0m2-3h0m2-3h0m5 3h0m-11 18h0m-9-6h0m-2 6h0m-4-4h0m-3 2h0m-1-4h0m-3-3h0m0 10h0m0-4h0m-2-3h0m-2 6h0m0-9h0m-4 10h0m0-5h0m-6 4h0m-5-5h0m0 4h0m-2 3h0m-1-5h0m-3 2h0m-4-4h0m-1 4h0m-3-3h0m-1-3h0m0 6h0m-4-2h0m-6 0h0m-1 3h0m-4 2h0m-4 0h0m-1-3h0m-2-5h0m-3 8h0m-1-8h0m-2-3h0m0 8h0m-2-3h0m-2 4h0m-2 2h0m-4-8h0m-4 6h0m-5-4h0m-1 3h0m-3-8h0m-3 2h0m-3 1h0m0-3h0m-4 1h0m-2 8h0m0-5h0m-3 7h0m-1-5h0m-4 4h0m-1-4h0m-3 1h0m0-3h0m-3 1h0m-2-4h0m16 14h0m6 3h0m5-2h0m0 4h0m9-1h0m0-6h0m3 0h0m3 0h0m4 2h0m3-3h0m0 3h0m8 2h0m0-4h0m3 2h0m13-3h0m2 3h0m2 5h0m1-3h0m0-4h0m3-1h0m4 2h0m3-2h0m3 6h0m3 2h0m5-4h0m2-3h0m6 6h0m2-6h0m3 5h0m0-3h0m4 1h0m1-2h0m5-2h0m5 4h0m3 11h0m-4-1h0m-2 5h0m-1 4h0m-8-10h0m-7 8h0m-4-2h0m-8-5h0m-1 3h0m0 6h0m-15-5h0m-3 3h0m-3-2h0m-16-2h0m-9-2h0m-7-2h0"/>
<path stroke="#f5a081" d="M460 215h0m-9-2h0m-2 4h0m2 5h0m3-6h0m1 3h0m5 4h0m2 10h0m-4 1h0m-9 2h0m-1-7h0m-4-1h0m-1 4h0m-4-1h0m7 19h0m7-7h0m2 7h0m1-5h0m2 5h0m3-9h0m-3 17h0m-6 0h0m0-6h0m-3 4h0m-5 16h0m3-7h0m0 5h0m4-1h0m1-5h0m14 6h0m-2 8h0m-6 1h0m-2 7h0m-2-5h0m-2-4h0m-1 9h0m-1-5h0m-3-4h0m-3 4h0m-1 4h0m-10 6h0m10 4h0m2 3h0m1-10h0m2 4h0m2 6h0m3-3h0m0-5h0m4 3h0m-20 18h0m-4-6h0m-4 4h0m-3 13h0m7-8h0m2 8h0m6-9h0m8 1h0m-13 12h0m-6-2h0m-3 9h0m-2-4h0m-5 13h0m1-5h0m7 1h0m-9 10h0m-3 8h0m-3-3h0m-3 7h0m3 0h0"/>
<path stroke="#3f53c6" d="M500 72h0"/>
<path stroke="#f29274" d="M464 213h0m-7-1h0m4 7h0m4 1h0m3-3h0m1 4h0m2-3h0m3-2h0m3 21h0m-5 2h0m-4-1h0m-3-3h0m-5 3h0m-8-4h0m-3 6h0m1 8h0m8-6h0m2 3h0m3 5h0m3-9h0m3 5h0m3 0h0m-4 10h0m0-4h0m-3 5h0m-4 4h0m-1-6h0m-4 0h0m-1 6h0m2 3h0m4 4h0m0-4h0m0 17h0m-4 17h0m2-9h0m1 7h0m5-2h0m13 11h0m-9 3h0m-3 2h0m-8-1h0m-6 1h0m-13 13h0m6-11h0m1 5h0m1 8h0m-4 9h0m-1-3h0m-4 0h0m-1 4h0m-4-4h0m-2 4h0m-1-6h0m3 10h0m2 4h0m10-6h0m-14 13h0m-5-2h0m-1 6h0m-3 1h0m-3-2h0m-7 4h0"/>
<path stroke="#93b5fe" d="M266 44h0m-26 15h0m10-5h0m25 1h0m26 7h0m-4 2h0m-1 4h0m-9-8h0m-4 8h0m-32-7h0m-9 5h0m-6 1h0m-2-3h0m-4 4h0m-2-7h0m-2 5h0m-2 3h0m-7-6h0m-9 5h0m-30 14h0m17-8h0m7-2h0m0 10h0m11-7h0m2 7h0m12 0h0m4-6h0m4 1h0m4 2h0m3-5h0m7 3h0m1 4h0m18 0h0m14 13h0m-1-3h0m-4 0h0m-4-3h0m-7-3h0m-3 5h0m-16 4h0m-20-2h0m-18-7h0m0 7h0m-2-5h0m-5-2h0m-15 1h0m-3 0h0m-14 9h0m-12-6h0m-3 0h0m-6 1h0m-12 1h0m-7 4h0m-6 4h0m1 3h0m8 0h0m3-3h0m2 3h0m0 3h0m3-1h0m3-2h0m2 4h0m2-5h0m3 3h0m4-3h0m1-3h0m2 6h0m2-8h0m1 9h0m5-2h0m24 3h0m13-4h0m5-3h0m7 2h0m8 4h0m57-9h0m-42 14h0m-8 5h0m0 3h0m-1-6h0m-4 7h0m-1-10h0m-4 9h0m-2-5h0m-1 4h0m-4 0h0m-2-3h0m-2 3h0m-2-3h0m-2 4h0m-31-7h0m-5 7h0m-2-10h0m-4 6h0m-11 0h0m-2-4h0m0 7h0m-2-4h0m-22 0h0m0-3h0m-1 7h0m-6 13h0m3-1h0m1-3h0m2 2h0m1-6h0m1 9h0m8-7h0m2-3h0m2 9h0m7-1h0m0-6h0m6 2h0m1 3h0m2-3h0m0-4h0m3 7h0m5-8h0m0 10h0m32 0h0m7-4h0m1 4h0m2-8h0m0 3h0m0 3h0m2 3h0m2-4h0m0-6h0m1 10h0m2-3h0m1-8h0m0 11h0m0-7h0m2 3h0m1-5h0m3 0h0m4 2h0m2 5h0m1-3h0m0-4h0m3 2h0m1 6h0m1-9h0m8 1h0m14 17h0m-1 4h0m-4-2h0m-1-7h0m-2 6h0m-1 3h0m0-8h0m-6 4h0m-4 3h0m-3-2h0m0-7h0m-4-1h0m-29 8h0m-1-5h0m-13 0h0m-2 3h0m-2-3h0m-7 2h0m-3 0h0m-2-3h0m-8 5h0m-2-2h0m0 5h0m-1-9h0m-11 1h0m0 5h0m-1 4h0m-10-8h0m-4 2h0m-3 4h0m-2-3h0m-2 2h0m-2-7h0m-2 3h0m-2 5h0m0-7h0m-2 4h0m-3 4h0m-4 4h0m1-2h0m1 9h0m2-6h0m1 4h0m3-2h0m2 3h0m1-4h0m2-2h0m2 5h0m6-4h0m7-2h0m2 5h0m1-3h0m5 7h0m0-4h0m3-6h0m0 11h0m7-3h0m1-5h0m3 3h0m0-5h0m1 9h0m8-1h0m12-6h0m3-3h0m0 3h0m8-1h0m50 2h0m1 6h0m5-3h0m2-7h0m1 11h0m0-5h0m4-5h0m-4 19h0m-3-5h0m0-3h0m-1 10h0m-67-1h0m-2-9h0m0 6h0m-3 0h0m-1 3h0m-3-1h0m-2-3h0m0-4h0m-2 6h0m0 3h0m-4-7h0m-1 5h0m-1-3h0m-4-4h0m-9 10h0m-4-7h0m-2 2h0m-6 4h0m-2-7h0m-1 7h0m-4-3h0m-1-4h0m-2-3h0m-1 11h0m-2 0h0m-3-11h0m-1 8h0m-4 0h0m-2-3h0m-2-4h0m-1 10h0m0-6h0m-20-4h0m-2 0h0m-2 3h0m-3 1h0m-3 3h0m14 15h0m3-1h0m3-3h0m1 4h0m2-2h0m3-8h0m7 5h0m3 0h0m10 4h0m1-9h0m5 9h0m8-5h0m8 5h0m2-8h0m2 9h0m12-1h0m3 1h0m10-11h0m2 3h0m1 5h0m1 3h0m1-10h0m0 4h0m3-1h0m2 7h0m55 0h0m5-6h0m1 5h0m1-6h0m0 3h0m1-7h0m0 13h0m-3 2h0m-1 2h0m-3-1h0m-2 3h0m-4-4h0m-3 4h0m-44-1h0m-4 4h0m-2-7h0m-1 4h0m-9 0h0m-1 3h0m-3-6h0m0 3h0m-3-1h0m0-3h0m-4 1h0m-2-1h0m-1 4h0m-3-4h0m-2 4h0m-1-3h0m-1 6h0m-3-4h0m-3 3h0m-1-4h0m-2 2h0m-4 3h0m-6-1h0m-2-8h0m-2 8h0m-3-7h0m0 5h0m-2-2h0m-1 4h0m-1-8h0m-4 8h0m-3-4h0m-2-3h0m-5 5h0m0 4h0m-3-3h0m0-4h0m-1-3h0m-3 5h0m-1-4h0m-3 4h0m-2-4h0m-2 3h0m-2-2h0m-1 4h0m-2 2h0m-28 9h0m2 2h0m2-2h0m1 3h0m25-8h0m26-1h0m12 6h0m20-6h0m13 2h0m38-1h0m5-1h0m86 20h0m-74 13h0m1-4h0m2-1h0m2 5h0m3 0h0m11 2h0m55-4h0m2 2h0m5 1h0m0 8h0m-2-2h0m-1-4h0m-3 2h0m-8 4h0m0-4h0m-3 2h0m-2-2h0m-52-2h0m-3 3h0m-1 2h0m-1 4h0m-2-7h0m-3 8h0m-1-8h0m7 16h0m3-1h0m3 2h0m5 3h0m5-1h0m2-3h0m2-6h0m1 8h0m1-3h0m3-1h0m1 4h0m9-7h0m1 5h0m1 3h0m3-1h0m0-5h0m2 7h0m9-2h0m2-4h0m1-4h0m0 11h0m2-8h0m9-3h0m1 7h0m2-5h0m-7 12h0m-17-1h0m-4 5h0m-2-2h0m-4 6h0m-1-6h0m-3 0h0m-1 4h0m-16-3h0m-2-3h0m-3 7h0m-1-3h0m-1-3h0m31 13h0"/>
<path stroke="#ead5c9" d="M398 208h0m-5-3h0m-3 8h0m9 23h0m-3 12h0m0-8h0m-8 25h0m10 3h0m2 4h0m3-4h0m4 1h0m-13 8h0m-1 16h0m4 2h0m0 9h0m-6 1h0m-1 5h0m-5-6h0m-17 7h0m13 4h0m3 4h0m-3 10h0m-10-4h0m-3 5h0m-15 9h0m4 2h0m2 4h0m2-3h0m10-2h0m-4 17h0m-2-8h0m-5 4h0m-1-3h0m-9-2h0m-5 4h0m-11 6h0m-9 11h0m3-3h0m2 4h0m2-3h0m2 2h0m2-3h0m2-2h0m0 4h0m4-8h0m1 11h0m0-3h0m1-6h0m2 3h0m0 4h0m3-3h0m1-6h0m0 9h0m3-8h0m3 4h0m3 3h0m4-6h0m5 6h0m0 4h0m-9 2h0m-7 4h0m-3-2h0m-2 4h0m-2-3h0m-1-3h0m0 7h0m-5 1h0m-1-4h0m-1-3h0m-3 1h0m-8 3h0m-1 4h0m-4-4h0m7 5h0"/>
<path stroke="#abc8fd" d="M228 141h0m-9 0h0m-6 2h0m-14 0h0m-1 10h0m2-6h0m3 5h0m0 3h0m1-8h0m2 6h0m5 1h0m1-8h0m2 2h0m0 3h0m2 2h0m1-4h0m3-4h0m5 10h0m1-10h0m1 8h0m1 2h0m2-3h0m1-8h0m1 11h0m7 1h0m-10 10h0m-3 0h0m-10-8h0m-10-1h0m-5 2h0m-4 5h0m0-5h0m-3-2h0m-1 6h0m-8 0h0m13 7h0m20 6h0m2-4h0m1 5h0m3-2h0m1-5h0m2 4h0m2-4h0m1 4h0m1-6h0m-3 16h0m-9 0h0m-3-4h0m-1 4h0m-7 3h0m-120 10h0m1 5h0m7 1h0m7-3h0m13 1h0m13 0h0m4 0h0m8-7h0m1 7h0m5-1h0m3-6h0m1 7h0m0-3h0m7-1h0m6 6h0m6 0h0m3-4h0m0 4h0m7-3h0m10 2h0m7-1h0m1-4h0m13-3h0m115 17h0m-11 1h0m-4 1h0m-5-1h0m-4 0h0m-112-2h0m0-3h0m-3 7h0m0-3h0m-3-7h0m0 10h0m-2-3h0m-2-5h0m-1 3h0m-2 3h0m-2 2h0m-3-1h0m-6-3h0m-1-3h0m-5-2h0m-4 8h0m-3 1h0m0-5h0m0-5h0m-3 6h0m-2-3h0m-4-2h0m-3 3h0m0 4h0m-1 3h0m-3-2h0m0-4h0m0-3h0m-3-1h0m0 8h0m-1-4h0m-3-5h0m-1 8h0m-3-3h0m-4-1h0m0 5h0m-3-6h0m-1 6h0m-1-3h0m-2-3h0m0 8h0m-1-11h0m-3 2h0m-7 3h0m-3 4h0m-1-4h0m-4-2h0m-2-2h0m-2 4h0m-1 5h0m-3-2h0m0-6h0m-2 8h0m0-5h0m-11 4h0m-4-4h0m14 10h0m4-3h0m0 4h0m8-1h0m3 0h0m3-2h0m0 8h0m0-4h0m3 2h0m2 2h0m1-7h0m9-2h0m1 3h0m4 0h0m0-3h0m3 1h0m2 9h0m2-5h0m2 2h0m0-5h0m4-2h0m1 5h0m4 5h0m4 0h0m5-4h0m1 4h0m1-7h0m5 3h0m2 5h0m7-10h0m2 7h0m1-4h0m0-4h0m1 10h0m8 1h0m8-10h0m111 1h0m6-1h0m7 6h0m1 3h0m2-5h0m2-3h0m-1 20h0m-1-8h0m-4-1h0m-4 2h0m-3 4h0m-119 3h0m-1-6h0m-3-1h0m-3-1h0m-6 6h0m0-3h0m-4 0h0m0 3h0m-7-6h0m-4 4h0m-3-1h0m-1-3h0m-2 7h0m-1-3h0m0-6h0m-3 3h0m-1 3h0m-3-5h0m-3 10h0m-2-10h0m-1 4h0m0 6h0m-11-5h0m-3-3h0m-2 7h0m-1-4h0m-3 5h0m-9 0h0m-4 0h0m-5-4h0m-2-5h0m0 8h0m-3-10h0m4 15h0m3 0h0m0 4h0m3-2h0m1-3h0m2 3h0m4 1h0m0 4h0m1-8h0m2 9h0m1-6h0m0 3h0m9-8h0m2 6h0m3-1h0m3 3h0m1 3h0m1-7h0m3 0h0m0 6h0m8-10h0m1 9h0m0-4h0m2-2h0m2-3h0m5 3h0m12 3h0m1 5h0m3-9h0m0 3h0m0 6h0m4-1h0m8-9h0m1 3h0m3 6h0m0-7h0m1 2h0m0-5h0m19 10h0m2-3h0m94 1h0m1-4h0m2 7h0m-10 11h0m-19 0h0m-71-3h0m-17 1h0m-2-6h0m-6 6h0m-6-2h0m-6-3h0m-1 4h0m-24-7h0m-2 6h0m-5 0h0m-2 4h0m-2-6h0m0 4h0m-3-6h0m-5 6h0m-1-3h0m-7 3h0m-3 2h0m-3-2h0m-1-3h0m-7 6h0m-1-8h0m-3-1h0m-3 21h0m0-5h0m2-4h0m7 9h0m2-3h0m2 2h0m1-10h0m1 4h0m2 7h0m0-10h0m1 4h0m2-5h0m3 3h0m1-3h0m0 11h0m1-5h0m4 2h0m4 1h0m1-5h0m5 3h0m9-2h0m2 4h0m1-4h0m3 0h0m3-3h0m2 6h0m12 1h0m2-9h0m2 4h0m2-4h0m1 6h0m2-6h0m1 3h0m0 5h0m5-8h0m1 3h0m5-3h0m1 3h0m0 6h0m6-4h0m3 0h0m2-3h0m4 1h0m1 5h0m2-6h0m5 8h0m3-8h0m2 9h0m3-6h0m15 3h0m9-1h0m10-3h0m25 4h0m3-2h0m2 4h0m5-7h0m1 4h0m1 4h0m1-10h0m2 6h0m2 3h0m0-7h0m2 2h0m1-5h0m5 4h0m3 19h0m-8-9h0m-1 3h0m-3-1h0m-3 7h0m-2-3h0m-2 3h0m-2-10h0m-4 8h0m0-7h0m-3 4h0m0-6h0m-1 11h0m-3-4h0m-1 3h0m-10-8h0m0 7h0m-2-3h0m-3 3h0m-9-1h0m-1 3h0m-1-11h0m-6 4h0m-9-2h0m-10 4h0m-2-4h0m-1 5h0m-2 3h0m-1-6h0m-3 5h0m-1-3h0m-2 5h0m-1-11h0m0 7h0m-2-3h0m-2-4h0m-13 7h0m-2-7h0m0 10h0m-3-2h0m-1-2h0m0-5h0m-3 8h0m-1-9h0m-5 5h0m-3 5h0m-7-1h0m-1-3h0m-2-6h0m-3 9h0m-2 2h0m-1-10h0m-1 7h0m-2 3h0m-1-7h0m0 4h0m-3 2h0m-1-8h0m-3 5h0m-3-1h0m-3 2h0m-1-6h0m0 3h0m-2 4h0m-1-3h0m-3-1h0m-1 5h0m-1-8h0m-4-1h0m-3 1h0m-4 0h0m-5 4h0m0-6h0m-1 9h0m-1-6h0m-3 4h0m-1 4h0m-2-10h0m-1 4h0m-4-3h0m0 5h0m-1 3h0m-2-5h0m8 12h0m0-4h0m3 3h0m3 6h0m3-1h0m0-9h0m3 9h0m2-5h0m2-4h0m2 6h0m1-3h0m1 8h0m1-5h0m1-5h0m1 3h0m0 6h0m3-9h0m0 5h0m2-2h0m3-3h0m2 3h0m11-3h0m3 2h0m2 3h0m2 3h0m2-7h0m3 9h0m1-11h0m1 6h0m2-6h0m9 3h0m0-3h0m3 1h0m3 1h0m3-1h0m2 5h0m3-3h0m1 4h0m2-7h0m4 9h0m1-6h0m11-1h0m3 0h0m4 2h0m0 3h0m3-7h0m2 3h0m0 5h0m4 1h0m1-4h0m4 4h0m2-6h0m1 5h0m2-2h0m6-1h0m2 1h0m6 1h0m1-7h0m0 11h0m3-5h0m1-3h0m0 7h0m3-9h0m11 6h0m3-4h0m5 2h0m3-5h0m14 0h0m6 7h0m1 7h0m-7 3h0m-5-1h0m-6 4h0m-3 3h0m0-8h0m0 3h0m-5 1h0m-3-5h0m-7 5h0m-1-4h0m-1 7h0m-4-8h0m-1 4h0m-3-5h0m0 4h0m-8-4h0m0 7h0m-3-1h0m-14 0h0m-1-6h0m-1 3h0m-1 5h0m-1-7h0m-2 4h0m-2-6h0m-1 6h0m-7-4h0m-14 2h0m-2-3h0m0 5h0m-3-3h0m-3 1h0m-7-1h0m-4-1h0m-2 3h0m-18-3h0m0 7h0m-4-8h0m-4 4h0m-2-4h0m-1 7h0m-6-3h0m-8 3h0m-4-6h0m-2 9h0m-13-11h0m41 12h0m14 9h0m6-4h0m1-5h0m15 1h0m8 1h0m3 4h0m9-3h0m17 0h0m14-1h0m4 0h0m4-1h0m16 3h0m26-4h0m-19 18h0"/>
<path stroke="#f7ad90" d="M446 213h0m-4 0h0m-4-3h0m-5 0h0m-4 1h0m3 9h0m4-1h0m3-3h0m13 11h0m3-4h0m-20 7h0m0 4h0m-4 2h0m-6 7h0m4 2h0m4 6h0m2-8h0m3 8h0m1-8h0m3-3h0m2 4h0m10-4h0m-8 21h0m-4 3h0m5 21h0m-5-8h0m-6 4h0m-1-4h0m-1 9h0m-2-6h0m-2-4h0m-1 8h0m-5-8h0m3 23h0m2-6h0m6 4h0m4-8h0m0 5h0m1 5h0m-8 1h0m-3 3h0m-5 1h0m-3-3h0m-3 21h0m0-6h0m3 3h0m1 13h0m-1-7h0m-7 1h0m-4 3h0m5 21h0m-11 8h0m-7 7h0m1 3h0m1-7h0m4 4h0m3-2h0"/>
<path stroke="#d8dce2" d="M364 203h0m5 0h0m14 2h0m-1 6h0m-4 3h0m-1-8h0m-4 5h0m-8 4h0m-12-10h0m8 18h0m5 4h0m0-4h0m4-3h0m1 4h0m3-6h0m6 15h0m-19-4h0m-10 9h0m18 4h0m8 0h0m3 20h0m-3-9h0m-5 10h0m0-8h0m-4 3h0m-7 1h0m-6 2h0m3 5h0m8 8h0m5-7h0m1 8h0m5-9h0m0 9h0m-25 4h0m-8 16h0m11 1h0m1-7h0m7 6h0m13 2h0m-5 10h0m0-4h0m-6-2h0m-5 5h0m-4 1h0m-2-3h0m-5 6h0m-5 1h0m-15 12h0m17 0h0m7-8h0m7 0h0m3-3h0m-16 21h0m-2-7h0m-3 3h0m-1-4h0m-3 3h0m0 4h0m-4 2h0m-4-1h0m-7-3h0m-4 5h0m-125 10h0m112-3h0m5 5h0m5-4h0m2 3h0m11-2h0m4-4h0m5-1h0m4 2h0m11 5h0m-23 2h0m-5 10h0m-8-2h0m-1-7h0m-3 9h0m-7-7h0m-3 4h0m-1-4h0m-2 4h0m-8 2h0m-24 2h0m-22-2h0m-8-7h0m-9 7h0m-25 2h0m-13 3h0m11 5h0m4-3h0m1 6h0m3-6h0m1 3h0m0 4h0m3-6h0m22 3h0m4-6h0m3 1h0m1 4h0m7 4h0m1-3h0m4-1h0m3-2h0m7-3h0m4 6h0m3 3h0m2-8h0m3-1h0m2 8h0m4 1h0m4-3h0m10-8h0m1 8h0m2-7h0m1 4h0m1 6h0m3-4h0m0-3h0m4 2h0m0-6h0m3 3h0m0 8h0m4-11h0m-6 15h0m0 7h0m-3-10h0m-1 10h0m-8-4h0m0 4h0m-4-9h0m-8 8h0m-2-5h0m-10 6h0m-2-3h0m-3 3h0m-3-2h0m-4 2h0m-4 0h0m-3 0h0m-6-6h0m-1-3h0m-7 7h0m-1-3h0m-3-1h0m-4 2h0m-9-3h0m-8-3h0m-1 3h0m56 9h0m6 0h0m5 1h0m4 0h0m4 1h0m4 1h0m3-2h0m5 1h0m7-1h0"/>
<path stroke="#b9d0f9" d="M228 149h0m2 14h0m-3-3h0m-15 6h0m0-3h0m-2-6h0m-6 2h0m-55 44h0m45-1h0m134 5h0m-2 7h0m-2-7h0m-2 7h0m-1-5h0m-2 3h0m-135-3h0m-9-2h0m-1 4h0m-4 0h0m-2 2h0m-5 0h0m-1-4h0m-3 1h0m-1-3h0m-8 6h0m-6-3h0m-20-4h0m-28 5h0m-19 3h0m14 10h0m26-1h0m7 0h0m14 4h0m5-4h0m3-1h0m2 2h0m1-7h0m4 6h0m1 4h0m1-8h0m18 3h0m0-3h0m2 7h0m12-4h0m123-5h0m6 4h0m9 2h0m9 4h0m6 9h0m-11-1h0m-147-6h0m-11 1h0m-5-1h0m-4 0h0m-8 2h0m-6 0h0m-4 6h0m-4-1h0m-5 0h0m-11 7h0m3 5h0m11-3h0m0-3h0m18 1h0m18 4h0m4 3h0m5-2h0m149 10h0m-7 2h0m-6 0h0m-1-3h0m-2 2h0m-17-2h0m-114 1h0m-7-3h0m-2 7h0m-1-10h0m-1 4h0m-3-1h0m-2 3h0m0 3h0m-7-5h0m-22-1h0m-5-2h0m-16 7h0m-14 1h0m0-5h0m-5-4h0m-3 5h0m34 17h0m11-9h0m7 9h0m3-5h0m2 6h0m152-9h0m7 6h0m2-3h0m2 3h0m1-7h0m3 4h0m13-2h0m2-3h0m-18 19h0m-6-7h0m-59 11h0m-41-10h0m-50 3h0m-2 2h0m-14-6h0m0 4h0m-18 6h0m-21-2h0m-4 5h0m8 6h0m3-1h0m2-2h0m8 5h0m25-3h0m3 3h0m3 0h0m2-7h0m4 4h0m6-2h0m5-3h0m12 4h0m11 0h0m2-5h0m3 7h0m35-5h0m8 8h0m3 0h0m14-9h0m1 10h0m1-3h0m12-6h0m8-1h0m9 10h0m7-7h0m3-3h0m0 3h0m18 4h0m6-4h0m7 8h0m-27 9h0m-7 1h0m-3-8h0m-3 0h0m-16 7h0m-1-6h0m-6 1h0m0 4h0m-9-2h0m-3 5h0m-7-6h0m-1 4h0m-1-6h0m-4 1h0m0 7h0m-22-1h0m-4-1h0m-5-4h0m-19 5h0m-1-3h0m-3 1h0m-8-2h0m-1 3h0m-12 0h0m-4 1h0m-3-2h0m0-4h0m-4 2h0m-3 3h0m-3 0h0m-4-6h0m0 8h0m-2-4h0m-6 4h0m-7-7h0m-3 1h0m-2-2h0m-1 5h0m-2-3h0m-1 3h0m-2-5h0m-2-2h0m12 13h0m2-2h0m1 4h0m6 3h0m0-5h0m0 9h0m17-4h0m1-4h0m2 3h0m1-5h0m2 1h0m0 7h0m2-3h0m2-6h0m0 10h0m2-5h0m1-4h0m2 2h0m1 3h0m3 5h0m4-1h0m0-8h0m5-1h0m6 7h0m4 2h0m0-7h0m3 1h0m1 4h0m7 1h0m1-4h0m5 2h0m3 2h0m3 2h0m1-10h0m3-1h0m1 4h0m4-3h0m6 4h0m1 5h0m2-5h0m3 6h0m3-4h0m4 0h0m2 4h0m3 0h0m1-4h0m3 1h0m2-4h0m2 4h0m12 3h0m4 0h0m0-3h0m2-3h0m1 6h0m2-4h0m1-5h0m0 9h0m1-6h0m2 4h0m1-4h0m1-4h0m1 8h0m1-5h0m3-2h0m2 4h0m6 4h0m0-5h0m1-5h0m5 5h0m3-3h0m-15 15h0m-1-4h0m-5-1h0m-15 3h0m-1 5h0m-2-3h0m-1-4h0m-8 9h0m-1-3h0m-3 0h0m-3-2h0m-2-3h0m-1 5h0m-2 3h0m-2-6h0m-1-3h0m-8 1h0m-11 9h0m-6-7h0m-3 2h0m-12-4h0m-3-2h0m-7 1h0m-2 2h0m-2 3h0m-1-6h0m0 9h0m-1-6h0m-6 0h0m-2 2h0m-3-4h0m-1 4h0m-7 5h0m0-9h0m-4 0h0m0 4h0m-8-2h0m-4 2h0m-5 1h0m-4-4h0m17 10h0m83 1h0m13 2h0m24-3h0m10 7h0"/>
<path stroke="#f0cdbb" d="M412 210h0m-2 4h0m-6-1h0m-3-8h0m-4 14h0m6-1h0m6 17h0m-3-4h0m-4-3h0m-5 2h0m-2 3h0m6 13h0m4 1h0m4 14h0m-6-8h0m3 21h0m6-4h0m-4 11h0m-5-2h0m-1 20h0m1-5h0m3 8h0m-3 3h0m-12 14h0m3-7h0m6 8h0m-14 11h0m-23 14h0m5 1h0m8-4h0m2 3h0m2-9h0m4 2h0m3 3h0m-9 10h0m-6 1h0m-2-3h0m-3 4h0m-4 1h0m-2 5h0m-4-1h0m-2-7h0m-2 7h0m-1 8h0m2 5h0m0-3h0m7-3h0m5-1h0m6 6h0m1 4h0m-5 1h0m-6 1h0m-2 3h0m-19-1h0"/>
<path stroke="#e67259" d="M477 218h0m7 7h0m3-2h0m0-3h0m2 7h0m7 0h0m10 11h0m-6 1h0m-1-8h0m-4 2h0m-1 4h0m-2-8h0m-2 8h0m-1-7h0m-2 8h0m-3-9h0m-4-1h0m19 21h0m-6 4h0m-5-1h0m4 21h0m7 2h0m4 1h0m-4 3h0m-1 8h0m-4-2h0m-3 0h0m-1-4h0m-2-2h0m-1 7h0m-5-2h0m2 14h0m5-3h0m4-7h0m6 3h0m-13 19h0m-4 1h0m-5-3h0m-8 8h0m1 4h0m16-7h0m-6 12h0m-4 0h0m-3-1h0m-7 7h0m-2 4h0m-2-3h0m-8-3h0m-8 14h0m5-1h0m2-5h0m4-1h0"/>
<path stroke="#4a63d3" d="M433 50h0m2 4h0m74 17h0m-2-2h0m-3-1h0m-1 3h0m-2-5h0m-1 3h0m-3 1h0m-1-4h0m-2-3h0m-1 6h0m-2-5h0m-2-3h0m-2 4h0m-1-3h0m-3-1h0m-1 3h0m-7-1h0m-4 0h0m0-3h0m-5 1h0m-3-1h0m-6 11h0m-2-11h0m-6 1h0m14 15h0m2 1h0m0 4h0m3-1h0m1 3h0m2 0h0m33-9h0m2-2h0m1 2h0m3 0h0m1 3h0m1-3h0m3 3h0m-34 18h0m-5-4h0m-6-5h0m13 13h0m1-3h0m1 5h0m1-3h0m1 6h0m2-2h0m1 2h0m42 0h0m4 2h0m-3 10h0m-4-5h0m-3 20h0m21-6h0m6 13h0m-4 3h0m-2-8h0m-1 6h0m-40 2h0m7 13h0m15-7h0m9 8h0m3-3h0m3 1h0m3-1h0m1 3h0m1-11h0m2 9h0m1-6h0m2 8h0m6 2h0m0 4h0m-4 6h0m-1-3h0m-4-5h0m-4 1h0m-37 4h0m-8-1h0m-17-2h0m63 14h0m3-6h0m1 8h0m0-5h0m3 1h0m1 6h0m3-1h0m1-2h0m1-4h0m-3 10h0m-2 6h0m-1-6h0m-3 8h0m0-6h0m-1-3h0m-3 4h0m-1 5h0m-35-8h0m-14 10h0m22 3h0m6 5h0m2-2h0m11-4h0m0 4h0m3 4h0m2-2h0m5-3h0m0 4h0m4-6h0m-8 10h0m-15 9h0"/>
</g>
</g>
<defs><linearGradient id="cw" x1="0" y1="0" x2="0" y2="1"><stop offset="0.0000" stop-color="#b40426"/><stop offset="0.0625" stop-color="#ca3b37"/><stop offset="0.1250" stop-color="#dd5f4b"/><stop offset="0.1875" stop-color="#eb7d62"/><stop offset="0.2500" stop-color="#f4987a"/><stop offset="0.3125" stop-color="#f7b093"/><stop offset="0.3750" stop-color="#f5c4ac"/><stop offset="0.4375" stop-color="#ecd3c5"/><stop offset="0.5000" stop-color="#dddcdc"/><stop offset="0.5625" stop-color="#ccd9ed"/><stop offset="0.6250" stop-color="#b9d0f9"/><stop offset="0.6875" stop-color="#a3c2fe"/><stop offset="0.7500" stop-color="#8db0fe"/><stop offset="0.8125" stop-color="#779af7"/><stop offset="0.8750" stop-color="#6282ea"/><stop offset="0.9375" stop-color="#4e68d8"/><stop offset="1.0000" stop-color="#3b4cc0"/></linearGradient></defs>
<rect x="411.0" y="15.8" width="10.0" height="196.0" fill="url(#cw)"/>
<rect x="411.0" y="15.8" width="0.7" height="196.0" fill="#000" fill-opacity="0.22"/>
<path d="M421.0 15.8h1.3" stroke="#cfcfcf" stroke-width="0.8"/>
<text x="424.6" y="20.4" class="tk" textLength="5.9" lengthAdjust="spacingAndGlyphs">5</text>
<path d="M421.0 56.2h1.3" stroke="#cfcfcf" stroke-width="0.8"/>
<text x="424.6" y="60.8" class="tk" textLength="5.9" lengthAdjust="spacingAndGlyphs">4</text>
<path d="M421.0 96.8h1.3" stroke="#cfcfcf" stroke-width="0.8"/>
<text x="424.6" y="101.4" class="tk" textLength="5.9" lengthAdjust="spacingAndGlyphs">3</text>
<path d="M421.0 137.5h1.3" stroke="#cfcfcf" stroke-width="0.8"/>
<text x="424.6" y="142.1" class="tk" textLength="5.9" lengthAdjust="spacingAndGlyphs">2</text>
<path d="M421.0 177.8h1.3" stroke="#cfcfcf" stroke-width="0.8"/>
<text x="424.6" y="182.4" class="tk" textLength="5.9" lengthAdjust="spacingAndGlyphs">1</text>
<rect x="749.0" y="15.0" width="10.0" height="196.8" fill="url(#cw)"/>
<rect x="749.0" y="15.0" width="0.7" height="196.8" fill="#000" fill-opacity="0.22"/>
<path d="M759.0 37.5h1.3" stroke="#cfcfcf" stroke-width="0.8"/>
<text x="762.6" y="42.1" class="tk" textLength="5.9" lengthAdjust="spacingAndGlyphs">5</text>
<path d="M759.0 75.9h1.3" stroke="#cfcfcf" stroke-width="0.8"/>
<text x="762.6" y="80.5" class="tk" textLength="5.9" lengthAdjust="spacingAndGlyphs">4</text>
<path d="M759.0 114.6h1.3" stroke="#cfcfcf" stroke-width="0.8"/>
<text x="762.6" y="119.2" class="tk" textLength="5.9" lengthAdjust="spacingAndGlyphs">3</text>
<path d="M759.0 153.3h1.3" stroke="#cfcfcf" stroke-width="0.8"/>
<text x="762.6" y="157.9" class="tk" textLength="5.9" lengthAdjust="spacingAndGlyphs">2</text>
<path d="M759.0 192.4h1.3" stroke="#cfcfcf" stroke-width="0.8"/>
<text x="762.6" y="197.0" class="tk" textLength="5.9" lengthAdjust="spacingAndGlyphs">1</text>
<rect x="1087.0" y="15.0" width="10.0" height="196.8" fill="url(#cw)"/>
<rect x="1087.0" y="15.0" width="0.7" height="196.8" fill="#000" fill-opacity="0.22"/>
<path d="M1097.0 15.8h1.3" stroke="#cfcfcf" stroke-width="0.8"/>
<text x="1100.6" y="20.4" class="tk" textLength="5.9" lengthAdjust="spacingAndGlyphs">7</text>
<path d="M1097.0 41.5h1.3" stroke="#cfcfcf" stroke-width="0.8"/>
<text x="1100.6" y="46.1" class="tk" textLength="5.9" lengthAdjust="spacingAndGlyphs">6</text>
<path d="M1097.0 67.6h1.3" stroke="#cfcfcf" stroke-width="0.8"/>
<text x="1100.6" y="72.2" class="tk" textLength="5.9" lengthAdjust="spacingAndGlyphs">5</text>
<path d="M1097.0 93.6h1.3" stroke="#cfcfcf" stroke-width="0.8"/>
<text x="1100.6" y="98.2" class="tk" textLength="5.9" lengthAdjust="spacingAndGlyphs">4</text>
<path d="M1097.0 119.3h1.3" stroke="#cfcfcf" stroke-width="0.8"/>
<text x="1100.6" y="123.9" class="tk" textLength="5.9" lengthAdjust="spacingAndGlyphs">3</text>
<path d="M1097.0 145.4h1.3" stroke="#cfcfcf" stroke-width="0.8"/>
<text x="1100.6" y="150.0" class="tk" textLength="5.9" lengthAdjust="spacingAndGlyphs">2</text>
<path d="M1097.0 171.5h1.3" stroke="#cfcfcf" stroke-width="0.8"/>
<text x="1100.6" y="176.1" class="tk" textLength="5.9" lengthAdjust="spacingAndGlyphs">1</text>
<path d="M1097.0 197.6h1.3" stroke="#cfcfcf" stroke-width="0.8"/>
<text x="1100.6" y="202.2" class="tk" textLength="5.9" lengthAdjust="spacingAndGlyphs">0</text>
<rect x="411.0" y="286.4" width="10.0" height="196.2" fill="url(#cw)"/>
<rect x="411.0" y="286.4" width="0.7" height="196.2" fill="#000" fill-opacity="0.22"/>
<path d="M421.0 287.5h1.3" stroke="#cfcfcf" stroke-width="0.8"/>
<text x="424.6" y="292.1" class="tk" textLength="5.9" lengthAdjust="spacingAndGlyphs">6</text>
<path d="M421.0 320.7h1.3" stroke="#cfcfcf" stroke-width="0.8"/>
<text x="424.6" y="325.3" class="tk" textLength="5.9" lengthAdjust="spacingAndGlyphs">5</text>
<path d="M421.0 354.0h1.3" stroke="#cfcfcf" stroke-width="0.8"/>
<text x="424.6" y="358.6" class="tk" textLength="5.9" lengthAdjust="spacingAndGlyphs">4</text>
<path d="M421.0 387.2h1.3" stroke="#cfcfcf" stroke-width="0.8"/>
<text x="424.6" y="391.8" class="tk" textLength="5.9" lengthAdjust="spacingAndGlyphs">3</text>
<path d="M421.0 420.4h1.3" stroke="#cfcfcf" stroke-width="0.8"/>
<text x="424.6" y="425.0" class="tk" textLength="5.9" lengthAdjust="spacingAndGlyphs">2</text>
<path d="M421.0 453.6h1.3" stroke="#cfcfcf" stroke-width="0.8"/>
<text x="424.6" y="458.2" class="tk" textLength="5.9" lengthAdjust="spacingAndGlyphs">1</text>
<rect x="738.5" y="291.7" width="9.5" height="190.1" fill="url(#cw)" stroke="#9a9a9a" stroke-width="0.8"/>
<path d="M748.0 296.5h1.6" stroke="#333" stroke-width="0.7"/>
<text x="751.4" y="300.6" class="tk2" textLength="18" lengthAdjust="spacingAndGlyphs">4.0</text>
<path d="M748.0 322.2h1.6" stroke="#333" stroke-width="0.7"/>
<text x="751.4" y="326.3" class="tk2" textLength="18" lengthAdjust="spacingAndGlyphs">3.5</text>
<path d="M748.0 347.8h1.6" stroke="#333" stroke-width="0.7"/>
<text x="751.4" y="351.9" class="tk2" textLength="18" lengthAdjust="spacingAndGlyphs">3.0</text>
<path d="M748.0 373.5h1.6" stroke="#333" stroke-width="0.7"/>
<text x="751.4" y="377.6" class="tk2" textLength="18" lengthAdjust="spacingAndGlyphs">2.5</text>
<path d="M748.0 399.2h1.6" stroke="#333" stroke-width="0.7"/>
<text x="751.4" y="403.3" class="tk2" textLength="18" lengthAdjust="spacingAndGlyphs">2.0</text>
<path d="M748.0 424.9h1.6" stroke="#333" stroke-width="0.7"/>
<text x="751.4" y="429.0" class="tk2" textLength="18" lengthAdjust="spacingAndGlyphs">1.5</text>
<path d="M748.0 450.6h1.6" stroke="#333" stroke-width="0.7"/>
<text x="751.4" y="454.7" class="tk2" textLength="18" lengthAdjust="spacingAndGlyphs">1.0</text>
<path d="M748.0 476.2h1.6" stroke="#333" stroke-width="0.7"/>
<text x="751.4" y="480.3" class="tk2" textLength="18" lengthAdjust="spacingAndGlyphs">0.5</text>
<rect x="1087.0" y="285.8" width="10.0" height="196.8" fill="url(#cw)"/>
<rect x="1087.0" y="285.8" width="0.7" height="196.8" fill="#000" fill-opacity="0.22"/>
<path d="M1097.0 317.8h1.3" stroke="#cfcfcf" stroke-width="0.8"/>
<text x="1100.6" y="322.4" class="tk" textLength="5.9" lengthAdjust="spacingAndGlyphs">5</text>
<path d="M1097.0 353.0h1.3" stroke="#cfcfcf" stroke-width="0.8"/>
<text x="1100.6" y="357.6" class="tk" textLength="5.9" lengthAdjust="spacingAndGlyphs">4</text>
<path d="M1097.0 387.7h1.3" stroke="#cfcfcf" stroke-width="0.8"/>
<text x="1100.6" y="392.3" class="tk" textLength="5.9" lengthAdjust="spacingAndGlyphs">3</text>
<path d="M1097.0 422.9h1.3" stroke="#cfcfcf" stroke-width="0.8"/>
<text x="1100.6" y="427.5" class="tk" textLength="5.9" lengthAdjust="spacingAndGlyphs">2</text>
<path d="M1097.0 458.1h1.3" stroke="#cfcfcf" stroke-width="0.8"/>
<text x="1100.6" y="462.7" class="tk" textLength="5.9" lengthAdjust="spacingAndGlyphs">1</text>
</svg>
<div class="sc" id="s0" style="left:224px;top:221.7px;">(a)<i></i> <b>True</b></div>
<div class="sc" id="s1" style="left:552px;top:221.7px;">(b)<i></i> <b>GBDT</b></div>
<div class="sc" id="s2" style="left:897.2px;top:221.7px;">(c)<i></i> <b>GNN</b></div>
<div class="sc" id="s3" style="left:197.8px;top:492.7px;">(d)<i></i> <b>Res-GNN</b></div>
<div class="sc" id="s4" style="left:500.2px;top:492.7px;word-spacing:-0.5px;">(e)<i></i> <b>GBDT</b> in <b>BGNN</b></div>
<div class="sc" id="s5" style="left:890.6px;top:492.7px;">(f)<i></i> <b>BGNN</b></div>
<div class="cap" id="c0" style="top:559.7px;word-spacing:-1.34px;">Figure 4:<u></u> <b>House</b> dataset.<u></u> True labels and predictions by trained <b>GBDT</b>, <b>GNN</b>, <b>Res-GNN</b> and <b>BGNN</b></div>
<div class="cap" id="c1" style="top:589.8px;word-spacing:-0.18px;">models (training points only).<u></u> Point coordinates correspond to <b>BGNN</b> learned representations in the</div>
<div class="cap" id="c2" style="top:620px;word-spacing:0.08px;">first hidden layer.<u></u> Color represents the final predictions made by each model.</div>
</body></html>
